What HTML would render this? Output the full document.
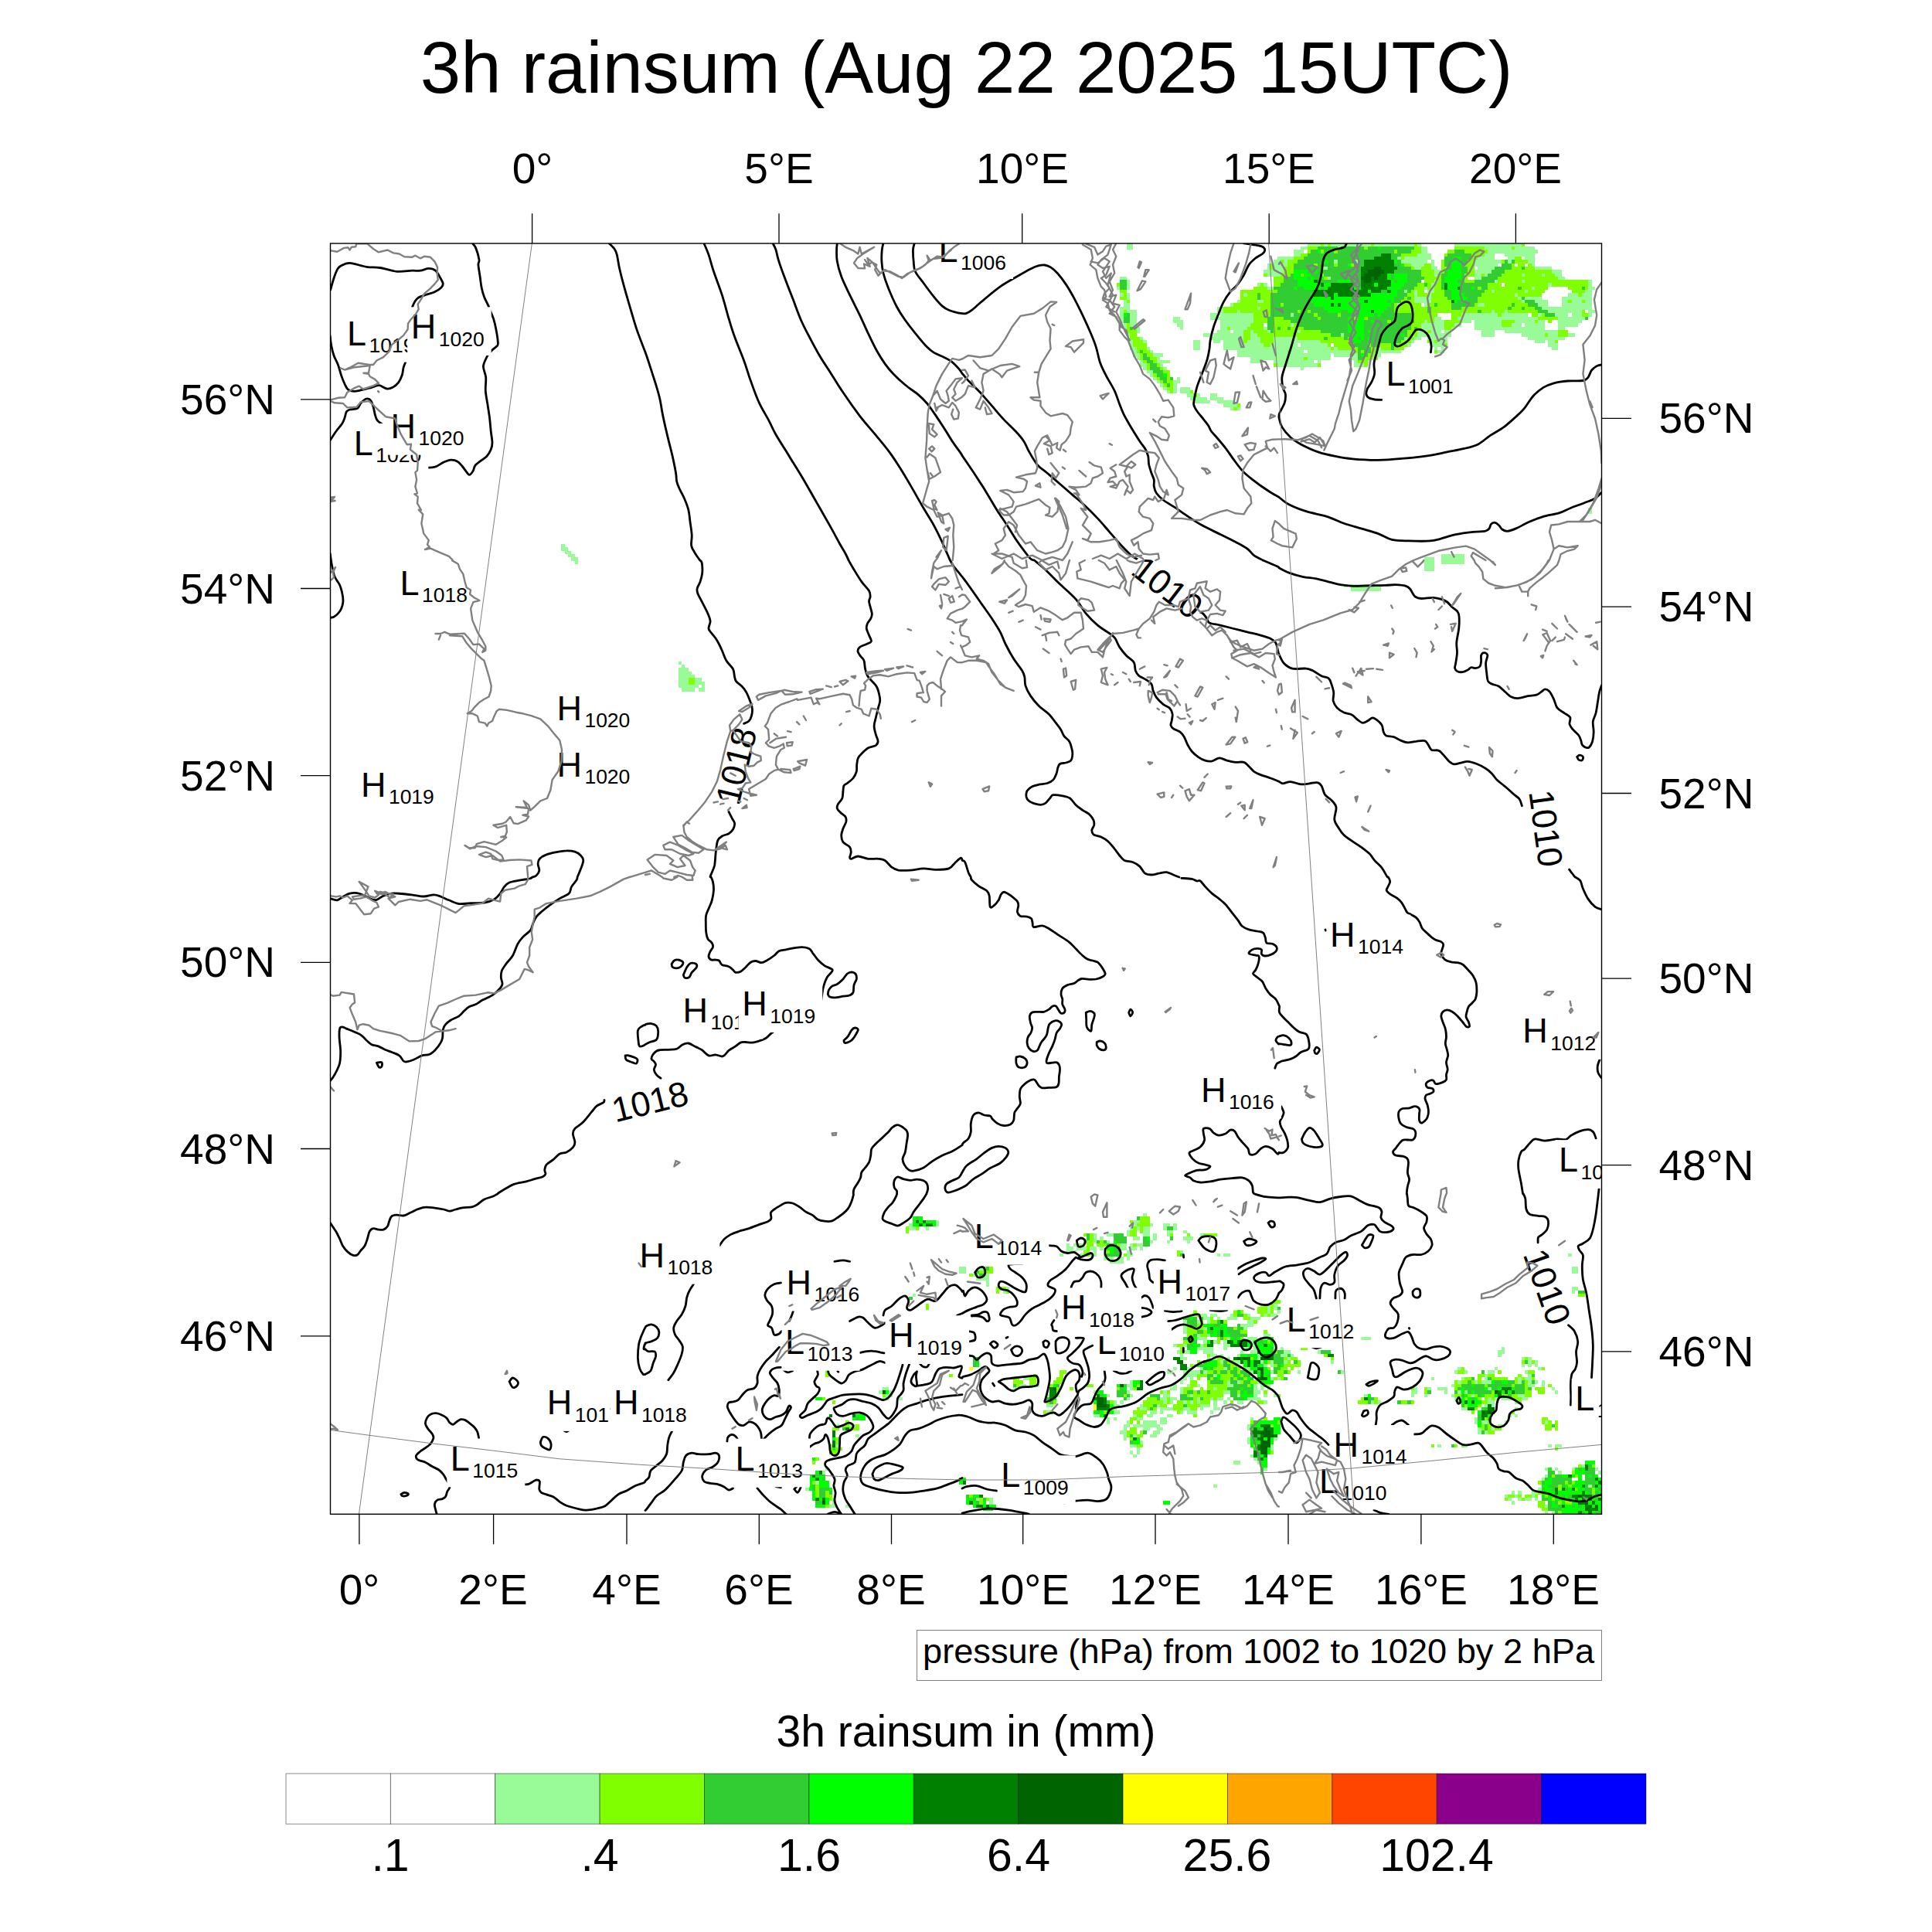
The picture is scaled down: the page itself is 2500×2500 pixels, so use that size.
<!DOCTYPE html>
<html><head><meta charset="utf-8"><title>3h rainsum</title>
<style>
html,body{margin:0;padding:0;background:#fff;width:2500px;height:2500px;overflow:hidden}
svg{display:block}
text{font-family:"Liberation Sans",sans-serif;fill:#000}
.ax{font-size:55px}
.tk{stroke:#000;stroke-width:1.3;fill:none}
.ct{stroke:#000;stroke-width:2.8;fill:none;stroke-linejoin:round;stroke-linecap:round}
.cs{stroke:#808080;stroke-width:2.4;fill:none;stroke-linejoin:round;stroke-linecap:round}
.gr{stroke:#808080;stroke-width:1;fill:none}
</style></head><body>
<svg width="2500" height="2500" viewBox="0 0 2500 2500">
<rect width="2500" height="2500" fill="#fff"/>
<!-- TITLE -->
<text x="1250.6" y="119.8" font-size="94.2" text-anchor="middle">3h rainsum (Aug 22 2025 15UTC)</text>
<!-- TOP AXIS -->
<g class="ax" text-anchor="middle">
<text x="689" y="236.6">0°</text><text x="1008" y="236.6">5°E</text><text x="1323" y="236.6">10°E</text><text x="1642" y="236.6">15°E</text><text x="1961" y="236.6">20°E</text>
</g>
<path class="tk" d="M688.6 276.3V315M1008 276.3V315M1322.7 276.3V315M1642.2 276.3V315M1961.4 276.3V315"/>
<!-- BOTTOM AXIS -->
<g class="ax" text-anchor="middle">
<text x="465" y="2075.7">0°</text><text x="638" y="2075.7">2°E</text><text x="811" y="2075.7">4°E</text><text x="982" y="2075.7">6°E</text><text x="1153" y="2075.7">8°E</text><text x="1324" y="2075.7">10°E</text><text x="1495" y="2075.7">12°E</text><text x="1667" y="2075.7">14°E</text><text x="1839" y="2075.7">16°E</text><text x="2010" y="2075.7">18°E</text>
</g>
<path class="tk" d="M464.9 1959V1998.3M638.6 1959V1998.3M811 1959V1998.3M982.3 1959V1998.3M1153.5 1959V1998.3M1323.7 1959V1998.3M1495 1959V1998.3M1667 1959V1998.3M1838.9 1959V1998.3M2010.3 1959V1998.3"/>
<!-- LEFT AXIS -->
<g class="ax" text-anchor="end">
<text x="356" y="535.8">56°N</text><text x="356" y="780.5">54°N</text><text x="356" y="1022.7">52°N</text><text x="356" y="1264.4">50°N</text><text x="356" y="1505.5">48°N</text><text x="356" y="1747.8">46°N</text>
</g>
<path class="tk" d="M389 516.8H428M389 761.5H428M389 1003.7H428M389 1245.4H428M389 1486.5H428M389 1728.8H428"/>
<!-- RIGHT AXIS -->
<g class="ax" text-anchor="start">
<text x="2146.5" y="560.4">56°N</text><text x="2146.5" y="804.1">54°N</text><text x="2146.5" y="1045.5">52°N</text><text x="2146.5" y="1285.2">50°N</text><text x="2146.5" y="1526.7">48°N</text><text x="2146.5" y="1767.8">46°N</text>
</g>
<path class="tk" d="M2072 541.4H2111M2072 785.1H2111M2072 1026.5H2111M2072 1266.2H2111M2072 1507.7H2111M2072 1748.8H2111"/>
<!-- MAP -->
<svg x="427.5" y="315" width="1645" height="1644.3" viewBox="427.5 315 1645 1644.3" overflow="hidden">
<g shape-rendering="crispEdges" stroke="none"><path fill="#98fb98" d="M1457.8 314.5H1466.4V318.8H1457.8zM1691.6 314.5H1708.9V318.8H1691.6zM1713.2 314.5H1717.5V318.8H1713.2zM1721.9 314.5H1773.8V318.8H1721.9zM1778.1 314.5H1830.1V318.8H1778.1zM1834.4 314.5H1838.7V318.8H1834.4zM1882.0 314.5H1968.6V318.8H1882.0zM1457.8 318.8H1466.4V323.2H1457.8zM1682.9 318.8H1691.6V323.2H1682.9zM1730.5 318.8H1734.8V323.2H1730.5zM1838.7 318.8H1847.4V323.2H1838.7zM1921.0 318.8H1955.6V323.2H1921.0zM1959.9 318.8H1985.9V323.2H1959.9zM1674.2 323.2H1687.2V327.5H1674.2zM1838.7 323.2H1847.4V327.5H1838.7zM1925.3 323.2H1990.2V327.5H1925.3zM1674.2 327.5H1682.9V331.8H1674.2zM1834.4 327.5H1851.7V331.8H1834.4zM1921.0 327.5H1934.0V331.8H1921.0zM1947.0 327.5H1985.9V331.8H1947.0zM1652.6 331.8H1674.2V336.1H1652.6zM1808.4 331.8H1812.8V336.1H1808.4zM1817.1 331.8H1851.7V336.1H1817.1zM1912.3 331.8H1934.0V336.1H1912.3zM1951.3 331.8H1959.9V336.1H1951.3zM1972.9 331.8H1985.9V336.1H1972.9zM1648.3 336.1H1656.9V340.5H1648.3zM1661.2 336.1H1665.6V340.5H1661.2zM1726.2 336.1H1730.5V340.5H1726.2zM1752.2 336.1H1756.5V340.5H1752.2zM1812.8 336.1H1847.4V340.5H1812.8zM1851.7 336.1H1856.1V340.5H1851.7zM1908.0 336.1H1942.6V340.5H1908.0zM1951.3 336.1H1955.6V340.5H1951.3zM1977.3 336.1H1985.9V340.5H1977.3zM1639.6 340.5H1643.9V344.8H1639.6zM1648.3 340.5H1665.6V344.8H1648.3zM1825.7 340.5H1843.1V344.8H1825.7zM1851.7 340.5H1856.1V344.8H1851.7zM1908.0 340.5H1938.3V344.8H1908.0zM1981.6 340.5H1985.9V344.8H1981.6zM1639.6 344.8H1643.9V349.1H1639.6zM1648.3 344.8H1661.2V349.1H1648.3zM1713.2 344.8H1717.5V349.1H1713.2zM1830.1 344.8H1838.7V349.1H1830.1zM1851.7 344.8H1860.4V349.1H1851.7zM1912.3 344.8H1934.0V349.1H1912.3zM1985.9 344.8H2007.6V349.1H1985.9zM1635.3 349.1H1661.2V353.5H1635.3zM1856.1 349.1H1864.7V353.5H1856.1zM1908.0 349.1H1929.6V353.5H1908.0zM2007.6 349.1H2020.6V353.5H2007.6zM1639.6 353.5H1656.9V357.8H1639.6zM1856.1 353.5H1860.4V357.8H1856.1zM1908.0 353.5H1916.7V357.8H1908.0zM1921.0 353.5H1925.3V357.8H1921.0zM1968.6 353.5H1972.9V357.8H1968.6zM1994.6 353.5H1998.9V357.8H1994.6zM2011.9 353.5H2020.6V357.8H2011.9zM1449.1 357.8H1457.8V362.1H1449.1zM1717.5 357.8H1721.9V362.1H1717.5zM1908.0 357.8H1916.7V362.1H1908.0zM2016.2 357.8H2024.9V362.1H2016.2zM1457.8 362.1H1462.1V366.4H1457.8zM1856.1 362.1H1860.4V366.4H1856.1zM1934.0 362.1H1938.3V366.4H1934.0zM1968.6 362.1H1972.9V366.4H1968.6zM2055.2 362.1H2059.5V366.4H2055.2zM1457.8 366.4H1462.1V370.8H1457.8zM1626.6 366.4H1630.9V370.8H1626.6zM1635.3 366.4H1639.6V370.8H1635.3zM1851.7 366.4H1856.1V370.8H1851.7zM2003.2 366.4H2007.6V370.8H2003.2zM2055.2 366.4H2059.5V370.8H2055.2zM1444.8 370.8H1449.1V375.1H1444.8zM1457.8 370.8H1462.1V375.1H1457.8zM1639.6 370.8H1648.3V375.1H1639.6zM1843.1 370.8H1847.4V375.1H1843.1zM1851.7 370.8H1856.1V375.1H1851.7zM1981.6 370.8H1985.9V375.1H1981.6zM2055.2 370.8H2063.8V375.1H2055.2zM1817.1 375.1H1821.4V379.4H1817.1zM1830.1 375.1H1834.4V379.4H1830.1zM1847.4 375.1H1856.1V379.4H1847.4zM1929.6 375.1H1934.0V379.4H1929.6zM1972.9 375.1H1977.3V379.4H1972.9zM2050.9 375.1H2059.5V379.4H2050.9zM1449.1 379.4H1453.5V383.8H1449.1zM1457.8 379.4H1462.1V383.8H1457.8zM1609.3 379.4H1613.6V383.8H1609.3zM1830.1 379.4H1834.4V383.8H1830.1zM1847.4 379.4H1851.7V383.8H1847.4zM1959.9 379.4H1964.3V383.8H1959.9zM2029.2 379.4H2042.2V383.8H2029.2zM2046.5 379.4H2059.5V383.8H2046.5zM1457.8 383.8H1462.1V388.1H1457.8zM1830.1 383.8H1851.7V388.1H1830.1zM1964.3 383.8H1968.6V388.1H1964.3zM1972.9 383.8H1994.6V388.1H1972.9zM2020.6 383.8H2059.5V388.1H2020.6zM1453.5 388.1H1457.8V392.4H1453.5zM1600.6 388.1H1605.0V392.4H1600.6zM1626.6 388.1H1635.3V392.4H1626.6zM1830.1 388.1H1851.7V392.4H1830.1zM1968.6 388.1H1972.9V392.4H1968.6zM1985.9 388.1H2003.2V392.4H1985.9zM2020.6 388.1H2029.2V392.4H2020.6zM2033.5 388.1H2046.5V392.4H2033.5zM2050.9 388.1H2059.5V392.4H2050.9zM1453.5 392.4H1462.1V396.8H1453.5zM1592.0 392.4H1596.3V396.8H1592.0zM1808.4 392.4H1812.8V396.8H1808.4zM1843.1 392.4H1847.4V396.8H1843.1zM1912.3 392.4H1921.0V396.8H1912.3zM1990.2 392.4H2003.2V396.8H1990.2zM2020.6 392.4H2059.5V396.8H2020.6zM1449.1 396.8H1462.1V401.1H1449.1zM1574.7 396.8H1583.3V401.1H1574.7zM1626.6 396.8H1630.9V401.1H1626.6zM1994.6 396.8H2059.5V401.1H1994.6zM1449.1 401.1H1453.5V405.4H1449.1zM1457.8 401.1H1470.8V405.4H1457.8zM1574.7 401.1H1583.3V405.4H1574.7zM1600.6 401.1H1605.0V405.4H1600.6zM1929.6 401.1H1934.0V405.4H1929.6zM1947.0 401.1H1951.3V405.4H1947.0zM2003.2 401.1H2046.5V405.4H2003.2zM2055.2 401.1H2063.8V405.4H2055.2zM1449.1 405.4H1453.5V409.7H1449.1zM1462.1 405.4H1470.8V409.7H1462.1zM1566.0 405.4H1574.7V409.7H1566.0zM1579.0 405.4H1622.3V409.7H1579.0zM1669.9 405.4H1674.2V409.7H1669.9zM1890.7 405.4H1938.3V409.7H1890.7zM1942.6 405.4H1977.3V409.7H1942.6zM1990.2 405.4H1994.6V409.7H1990.2zM2011.9 405.4H2029.2V409.7H2011.9zM2033.5 405.4H2046.5V409.7H2033.5zM2055.2 405.4H2059.5V409.7H2055.2zM1449.1 409.7H1453.5V414.1H1449.1zM1462.1 409.7H1470.8V414.1H1462.1zM1518.4 409.7H1527.1V414.1H1518.4zM1566.0 409.7H1622.3V414.1H1566.0zM1856.1 409.7H1864.7V414.1H1856.1zM1886.4 409.7H1990.2V414.1H1886.4zM2016.2 409.7H2050.9V414.1H2016.2zM1449.1 414.1H1453.5V418.4H1449.1zM1462.1 414.1H1470.8V418.4H1462.1zM1518.4 414.1H1531.4V418.4H1518.4zM1579.0 414.1H1622.3V418.4H1579.0zM1843.1 414.1H1847.4V418.4H1843.1zM1856.1 414.1H1869.0V418.4H1856.1zM1890.7 414.1H1903.7V418.4H1890.7zM1908.0 414.1H1942.6V418.4H1908.0zM1959.9 414.1H1985.9V418.4H1959.9zM1990.2 414.1H1998.9V418.4H1990.2zM2016.2 414.1H2046.5V418.4H2016.2zM1453.5 418.4H1457.8V422.7H1453.5zM1462.1 418.4H1470.8V422.7H1462.1zM1522.7 418.4H1531.4V422.7H1522.7zM1579.0 418.4H1618.0V422.7H1579.0zM1669.9 418.4H1674.2V422.7H1669.9zM1838.7 418.4H1869.0V422.7H1838.7zM1882.0 418.4H1890.7V422.7H1882.0zM1908.0 418.4H1942.6V422.7H1908.0zM1955.6 418.4H1968.6V422.7H1955.6zM1972.9 418.4H1998.9V422.7H1972.9zM2016.2 418.4H2042.2V422.7H2016.2zM1453.5 422.7H1457.8V427.1H1453.5zM1470.8 422.7H1475.1V427.1H1470.8zM1527.1 422.7H1531.4V427.1H1527.1zM1579.0 422.7H1587.7V427.1H1579.0zM1592.0 422.7H1613.6V427.1H1592.0zM1635.3 422.7H1639.6V427.1H1635.3zM1838.7 422.7H1869.0V427.1H1838.7zM1877.7 422.7H1882.0V427.1H1877.7zM1908.0 422.7H1998.9V427.1H1908.0zM2016.2 422.7H2024.9V427.1H2016.2zM1470.8 427.1H1475.1V431.4H1470.8zM1574.7 427.1H1592.0V431.4H1574.7zM1596.3 427.1H1609.3V431.4H1596.3zM1618.0 427.1H1622.3V431.4H1618.0zM1639.6 427.1H1643.9V431.4H1639.6zM1678.6 427.1H1682.9V431.4H1678.6zM1834.4 427.1H1847.4V431.4H1834.4zM1851.7 427.1H1864.7V431.4H1851.7zM1869.0 427.1H1877.7V431.4H1869.0zM1916.7 427.1H1934.0V431.4H1916.7zM1947.0 427.1H2016.2V431.4H1947.0zM1457.8 431.4H1462.1V435.7H1457.8zM1557.4 431.4H1566.0V435.7H1557.4zM1570.3 431.4H1609.3V435.7H1570.3zM1618.0 431.4H1626.6V435.7H1618.0zM1734.8 431.4H1739.2V435.7H1734.8zM1825.7 431.4H1830.1V435.7H1825.7zM1834.4 431.4H1877.7V435.7H1834.4zM1916.7 431.4H1934.0V435.7H1916.7zM1968.6 431.4H1998.9V435.7H1968.6zM2003.2 431.4H2016.2V435.7H2003.2zM2029.2 431.4H2037.9V435.7H2029.2zM1475.1 435.7H1479.4V440.0H1475.1zM1566.0 435.7H1609.3V440.0H1566.0zM1618.0 435.7H1630.9V440.0H1618.0zM1648.3 435.7H1678.6V440.0H1648.3zM1817.1 435.7H1821.4V440.0H1817.1zM1830.1 435.7H1838.7V440.0H1830.1zM1847.4 435.7H1873.4V440.0H1847.4zM1977.3 435.7H2024.9V440.0H1977.3zM1462.1 440.0H1466.4V444.4H1462.1zM1479.4 440.0H1483.8V444.4H1479.4zM1544.4 440.0H1553.0V444.4H1544.4zM1570.3 440.0H1579.0V444.4H1570.3zM1583.3 440.0H1609.3V444.4H1583.3zM1613.6 440.0H1630.9V444.4H1613.6zM1648.3 440.0H1708.9V444.4H1648.3zM1825.7 440.0H1830.1V444.4H1825.7zM1851.7 440.0H1856.1V444.4H1851.7zM1860.4 440.0H1873.4V444.4H1860.4zM1985.9 440.0H1998.9V444.4H1985.9zM2003.2 440.0H2011.9V444.4H2003.2zM1462.1 444.4H1466.4V448.7H1462.1zM1544.4 444.4H1553.0V448.7H1544.4zM1583.3 444.4H1635.3V448.7H1583.3zM1643.9 444.4H1678.6V448.7H1643.9zM1682.9 444.4H1717.5V448.7H1682.9zM1821.4 444.4H1825.7V448.7H1821.4zM1851.7 444.4H1869.0V448.7H1851.7zM2003.2 444.4H2016.2V448.7H2003.2zM1462.1 448.7H1470.8V453.0H1462.1zM1483.8 448.7H1488.1V453.0H1483.8zM1544.4 448.7H1553.0V453.0H1544.4zM1583.3 448.7H1721.9V453.0H1583.3zM1726.2 448.7H1730.5V453.0H1726.2zM1782.5 448.7H1786.8V453.0H1782.5zM1856.1 448.7H1860.4V453.0H1856.1zM1864.7 448.7H1869.0V453.0H1864.7zM2007.6 448.7H2016.2V453.0H2007.6zM1466.4 453.0H1470.8V457.4H1466.4zM1488.1 453.0H1492.4V457.4H1488.1zM1600.6 453.0H1665.6V457.4H1600.6zM1669.9 453.0H1687.2V457.4H1669.9zM1691.6 453.0H1752.2V457.4H1691.6zM1782.5 453.0H1812.8V457.4H1782.5zM1860.4 453.0H1869.0V457.4H1860.4zM1466.4 457.4H1475.1V461.7H1466.4zM1492.4 457.4H1505.4V461.7H1492.4zM1600.6 457.4H1721.9V461.7H1600.6zM1726.2 457.4H1756.5V461.7H1726.2zM1778.1 457.4H1786.8V461.7H1778.1zM1856.1 457.4H1860.4V461.7H1856.1zM1470.8 461.7H1475.1V466.0H1470.8zM1496.8 461.7H1501.1V466.0H1496.8zM1618.0 461.7H1687.2V466.0H1618.0zM1691.6 461.7H1721.9V466.0H1691.6zM1747.8 461.7H1756.5V466.0H1747.8zM1773.8 461.7H1778.1V466.0H1773.8zM1475.1 466.0H1479.4V470.3H1475.1zM1496.8 466.0H1514.1V470.3H1496.8zM1618.0 466.0H1630.9V470.3H1618.0zM1648.3 466.0H1700.2V470.3H1648.3zM1704.5 466.0H1708.9V470.3H1704.5zM1752.2 466.0H1756.5V470.3H1752.2zM1769.5 466.0H1773.8V470.3H1769.5zM1475.1 470.3H1483.8V474.7H1475.1zM1501.1 470.3H1505.4V474.7H1501.1zM1652.6 470.3H1704.5V474.7H1652.6zM1752.2 470.3H1765.1V474.7H1752.2zM1479.4 474.7H1483.8V479.0H1479.4zM1505.4 474.7H1509.7V479.0H1505.4zM1682.9 474.7H1687.2V479.0H1682.9zM1483.8 479.0H1492.4V483.3H1483.8zM1488.1 483.3H1492.4V487.7H1488.1zM1492.4 487.7H1496.8V492.0H1492.4zM1522.7 487.7H1527.1V492.0H1522.7zM1496.8 492.0H1501.1V496.3H1496.8zM1518.4 492.0H1527.1V496.3H1518.4zM1501.1 496.3H1505.4V500.6H1501.1zM1518.4 496.3H1522.7V500.6H1518.4zM1505.4 500.6H1509.7V505.0H1505.4zM1518.4 500.6H1522.7V505.0H1518.4zM1527.1 500.6H1540.0V505.0H1527.1zM1509.7 505.0H1514.1V509.3H1509.7zM1518.4 505.0H1522.7V509.3H1518.4zM1527.1 505.0H1540.0V509.3H1527.1zM1535.7 509.3H1544.4V513.6H1535.7zM1548.7 509.3H1553.0V513.6H1548.7zM1566.0 509.3H1574.7V513.6H1566.0zM1540.0 513.6H1561.7V518.0H1540.0zM1566.0 513.6H1583.3V518.0H1566.0zM1544.4 518.0H1566.0V522.3H1544.4zM1574.7 518.0H1596.3V522.3H1574.7zM1583.3 522.3H1600.6V526.6H1583.3zM1592.0 526.6H1596.3V530.9H1592.0zM1600.6 526.6H1605.0V530.9H1600.6zM2055.2 656.5H2059.5V660.8H2055.2zM2055.2 660.8H2059.5V665.1H2055.2zM726.2 704.1H730.5V708.4H726.2zM726.2 708.4H734.9V712.8H726.2zM730.5 712.8H739.2V717.1H730.5zM734.9 717.1H743.5V721.4H734.9zM1864.7 717.1H1895.0V721.4H1864.7zM739.2 721.4H747.8V725.8H739.2zM1843.1 721.4H1856.1V725.8H1843.1zM1864.7 721.4H1895.0V725.8H1864.7zM743.5 725.8H747.8V730.1H743.5zM1843.1 725.8H1856.1V730.1H1843.1zM1864.7 725.8H1895.0V730.1H1864.7zM1843.1 730.1H1856.1V734.4H1843.1zM1843.1 734.4H1856.1V738.7H1843.1zM1739.2 756.1H1743.5V760.4H1739.2zM1747.8 756.1H1765.1V760.4H1747.8zM1769.5 756.1H1786.8V760.4H1769.5zM1747.8 760.4H1786.8V764.7H1747.8zM877.7 855.6H882.0V859.9H877.7zM882.0 859.9H886.4V864.3H882.0zM877.7 864.3H890.7V868.6H877.7zM877.7 868.6H895.0V872.9H877.7zM877.7 872.9H899.4V877.3H877.7zM877.7 877.3H890.7V881.6H877.7zM899.4 877.3H908.0V881.6H899.4zM877.7 881.6H890.7V885.9H877.7zM899.4 881.6H912.3V885.9H899.4zM877.7 885.9H903.7V890.2H877.7zM908.0 885.9H912.3V890.2H908.0zM882.0 890.2H899.4V894.6H882.0zM903.7 890.2H912.3V894.6H903.7zM1479.4 1569.9H1483.8V1574.2H1479.4zM1211.0 1578.6H1215.4V1582.9H1211.0zM1466.4 1578.6H1475.1V1582.9H1466.4zM1176.4 1582.9H1180.7V1587.2H1176.4zM1211.0 1582.9H1215.4V1587.2H1211.0zM1466.4 1582.9H1470.8V1587.2H1466.4zM1488.1 1582.9H1492.4V1587.2H1488.1zM1505.4 1582.9H1514.1V1587.2H1505.4zM1518.4 1582.9H1522.7V1587.2H1518.4zM1176.4 1587.2H1185.1V1591.5H1176.4zM1198.1 1587.2H1202.4V1591.5H1198.1zM1462.1 1587.2H1466.4V1591.5H1462.1zM1470.8 1587.2H1475.1V1591.5H1470.8zM1479.4 1587.2H1488.1V1591.5H1479.4zM1505.4 1587.2H1509.7V1591.5H1505.4zM1518.4 1587.2H1522.7V1591.5H1518.4zM1457.8 1591.5H1462.1V1595.9H1457.8zM1479.4 1591.5H1488.1V1595.9H1479.4zM1509.7 1591.5H1518.4V1595.9H1509.7zM1531.4 1591.5H1535.7V1595.9H1531.4zM1414.5 1595.9H1418.8V1600.2H1414.5zM1431.8 1595.9H1440.5V1600.2H1431.8zM1457.8 1595.9H1462.1V1600.2H1457.8zM1479.4 1595.9H1488.1V1600.2H1479.4zM1492.4 1595.9H1496.8V1600.2H1492.4zM1509.7 1595.9H1514.1V1600.2H1509.7zM1553.0 1595.9H1557.4V1600.2H1553.0zM1414.5 1600.2H1418.8V1604.5H1414.5zM1423.2 1600.2H1427.5V1604.5H1423.2zM1466.4 1600.2H1475.1V1604.5H1466.4zM1492.4 1600.2H1496.8V1604.5H1492.4zM1531.4 1600.2H1544.4V1604.5H1531.4zM1414.5 1604.5H1418.8V1608.9H1414.5zM1431.8 1604.5H1436.1V1608.9H1431.8zM1488.1 1604.5H1492.4V1608.9H1488.1zM1509.7 1604.5H1514.1V1608.9H1509.7zM1535.7 1604.5H1540.0V1608.9H1535.7zM1379.9 1608.9H1384.2V1613.2H1379.9zM1388.5 1608.9H1392.9V1613.2H1388.5zM1397.2 1608.9H1401.5V1613.2H1397.2zM1449.1 1608.9H1457.8V1613.2H1449.1zM1462.1 1608.9H1466.4V1613.2H1462.1zM1470.8 1608.9H1479.4V1613.2H1470.8zM1379.9 1613.2H1388.5V1617.5H1379.9zM1392.9 1613.2H1405.8V1617.5H1392.9zM1410.2 1613.2H1418.8V1617.5H1410.2zM1423.2 1613.2H1427.5V1617.5H1423.2zM1449.1 1613.2H1457.8V1617.5H1449.1zM1462.1 1613.2H1470.8V1617.5H1462.1zM1475.1 1613.2H1479.4V1617.5H1475.1zM1379.9 1617.5H1392.9V1621.8H1379.9zM1414.5 1617.5H1418.8V1621.8H1414.5zM1457.8 1617.5H1462.1V1621.8H1457.8zM1527.1 1617.5H1531.4V1621.8H1527.1zM1371.2 1621.8H1375.5V1626.2H1371.2zM1397.2 1621.8H1401.5V1626.2H1397.2zM1410.2 1621.8H1418.8V1626.2H1410.2zM1427.5 1621.8H1431.8V1626.2H1427.5zM1457.8 1621.8H1466.4V1626.2H1457.8zM1574.7 1621.8H1579.0V1626.2H1574.7zM1583.3 1621.8H1592.0V1626.2H1583.3zM2029.2 1621.8H2033.5V1626.2H2029.2zM1427.5 1626.2H1440.5V1630.5H1427.5zM1444.8 1626.2H1453.5V1630.5H1444.8zM1457.8 1626.2H1462.1V1630.5H1457.8zM1436.1 1630.5H1453.5V1634.8H1436.1zM1241.3 1639.2H1250.0V1643.5H1241.3zM1267.3 1639.2H1271.6V1643.5H1267.3zM2033.5 1639.2H2042.2V1643.5H2033.5zM1241.3 1643.5H1250.0V1647.8H1241.3zM2033.5 1643.5H2042.2V1647.8H2033.5zM1258.7 1647.8H1267.3V1652.1H1258.7zM1271.6 1647.8H1280.3V1652.1H1271.6zM1263.0 1652.1H1280.3V1656.5H1263.0zM1276.0 1656.5H1280.3V1660.8H1276.0zM1276.0 1660.8H1280.3V1665.1H1276.0zM1301.9 1665.1H1306.3V1669.5H1301.9zM2033.5 1665.1H2042.2V1669.5H2033.5zM1297.6 1669.5H1301.9V1673.8H1297.6zM2033.5 1669.5H2037.9V1673.8H2033.5zM1180.7 1673.8H1185.1V1678.1H1180.7zM1630.9 1686.8H1635.3V1691.1H1630.9zM1639.6 1686.8H1643.9V1691.1H1639.6zM1648.3 1686.8H1652.6V1691.1H1648.3zM1639.6 1691.1H1643.9V1695.4H1639.6zM1648.3 1691.1H1652.6V1695.4H1648.3zM1639.6 1695.4H1643.9V1699.8H1639.6zM1652.6 1695.4H1656.9V1699.8H1652.6zM1544.4 1699.8H1548.7V1704.1H1544.4zM1553.0 1699.8H1561.7V1704.1H1553.0zM1566.0 1699.8H1574.7V1704.1H1566.0zM1592.0 1699.8H1596.3V1704.1H1592.0zM1613.6 1699.8H1618.0V1704.1H1613.6zM1635.3 1699.8H1639.6V1704.1H1635.3zM1643.9 1699.8H1652.6V1704.1H1643.9zM1557.4 1704.1H1566.0V1708.4H1557.4zM1574.7 1704.1H1579.0V1708.4H1574.7zM1587.7 1704.1H1600.6V1708.4H1587.7zM1618.0 1704.1H1630.9V1708.4H1618.0zM1531.4 1708.4H1535.7V1712.7H1531.4zM1548.7 1708.4H1553.0V1712.7H1548.7zM1561.7 1708.4H1566.0V1712.7H1561.7zM1613.6 1708.4H1622.3V1712.7H1613.6zM1531.4 1712.7H1535.7V1717.1H1531.4zM1605.0 1712.7H1622.3V1717.1H1605.0zM1531.4 1717.1H1535.7V1721.4H1531.4zM1557.4 1717.1H1561.7V1721.4H1557.4zM1609.3 1717.1H1613.6V1721.4H1609.3zM1531.4 1721.4H1535.7V1725.7H1531.4zM1548.7 1725.7H1553.0V1730.1H1548.7zM1561.7 1725.7H1566.0V1730.1H1561.7zM1635.3 1725.7H1643.9V1730.1H1635.3zM1548.7 1730.1H1561.7V1734.4H1548.7zM1587.7 1730.1H1592.0V1734.4H1587.7zM1613.6 1730.1H1626.6V1734.4H1613.6zM1630.9 1730.1H1639.6V1734.4H1630.9zM1760.8 1730.1H1773.8V1734.4H1760.8zM1557.4 1734.4H1561.7V1738.7H1557.4zM1570.3 1734.4H1574.7V1738.7H1570.3zM1583.3 1734.4H1587.7V1738.7H1583.3zM1618.0 1734.4H1622.3V1738.7H1618.0zM1518.4 1738.7H1522.7V1743.1H1518.4zM1531.4 1738.7H1535.7V1743.1H1531.4zM1553.0 1738.7H1557.4V1743.1H1553.0zM1583.3 1738.7H1592.0V1743.1H1583.3zM1618.0 1738.7H1626.6V1743.1H1618.0zM1648.3 1738.7H1652.6V1743.1H1648.3zM1548.7 1743.1H1570.3V1747.4H1548.7zM1583.3 1743.1H1587.7V1747.4H1583.3zM1609.3 1743.1H1618.0V1747.4H1609.3zM1622.3 1743.1H1626.6V1747.4H1622.3zM1648.3 1743.1H1652.6V1747.4H1648.3zM1656.9 1743.1H1661.2V1747.4H1656.9zM1942.6 1743.1H1947.0V1747.4H1942.6zM1522.7 1747.4H1527.1V1751.7H1522.7zM1531.4 1747.4H1540.0V1751.7H1531.4zM1557.4 1747.4H1570.3V1751.7H1557.4zM1605.0 1747.4H1609.3V1751.7H1605.0zM1618.0 1747.4H1626.6V1751.7H1618.0zM1661.2 1747.4H1669.9V1751.7H1661.2zM1704.5 1747.4H1708.9V1751.7H1704.5zM1938.3 1747.4H1947.0V1751.7H1938.3zM1527.1 1751.7H1531.4V1756.0H1527.1zM1566.0 1751.7H1574.7V1756.0H1566.0zM1579.0 1751.7H1583.3V1756.0H1579.0zM1600.6 1751.7H1605.0V1756.0H1600.6zM1626.6 1751.7H1630.9V1756.0H1626.6zM1656.9 1751.7H1665.6V1756.0H1656.9zM1669.9 1751.7H1674.2V1756.0H1669.9zM1938.3 1751.7H1942.6V1756.0H1938.3zM1527.1 1756.0H1535.7V1760.4H1527.1zM1561.7 1756.0H1566.0V1760.4H1561.7zM1570.3 1756.0H1574.7V1760.4H1570.3zM1587.7 1756.0H1592.0V1760.4H1587.7zM1626.6 1756.0H1630.9V1760.4H1626.6zM1665.6 1756.0H1669.9V1760.4H1665.6zM1968.6 1756.0H1972.9V1760.4H1968.6zM1977.3 1756.0H1981.6V1760.4H1977.3zM1579.0 1760.4H1583.3V1764.7H1579.0zM1596.3 1760.4H1605.0V1764.7H1596.3zM1630.9 1760.4H1635.3V1764.7H1630.9zM1643.9 1760.4H1648.3V1764.7H1643.9zM1661.2 1760.4H1665.6V1764.7H1661.2zM1721.9 1760.4H1726.2V1764.7H1721.9zM1977.3 1760.4H1981.6V1764.7H1977.3zM1985.9 1760.4H1990.2V1764.7H1985.9zM1544.4 1764.7H1548.7V1769.0H1544.4zM1635.3 1764.7H1639.6V1769.0H1635.3zM1643.9 1764.7H1648.3V1769.0H1643.9zM1968.6 1764.7H1972.9V1769.0H1968.6zM1977.3 1764.7H1981.6V1769.0H1977.3zM1985.9 1764.7H1990.2V1769.0H1985.9zM1518.4 1769.0H1522.7V1773.4H1518.4zM1535.7 1769.0H1540.0V1773.4H1535.7zM1553.0 1769.0H1557.4V1773.4H1553.0zM1583.3 1769.0H1587.7V1773.4H1583.3zM1609.3 1769.0H1618.0V1773.4H1609.3zM1886.4 1769.0H1890.7V1773.4H1886.4zM1934.0 1769.0H1938.3V1773.4H1934.0zM1990.2 1769.0H1994.6V1773.4H1990.2zM1509.7 1773.4H1518.4V1777.7H1509.7zM1531.4 1773.4H1553.0V1777.7H1531.4zM1557.4 1773.4H1561.7V1777.7H1557.4zM1618.0 1773.4H1622.3V1777.7H1618.0zM1643.9 1773.4H1648.3V1777.7H1643.9zM1678.6 1773.4H1682.9V1777.7H1678.6zM1734.8 1773.4H1739.2V1777.7H1734.8zM1882.0 1773.4H1886.4V1777.7H1882.0zM1895.0 1773.4H1899.3V1777.7H1895.0zM1925.3 1773.4H1934.0V1777.7H1925.3zM1972.9 1773.4H1977.3V1777.7H1972.9zM1531.4 1777.7H1548.7V1782.0H1531.4zM1570.3 1777.7H1574.7V1782.0H1570.3zM1921.0 1777.7H1925.3V1782.0H1921.0zM1977.3 1777.7H1981.6V1782.0H1977.3zM1323.6 1782.0H1332.2V1786.3H1323.6zM1531.4 1782.0H1535.7V1786.3H1531.4zM1540.0 1782.0H1544.4V1786.3H1540.0zM1643.9 1782.0H1648.3V1786.3H1643.9zM1652.6 1782.0H1656.9V1786.3H1652.6zM1851.7 1782.0H1856.1V1786.3H1851.7zM1890.7 1782.0H1895.0V1786.3H1890.7zM1921.0 1782.0H1925.3V1786.3H1921.0zM1964.3 1782.0H1968.6V1786.3H1964.3zM1972.9 1782.0H1981.6V1786.3H1972.9zM1462.1 1786.3H1466.4V1790.7H1462.1zM1527.1 1786.3H1531.4V1790.7H1527.1zM1587.7 1786.3H1592.0V1790.7H1587.7zM1600.6 1786.3H1605.0V1790.7H1600.6zM1626.6 1786.3H1630.9V1790.7H1626.6zM1886.4 1786.3H1890.7V1790.7H1886.4zM1908.0 1786.3H1912.3V1790.7H1908.0zM1916.7 1786.3H1929.6V1790.7H1916.7zM1964.3 1786.3H1968.6V1790.7H1964.3zM1977.3 1786.3H1981.6V1790.7H1977.3zM1985.9 1786.3H1990.2V1790.7H1985.9zM1994.6 1786.3H1998.9V1790.7H1994.6zM1319.3 1790.7H1327.9V1795.0H1319.3zM1336.6 1790.7H1345.2V1795.0H1336.6zM1457.8 1790.7H1466.4V1795.0H1457.8zM1518.4 1790.7H1522.7V1795.0H1518.4zM1535.7 1790.7H1540.0V1795.0H1535.7zM1548.7 1790.7H1553.0V1795.0H1548.7zM1587.7 1790.7H1596.3V1795.0H1587.7zM1622.3 1790.7H1626.6V1795.0H1622.3zM1630.9 1790.7H1635.3V1795.0H1630.9zM1639.6 1790.7H1643.9V1795.0H1639.6zM1877.7 1790.7H1882.0V1795.0H1877.7zM1977.3 1790.7H1985.9V1795.0H1977.3zM1994.6 1790.7H1998.9V1795.0H1994.6zM1141.8 1795.0H1150.4V1799.3H1141.8zM1310.6 1795.0H1314.9V1799.3H1310.6zM1462.1 1795.0H1466.4V1799.3H1462.1zM1514.1 1795.0H1522.7V1799.3H1514.1zM1527.1 1795.0H1531.4V1799.3H1527.1zM1570.3 1795.0H1574.7V1799.3H1570.3zM1622.3 1795.0H1626.6V1799.3H1622.3zM1630.9 1795.0H1635.3V1799.3H1630.9zM1639.6 1795.0H1643.9V1799.3H1639.6zM1830.1 1795.0H1834.4V1799.3H1830.1zM1847.4 1795.0H1851.7V1799.3H1847.4zM1860.4 1795.0H1873.4V1799.3H1860.4zM1925.3 1795.0H1929.6V1799.3H1925.3zM2007.6 1795.0H2011.9V1799.3H2007.6zM1137.4 1799.3H1141.8V1803.7H1137.4zM1150.4 1799.3H1154.8V1803.7H1150.4zM1414.5 1799.3H1418.8V1803.7H1414.5zM1457.8 1799.3H1462.1V1803.7H1457.8zM1505.4 1799.3H1509.7V1803.7H1505.4zM1527.1 1799.3H1531.4V1803.7H1527.1zM1583.3 1799.3H1592.0V1803.7H1583.3zM1622.3 1799.3H1630.9V1803.7H1622.3zM1825.7 1799.3H1834.4V1803.7H1825.7zM1869.0 1799.3H1873.4V1803.7H1869.0zM1886.4 1799.3H1890.7V1803.7H1886.4zM1895.0 1799.3H1899.3V1803.7H1895.0zM2011.9 1799.3H2016.2V1803.7H2011.9zM1146.1 1803.7H1154.8V1808.0H1146.1zM1353.9 1803.7H1358.2V1808.0H1353.9zM1366.9 1803.7H1371.2V1808.0H1366.9zM1431.8 1803.7H1436.1V1808.0H1431.8zM1462.1 1803.7H1466.4V1808.0H1462.1zM1505.4 1803.7H1514.1V1808.0H1505.4zM1540.0 1803.7H1544.4V1808.0H1540.0zM1600.6 1803.7H1605.0V1808.0H1600.6zM1622.3 1803.7H1626.6V1808.0H1622.3zM1635.3 1803.7H1639.6V1808.0H1635.3zM1648.3 1803.7H1652.6V1808.0H1648.3zM1765.1 1803.7H1769.5V1808.0H1765.1zM1825.7 1803.7H1830.1V1808.0H1825.7zM1843.1 1803.7H1847.4V1808.0H1843.1zM1877.7 1803.7H1882.0V1808.0H1877.7zM1903.7 1803.7H1908.0V1808.0H1903.7zM1964.3 1803.7H1972.9V1808.0H1964.3zM1141.8 1808.0H1150.4V1812.3H1141.8zM1163.4 1808.0H1167.8V1812.3H1163.4zM1457.8 1808.0H1462.1V1812.3H1457.8zM1501.1 1808.0H1509.7V1812.3H1501.1zM1514.1 1808.0H1522.7V1812.3H1514.1zM1548.7 1808.0H1553.0V1812.3H1548.7zM1566.0 1808.0H1570.3V1812.3H1566.0zM1574.7 1808.0H1583.3V1812.3H1574.7zM1587.7 1808.0H1592.0V1812.3H1587.7zM1613.6 1808.0H1630.9V1812.3H1613.6zM1882.0 1808.0H1886.4V1812.3H1882.0zM1925.3 1808.0H1929.6V1812.3H1925.3zM1934.0 1808.0H1938.3V1812.3H1934.0zM1942.6 1808.0H1955.6V1812.3H1942.6zM1968.6 1808.0H1977.3V1812.3H1968.6zM1440.5 1812.3H1444.8V1816.6H1440.5zM1449.1 1812.3H1453.5V1816.6H1449.1zM1505.4 1812.3H1509.7V1816.6H1505.4zM1514.1 1812.3H1518.4V1816.6H1514.1zM1531.4 1812.3H1535.7V1816.6H1531.4zM1540.0 1812.3H1544.4V1816.6H1540.0zM1548.7 1812.3H1553.0V1816.6H1548.7zM1570.3 1812.3H1574.7V1816.6H1570.3zM1583.3 1812.3H1587.7V1816.6H1583.3zM1600.6 1812.3H1609.3V1816.6H1600.6zM1635.3 1812.3H1639.6V1816.6H1635.3zM1773.8 1812.3H1778.1V1816.6H1773.8zM1782.5 1812.3H1786.8V1816.6H1782.5zM1925.3 1812.3H1934.0V1816.6H1925.3zM1959.9 1812.3H1964.3V1816.6H1959.9zM1353.9 1816.6H1362.6V1821.0H1353.9zM1440.5 1816.6H1449.1V1821.0H1440.5zM1475.1 1816.6H1479.4V1821.0H1475.1zM1496.8 1816.6H1501.1V1821.0H1496.8zM1553.0 1816.6H1566.0V1821.0H1553.0zM1570.3 1816.6H1574.7V1821.0H1570.3zM1921.0 1816.6H1925.3V1821.0H1921.0zM1929.6 1816.6H1934.0V1821.0H1929.6zM1440.5 1821.0H1444.8V1825.3H1440.5zM1475.1 1821.0H1483.8V1825.3H1475.1zM1501.1 1821.0H1518.4V1825.3H1501.1zM1531.4 1821.0H1540.0V1825.3H1531.4zM1553.0 1821.0H1557.4V1825.3H1553.0zM1570.3 1821.0H1579.0V1825.3H1570.3zM1890.7 1821.0H1899.3V1825.3H1890.7zM1959.9 1821.0H1964.3V1825.3H1959.9zM1353.9 1825.3H1358.2V1829.6H1353.9zM1440.5 1825.3H1449.1V1829.6H1440.5zM1488.1 1825.3H1496.8V1829.6H1488.1zM1501.1 1825.3H1505.4V1829.6H1501.1zM1527.1 1825.3H1531.4V1829.6H1527.1zM1535.7 1825.3H1548.7V1829.6H1535.7zM1566.0 1825.3H1570.3V1829.6H1566.0zM1414.5 1829.6H1423.2V1834.0H1414.5zM1466.4 1829.6H1470.8V1834.0H1466.4zM1483.8 1829.6H1492.4V1834.0H1483.8zM1509.7 1829.6H1518.4V1834.0H1509.7zM1951.3 1829.6H1955.6V1834.0H1951.3zM1959.9 1829.6H1964.3V1834.0H1959.9zM1431.8 1834.0H1436.1V1838.3H1431.8zM1440.5 1834.0H1444.8V1838.3H1440.5zM1470.8 1834.0H1479.4V1838.3H1470.8zM1501.1 1834.0H1509.7V1838.3H1501.1zM1618.0 1834.0H1622.3V1838.3H1618.0zM1630.9 1834.0H1635.3V1838.3H1630.9zM1908.0 1834.0H1912.3V1838.3H1908.0zM1431.8 1838.3H1436.1V1842.6H1431.8zM1457.8 1838.3H1462.1V1842.6H1457.8zM1479.4 1838.3H1496.8V1842.6H1479.4zM1501.1 1838.3H1509.7V1842.6H1501.1zM1908.0 1838.3H1912.3V1842.6H1908.0zM1916.7 1838.3H1925.3V1842.6H1916.7zM1947.0 1838.3H1951.3V1842.6H1947.0zM1998.9 1838.3H2003.2V1842.6H1998.9zM1081.2 1842.6H1085.5V1846.9H1081.2zM1098.5 1842.6H1107.1V1846.9H1098.5zM1453.5 1842.6H1462.1V1846.9H1453.5zM1466.4 1842.6H1501.1V1846.9H1466.4zM1613.6 1842.6H1618.0V1846.9H1613.6zM1938.3 1842.6H1947.0V1846.9H1938.3zM1453.5 1846.9H1457.8V1851.3H1453.5zM1479.4 1846.9H1488.1V1851.3H1479.4zM1496.8 1846.9H1505.4V1851.3H1496.8zM1613.6 1846.9H1618.0V1851.3H1613.6zM1912.3 1846.9H1916.7V1851.3H1912.3zM1929.6 1846.9H1934.0V1851.3H1929.6zM1449.1 1851.3H1457.8V1855.6H1449.1zM1492.4 1851.3H1501.1V1855.6H1492.4zM1912.3 1851.3H1916.7V1855.6H1912.3zM1921.0 1851.3H1925.3V1855.6H1921.0zM1107.1 1855.6H1111.5V1859.9H1107.1zM1453.5 1855.6H1457.8V1859.9H1453.5zM1466.4 1855.6H1470.8V1859.9H1466.4zM1488.1 1855.6H1496.8V1859.9H1488.1zM1453.5 1859.9H1457.8V1864.3H1453.5zM1613.6 1859.9H1618.0V1864.3H1613.6zM1648.3 1859.9H1652.6V1864.3H1648.3zM1475.1 1864.3H1479.4V1868.6H1475.1zM1613.6 1864.3H1618.0V1868.6H1613.6zM1081.2 1868.6H1085.5V1872.9H1081.2zM1462.1 1868.6H1470.8V1872.9H1462.1zM1643.9 1868.6H1648.3V1872.9H1643.9zM1860.4 1868.6H1864.7V1872.9H1860.4zM1895.0 1868.6H1899.3V1872.9H1895.0zM2003.2 1868.6H2007.6V1872.9H2003.2zM2011.9 1868.6H2020.6V1872.9H2011.9zM1470.8 1872.9H1475.1V1877.2H1470.8zM1643.9 1872.9H1648.3V1877.2H1643.9zM1462.1 1877.2H1466.4V1881.6H1462.1zM1470.8 1877.2H1475.1V1881.6H1470.8zM1466.4 1881.6H1470.8V1885.9H1466.4zM1618.0 1881.6H1622.3V1885.9H1618.0zM1622.3 1885.9H1626.6V1890.2H1622.3zM1596.3 1890.2H1605.0V1894.6H1596.3zM1626.6 1890.2H1630.9V1894.6H1626.6zM2046.5 1894.6H2050.9V1898.9H2046.5zM1068.2 1898.9H1072.5V1903.2H1068.2zM1635.3 1898.9H1639.6V1903.2H1635.3zM1998.9 1898.9H2003.2V1903.2H1998.9zM2011.9 1898.9H2016.2V1903.2H2011.9zM2033.5 1898.9H2037.9V1903.2H2033.5zM2063.8 1898.9H2068.2V1903.2H2063.8zM1063.9 1903.2H1068.2V1907.6H1063.9zM2016.2 1903.2H2020.6V1907.6H2016.2zM2068.2 1903.2H2072.5V1907.6H2068.2zM1042.2 1907.6H1046.5V1911.9H1042.2zM1998.9 1907.6H2003.2V1911.9H1998.9zM1994.6 1911.9H1998.9V1916.2H1994.6zM1055.2 1916.2H1059.5V1920.5H1055.2zM1570.3 1920.5H1574.7V1924.9H1570.3zM2055.2 1920.5H2059.5V1924.9H2055.2zM1042.2 1924.9H1046.5V1929.2H1042.2zM1990.2 1924.9H1994.6V1929.2H1990.2zM1955.6 1929.2H1959.9V1933.5H1955.6zM1964.3 1929.2H1968.6V1933.5H1964.3zM1981.6 1929.2H1990.2V1933.5H1981.6zM1947.0 1933.5H1951.3V1937.9H1947.0zM1959.9 1933.5H1964.3V1937.9H1959.9zM1981.6 1933.5H1985.9V1937.9H1981.6zM1076.8 1937.9H1081.2V1942.2H1076.8zM1263.0 1937.9H1267.3V1942.2H1263.0zM1280.3 1937.9H1284.6V1942.2H1280.3zM1951.3 1937.9H1955.6V1942.2H1951.3zM1964.3 1937.9H1968.6V1942.2H1964.3zM1972.9 1937.9H1981.6V1942.2H1972.9zM1985.9 1937.9H1990.2V1942.2H1985.9zM1076.8 1942.2H1081.2V1946.5H1076.8zM1280.3 1942.2H1284.6V1946.5H1280.3zM1955.6 1942.2H1959.9V1946.5H1955.6zM1072.5 1946.5H1081.2V1950.8H1072.5zM1094.2 1946.5H1098.5V1950.8H1094.2zM1998.9 1946.5H2003.2V1950.8H1998.9zM1998.9 1955.2H2003.2V1959.5H1998.9zM2007.6 1955.2H2011.9V1959.5H2007.6z"/>
<path fill="#7fff00" d="M1708.9 314.5H1713.2V318.8H1708.9zM1717.5 314.5H1721.9V318.8H1717.5zM1773.8 314.5H1778.1V318.8H1773.8zM1830.1 314.5H1834.4V318.8H1830.1zM1968.6 314.5H1972.9V318.8H1968.6zM1691.6 318.8H1704.5V323.2H1691.6zM1765.1 318.8H1769.5V323.2H1765.1zM1830.1 318.8H1838.7V323.2H1830.1zM1882.0 318.8H1921.0V323.2H1882.0zM1955.6 318.8H1959.9V323.2H1955.6zM1691.6 323.2H1695.9V327.5H1691.6zM1708.9 323.2H1713.2V327.5H1708.9zM1726.2 323.2H1730.5V327.5H1726.2zM1804.1 323.2H1808.4V327.5H1804.1zM1825.7 323.2H1838.7V327.5H1825.7zM1873.4 323.2H1882.0V327.5H1873.4zM1895.0 323.2H1925.3V327.5H1895.0zM1682.9 327.5H1691.6V331.8H1682.9zM1812.8 327.5H1834.4V331.8H1812.8zM1869.0 327.5H1873.4V331.8H1869.0zM1903.7 327.5H1921.0V331.8H1903.7zM1674.2 331.8H1687.2V336.1H1674.2zM1812.8 331.8H1817.1V336.1H1812.8zM1903.7 331.8H1912.3V336.1H1903.7zM1959.9 331.8H1968.6V336.1H1959.9zM1656.9 336.1H1661.2V340.5H1656.9zM1665.6 336.1H1678.6V340.5H1665.6zM1864.7 336.1H1869.0V340.5H1864.7zM1899.3 336.1H1908.0V340.5H1899.3zM1942.6 336.1H1947.0V340.5H1942.6zM1959.9 336.1H1977.3V340.5H1959.9zM1643.9 340.5H1648.3V344.8H1643.9zM1665.6 340.5H1674.2V344.8H1665.6zM1700.2 340.5H1704.5V344.8H1700.2zM1726.2 340.5H1730.5V344.8H1726.2zM1747.8 340.5H1752.2V344.8H1747.8zM1817.1 340.5H1825.7V344.8H1817.1zM1843.1 340.5H1851.7V344.8H1843.1zM1864.7 340.5H1869.0V344.8H1864.7zM1895.0 340.5H1908.0V344.8H1895.0zM1955.6 340.5H1959.9V344.8H1955.6zM1964.3 340.5H1972.9V344.8H1964.3zM1977.3 340.5H1981.6V344.8H1977.3zM1643.9 344.8H1648.3V349.1H1643.9zM1661.2 344.8H1674.2V349.1H1661.2zM1708.9 344.8H1713.2V349.1H1708.9zM1825.7 344.8H1830.1V349.1H1825.7zM1838.7 344.8H1851.7V349.1H1838.7zM1864.7 344.8H1873.4V349.1H1864.7zM1899.3 344.8H1908.0V349.1H1899.3zM1955.6 344.8H1968.6V349.1H1955.6zM1972.9 344.8H1985.9V349.1H1972.9zM1661.2 349.1H1674.2V353.5H1661.2zM1838.7 349.1H1856.1V353.5H1838.7zM1864.7 349.1H1869.0V353.5H1864.7zM1899.3 349.1H1908.0V353.5H1899.3zM1947.0 349.1H2007.6V353.5H1947.0zM1635.3 353.5H1639.6V357.8H1635.3zM1656.9 353.5H1669.9V357.8H1656.9zM1682.9 353.5H1687.2V357.8H1682.9zM1708.9 353.5H1713.2V357.8H1708.9zM1838.7 353.5H1856.1V357.8H1838.7zM1860.4 353.5H1864.7V357.8H1860.4zM1895.0 353.5H1908.0V357.8H1895.0zM1916.7 353.5H1921.0V357.8H1916.7zM1942.6 353.5H1968.6V357.8H1942.6zM1972.9 353.5H1994.6V357.8H1972.9zM1998.9 353.5H2011.9V357.8H1998.9zM1648.3 357.8H1661.2V362.1H1648.3zM1713.2 357.8H1717.5V362.1H1713.2zM1843.1 357.8H1864.7V362.1H1843.1zM1895.0 357.8H1899.3V362.1H1895.0zM1938.3 357.8H2016.2V362.1H1938.3zM1648.3 362.1H1661.2V366.4H1648.3zM1843.1 362.1H1856.1V366.4H1843.1zM1860.4 362.1H1864.7V366.4H1860.4zM1895.0 362.1H1908.0V366.4H1895.0zM1938.3 362.1H1968.6V366.4H1938.3zM1972.9 362.1H2055.2V366.4H1972.9zM1444.8 366.4H1449.1V370.8H1444.8zM1630.9 366.4H1635.3V370.8H1630.9zM1648.3 366.4H1656.9V370.8H1648.3zM1834.4 366.4H1843.1V370.8H1834.4zM1847.4 366.4H1851.7V370.8H1847.4zM1856.1 366.4H1864.7V370.8H1856.1zM1925.3 366.4H1942.6V370.8H1925.3zM1947.0 366.4H2003.2V370.8H1947.0zM2007.6 366.4H2055.2V370.8H2007.6zM1622.3 370.8H1639.6V375.1H1622.3zM1830.1 370.8H1843.1V375.1H1830.1zM1847.4 370.8H1851.7V375.1H1847.4zM1856.1 370.8H1864.7V375.1H1856.1zM1912.3 370.8H1916.7V375.1H1912.3zM1925.3 370.8H1964.3V375.1H1925.3zM1968.6 370.8H1981.6V375.1H1968.6zM1985.9 370.8H2003.2V375.1H1985.9zM2029.2 370.8H2046.5V375.1H2029.2zM2050.9 370.8H2055.2V375.1H2050.9zM1449.1 375.1H1457.8V379.4H1449.1zM1605.0 375.1H1652.6V379.4H1605.0zM1825.7 375.1H1830.1V379.4H1825.7zM1834.4 375.1H1843.1V379.4H1834.4zM1856.1 375.1H1869.0V379.4H1856.1zM1921.0 375.1H1929.6V379.4H1921.0zM1934.0 375.1H1972.9V379.4H1934.0zM1977.3 375.1H1998.9V379.4H1977.3zM2033.5 375.1H2050.9V379.4H2033.5zM1453.5 379.4H1457.8V383.8H1453.5zM1605.0 379.4H1609.3V383.8H1605.0zM1613.6 379.4H1626.6V383.8H1613.6zM1630.9 379.4H1643.9V383.8H1630.9zM1821.4 379.4H1830.1V383.8H1821.4zM1834.4 379.4H1847.4V383.8H1834.4zM1851.7 379.4H1869.0V383.8H1851.7zM1916.7 379.4H1959.9V383.8H1916.7zM1964.3 379.4H1994.6V383.8H1964.3zM2042.2 379.4H2046.5V383.8H2042.2zM1449.1 383.8H1457.8V388.1H1449.1zM1605.0 383.8H1626.6V388.1H1605.0zM1630.9 383.8H1643.9V388.1H1630.9zM1817.1 383.8H1821.4V388.1H1817.1zM1825.7 383.8H1830.1V388.1H1825.7zM1851.7 383.8H1873.4V388.1H1851.7zM1912.3 383.8H1964.3V388.1H1912.3zM1457.8 388.1H1462.1V392.4H1457.8zM1605.0 388.1H1626.6V392.4H1605.0zM1635.3 388.1H1643.9V392.4H1635.3zM1812.8 388.1H1830.1V392.4H1812.8zM1851.7 388.1H1877.7V392.4H1851.7zM1912.3 388.1H1968.6V392.4H1912.3zM2029.2 388.1H2033.5V392.4H2029.2zM2046.5 388.1H2050.9V392.4H2046.5zM1596.3 392.4H1643.9V396.8H1596.3zM1656.9 392.4H1661.2V396.8H1656.9zM1804.1 392.4H1808.4V396.8H1804.1zM1812.8 392.4H1838.7V396.8H1812.8zM1847.4 392.4H1856.1V396.8H1847.4zM1860.4 392.4H1877.7V396.8H1860.4zM1908.0 392.4H1912.3V396.8H1908.0zM1921.0 392.4H1955.6V396.8H1921.0zM1959.9 392.4H1977.3V396.8H1959.9zM1583.3 396.8H1626.6V401.1H1583.3zM1630.9 396.8H1643.9V401.1H1630.9zM1804.1 396.8H1847.4V401.1H1804.1zM1851.7 396.8H1877.7V401.1H1851.7zM1890.7 396.8H1951.3V401.1H1890.7zM1955.6 396.8H1968.6V401.1H1955.6zM1972.9 396.8H1985.9V401.1H1972.9zM1453.5 401.1H1457.8V405.4H1453.5zM1583.3 401.1H1600.6V405.4H1583.3zM1605.0 401.1H1643.9V405.4H1605.0zM1678.6 401.1H1682.9V405.4H1678.6zM1691.6 401.1H1695.9V405.4H1691.6zM1804.1 401.1H1847.4V405.4H1804.1zM1851.7 401.1H1912.3V405.4H1851.7zM1916.7 401.1H1929.6V405.4H1916.7zM1934.0 401.1H1947.0V405.4H1934.0zM1951.3 401.1H1990.2V405.4H1951.3zM2046.5 401.1H2050.9V405.4H2046.5zM1622.3 405.4H1643.9V409.7H1622.3zM1700.2 405.4H1704.5V409.7H1700.2zM1730.5 405.4H1734.8V409.7H1730.5zM1825.7 405.4H1860.4V409.7H1825.7zM1877.7 405.4H1890.7V409.7H1877.7zM1938.3 405.4H1942.6V409.7H1938.3zM1981.6 405.4H1990.2V409.7H1981.6zM1994.6 405.4H1998.9V409.7H1994.6zM2046.5 405.4H2055.2V409.7H2046.5zM1622.3 409.7H1639.6V414.1H1622.3zM1648.3 409.7H1661.2V414.1H1648.3zM1704.5 409.7H1708.9V414.1H1704.5zM1752.2 409.7H1756.5V414.1H1752.2zM1765.1 409.7H1769.5V414.1H1765.1zM1825.7 409.7H1856.1V414.1H1825.7zM1877.7 409.7H1886.4V414.1H1877.7zM1990.2 409.7H2016.2V414.1H1990.2zM1622.3 414.1H1639.6V418.4H1622.3zM1648.3 414.1H1669.9V418.4H1648.3zM1795.4 414.1H1799.8V418.4H1795.4zM1830.1 414.1H1843.1V418.4H1830.1zM1847.4 414.1H1856.1V418.4H1847.4zM1869.0 414.1H1890.7V418.4H1869.0zM1942.6 414.1H1959.9V418.4H1942.6zM1985.9 414.1H1990.2V418.4H1985.9zM2003.2 414.1H2007.6V418.4H2003.2zM1457.8 418.4H1462.1V422.7H1457.8zM1618.0 418.4H1635.3V422.7H1618.0zM1648.3 418.4H1669.9V422.7H1648.3zM1674.2 418.4H1678.6V422.7H1674.2zM1825.7 418.4H1838.7V422.7H1825.7zM1869.0 418.4H1882.0V422.7H1869.0zM1942.6 418.4H1955.6V422.7H1942.6zM1457.8 422.7H1462.1V427.1H1457.8zM1466.4 422.7H1470.8V427.1H1466.4zM1587.7 422.7H1592.0V427.1H1587.7zM1613.6 422.7H1635.3V427.1H1613.6zM1648.3 422.7H1652.6V427.1H1648.3zM1656.9 422.7H1665.6V427.1H1656.9zM1669.9 422.7H1687.2V427.1H1669.9zM1825.7 422.7H1830.1V427.1H1825.7zM1834.4 422.7H1838.7V427.1H1834.4zM1869.0 422.7H1877.7V427.1H1869.0zM1457.8 427.1H1470.8V431.4H1457.8zM1609.3 427.1H1618.0V431.4H1609.3zM1622.3 427.1H1639.6V431.4H1622.3zM1648.3 427.1H1678.6V431.4H1648.3zM1682.9 427.1H1708.9V431.4H1682.9zM1821.4 427.1H1834.4V431.4H1821.4zM1847.4 427.1H1851.7V431.4H1847.4zM2016.2 427.1H2029.2V431.4H2016.2zM1462.1 431.4H1470.8V435.7H1462.1zM1609.3 431.4H1618.0V435.7H1609.3zM1626.6 431.4H1721.9V435.7H1626.6zM1821.4 431.4H1825.7V435.7H1821.4zM1830.1 431.4H1834.4V435.7H1830.1zM1998.9 431.4H2003.2V435.7H1998.9zM2016.2 431.4H2029.2V435.7H2016.2zM1462.1 435.7H1475.1V440.0H1462.1zM1609.3 435.7H1618.0V440.0H1609.3zM1630.9 435.7H1648.3V440.0H1630.9zM1678.6 435.7H1713.2V440.0H1678.6zM1717.5 435.7H1739.2V440.0H1717.5zM1743.5 435.7H1747.8V440.0H1743.5zM1821.4 435.7H1830.1V440.0H1821.4zM1466.4 440.0H1479.4V444.4H1466.4zM1609.3 440.0H1613.6V444.4H1609.3zM1630.9 440.0H1648.3V444.4H1630.9zM1708.9 440.0H1747.8V444.4H1708.9zM1812.8 440.0H1825.7V444.4H1812.8zM1847.4 440.0H1851.7V444.4H1847.4zM1856.1 440.0H1860.4V444.4H1856.1zM2011.9 440.0H2016.2V444.4H2011.9zM1466.4 444.4H1483.8V448.7H1466.4zM1635.3 444.4H1643.9V448.7H1635.3zM1717.5 444.4H1721.9V448.7H1717.5zM1726.2 444.4H1752.2V448.7H1726.2zM1769.5 444.4H1773.8V448.7H1769.5zM1782.5 444.4H1799.8V448.7H1782.5zM1804.1 444.4H1821.4V448.7H1804.1zM1869.0 444.4H1873.4V448.7H1869.0zM1470.8 448.7H1483.8V453.0H1470.8zM1721.9 448.7H1726.2V453.0H1721.9zM1730.5 448.7H1756.5V453.0H1730.5zM1773.8 448.7H1782.5V453.0H1773.8zM1786.8 448.7H1799.8V453.0H1786.8zM1804.1 448.7H1817.1V453.0H1804.1zM1470.8 453.0H1475.1V457.4H1470.8zM1479.4 453.0H1488.1V457.4H1479.4zM1665.6 453.0H1669.9V457.4H1665.6zM1752.2 453.0H1756.5V457.4H1752.2zM1760.8 453.0H1765.1V457.4H1760.8zM1773.8 453.0H1782.5V457.4H1773.8zM1856.1 453.0H1860.4V457.4H1856.1zM1475.1 457.4H1479.4V461.7H1475.1zM1483.8 457.4H1492.4V461.7H1483.8zM1769.5 457.4H1778.1V461.7H1769.5zM1475.1 461.7H1479.4V466.0H1475.1zM1488.1 461.7H1496.8V466.0H1488.1zM1687.2 461.7H1691.6V466.0H1687.2zM1765.1 461.7H1773.8V466.0H1765.1zM1778.1 461.7H1782.5V466.0H1778.1zM1479.4 466.0H1483.8V470.3H1479.4zM1492.4 466.0H1496.8V470.3H1492.4zM1756.5 466.0H1769.5V470.3H1756.5zM1483.8 470.3H1488.1V474.7H1483.8zM1496.8 470.3H1501.1V474.7H1496.8zM1648.3 470.3H1652.6V474.7H1648.3zM1704.5 470.3H1708.9V474.7H1704.5zM1765.1 470.3H1769.5V474.7H1765.1zM1483.8 474.7H1488.1V479.0H1483.8zM1501.1 474.7H1505.4V479.0H1501.1zM1505.4 479.0H1514.1V483.3H1505.4zM1492.4 483.3H1496.8V487.7H1492.4zM1509.7 483.3H1514.1V487.7H1509.7zM1496.8 487.7H1501.1V492.0H1496.8zM1509.7 487.7H1514.1V492.0H1509.7zM1501.1 492.0H1505.4V496.3H1501.1zM1509.7 492.0H1518.4V496.3H1509.7zM1505.4 496.3H1509.7V500.6H1505.4zM1514.1 496.3H1518.4V500.6H1514.1zM1509.7 500.6H1518.4V505.0H1509.7zM1514.1 505.0H1518.4V509.3H1514.1zM1540.0 505.0H1544.4V509.3H1540.0zM1544.4 509.3H1548.7V513.6H1544.4zM1600.6 522.3H1605.0V526.6H1600.6zM1596.3 526.6H1600.6V530.9H1596.3zM1765.1 756.1H1769.5V760.4H1765.1zM890.7 877.3H899.4V881.6H890.7zM890.7 881.6H899.4V885.9H890.7zM1475.1 1574.2H1488.1V1578.6H1475.1zM1462.1 1578.6H1466.4V1582.9H1462.1zM1475.1 1578.6H1488.1V1582.9H1475.1zM1470.8 1582.9H1488.1V1587.2H1470.8zM1172.1 1587.2H1176.4V1591.5H1172.1zM1185.1 1587.2H1189.4V1591.5H1185.1zM1466.4 1587.2H1470.8V1591.5H1466.4zM1475.1 1587.2H1479.4V1591.5H1475.1zM1172.1 1591.5H1176.4V1595.9H1172.1zM1462.1 1591.5H1470.8V1595.9H1462.1zM1475.1 1591.5H1479.4V1595.9H1475.1zM1401.5 1595.9H1405.8V1600.2H1401.5zM1410.2 1595.9H1414.5V1600.2H1410.2zM1462.1 1595.9H1470.8V1600.2H1462.1zM1514.1 1595.9H1518.4V1600.2H1514.1zM1535.7 1595.9H1540.0V1600.2H1535.7zM1557.4 1595.9H1574.7V1600.2H1557.4zM1410.2 1600.2H1414.5V1604.5H1410.2zM1401.5 1604.5H1414.5V1608.9H1401.5zM1423.2 1604.5H1427.5V1608.9H1423.2zM1392.9 1608.9H1397.2V1613.2H1392.9zM1405.8 1608.9H1414.5V1613.2H1405.8zM1418.8 1608.9H1431.8V1613.2H1418.8zM1444.8 1608.9H1449.1V1613.2H1444.8zM1466.4 1608.9H1470.8V1613.2H1466.4zM1405.8 1613.2H1410.2V1617.5H1405.8zM1401.5 1617.5H1410.2V1621.8H1401.5zM1431.8 1617.5H1436.1V1621.8H1431.8zM1522.7 1617.5H1527.1V1621.8H1522.7zM1401.5 1621.8H1410.2V1626.2H1401.5zM1453.5 1621.8H1457.8V1626.2H1453.5zM1522.7 1621.8H1527.1V1626.2H1522.7zM1271.6 1639.2H1276.0V1643.5H1271.6zM1280.3 1639.2H1284.6V1643.5H1280.3zM1267.3 1643.5H1284.6V1647.8H1267.3zM1254.3 1647.8H1258.7V1652.1H1254.3zM1289.0 1665.1H1301.9V1669.5H1289.0zM1289.0 1669.5H1293.3V1673.8H1289.0zM1301.9 1669.5H1306.3V1673.8H1301.9zM2042.2 1673.8H2050.9V1678.1H2042.2zM1648.3 1682.4H1656.9V1686.8H1648.3zM1198.1 1686.8H1202.4V1691.1H1198.1zM1635.3 1686.8H1639.6V1691.1H1635.3zM1643.9 1686.8H1648.3V1691.1H1643.9zM1198.1 1691.1H1202.4V1695.4H1198.1zM1626.6 1691.1H1639.6V1695.4H1626.6zM1643.9 1691.1H1648.3V1695.4H1643.9zM1544.4 1695.4H1548.7V1699.8H1544.4zM1596.3 1695.4H1600.6V1699.8H1596.3zM1605.0 1695.4H1609.3V1699.8H1605.0zM1626.6 1695.4H1639.6V1699.8H1626.6zM1643.9 1695.4H1648.3V1699.8H1643.9zM1540.0 1699.8H1544.4V1704.1H1540.0zM1548.7 1699.8H1553.0V1704.1H1548.7zM1596.3 1699.8H1600.6V1704.1H1596.3zM1609.3 1699.8H1613.6V1704.1H1609.3zM1630.9 1699.8H1635.3V1704.1H1630.9zM1639.6 1699.8H1643.9V1704.1H1639.6zM1566.0 1704.1H1570.3V1708.4H1566.0zM1609.3 1704.1H1618.0V1708.4H1609.3zM1553.0 1708.4H1557.4V1712.7H1553.0zM1566.0 1708.4H1574.7V1712.7H1566.0zM1583.3 1708.4H1587.7V1712.7H1583.3zM1622.3 1708.4H1626.6V1712.7H1622.3zM1535.7 1712.7H1540.0V1717.1H1535.7zM1548.7 1712.7H1557.4V1717.1H1548.7zM1535.7 1717.1H1557.4V1721.4H1535.7zM1596.3 1717.1H1600.6V1721.4H1596.3zM1535.7 1721.4H1548.7V1725.7H1535.7zM1557.4 1721.4H1561.7V1725.7H1557.4zM1605.0 1721.4H1613.6V1725.7H1605.0zM1635.3 1721.4H1639.6V1725.7H1635.3zM1535.7 1725.7H1544.4V1730.1H1535.7zM1553.0 1725.7H1561.7V1730.1H1553.0zM1574.7 1730.1H1579.0V1734.4H1574.7zM1583.3 1730.1H1587.7V1734.4H1583.3zM1605.0 1730.1H1609.3V1734.4H1605.0zM1531.4 1734.4H1540.0V1738.7H1531.4zM1574.7 1734.4H1579.0V1738.7H1574.7zM1639.6 1734.4H1643.9V1738.7H1639.6zM1522.7 1738.7H1531.4V1743.1H1522.7zM1557.4 1738.7H1561.7V1743.1H1557.4zM1527.1 1743.1H1531.4V1747.4H1527.1zM1682.9 1743.1H1691.6V1747.4H1682.9zM1527.1 1747.4H1531.4V1751.7H1527.1zM1648.3 1747.4H1652.6V1751.7H1648.3zM1561.7 1751.7H1566.0V1756.0H1561.7zM1713.2 1751.7H1717.5V1756.0H1713.2zM1574.7 1756.0H1583.3V1760.4H1574.7zM1618.0 1756.0H1622.3V1760.4H1618.0zM1661.2 1756.0H1665.6V1760.4H1661.2zM1669.9 1756.0H1678.6V1760.4H1669.9zM1721.9 1756.0H1726.2V1760.4H1721.9zM1972.9 1756.0H1977.3V1760.4H1972.9zM1548.7 1760.4H1553.0V1764.7H1548.7zM1574.7 1760.4H1579.0V1764.7H1574.7zM1587.7 1760.4H1596.3V1764.7H1587.7zM1639.6 1760.4H1643.9V1764.7H1639.6zM1665.6 1760.4H1669.9V1764.7H1665.6zM1678.6 1760.4H1682.9V1764.7H1678.6zM1968.6 1760.4H1972.9V1764.7H1968.6zM1981.6 1760.4H1985.9V1764.7H1981.6zM1540.0 1764.7H1544.4V1769.0H1540.0zM1574.7 1764.7H1583.3V1769.0H1574.7zM1592.0 1764.7H1600.6V1769.0H1592.0zM1648.3 1764.7H1652.6V1769.0H1648.3zM1661.2 1764.7H1682.9V1769.0H1661.2zM1509.7 1769.0H1514.1V1773.4H1509.7zM1570.3 1769.0H1583.3V1773.4H1570.3zM1592.0 1769.0H1596.3V1773.4H1592.0zM1600.6 1769.0H1605.0V1773.4H1600.6zM1639.6 1769.0H1643.9V1773.4H1639.6zM1656.9 1769.0H1665.6V1773.4H1656.9zM1669.9 1769.0H1674.2V1773.4H1669.9zM1890.7 1769.0H1895.0V1773.4H1890.7zM1994.6 1769.0H1998.9V1773.4H1994.6zM1068.2 1773.4H1072.5V1777.7H1068.2zM1371.2 1773.4H1379.9V1777.7H1371.2zM1561.7 1773.4H1570.3V1777.7H1561.7zM1574.7 1773.4H1579.0V1777.7H1574.7zM1587.7 1773.4H1592.0V1777.7H1587.7zM1600.6 1773.4H1605.0V1777.7H1600.6zM1613.6 1773.4H1618.0V1777.7H1613.6zM1652.6 1773.4H1661.2V1777.7H1652.6zM1665.6 1773.4H1669.9V1777.7H1665.6zM1886.4 1773.4H1895.0V1777.7H1886.4zM1938.3 1773.4H1942.6V1777.7H1938.3zM1977.3 1773.4H1985.9V1777.7H1977.3zM1068.2 1777.7H1072.5V1782.0H1068.2zM1228.4 1777.7H1232.7V1782.0H1228.4zM1336.6 1777.7H1340.9V1782.0H1336.6zM1371.2 1777.7H1375.5V1782.0H1371.2zM1548.7 1777.7H1561.7V1782.0H1548.7zM1579.0 1777.7H1596.3V1782.0H1579.0zM1605.0 1777.7H1609.3V1782.0H1605.0zM1652.6 1777.7H1661.2V1782.0H1652.6zM1912.3 1777.7H1921.0V1782.0H1912.3zM1925.3 1777.7H1934.0V1782.0H1925.3zM1964.3 1777.7H1968.6V1782.0H1964.3zM1310.6 1782.0H1319.3V1786.3H1310.6zM1332.2 1782.0H1340.9V1786.3H1332.2zM1366.9 1782.0H1375.5V1786.3H1366.9zM1548.7 1782.0H1553.0V1786.3H1548.7zM1566.0 1782.0H1570.3V1786.3H1566.0zM1579.0 1782.0H1592.0V1786.3H1579.0zM1596.3 1782.0H1600.6V1786.3H1596.3zM1609.3 1782.0H1613.6V1786.3H1609.3zM1648.3 1782.0H1652.6V1786.3H1648.3zM1656.9 1782.0H1661.2V1786.3H1656.9zM1895.0 1782.0H1903.7V1786.3H1895.0zM1912.3 1782.0H1916.7V1786.3H1912.3zM1929.6 1782.0H1951.3V1786.3H1929.6zM1959.9 1782.0H1964.3V1786.3H1959.9zM1968.6 1782.0H1972.9V1786.3H1968.6zM1981.6 1782.0H1985.9V1786.3H1981.6zM1310.6 1786.3H1323.6V1790.7H1310.6zM1332.2 1786.3H1340.9V1790.7H1332.2zM1362.6 1786.3H1375.5V1790.7H1362.6zM1540.0 1786.3H1548.7V1790.7H1540.0zM1561.7 1786.3H1566.0V1790.7H1561.7zM1583.3 1786.3H1587.7V1790.7H1583.3zM1605.0 1786.3H1609.3V1790.7H1605.0zM1618.0 1786.3H1626.6V1790.7H1618.0zM1882.0 1786.3H1886.4V1790.7H1882.0zM1890.7 1786.3H1899.3V1790.7H1890.7zM1903.7 1786.3H1908.0V1790.7H1903.7zM1912.3 1786.3H1916.7V1790.7H1912.3zM1959.9 1786.3H1964.3V1790.7H1959.9zM1972.9 1786.3H1977.3V1790.7H1972.9zM1314.9 1790.7H1319.3V1795.0H1314.9zM1332.2 1790.7H1336.6V1795.0H1332.2zM1358.2 1790.7H1362.6V1795.0H1358.2zM1405.8 1790.7H1414.5V1795.0H1405.8zM1470.8 1790.7H1475.1V1795.0H1470.8zM1540.0 1790.7H1548.7V1795.0H1540.0zM1561.7 1790.7H1587.7V1795.0H1561.7zM1613.6 1790.7H1618.0V1795.0H1613.6zM1635.3 1790.7H1639.6V1795.0H1635.3zM1882.0 1790.7H1890.7V1795.0H1882.0zM1921.0 1790.7H1925.3V1795.0H1921.0zM1955.6 1790.7H1959.9V1795.0H1955.6zM1972.9 1790.7H1977.3V1795.0H1972.9zM2003.2 1790.7H2007.6V1795.0H2003.2zM1366.9 1795.0H1371.2V1799.3H1366.9zM1384.2 1795.0H1388.5V1799.3H1384.2zM1444.8 1795.0H1449.1V1799.3H1444.8zM1466.4 1795.0H1470.8V1799.3H1466.4zM1531.4 1795.0H1544.4V1799.3H1531.4zM1553.0 1795.0H1557.4V1799.3H1553.0zM1561.7 1795.0H1570.3V1799.3H1561.7zM1574.7 1795.0H1587.7V1799.3H1574.7zM1825.7 1795.0H1830.1V1799.3H1825.7zM1843.1 1795.0H1847.4V1799.3H1843.1zM1882.0 1795.0H1886.4V1799.3H1882.0zM1972.9 1795.0H1977.3V1799.3H1972.9zM1985.9 1795.0H1998.9V1799.3H1985.9zM1366.9 1799.3H1371.2V1803.7H1366.9zM1501.1 1799.3H1505.4V1803.7H1501.1zM1509.7 1799.3H1514.1V1803.7H1509.7zM1531.4 1799.3H1535.7V1803.7H1531.4zM1544.4 1799.3H1548.7V1803.7H1544.4zM1553.0 1799.3H1561.7V1803.7H1553.0zM1566.0 1799.3H1583.3V1803.7H1566.0zM1600.6 1799.3H1605.0V1803.7H1600.6zM1635.3 1799.3H1639.6V1803.7H1635.3zM1843.1 1799.3H1847.4V1803.7H1843.1zM1929.6 1799.3H1934.0V1803.7H1929.6zM1972.9 1799.3H1981.6V1803.7H1972.9zM1990.2 1799.3H1998.9V1803.7H1990.2zM1141.8 1803.7H1146.1V1808.0H1141.8zM1453.5 1803.7H1457.8V1808.0H1453.5zM1535.7 1803.7H1540.0V1808.0H1535.7zM1544.4 1803.7H1583.3V1808.0H1544.4zM1652.6 1803.7H1656.9V1808.0H1652.6zM1882.0 1803.7H1890.7V1808.0H1882.0zM1899.3 1803.7H1903.7V1808.0H1899.3zM1908.0 1803.7H1912.3V1808.0H1908.0zM1921.0 1803.7H1934.0V1808.0H1921.0zM1942.6 1803.7H1951.3V1808.0H1942.6zM1955.6 1803.7H1964.3V1808.0H1955.6zM1972.9 1803.7H1981.6V1808.0H1972.9zM1063.9 1808.0H1068.2V1812.3H1063.9zM1483.8 1808.0H1496.8V1812.3H1483.8zM1509.7 1808.0H1514.1V1812.3H1509.7zM1544.4 1808.0H1548.7V1812.3H1544.4zM1557.4 1808.0H1566.0V1812.3H1557.4zM1570.3 1808.0H1574.7V1812.3H1570.3zM1760.8 1808.0H1765.1V1812.3H1760.8zM1778.1 1808.0H1782.5V1812.3H1778.1zM1895.0 1808.0H1899.3V1812.3H1895.0zM1912.3 1808.0H1916.7V1812.3H1912.3zM1921.0 1808.0H1925.3V1812.3H1921.0zM1929.6 1808.0H1934.0V1812.3H1929.6zM1955.6 1808.0H1968.6V1812.3H1955.6zM1076.8 1812.3H1081.2V1816.6H1076.8zM1353.9 1812.3H1358.2V1816.6H1353.9zM1362.6 1812.3H1366.9V1816.6H1362.6zM1436.1 1812.3H1440.5V1816.6H1436.1zM1479.4 1812.3H1505.4V1816.6H1479.4zM1509.7 1812.3H1514.1V1816.6H1509.7zM1522.7 1812.3H1531.4V1816.6H1522.7zM1535.7 1812.3H1540.0V1816.6H1535.7zM1544.4 1812.3H1548.7V1816.6H1544.4zM1553.0 1812.3H1566.0V1816.6H1553.0zM1592.0 1812.3H1596.3V1816.6H1592.0zM1626.6 1812.3H1635.3V1816.6H1626.6zM1756.5 1812.3H1769.5V1816.6H1756.5zM1778.1 1812.3H1782.5V1816.6H1778.1zM1812.8 1812.3H1821.4V1816.6H1812.8zM1825.7 1812.3H1830.1V1816.6H1825.7zM1886.4 1812.3H1890.7V1816.6H1886.4zM1916.7 1812.3H1925.3V1816.6H1916.7zM1964.3 1812.3H1968.6V1816.6H1964.3zM1479.4 1816.6H1492.4V1821.0H1479.4zM1501.1 1816.6H1509.7V1821.0H1501.1zM1518.4 1816.6H1531.4V1821.0H1518.4zM1535.7 1816.6H1553.0V1821.0H1535.7zM1895.0 1816.6H1899.3V1821.0H1895.0zM1912.3 1816.6H1916.7V1821.0H1912.3zM1436.1 1821.0H1440.5V1825.3H1436.1zM1470.8 1821.0H1475.1V1825.3H1470.8zM1483.8 1821.0H1488.1V1825.3H1483.8zM1492.4 1821.0H1496.8V1825.3H1492.4zM1518.4 1821.0H1531.4V1825.3H1518.4zM1540.0 1821.0H1548.7V1825.3H1540.0zM1908.0 1821.0H1912.3V1825.3H1908.0zM1349.6 1825.3H1353.9V1829.6H1349.6zM1358.2 1825.3H1362.6V1829.6H1358.2zM1427.5 1825.3H1431.8V1829.6H1427.5zM1466.4 1825.3H1483.8V1829.6H1466.4zM1522.7 1825.3H1527.1V1829.6H1522.7zM1903.7 1825.3H1908.0V1829.6H1903.7zM1955.6 1825.3H1959.9V1829.6H1955.6zM1470.8 1829.6H1479.4V1834.0H1470.8zM1544.4 1829.6H1548.7V1834.0H1544.4zM1462.1 1834.0H1470.8V1838.3H1462.1zM1635.3 1834.0H1639.6V1838.3H1635.3zM1921.0 1834.0H1925.3V1838.3H1921.0zM1994.6 1834.0H2003.2V1838.3H1994.6zM1094.2 1838.3H1098.5V1842.6H1094.2zM1462.1 1838.3H1466.4V1842.6H1462.1zM1470.8 1838.3H1475.1V1842.6H1470.8zM1618.0 1838.3H1622.3V1842.6H1618.0zM1652.6 1838.3H1656.9V1842.6H1652.6zM1925.3 1838.3H1929.6V1842.6H1925.3zM1994.6 1838.3H1998.9V1842.6H1994.6zM2003.2 1838.3H2007.6V1842.6H2003.2zM2011.9 1838.3H2016.2V1842.6H2011.9zM1089.8 1842.6H1098.5V1846.9H1089.8zM1107.1 1842.6H1111.5V1846.9H1107.1zM1643.9 1842.6H1648.3V1846.9H1643.9zM1916.7 1842.6H1921.0V1846.9H1916.7zM1925.3 1842.6H1929.6V1846.9H1925.3zM1998.9 1842.6H2007.6V1846.9H1998.9zM2011.9 1842.6H2016.2V1846.9H2011.9zM1076.8 1846.9H1085.5V1851.3H1076.8zM1098.5 1846.9H1111.5V1851.3H1098.5zM1462.1 1846.9H1470.8V1851.3H1462.1zM1916.7 1846.9H1921.0V1851.3H1916.7zM1925.3 1846.9H1929.6V1851.3H1925.3zM1934.0 1846.9H1942.6V1851.3H1934.0zM1998.9 1846.9H2007.6V1851.3H1998.9zM2011.9 1846.9H2016.2V1851.3H2011.9zM1457.8 1851.3H1470.8V1855.6H1457.8zM1475.1 1851.3H1479.4V1855.6H1475.1zM1925.3 1851.3H1934.0V1855.6H1925.3zM1457.8 1855.6H1462.1V1859.9H1457.8zM1470.8 1855.6H1479.4V1859.9H1470.8zM1081.2 1859.9H1085.5V1864.3H1081.2zM1462.1 1859.9H1466.4V1864.3H1462.1zM1081.2 1864.3H1085.5V1868.6H1081.2zM1072.5 1868.6H1076.8V1872.9H1072.5zM1470.8 1868.6H1479.4V1872.9H1470.8zM1622.3 1868.6H1626.6V1872.9H1622.3zM1851.7 1868.6H1856.1V1872.9H1851.7zM1882.0 1868.6H1886.4V1872.9H1882.0zM1890.7 1868.6H1895.0V1872.9H1890.7zM1072.5 1872.9H1076.8V1877.2H1072.5zM1081.2 1872.9H1089.8V1877.2H1081.2zM2011.9 1872.9H2016.2V1877.2H2011.9zM1076.8 1877.2H1085.5V1881.6H1076.8zM1643.9 1877.2H1648.3V1881.6H1643.9zM1055.2 1885.9H1059.5V1890.2H1055.2zM1050.9 1890.2H1055.2V1894.6H1050.9zM2042.2 1894.6H2046.5V1898.9H2042.2zM2059.5 1894.6H2063.8V1898.9H2059.5zM2033.5 1903.2H2037.9V1907.6H2033.5zM2007.6 1907.6H2011.9V1911.9H2007.6zM2037.9 1907.6H2042.2V1911.9H2037.9zM1050.9 1916.2H1055.2V1920.5H1050.9zM1990.2 1916.2H1994.6V1920.5H1990.2zM2024.9 1916.2H2029.2V1920.5H2024.9zM2033.5 1916.2H2037.9V1920.5H2033.5zM1055.2 1920.5H1059.5V1924.9H1055.2zM2016.2 1920.5H2020.6V1924.9H2016.2zM2029.2 1920.5H2033.5V1924.9H2029.2zM1055.2 1924.9H1059.5V1929.2H1055.2zM2016.2 1924.9H2020.6V1929.2H2016.2zM2037.9 1924.9H2042.2V1929.2H2037.9zM2059.5 1924.9H2063.8V1929.2H2059.5zM1055.2 1929.2H1059.5V1933.5H1055.2zM1068.2 1929.2H1072.5V1933.5H1068.2zM1990.2 1929.2H1994.6V1933.5H1990.2zM2059.5 1929.2H2063.8V1933.5H2059.5zM1055.2 1933.5H1059.5V1937.9H1055.2zM1068.2 1933.5H1076.8V1937.9H1068.2zM1254.3 1933.5H1258.7V1937.9H1254.3zM1951.3 1933.5H1959.9V1937.9H1951.3zM1964.3 1933.5H1968.6V1937.9H1964.3zM1972.9 1933.5H1981.6V1937.9H1972.9zM1985.9 1933.5H1990.2V1937.9H1985.9zM1998.9 1933.5H2003.2V1937.9H1998.9zM2068.2 1933.5H2072.5V1937.9H2068.2zM1072.5 1937.9H1076.8V1942.2H1072.5zM1267.3 1937.9H1271.6V1942.2H1267.3zM1276.0 1937.9H1280.3V1942.2H1276.0zM1947.0 1937.9H1951.3V1942.2H1947.0zM1968.6 1937.9H1972.9V1942.2H1968.6zM2007.6 1937.9H2011.9V1942.2H2007.6zM1267.3 1942.2H1271.6V1946.5H1267.3zM1990.2 1942.2H1998.9V1946.5H1990.2zM2016.2 1942.2H2020.6V1946.5H2016.2zM2024.9 1942.2H2033.5V1946.5H2024.9zM1068.2 1946.5H1072.5V1950.8H1068.2zM1990.2 1946.5H1998.9V1950.8H1990.2zM1994.6 1950.8H2003.2V1955.2H1994.6zM2016.2 1955.2H2020.6V1959.5H2016.2z"/>
<path fill="#32cd32" d="M1704.5 318.8H1730.5V323.2H1704.5zM1734.8 318.8H1765.1V323.2H1734.8zM1769.5 318.8H1782.5V323.2H1769.5zM1786.8 318.8H1830.1V323.2H1786.8zM1695.9 323.2H1704.5V327.5H1695.9zM1713.2 323.2H1726.2V327.5H1713.2zM1730.5 323.2H1804.1V327.5H1730.5zM1808.4 323.2H1825.7V327.5H1808.4zM1882.0 323.2H1895.0V327.5H1882.0zM1691.6 327.5H1786.8V331.8H1691.6zM1799.8 327.5H1812.8V331.8H1799.8zM1873.4 327.5H1903.7V331.8H1873.4zM1687.2 331.8H1778.1V336.1H1687.2zM1799.8 331.8H1808.4V336.1H1799.8zM1869.0 331.8H1882.0V336.1H1869.0zM1890.7 331.8H1903.7V336.1H1890.7zM1678.6 336.1H1713.2V340.5H1678.6zM1717.5 336.1H1726.2V340.5H1717.5zM1730.5 336.1H1752.2V340.5H1730.5zM1756.5 336.1H1765.1V340.5H1756.5zM1808.4 336.1H1812.8V340.5H1808.4zM1869.0 336.1H1877.7V340.5H1869.0zM1890.7 336.1H1899.3V340.5H1890.7zM1947.0 336.1H1951.3V340.5H1947.0zM1955.6 336.1H1959.9V340.5H1955.6zM1674.2 340.5H1700.2V344.8H1674.2zM1704.5 340.5H1726.2V344.8H1704.5zM1730.5 340.5H1743.5V344.8H1730.5zM1752.2 340.5H1765.1V344.8H1752.2zM1804.1 340.5H1812.8V344.8H1804.1zM1869.0 340.5H1877.7V344.8H1869.0zM1890.7 340.5H1895.0V344.8H1890.7zM1942.6 340.5H1955.6V344.8H1942.6zM1674.2 344.8H1708.9V349.1H1674.2zM1717.5 344.8H1760.8V349.1H1717.5zM1808.4 344.8H1825.7V349.1H1808.4zM1873.4 344.8H1877.7V349.1H1873.4zM1890.7 344.8H1899.3V349.1H1890.7zM1934.0 344.8H1955.6V349.1H1934.0zM1968.6 344.8H1972.9V349.1H1968.6zM1691.6 349.1H1700.2V353.5H1691.6zM1704.5 349.1H1760.8V353.5H1704.5zM1804.1 349.1H1838.7V353.5H1804.1zM1869.0 349.1H1873.4V353.5H1869.0zM1890.7 349.1H1899.3V353.5H1890.7zM1929.6 349.1H1947.0V353.5H1929.6zM1669.9 353.5H1674.2V357.8H1669.9zM1695.9 353.5H1708.9V357.8H1695.9zM1713.2 353.5H1760.8V357.8H1713.2zM1799.8 353.5H1804.1V357.8H1799.8zM1821.4 353.5H1838.7V357.8H1821.4zM1864.7 353.5H1873.4V357.8H1864.7zM1890.7 353.5H1895.0V357.8H1890.7zM1925.3 353.5H1942.6V357.8H1925.3zM1661.2 357.8H1674.2V362.1H1661.2zM1691.6 357.8H1695.9V362.1H1691.6zM1700.2 357.8H1708.9V362.1H1700.2zM1721.9 357.8H1760.8V362.1H1721.9zM1799.8 357.8H1804.1V362.1H1799.8zM1821.4 357.8H1843.1V362.1H1821.4zM1864.7 357.8H1869.0V362.1H1864.7zM1890.7 357.8H1895.0V362.1H1890.7zM1916.7 357.8H1938.3V362.1H1916.7zM1449.1 362.1H1457.8V366.4H1449.1zM1661.2 362.1H1678.6V366.4H1661.2zM1704.5 362.1H1730.5V366.4H1704.5zM1747.8 362.1H1760.8V366.4H1747.8zM1804.1 362.1H1808.4V366.4H1804.1zM1821.4 362.1H1838.7V366.4H1821.4zM1864.7 362.1H1869.0V366.4H1864.7zM1886.4 362.1H1895.0V366.4H1886.4zM1908.0 362.1H1934.0V366.4H1908.0zM1449.1 366.4H1457.8V370.8H1449.1zM1656.9 366.4H1678.6V370.8H1656.9zM1752.2 366.4H1760.8V370.8H1752.2zM1817.1 366.4H1834.4V370.8H1817.1zM1843.1 366.4H1847.4V370.8H1843.1zM1864.7 366.4H1869.0V370.8H1864.7zM1890.7 366.4H1925.3V370.8H1890.7zM1449.1 370.8H1457.8V375.1H1449.1zM1648.3 370.8H1674.2V375.1H1648.3zM1678.6 370.8H1687.2V375.1H1678.6zM1708.9 370.8H1713.2V375.1H1708.9zM1812.8 370.8H1830.1V375.1H1812.8zM1864.7 370.8H1869.0V375.1H1864.7zM1890.7 370.8H1903.7V375.1H1890.7zM1908.0 370.8H1912.3V375.1H1908.0zM1916.7 370.8H1925.3V375.1H1916.7zM1964.3 370.8H1968.6V375.1H1964.3zM2046.5 370.8H2050.9V375.1H2046.5zM1652.6 375.1H1700.2V379.4H1652.6zM1786.8 375.1H1795.4V379.4H1786.8zM1808.4 375.1H1817.1V379.4H1808.4zM1821.4 375.1H1825.7V379.4H1821.4zM1869.0 375.1H1877.7V379.4H1869.0zM1890.7 375.1H1921.0V379.4H1890.7zM1626.6 379.4H1630.9V383.8H1626.6zM1643.9 379.4H1695.9V383.8H1643.9zM1808.4 379.4H1821.4V383.8H1808.4zM1869.0 379.4H1877.7V383.8H1869.0zM1895.0 379.4H1916.7V383.8H1895.0zM1626.6 383.8H1630.9V388.1H1626.6zM1643.9 383.8H1695.9V388.1H1643.9zM1804.1 383.8H1817.1V388.1H1804.1zM1821.4 383.8H1825.7V388.1H1821.4zM1873.4 383.8H1877.7V388.1H1873.4zM1899.3 383.8H1912.3V388.1H1899.3zM1968.6 383.8H1972.9V388.1H1968.6zM1643.9 388.1H1695.9V392.4H1643.9zM1795.4 388.1H1799.8V392.4H1795.4zM1804.1 388.1H1812.8V392.4H1804.1zM1886.4 388.1H1890.7V392.4H1886.4zM1895.0 388.1H1912.3V392.4H1895.0zM1972.9 388.1H1985.9V392.4H1972.9zM1643.9 392.4H1656.9V396.8H1643.9zM1661.2 392.4H1700.2V396.8H1661.2zM1756.5 392.4H1760.8V396.8H1756.5zM1799.8 392.4H1804.1V396.8H1799.8zM1856.1 392.4H1860.4V396.8H1856.1zM1877.7 392.4H1908.0V396.8H1877.7zM1955.6 392.4H1959.9V396.8H1955.6zM1977.3 392.4H1990.2V396.8H1977.3zM1643.9 396.8H1652.6V401.1H1643.9zM1656.9 396.8H1713.2V401.1H1656.9zM1795.4 396.8H1804.1V401.1H1795.4zM1847.4 396.8H1851.7V401.1H1847.4zM1877.7 396.8H1890.7V401.1H1877.7zM1951.3 396.8H1955.6V401.1H1951.3zM1968.6 396.8H1972.9V401.1H1968.6zM1985.9 396.8H1994.6V401.1H1985.9zM1643.9 401.1H1678.6V405.4H1643.9zM1682.9 401.1H1691.6V405.4H1682.9zM1695.9 401.1H1717.5V405.4H1695.9zM1734.8 401.1H1743.5V405.4H1734.8zM1791.1 401.1H1804.1V405.4H1791.1zM1847.4 401.1H1851.7V405.4H1847.4zM1912.3 401.1H1916.7V405.4H1912.3zM1990.2 401.1H2003.2V405.4H1990.2zM1457.8 405.4H1462.1V409.7H1457.8zM1643.9 405.4H1669.9V409.7H1643.9zM1674.2 405.4H1700.2V409.7H1674.2zM1704.5 405.4H1730.5V409.7H1704.5zM1734.8 405.4H1752.2V409.7H1734.8zM1778.1 405.4H1782.5V409.7H1778.1zM1786.8 405.4H1825.7V409.7H1786.8zM1998.9 405.4H2011.9V409.7H1998.9zM1453.5 409.7H1462.1V414.1H1453.5zM1639.6 409.7H1648.3V414.1H1639.6zM1661.2 409.7H1704.5V414.1H1661.2zM1708.9 409.7H1743.5V414.1H1708.9zM1769.5 409.7H1825.7V414.1H1769.5zM2050.9 409.7H2055.2V414.1H2050.9zM1453.5 414.1H1462.1V418.4H1453.5zM1639.6 414.1H1648.3V418.4H1639.6zM1669.9 414.1H1743.5V418.4H1669.9zM1765.1 414.1H1773.8V418.4H1765.1zM1778.1 414.1H1795.4V418.4H1778.1zM1799.8 414.1H1830.1V418.4H1799.8zM1639.6 418.4H1648.3V422.7H1639.6zM1678.6 418.4H1743.5V422.7H1678.6zM1765.1 418.4H1825.7V422.7H1765.1zM1462.1 422.7H1466.4V427.1H1462.1zM1639.6 422.7H1648.3V427.1H1639.6zM1652.6 422.7H1656.9V427.1H1652.6zM1665.6 422.7H1669.9V427.1H1665.6zM1687.2 422.7H1743.5V427.1H1687.2zM1765.1 422.7H1791.1V427.1H1765.1zM1795.4 422.7H1825.7V427.1H1795.4zM1830.1 422.7H1834.4V427.1H1830.1zM1643.9 427.1H1648.3V431.4H1643.9zM1708.9 427.1H1743.5V431.4H1708.9zM1765.1 427.1H1769.5V431.4H1765.1zM1773.8 427.1H1821.4V431.4H1773.8zM1721.9 431.4H1734.8V435.7H1721.9zM1739.2 431.4H1747.8V435.7H1739.2zM1765.1 431.4H1812.8V435.7H1765.1zM1817.1 431.4H1821.4V435.7H1817.1zM1713.2 435.7H1717.5V440.0H1713.2zM1739.2 435.7H1743.5V440.0H1739.2zM1756.5 435.7H1760.8V440.0H1756.5zM1765.1 435.7H1769.5V440.0H1765.1zM1773.8 435.7H1817.1V440.0H1773.8zM1747.8 440.0H1752.2V444.4H1747.8zM1760.8 440.0H1812.8V444.4H1760.8zM1752.2 444.4H1769.5V448.7H1752.2zM1773.8 444.4H1782.5V448.7H1773.8zM1799.8 444.4H1804.1V448.7H1799.8zM1756.5 448.7H1773.8V453.0H1756.5zM1799.8 448.7H1804.1V453.0H1799.8zM1475.1 453.0H1479.4V457.4H1475.1zM1756.5 453.0H1760.8V457.4H1756.5zM1765.1 453.0H1773.8V457.4H1765.1zM1479.4 457.4H1483.8V461.7H1479.4zM1756.5 457.4H1760.8V461.7H1756.5zM1765.1 457.4H1769.5V461.7H1765.1zM1479.4 461.7H1488.1V466.0H1479.4zM1756.5 461.7H1765.1V466.0H1756.5zM1483.8 466.0H1492.4V470.3H1483.8zM1488.1 470.3H1496.8V474.7H1488.1zM1488.1 474.7H1501.1V479.0H1488.1zM1492.4 479.0H1505.4V483.3H1492.4zM1496.8 483.3H1505.4V487.7H1496.8zM1501.1 487.7H1509.7V492.0H1501.1zM1514.1 487.7H1518.4V492.0H1514.1zM1505.4 492.0H1509.7V496.3H1505.4zM1509.7 496.3H1514.1V500.6H1509.7zM1185.1 1574.2H1189.4V1578.6H1185.1zM1470.8 1574.2H1475.1V1578.6H1470.8zM1509.7 1587.2H1518.4V1591.5H1509.7zM1405.8 1595.9H1410.2V1600.2H1405.8zM1440.5 1595.9H1453.5V1600.2H1440.5zM1405.8 1600.2H1410.2V1604.5H1405.8zM1440.5 1600.2H1457.8V1604.5H1440.5zM1479.4 1600.2H1483.8V1604.5H1479.4zM1514.1 1600.2H1518.4V1604.5H1514.1zM1418.8 1604.5H1423.2V1608.9H1418.8zM1427.5 1604.5H1431.8V1608.9H1427.5zM1444.8 1604.5H1457.8V1608.9H1444.8zM1479.4 1604.5H1488.1V1608.9H1479.4zM1431.8 1608.9H1444.8V1613.2H1431.8zM1479.4 1608.9H1488.1V1613.2H1479.4zM1440.5 1613.2H1449.1V1617.5H1440.5zM1440.5 1617.5H1449.1V1621.8H1440.5zM1431.8 1621.8H1449.1V1626.2H1431.8zM1527.1 1621.8H1531.4V1626.2H1527.1zM1276.0 1639.2H1280.3V1643.5H1276.0zM1263.0 1643.5H1267.3V1647.8H1263.0zM1267.3 1647.8H1271.6V1652.1H1267.3zM2042.2 1669.5H2050.9V1673.8H2042.2zM1176.4 1678.1H1180.7V1682.4H1176.4zM1652.6 1691.1H1656.9V1695.4H1652.6zM1600.6 1699.8H1609.3V1704.1H1600.6zM1531.4 1704.1H1540.0V1708.4H1531.4zM1544.4 1704.1H1548.7V1708.4H1544.4zM1553.0 1704.1H1557.4V1708.4H1553.0zM1535.7 1708.4H1548.7V1712.7H1535.7zM1574.7 1708.4H1579.0V1712.7H1574.7zM1540.0 1712.7H1548.7V1717.1H1540.0zM1570.3 1712.7H1579.0V1717.1H1570.3zM1600.6 1712.7H1605.0V1717.1H1600.6zM1561.7 1717.1H1566.0V1721.4H1561.7zM1579.0 1717.1H1583.3V1721.4H1579.0zM1587.7 1717.1H1596.3V1721.4H1587.7zM1600.6 1717.1H1609.3V1721.4H1600.6zM1548.7 1721.4H1557.4V1725.7H1548.7zM1566.0 1721.4H1570.3V1725.7H1566.0zM1574.7 1721.4H1579.0V1725.7H1574.7zM1587.7 1721.4H1605.0V1725.7H1587.7zM1544.4 1725.7H1548.7V1730.1H1544.4zM1574.7 1725.7H1579.0V1730.1H1574.7zM1592.0 1725.7H1613.6V1730.1H1592.0zM1531.4 1730.1H1535.7V1734.4H1531.4zM1579.0 1730.1H1583.3V1734.4H1579.0zM1596.3 1730.1H1600.6V1734.4H1596.3zM1544.4 1734.4H1548.7V1738.7H1544.4zM1630.9 1734.4H1635.3V1738.7H1630.9zM1535.7 1738.7H1544.4V1743.1H1535.7zM1535.7 1743.1H1540.0V1747.4H1535.7zM1643.9 1743.1H1648.3V1747.4H1643.9zM1643.9 1747.4H1648.3V1751.7H1643.9zM1652.6 1747.4H1661.2V1751.7H1652.6zM1708.9 1747.4H1721.9V1751.7H1708.9zM1613.6 1751.7H1618.0V1756.0H1613.6zM1648.3 1751.7H1656.9V1756.0H1648.3zM1665.6 1751.7H1669.9V1756.0H1665.6zM1258.7 1756.0H1267.3V1760.4H1258.7zM1648.3 1756.0H1661.2V1760.4H1648.3zM1258.7 1760.4H1267.3V1764.7H1258.7zM1557.4 1760.4H1561.7V1764.7H1557.4zM1583.3 1760.4H1587.7V1764.7H1583.3zM1648.3 1760.4H1661.2V1764.7H1648.3zM1674.2 1760.4H1678.6V1764.7H1674.2zM1972.9 1760.4H1977.3V1764.7H1972.9zM1258.7 1764.7H1263.0V1769.0H1258.7zM1553.0 1764.7H1557.4V1769.0H1553.0zM1583.3 1764.7H1592.0V1769.0H1583.3zM1652.6 1764.7H1656.9V1769.0H1652.6zM1557.4 1769.0H1561.7V1773.4H1557.4zM1566.0 1769.0H1570.3V1773.4H1566.0zM1587.7 1769.0H1592.0V1773.4H1587.7zM1596.3 1769.0H1600.6V1773.4H1596.3zM1648.3 1769.0H1656.9V1773.4H1648.3zM1553.0 1773.4H1557.4V1777.7H1553.0zM1570.3 1773.4H1574.7V1777.7H1570.3zM1579.0 1773.4H1587.7V1777.7H1579.0zM1592.0 1773.4H1600.6V1777.7H1592.0zM1605.0 1773.4H1613.6V1777.7H1605.0zM1648.3 1773.4H1652.6V1777.7H1648.3zM1661.2 1773.4H1665.6V1777.7H1661.2zM1730.5 1773.4H1734.8V1777.7H1730.5zM1916.7 1773.4H1921.0V1777.7H1916.7zM1561.7 1777.7H1570.3V1782.0H1561.7zM1596.3 1777.7H1600.6V1782.0H1596.3zM1609.3 1777.7H1618.0V1782.0H1609.3zM1639.6 1777.7H1643.9V1782.0H1639.6zM1981.6 1777.7H1985.9V1782.0H1981.6zM1561.7 1782.0H1566.0V1786.3H1561.7zM1570.3 1782.0H1574.7V1786.3H1570.3zM1592.0 1782.0H1596.3V1786.3H1592.0zM1600.6 1782.0H1609.3V1786.3H1600.6zM1618.0 1782.0H1622.3V1786.3H1618.0zM1661.2 1782.0H1665.6V1786.3H1661.2zM1903.7 1782.0H1908.0V1786.3H1903.7zM1925.3 1782.0H1929.6V1786.3H1925.3zM1566.0 1786.3H1583.3V1790.7H1566.0zM1592.0 1786.3H1600.6V1790.7H1592.0zM1609.3 1786.3H1618.0V1790.7H1609.3zM1630.9 1786.3H1635.3V1790.7H1630.9zM1899.3 1786.3H1903.7V1790.7H1899.3zM1934.0 1786.3H1942.6V1790.7H1934.0zM1951.3 1786.3H1959.9V1790.7H1951.3zM1968.6 1786.3H1972.9V1790.7H1968.6zM1981.6 1786.3H1985.9V1790.7H1981.6zM1310.6 1790.7H1314.9V1795.0H1310.6zM1366.9 1790.7H1371.2V1795.0H1366.9zM1453.5 1790.7H1457.8V1795.0H1453.5zM1596.3 1790.7H1613.6V1795.0H1596.3zM1890.7 1790.7H1903.7V1795.0H1890.7zM1908.0 1790.7H1921.0V1795.0H1908.0zM1925.3 1790.7H1955.6V1795.0H1925.3zM1959.9 1790.7H1972.9V1795.0H1959.9zM1449.1 1795.0H1453.5V1799.3H1449.1zM1587.7 1795.0H1605.0V1799.3H1587.7zM1609.3 1795.0H1622.3V1799.3H1609.3zM1886.4 1795.0H1890.7V1799.3H1886.4zM1895.0 1795.0H1921.0V1799.3H1895.0zM1929.6 1795.0H1938.3V1799.3H1929.6zM1959.9 1795.0H1972.9V1799.3H1959.9zM1977.3 1795.0H1981.6V1799.3H1977.3zM1444.8 1799.3H1457.8V1803.7H1444.8zM1535.7 1799.3H1544.4V1803.7H1535.7zM1548.7 1799.3H1553.0V1803.7H1548.7zM1561.7 1799.3H1566.0V1803.7H1561.7zM1592.0 1799.3H1600.6V1803.7H1592.0zM1605.0 1799.3H1609.3V1803.7H1605.0zM1613.6 1799.3H1622.3V1803.7H1613.6zM1847.4 1799.3H1851.7V1803.7H1847.4zM1882.0 1799.3H1886.4V1803.7H1882.0zM1899.3 1799.3H1903.7V1803.7H1899.3zM1908.0 1799.3H1929.6V1803.7H1908.0zM1959.9 1799.3H1972.9V1803.7H1959.9zM1423.2 1803.7H1427.5V1808.0H1423.2zM1444.8 1803.7H1453.5V1808.0H1444.8zM1457.8 1803.7H1462.1V1808.0H1457.8zM1488.1 1803.7H1501.1V1808.0H1488.1zM1527.1 1803.7H1535.7V1808.0H1527.1zM1592.0 1803.7H1600.6V1808.0H1592.0zM1890.7 1803.7H1895.0V1808.0H1890.7zM1912.3 1803.7H1916.7V1808.0H1912.3zM1951.3 1803.7H1955.6V1808.0H1951.3zM1353.9 1808.0H1358.2V1812.3H1353.9zM1453.5 1808.0H1457.8V1812.3H1453.5zM1496.8 1808.0H1501.1V1812.3H1496.8zM1527.1 1808.0H1544.4V1812.3H1527.1zM1553.0 1808.0H1557.4V1812.3H1553.0zM1596.3 1808.0H1609.3V1812.3H1596.3zM1769.5 1808.0H1778.1V1812.3H1769.5zM1903.7 1808.0H1908.0V1812.3H1903.7zM1358.2 1812.3H1362.6V1816.6H1358.2zM1431.8 1812.3H1436.1V1816.6H1431.8zM1769.5 1812.3H1773.8V1816.6H1769.5zM1808.4 1812.3H1812.8V1816.6H1808.4zM1821.4 1812.3H1825.7V1816.6H1821.4zM1492.4 1816.6H1496.8V1821.0H1492.4zM1531.4 1816.6H1535.7V1821.0H1531.4zM1890.7 1816.6H1895.0V1821.0H1890.7zM1488.1 1821.0H1492.4V1825.3H1488.1zM1921.0 1821.0H1925.3V1825.3H1921.0zM1418.8 1825.3H1423.2V1829.6H1418.8zM1431.8 1825.3H1436.1V1829.6H1431.8zM1912.3 1829.6H1916.7V1834.0H1912.3zM1107.1 1834.0H1111.5V1838.3H1107.1zM1912.3 1834.0H1916.7V1838.3H1912.3zM1925.3 1834.0H1929.6V1838.3H1925.3zM1622.3 1838.3H1626.6V1842.6H1622.3zM1921.0 1842.6H1925.3V1846.9H1921.0zM2007.6 1842.6H2011.9V1846.9H2007.6zM1089.8 1846.9H1094.2V1851.3H1089.8zM1626.6 1846.9H1630.9V1851.3H1626.6zM1921.0 1846.9H1925.3V1851.3H1921.0zM1479.4 1851.3H1483.8V1855.6H1479.4zM1916.7 1851.3H1921.0V1855.6H1916.7zM1462.1 1855.6H1466.4V1859.9H1462.1zM1626.6 1855.6H1630.9V1859.9H1626.6zM1622.3 1859.9H1626.6V1864.3H1622.3zM1462.1 1864.3H1466.4V1868.6H1462.1zM1877.7 1868.6H1882.0V1872.9H1877.7zM1072.5 1877.2H1076.8V1881.6H1072.5zM1626.6 1885.9H1630.9V1890.2H1626.6zM2055.2 1894.6H2059.5V1898.9H2055.2zM1630.9 1898.9H1635.3V1903.2H1630.9zM2042.2 1898.9H2046.5V1903.2H2042.2zM2055.2 1898.9H2063.8V1903.2H2055.2zM2003.2 1903.2H2011.9V1907.6H2003.2zM2050.9 1903.2H2063.8V1907.6H2050.9zM2003.2 1907.6H2007.6V1911.9H2003.2zM2011.9 1907.6H2020.6V1911.9H2011.9zM2050.9 1907.6H2055.2V1911.9H2050.9zM2059.5 1907.6H2063.8V1911.9H2059.5zM1063.9 1911.9H1068.2V1916.2H1063.9zM1998.9 1911.9H2003.2V1916.2H1998.9zM2007.6 1911.9H2033.5V1916.2H2007.6zM2050.9 1911.9H2063.8V1916.2H2050.9zM1994.6 1916.2H1998.9V1920.5H1994.6zM2007.6 1916.2H2024.9V1920.5H2007.6zM2029.2 1916.2H2033.5V1920.5H2029.2zM2050.9 1916.2H2063.8V1920.5H2050.9zM1050.9 1920.5H1055.2V1924.9H1050.9zM2003.2 1920.5H2016.2V1924.9H2003.2zM2020.6 1920.5H2024.9V1924.9H2020.6zM2050.9 1920.5H2055.2V1924.9H2050.9zM2059.5 1920.5H2063.8V1924.9H2059.5zM1050.9 1924.9H1055.2V1929.2H1050.9zM1059.5 1924.9H1072.5V1929.2H1059.5zM1994.6 1924.9H1998.9V1929.2H1994.6zM2007.6 1924.9H2011.9V1929.2H2007.6zM2024.9 1924.9H2029.2V1929.2H2024.9zM2050.9 1924.9H2059.5V1929.2H2050.9zM2068.2 1924.9H2072.5V1929.2H2068.2zM1059.5 1929.2H1068.2V1933.5H1059.5zM1072.5 1929.2H1076.8V1933.5H1072.5zM2055.2 1929.2H2059.5V1933.5H2055.2zM2063.8 1929.2H2068.2V1933.5H2063.8zM1059.5 1933.5H1068.2V1937.9H1059.5zM1250.0 1933.5H1254.3V1937.9H1250.0zM2011.9 1933.5H2016.2V1937.9H2011.9zM2020.6 1933.5H2024.9V1937.9H2020.6zM2029.2 1933.5H2033.5V1937.9H2029.2zM2059.5 1933.5H2063.8V1937.9H2059.5zM1258.7 1937.9H1263.0V1942.2H1258.7zM1271.6 1937.9H1276.0V1942.2H1271.6zM1994.6 1937.9H2003.2V1942.2H1994.6zM2020.6 1937.9H2024.9V1942.2H2020.6zM2029.2 1937.9H2037.9V1942.2H2029.2zM2063.8 1937.9H2068.2V1942.2H2063.8zM1055.2 1942.2H1063.9V1946.5H1055.2zM1263.0 1942.2H1267.3V1946.5H1263.0zM2003.2 1942.2H2007.6V1946.5H2003.2zM2011.9 1942.2H2016.2V1946.5H2011.9zM2003.2 1946.5H2007.6V1950.8H2003.2zM2016.2 1946.5H2020.6V1950.8H2016.2zM2033.5 1946.5H2037.9V1950.8H2033.5zM2042.2 1946.5H2046.5V1950.8H2042.2zM2003.2 1950.8H2020.6V1955.2H2003.2zM2011.9 1955.2H2016.2V1959.5H2011.9zM2046.5 1955.2H2050.9V1959.5H2046.5zM2063.8 1955.2H2072.5V1959.5H2063.8z"/>
<path fill="#00ff00" d="M1782.5 318.8H1786.8V323.2H1782.5zM1704.5 323.2H1708.9V327.5H1704.5zM1882.0 331.8H1890.7V336.1H1882.0zM1713.2 336.1H1717.5V340.5H1713.2zM1804.1 336.1H1808.4V340.5H1804.1zM1877.7 336.1H1890.7V340.5H1877.7zM1743.5 340.5H1747.8V344.8H1743.5zM1812.8 340.5H1817.1V344.8H1812.8zM1877.7 340.5H1890.7V344.8H1877.7zM1877.7 344.8H1890.7V349.1H1877.7zM1674.2 349.1H1691.6V353.5H1674.2zM1700.2 349.1H1704.5V353.5H1700.2zM1873.4 349.1H1890.7V353.5H1873.4zM1674.2 353.5H1682.9V357.8H1674.2zM1687.2 353.5H1695.9V357.8H1687.2zM1795.4 353.5H1799.8V357.8H1795.4zM1804.1 353.5H1821.4V357.8H1804.1zM1873.4 353.5H1890.7V357.8H1873.4zM1674.2 357.8H1691.6V362.1H1674.2zM1695.9 357.8H1700.2V362.1H1695.9zM1708.9 357.8H1713.2V362.1H1708.9zM1795.4 357.8H1799.8V362.1H1795.4zM1804.1 357.8H1821.4V362.1H1804.1zM1869.0 357.8H1890.7V362.1H1869.0zM1678.6 362.1H1700.2V366.4H1678.6zM1730.5 362.1H1747.8V366.4H1730.5zM1799.8 362.1H1804.1V366.4H1799.8zM1808.4 362.1H1821.4V366.4H1808.4zM1869.0 362.1H1886.4V366.4H1869.0zM1678.6 366.4H1708.9V370.8H1678.6zM1713.2 366.4H1721.9V370.8H1713.2zM1778.1 366.4H1782.5V370.8H1778.1zM1799.8 366.4H1817.1V370.8H1799.8zM1873.4 366.4H1890.7V370.8H1873.4zM1674.2 370.8H1678.6V375.1H1674.2zM1687.2 370.8H1708.9V375.1H1687.2zM1713.2 370.8H1717.5V375.1H1713.2zM1752.2 370.8H1760.8V375.1H1752.2zM1795.4 370.8H1812.8V375.1H1795.4zM1873.4 370.8H1886.4V375.1H1873.4zM1903.7 370.8H1908.0V375.1H1903.7zM1769.5 375.1H1773.8V379.4H1769.5zM1799.8 375.1H1808.4V379.4H1799.8zM1877.7 375.1H1890.7V379.4H1877.7zM1695.9 379.4H1700.2V383.8H1695.9zM1726.2 379.4H1730.5V383.8H1726.2zM1773.8 379.4H1808.4V383.8H1773.8zM1877.7 379.4H1895.0V383.8H1877.7zM1695.9 383.8H1721.9V388.1H1695.9zM1726.2 383.8H1804.1V388.1H1726.2zM1877.7 383.8H1899.3V388.1H1877.7zM1695.9 388.1H1765.1V392.4H1695.9zM1769.5 388.1H1795.4V392.4H1769.5zM1799.8 388.1H1804.1V392.4H1799.8zM1882.0 388.1H1886.4V392.4H1882.0zM1890.7 388.1H1895.0V392.4H1890.7zM1700.2 392.4H1721.9V396.8H1700.2zM1726.2 392.4H1730.5V396.8H1726.2zM1734.8 392.4H1756.5V396.8H1734.8zM1760.8 392.4H1799.8V396.8H1760.8zM1652.6 396.8H1656.9V401.1H1652.6zM1713.2 396.8H1795.4V401.1H1713.2zM1717.5 401.1H1734.8V405.4H1717.5zM1743.5 401.1H1773.8V405.4H1743.5zM1778.1 401.1H1791.1V405.4H1778.1zM1453.5 405.4H1457.8V409.7H1453.5zM1752.2 405.4H1778.1V409.7H1752.2zM1782.5 405.4H1786.8V409.7H1782.5zM1743.5 409.7H1752.2V414.1H1743.5zM1756.5 409.7H1765.1V414.1H1756.5zM1743.5 414.1H1765.1V418.4H1743.5zM1773.8 414.1H1778.1V418.4H1773.8zM1743.5 418.4H1765.1V422.7H1743.5zM1743.5 422.7H1765.1V427.1H1743.5zM1791.1 422.7H1795.4V427.1H1791.1zM1743.5 427.1H1765.1V431.4H1743.5zM1769.5 427.1H1773.8V431.4H1769.5zM1747.8 431.4H1765.1V435.7H1747.8zM1812.8 431.4H1817.1V435.7H1812.8zM1747.8 435.7H1756.5V440.0H1747.8zM1760.8 435.7H1765.1V440.0H1760.8zM1769.5 435.7H1773.8V440.0H1769.5zM1752.2 440.0H1760.8V444.4H1752.2zM1760.8 457.4H1765.1V461.7H1760.8zM1505.4 483.3H1509.7V487.7H1505.4zM1180.7 1574.2H1185.1V1578.6H1180.7zM1189.4 1574.2H1193.7V1578.6H1189.4zM1180.7 1578.6H1185.1V1582.9H1180.7zM1189.4 1578.6H1193.7V1582.9H1189.4zM1198.1 1578.6H1211.0V1582.9H1198.1zM1180.7 1582.9H1189.4V1587.2H1180.7zM1193.7 1582.9H1198.1V1587.2H1193.7zM1206.7 1582.9H1211.0V1587.2H1206.7zM1483.8 1600.2H1488.1V1604.5H1483.8zM1440.5 1604.5H1444.8V1608.9H1440.5zM1431.8 1613.2H1440.5V1617.5H1431.8zM1436.1 1617.5H1440.5V1621.8H1436.1zM1600.6 1695.4H1605.0V1699.8H1600.6zM1540.0 1704.1H1544.4V1708.4H1540.0zM1557.4 1712.7H1570.3V1717.1H1557.4zM1579.0 1712.7H1587.7V1717.1H1579.0zM1570.3 1717.1H1579.0V1721.4H1570.3zM1583.3 1717.1H1587.7V1721.4H1583.3zM1561.7 1721.4H1566.0V1725.7H1561.7zM1570.3 1721.4H1574.7V1725.7H1570.3zM1583.3 1721.4H1587.7V1725.7H1583.3zM1566.0 1725.7H1574.7V1730.1H1566.0zM1583.3 1725.7H1592.0V1730.1H1583.3zM1535.7 1730.1H1540.0V1734.4H1535.7zM1544.4 1730.1H1548.7V1734.4H1544.4zM1592.0 1730.1H1596.3V1734.4H1592.0zM1600.6 1730.1H1605.0V1734.4H1600.6zM1639.6 1730.1H1648.3V1734.4H1639.6zM1540.0 1734.4H1544.4V1738.7H1540.0zM1561.7 1734.4H1566.0V1738.7H1561.7zM1596.3 1734.4H1600.6V1738.7H1596.3zM1613.6 1734.4H1618.0V1738.7H1613.6zM1622.3 1734.4H1630.9V1738.7H1622.3zM1635.3 1734.4H1639.6V1738.7H1635.3zM1643.9 1734.4H1648.3V1738.7H1643.9zM1544.4 1738.7H1553.0V1743.1H1544.4zM1613.6 1738.7H1618.0V1743.1H1613.6zM1626.6 1738.7H1635.3V1743.1H1626.6zM1639.6 1738.7H1648.3V1743.1H1639.6zM1540.0 1743.1H1548.7V1747.4H1540.0zM1626.6 1743.1H1643.9V1747.4H1626.6zM1540.0 1747.4H1548.7V1751.7H1540.0zM1630.9 1747.4H1643.9V1751.7H1630.9zM1605.0 1751.7H1613.6V1756.0H1605.0zM1618.0 1751.7H1626.6V1756.0H1618.0zM1630.9 1751.7H1635.3V1756.0H1630.9zM1622.3 1756.0H1626.6V1760.4H1622.3zM1561.7 1760.4H1574.7V1764.7H1561.7zM1609.3 1760.4H1613.6V1764.7H1609.3zM1618.0 1760.4H1622.3V1764.7H1618.0zM1635.3 1760.4H1639.6V1764.7H1635.3zM1263.0 1764.7H1267.3V1769.0H1263.0zM1548.7 1764.7H1553.0V1769.0H1548.7zM1557.4 1764.7H1574.7V1769.0H1557.4zM1609.3 1764.7H1613.6V1769.0H1609.3zM1618.0 1764.7H1622.3V1769.0H1618.0zM1626.6 1764.7H1635.3V1769.0H1626.6zM1656.9 1764.7H1661.2V1769.0H1656.9zM1561.7 1769.0H1566.0V1773.4H1561.7zM1618.0 1769.0H1626.6V1773.4H1618.0zM1635.3 1769.0H1639.6V1773.4H1635.3zM1626.6 1773.4H1630.9V1777.7H1626.6zM1635.3 1773.4H1643.9V1777.7H1635.3zM1574.7 1777.7H1579.0V1782.0H1574.7zM1600.6 1777.7H1605.0V1782.0H1600.6zM1626.6 1777.7H1630.9V1782.0H1626.6zM1635.3 1777.7H1639.6V1782.0H1635.3zM1574.7 1782.0H1579.0V1786.3H1574.7zM1613.6 1782.0H1618.0V1786.3H1613.6zM1639.6 1782.0H1643.9V1786.3H1639.6zM1466.4 1786.3H1475.1V1790.7H1466.4zM1635.3 1786.3H1648.3V1790.7H1635.3zM1929.6 1786.3H1934.0V1790.7H1929.6zM1942.6 1786.3H1951.3V1790.7H1942.6zM1362.6 1790.7H1366.9V1795.0H1362.6zM1444.8 1790.7H1449.1V1795.0H1444.8zM1466.4 1790.7H1470.8V1795.0H1466.4zM1618.0 1790.7H1622.3V1795.0H1618.0zM1903.7 1790.7H1908.0V1795.0H1903.7zM1453.5 1795.0H1457.8V1799.3H1453.5zM1605.0 1795.0H1609.3V1799.3H1605.0zM1890.7 1795.0H1895.0V1799.3H1890.7zM1921.0 1795.0H1925.3V1799.3H1921.0zM1938.3 1795.0H1942.6V1799.3H1938.3zM1955.6 1795.0H1959.9V1799.3H1955.6zM1146.1 1799.3H1150.4V1803.7H1146.1zM1418.8 1799.3H1427.5V1803.7H1418.8zM1609.3 1799.3H1613.6V1803.7H1609.3zM1890.7 1799.3H1895.0V1803.7H1890.7zM1903.7 1799.3H1908.0V1803.7H1903.7zM1942.6 1799.3H1947.0V1803.7H1942.6zM1951.3 1799.3H1955.6V1803.7H1951.3zM1427.5 1803.7H1431.8V1808.0H1427.5zM1605.0 1803.7H1622.3V1808.0H1605.0zM1769.5 1803.7H1773.8V1808.0H1769.5zM1895.0 1803.7H1899.3V1808.0H1895.0zM1916.7 1803.7H1921.0V1808.0H1916.7zM1934.0 1803.7H1938.3V1808.0H1934.0zM1055.2 1808.0H1063.9V1812.3H1055.2zM1362.6 1808.0H1366.9V1812.3H1362.6zM1609.3 1808.0H1613.6V1812.3H1609.3zM1890.7 1808.0H1895.0V1812.3H1890.7zM1899.3 1808.0H1903.7V1812.3H1899.3zM1908.0 1808.0H1912.3V1812.3H1908.0zM1414.5 1812.3H1418.8V1816.6H1414.5zM1890.7 1812.3H1895.0V1816.6H1890.7zM1899.3 1812.3H1903.7V1816.6H1899.3zM1908.0 1812.3H1916.7V1816.6H1908.0zM1436.1 1816.6H1440.5V1821.0H1436.1zM1899.3 1816.6H1912.3V1821.0H1899.3zM1916.7 1821.0H1921.0V1825.3H1916.7zM1414.5 1825.3H1418.8V1829.6H1414.5zM1423.2 1825.3H1427.5V1829.6H1423.2zM1436.1 1825.3H1440.5V1829.6H1436.1zM1912.3 1825.3H1916.7V1829.6H1912.3zM1107.1 1829.6H1120.1V1834.0H1107.1zM1423.2 1829.6H1427.5V1834.0H1423.2zM1925.3 1829.6H1929.6V1834.0H1925.3zM1102.8 1834.0H1107.1V1838.3H1102.8zM1111.5 1834.0H1120.1V1838.3H1111.5zM1648.3 1834.0H1656.9V1838.3H1648.3zM1626.6 1838.3H1652.6V1842.6H1626.6zM1912.3 1838.3H1916.7V1842.6H1912.3zM1618.0 1842.6H1630.9V1846.9H1618.0zM1648.3 1842.6H1656.9V1846.9H1648.3zM1912.3 1842.6H1916.7V1846.9H1912.3zM1618.0 1846.9H1622.3V1851.3H1618.0zM1630.9 1846.9H1635.3V1851.3H1630.9zM1648.3 1846.9H1656.9V1851.3H1648.3zM1648.3 1851.3H1656.9V1855.6H1648.3zM1618.0 1855.6H1622.3V1859.9H1618.0zM1076.8 1859.9H1081.2V1864.3H1076.8zM1470.8 1859.9H1475.1V1864.3H1470.8zM1618.0 1859.9H1622.3V1864.3H1618.0zM1635.3 1859.9H1639.6V1864.3H1635.3zM1643.9 1859.9H1648.3V1864.3H1643.9zM1466.4 1864.3H1475.1V1868.6H1466.4zM1618.0 1864.3H1630.9V1868.6H1618.0zM1643.9 1864.3H1648.3V1868.6H1643.9zM1618.0 1868.6H1622.3V1872.9H1618.0zM1076.8 1872.9H1081.2V1877.2H1076.8zM1622.3 1872.9H1626.6V1877.2H1622.3zM1639.6 1872.9H1643.9V1877.2H1639.6zM1626.6 1877.2H1630.9V1881.6H1626.6zM1639.6 1877.2H1643.9V1881.6H1639.6zM1626.6 1881.6H1635.3V1885.9H1626.6zM1050.9 1885.9H1055.2V1890.2H1050.9zM1635.3 1885.9H1639.6V1890.2H1635.3zM1630.9 1890.2H1639.6V1894.6H1630.9zM2050.9 1890.2H2063.8V1894.6H2050.9zM1630.9 1894.6H1639.6V1898.9H1630.9zM2003.2 1898.9H2007.6V1903.2H2003.2zM2037.9 1898.9H2042.2V1903.2H2037.9zM2046.5 1898.9H2050.9V1903.2H2046.5zM1055.2 1903.2H1059.5V1907.6H1055.2zM1630.9 1903.2H1635.3V1907.6H1630.9zM2037.9 1903.2H2050.9V1907.6H2037.9zM1046.5 1907.6H1050.9V1911.9H1046.5zM1055.2 1907.6H1068.2V1911.9H1055.2zM2020.6 1907.6H2029.2V1911.9H2020.6zM2033.5 1907.6H2037.9V1911.9H2033.5zM2042.2 1907.6H2046.5V1911.9H2042.2zM2055.2 1907.6H2059.5V1911.9H2055.2zM2063.8 1907.6H2068.2V1911.9H2063.8zM1046.5 1911.9H1055.2V1916.2H1046.5zM1059.5 1911.9H1063.9V1916.2H1059.5zM1241.3 1911.9H1250.0V1916.2H1241.3zM2003.2 1911.9H2007.6V1916.2H2003.2zM2042.2 1911.9H2046.5V1916.2H2042.2zM2068.2 1911.9H2072.5V1916.2H2068.2zM1046.5 1916.2H1050.9V1920.5H1046.5zM1059.5 1916.2H1072.5V1920.5H1059.5zM1241.3 1916.2H1245.7V1920.5H1241.3zM1998.9 1916.2H2007.6V1920.5H1998.9zM2037.9 1916.2H2050.9V1920.5H2037.9zM2063.8 1916.2H2068.2V1920.5H2063.8zM1046.5 1920.5H1050.9V1924.9H1046.5zM1059.5 1920.5H1072.5V1924.9H1059.5zM1994.6 1920.5H2003.2V1924.9H1994.6zM2024.9 1920.5H2029.2V1924.9H2024.9zM2033.5 1920.5H2046.5V1924.9H2033.5zM2068.2 1920.5H2072.5V1924.9H2068.2zM1046.5 1924.9H1050.9V1929.2H1046.5zM1072.5 1924.9H1076.8V1929.2H1072.5zM1998.9 1924.9H2007.6V1929.2H1998.9zM2029.2 1924.9H2033.5V1929.2H2029.2zM2042.2 1924.9H2050.9V1929.2H2042.2zM2063.8 1924.9H2068.2V1929.2H2063.8zM1050.9 1929.2H1055.2V1933.5H1050.9zM1994.6 1929.2H2011.9V1933.5H1994.6zM2016.2 1929.2H2046.5V1933.5H2016.2zM2050.9 1929.2H2055.2V1933.5H2050.9zM2068.2 1929.2H2072.5V1933.5H2068.2zM1050.9 1933.5H1055.2V1937.9H1050.9zM1258.7 1933.5H1267.3V1937.9H1258.7zM1994.6 1933.5H1998.9V1937.9H1994.6zM2003.2 1933.5H2011.9V1937.9H2003.2zM2016.2 1933.5H2020.6V1937.9H2016.2zM2024.9 1933.5H2029.2V1937.9H2024.9zM2063.8 1933.5H2068.2V1937.9H2063.8zM1050.9 1937.9H1055.2V1942.2H1050.9zM1059.5 1937.9H1063.9V1942.2H1059.5zM1068.2 1937.9H1072.5V1942.2H1068.2zM1250.0 1937.9H1258.7V1942.2H1250.0zM2003.2 1937.9H2007.6V1942.2H2003.2zM2011.9 1937.9H2020.6V1942.2H2011.9zM2024.9 1937.9H2029.2V1942.2H2024.9zM2042.2 1937.9H2046.5V1942.2H2042.2zM2050.9 1937.9H2055.2V1942.2H2050.9zM2059.5 1937.9H2063.8V1942.2H2059.5zM1068.2 1942.2H1072.5V1946.5H1068.2zM1250.0 1942.2H1254.3V1946.5H1250.0zM1258.7 1942.2H1263.0V1946.5H1258.7zM1271.6 1942.2H1276.0V1946.5H1271.6zM1505.4 1942.2H1514.1V1946.5H1505.4zM2007.6 1942.2H2011.9V1946.5H2007.6zM2020.6 1942.2H2024.9V1946.5H2020.6zM2033.5 1942.2H2042.2V1946.5H2033.5zM2055.2 1942.2H2059.5V1946.5H2055.2zM2063.8 1942.2H2072.5V1946.5H2063.8zM1055.2 1946.5H1068.2V1950.8H1055.2zM1258.7 1946.5H1263.0V1950.8H1258.7zM1271.6 1946.5H1276.0V1950.8H1271.6zM1280.3 1946.5H1289.0V1950.8H1280.3zM2007.6 1946.5H2016.2V1950.8H2007.6zM2024.9 1946.5H2033.5V1950.8H2024.9zM2037.9 1946.5H2042.2V1950.8H2037.9zM2046.5 1946.5H2050.9V1950.8H2046.5zM2059.5 1946.5H2063.8V1950.8H2059.5zM2068.2 1946.5H2072.5V1950.8H2068.2zM1271.6 1950.8H1284.6V1955.2H1271.6zM2020.6 1950.8H2050.9V1955.2H2020.6zM2068.2 1950.8H2072.5V1955.2H2068.2zM2020.6 1955.2H2042.2V1959.5H2020.6zM2050.9 1955.2H2055.2V1959.5H2050.9zM2059.5 1955.2H2063.8V1959.5H2059.5z"/>
<path fill="#008000" d="M1786.8 327.5H1799.8V331.8H1786.8zM1778.1 331.8H1799.8V336.1H1778.1zM1765.1 336.1H1804.1V340.5H1765.1zM1765.1 340.5H1804.1V344.8H1765.1zM1760.8 344.8H1778.1V349.1H1760.8zM1786.8 344.8H1808.4V349.1H1786.8zM1760.8 349.1H1769.5V353.5H1760.8zM1791.1 349.1H1804.1V353.5H1791.1zM1760.8 353.5H1765.1V357.8H1760.8zM1786.8 353.5H1795.4V357.8H1786.8zM1773.8 357.8H1778.1V362.1H1773.8zM1782.5 357.8H1795.4V362.1H1782.5zM1700.2 362.1H1704.5V366.4H1700.2zM1760.8 362.1H1765.1V366.4H1760.8zM1773.8 362.1H1799.8V366.4H1773.8zM1708.9 366.4H1713.2V370.8H1708.9zM1721.9 366.4H1752.2V370.8H1721.9zM1760.8 366.4H1778.1V370.8H1760.8zM1782.5 366.4H1799.8V370.8H1782.5zM1869.0 366.4H1873.4V370.8H1869.0zM1717.5 370.8H1752.2V375.1H1717.5zM1760.8 370.8H1795.4V375.1H1760.8zM1869.0 370.8H1873.4V375.1H1869.0zM1886.4 370.8H1890.7V375.1H1886.4zM1700.2 375.1H1769.5V379.4H1700.2zM1773.8 375.1H1786.8V379.4H1773.8zM1795.4 375.1H1799.8V379.4H1795.4zM1700.2 379.4H1726.2V383.8H1700.2zM1730.5 379.4H1773.8V383.8H1730.5zM1721.9 383.8H1726.2V388.1H1721.9zM1765.1 388.1H1769.5V392.4H1765.1zM1877.7 388.1H1882.0V392.4H1877.7zM1721.9 392.4H1726.2V396.8H1721.9zM1730.5 392.4H1734.8V396.8H1730.5zM1773.8 401.1H1778.1V405.4H1773.8zM1185.1 1578.6H1189.4V1582.9H1185.1zM1193.7 1578.6H1198.1V1582.9H1193.7zM1189.4 1582.9H1193.7V1587.2H1189.4zM1198.1 1582.9H1206.7V1587.2H1198.1zM1579.0 1708.4H1583.3V1712.7H1579.0zM1566.0 1717.1H1570.3V1721.4H1566.0zM1579.0 1721.4H1583.3V1725.7H1579.0zM1579.0 1725.7H1583.3V1730.1H1579.0zM1540.0 1730.1H1544.4V1734.4H1540.0zM1566.0 1734.4H1570.3V1738.7H1566.0zM1592.0 1734.4H1596.3V1738.7H1592.0zM1600.6 1734.4H1613.6V1738.7H1600.6zM1561.7 1738.7H1570.3V1743.1H1561.7zM1592.0 1738.7H1613.6V1743.1H1592.0zM1635.3 1738.7H1639.6V1743.1H1635.3zM1626.6 1747.4H1630.9V1751.7H1626.6zM1635.3 1751.7H1639.6V1756.0H1635.3zM1643.9 1751.7H1648.3V1756.0H1643.9zM1717.5 1751.7H1726.2V1756.0H1717.5zM1518.4 1756.0H1527.1V1760.4H1518.4zM1596.3 1756.0H1600.6V1760.4H1596.3zM1605.0 1756.0H1609.3V1760.4H1605.0zM1613.6 1756.0H1618.0V1760.4H1613.6zM1643.9 1756.0H1648.3V1760.4H1643.9zM1522.7 1760.4H1527.1V1764.7H1522.7zM1605.0 1760.4H1609.3V1764.7H1605.0zM1613.6 1760.4H1618.0V1764.7H1613.6zM1622.3 1760.4H1630.9V1764.7H1622.3zM1527.1 1764.7H1535.7V1769.0H1527.1zM1613.6 1764.7H1618.0V1769.0H1613.6zM1622.3 1764.7H1626.6V1769.0H1622.3zM1527.1 1769.0H1535.7V1773.4H1527.1zM1622.3 1773.4H1626.6V1777.7H1622.3zM1626.6 1782.0H1630.9V1786.3H1626.6zM1475.1 1786.3H1479.4V1790.7H1475.1zM1475.1 1790.7H1479.4V1795.0H1475.1zM1358.2 1795.0H1362.6V1799.3H1358.2zM1475.1 1795.0H1479.4V1799.3H1475.1zM1942.6 1795.0H1955.6V1799.3H1942.6zM1358.2 1799.3H1366.9V1803.7H1358.2zM1938.3 1799.3H1942.6V1803.7H1938.3zM1955.6 1799.3H1959.9V1803.7H1955.6zM1358.2 1803.7H1366.9V1808.0H1358.2zM1418.8 1803.7H1423.2V1808.0H1418.8zM1938.3 1803.7H1942.6V1808.0H1938.3zM1358.2 1808.0H1362.6V1812.3H1358.2zM1414.5 1808.0H1418.8V1812.3H1414.5zM1427.5 1808.0H1431.8V1812.3H1427.5zM1765.1 1808.0H1769.5V1812.3H1765.1zM1427.5 1812.3H1431.8V1816.6H1427.5zM1895.0 1812.3H1899.3V1816.6H1895.0zM1903.7 1812.3H1908.0V1816.6H1903.7zM1431.8 1816.6H1436.1V1821.0H1431.8zM1925.3 1816.6H1929.6V1821.0H1925.3zM1418.8 1821.0H1436.1V1825.3H1418.8zM1899.3 1821.0H1908.0V1825.3H1899.3zM1925.3 1821.0H1929.6V1825.3H1925.3zM1921.0 1825.3H1925.3V1829.6H1921.0zM1929.6 1825.3H1934.0V1829.6H1929.6zM1072.5 1829.6H1076.8V1834.0H1072.5zM1102.8 1829.6H1107.1V1834.0H1102.8zM1427.5 1829.6H1431.8V1834.0H1427.5zM1916.7 1829.6H1925.3V1834.0H1916.7zM1916.7 1834.0H1921.0V1838.3H1916.7zM1630.9 1842.6H1639.6V1846.9H1630.9zM1094.2 1846.9H1098.5V1851.3H1094.2zM1622.3 1846.9H1626.6V1851.3H1622.3zM1639.6 1846.9H1648.3V1851.3H1639.6zM1076.8 1851.3H1081.2V1855.6H1076.8zM1618.0 1851.3H1630.9V1855.6H1618.0zM1643.9 1851.3H1648.3V1855.6H1643.9zM1076.8 1855.6H1081.2V1859.9H1076.8zM1622.3 1855.6H1626.6V1859.9H1622.3zM1630.9 1855.6H1635.3V1859.9H1630.9zM1648.3 1855.6H1652.6V1859.9H1648.3zM1466.4 1859.9H1470.8V1864.3H1466.4zM1626.6 1859.9H1630.9V1864.3H1626.6zM1076.8 1864.3H1081.2V1868.6H1076.8zM1626.6 1868.6H1630.9V1872.9H1626.6zM1626.6 1872.9H1630.9V1877.2H1626.6zM1622.3 1877.2H1626.6V1881.6H1622.3zM1622.3 1881.6H1626.6V1885.9H1622.3zM1635.3 1881.6H1639.6V1885.9H1635.3zM1630.9 1885.9H1635.3V1890.2H1630.9zM2050.9 1894.6H2055.2V1898.9H2050.9zM2050.9 1898.9H2055.2V1903.2H2050.9zM1059.5 1903.2H1063.9V1907.6H1059.5zM1050.9 1907.6H1055.2V1911.9H1050.9zM2029.2 1907.6H2033.5V1911.9H2029.2zM1055.2 1911.9H1059.5V1916.2H1055.2zM2063.8 1911.9H2068.2V1916.2H2063.8zM1245.7 1916.2H1250.0V1920.5H1245.7zM2068.2 1916.2H2072.5V1920.5H2068.2zM2046.5 1920.5H2050.9V1924.9H2046.5zM2063.8 1920.5H2068.2V1924.9H2063.8zM2011.9 1924.9H2016.2V1929.2H2011.9zM2020.6 1924.9H2024.9V1929.2H2020.6zM2033.5 1924.9H2037.9V1929.2H2033.5zM2011.9 1929.2H2016.2V1933.5H2011.9zM2046.5 1929.2H2050.9V1933.5H2046.5zM1267.3 1933.5H1271.6V1937.9H1267.3zM2033.5 1933.5H2042.2V1937.9H2033.5zM2046.5 1933.5H2059.5V1937.9H2046.5zM1055.2 1937.9H1059.5V1942.2H1055.2zM1063.9 1937.9H1068.2V1942.2H1063.9zM2037.9 1937.9H2042.2V1942.2H2037.9zM2046.5 1937.9H2050.9V1942.2H2046.5zM2055.2 1937.9H2059.5V1942.2H2055.2zM2068.2 1937.9H2072.5V1942.2H2068.2zM1254.3 1942.2H1258.7V1946.5H1254.3zM2042.2 1942.2H2050.9V1946.5H2042.2zM2059.5 1942.2H2063.8V1946.5H2059.5zM1263.0 1946.5H1271.6V1950.8H1263.0zM1276.0 1946.5H1280.3V1950.8H1276.0zM2020.6 1946.5H2024.9V1950.8H2020.6zM2050.9 1946.5H2059.5V1950.8H2050.9zM2055.2 1950.8H2068.2V1955.2H2055.2zM2042.2 1955.2H2046.5V1959.5H2042.2zM2055.2 1955.2H2059.5V1959.5H2055.2z"/>
<path fill="#006400" d="M1778.1 344.8H1786.8V349.1H1778.1zM1769.5 349.1H1791.1V353.5H1769.5zM1765.1 353.5H1786.8V357.8H1765.1zM1760.8 357.8H1773.8V362.1H1760.8zM1778.1 357.8H1782.5V362.1H1778.1zM1765.1 362.1H1773.8V366.4H1765.1zM1587.7 1734.4H1592.0V1738.7H1587.7zM1639.6 1751.7H1643.9V1756.0H1639.6zM1600.6 1756.0H1605.0V1760.4H1600.6zM1609.3 1756.0H1613.6V1760.4H1609.3zM1630.9 1756.0H1643.9V1760.4H1630.9zM1527.1 1760.4H1531.4V1764.7H1527.1zM1626.6 1769.0H1635.3V1773.4H1626.6zM1630.9 1773.4H1635.3V1777.7H1630.9zM1630.9 1777.7H1635.3V1782.0H1630.9zM1630.9 1782.0H1639.6V1786.3H1630.9zM1449.1 1790.7H1453.5V1795.0H1449.1zM1362.6 1795.0H1366.9V1799.3H1362.6zM1470.8 1795.0H1475.1V1799.3H1470.8zM1141.8 1799.3H1146.1V1803.7H1141.8zM1934.0 1799.3H1938.3V1803.7H1934.0zM1947.0 1799.3H1951.3V1803.7H1947.0zM1418.8 1808.0H1427.5V1812.3H1418.8zM1418.8 1812.3H1427.5V1816.6H1418.8zM1418.8 1816.6H1431.8V1821.0H1418.8zM1929.6 1821.0H1934.0V1825.3H1929.6zM1916.7 1825.3H1921.0V1829.6H1916.7zM1925.3 1825.3H1929.6V1829.6H1925.3zM1639.6 1842.6H1643.9V1846.9H1639.6zM1635.3 1846.9H1639.6V1851.3H1635.3zM1630.9 1851.3H1643.9V1855.6H1630.9zM1635.3 1855.6H1648.3V1859.9H1635.3zM1630.9 1859.9H1635.3V1864.3H1630.9zM1639.6 1859.9H1643.9V1864.3H1639.6zM1630.9 1864.3H1643.9V1868.6H1630.9zM1076.8 1868.6H1081.2V1872.9H1076.8zM1630.9 1868.6H1643.9V1872.9H1630.9zM1630.9 1872.9H1639.6V1877.2H1630.9zM1630.9 1877.2H1639.6V1881.6H1630.9zM2042.2 1933.5H2046.5V1937.9H2042.2zM1063.9 1942.2H1068.2V1946.5H1063.9zM2050.9 1942.2H2055.2V1946.5H2050.9zM2063.8 1946.5H2068.2V1950.8H2063.8zM2050.9 1950.8H2055.2V1955.2H2050.9z"/>
<path fill="#ffff00" d="M1254.3 1769.0H1258.7V1773.4H1254.3zM1414.5 1816.6H1418.8V1821.0H1414.5zM1414.5 1821.0H1418.8V1825.3H1414.5z"/></g>
<path class="ct" d="M427.6 375.2C428.3 372.7 430.5 364.3 432.0 360.0C433.4 355.7 434.9 351.7 436.3 349.1C437.8 346.5 437.9 345.8 440.7 344.3C443.4 342.9 447.0 340.3 452.6 340.4C458.2 340.6 467.8 344.4 474.3 345.4C480.9 346.4 485.2 345.5 491.7 346.5C498.3 347.5 506.6 350.7 513.5 351.3C520.4 351.9 528.0 350.4 533.0 350.2C538.1 350.0 540.3 350.7 543.9 350.2C547.5 349.7 551.5 347.4 554.8 347.4C558.0 347.4 560.9 348.1 563.5 350.2C566.0 352.3 568.4 357.2 570.0 360.0C571.6 362.8 573.1 365.0 573.3 367.0C573.4 368.9 572.9 370.1 571.1 372.0C569.3 373.8 565.8 376.2 562.4 377.8C558.9 379.5 553.9 380.5 550.4 381.7C547.0 382.9 543.9 383.7 541.7 385.0C539.6 386.3 538.7 387.5 537.4 389.3C536.1 391.2 535.2 393.2 534.1 395.9C533.0 398.6 531.4 404.0 530.9 405.7 M527.6 460.0C527.2 461.2 526.3 464.4 525.4 467.0C524.5 469.5 523.0 472.2 522.2 475.2C521.3 478.2 521.5 481.7 520.4 485.0C519.3 488.3 517.7 492.1 515.7 494.8C513.6 497.5 510.6 499.9 508.0 501.3C505.5 502.7 503.3 503.5 500.4 503.0C497.5 502.6 493.9 499.0 490.7 498.7C487.4 498.4 484.3 500.4 480.9 501.3C477.4 502.2 473.6 503.3 470.0 504.1C466.4 505.0 462.4 506.3 459.1 506.3C455.9 506.3 452.6 505.7 450.4 504.1C448.3 502.6 447.5 500.0 446.1 497.0C444.6 493.9 443.2 490.3 441.7 486.1C440.3 481.9 439.0 476.3 437.4 472.0C435.8 467.6 433.4 464.2 432.0 460.0C430.5 455.8 429.5 451.1 428.7 447.0C427.9 442.8 427.4 437.0 427.2 435.0 M611.3 314.8C612.0 315.8 614.2 317.3 615.7 320.9C617.1 324.4 619.5 332.5 620.0 336.1C620.5 339.7 618.7 339.0 618.9 342.6C619.1 346.2 620.4 352.8 621.1 357.8C621.8 362.9 622.4 368.7 623.3 373.0C624.2 377.4 625.1 380.1 626.5 383.9C628.0 387.7 630.7 393.0 632.0 395.9C633.2 398.8 633.0 398.6 634.1 401.3C635.2 404.0 637.2 408.2 638.5 412.2C639.7 416.2 640.8 420.1 641.7 425.2C642.7 430.3 644.1 438.9 644.3 442.6C644.6 446.3 644.6 445.8 643.5 447.4C642.3 449.0 638.9 450.9 637.4 452.4C635.8 453.8 635.4 454.5 634.1 456.1C632.9 457.7 631.2 459.2 629.8 462.2C628.3 465.2 625.6 469.8 625.4 474.1C625.3 478.5 628.2 483.0 628.7 488.3C629.2 493.5 627.9 499.9 628.3 505.7C628.6 511.4 630.0 517.2 630.9 523.0C631.7 528.8 632.8 534.6 633.5 540.4C634.2 546.2 634.6 552.4 635.2 557.8C635.8 563.3 637.0 569.1 637.0 573.0C637.0 577.0 636.4 578.8 635.2 581.7C634.0 584.6 633.0 587.2 629.8 590.4C626.5 593.7 618.6 598.2 615.7 601.3C612.8 604.4 613.7 606.7 612.4 608.9C611.1 611.1 609.3 613.8 608.0 614.3C606.8 614.9 606.4 614.0 604.8 612.2C603.2 610.4 600.4 606.0 598.3 603.5C596.1 600.9 594.3 598.3 591.7 597.0C589.2 595.6 585.9 595.0 583.0 595.2C580.1 595.4 577.4 596.7 574.3 598.0C571.3 599.4 567.1 602.4 564.6 603.5C562.0 604.6 563.1 604.5 559.1 604.8C555.1 605.1 543.7 605.1 540.7 605.2 M427.2 569.8C428.5 567.8 432.6 561.4 435.2 557.8C437.8 554.2 441.0 550.9 442.8 548.0C444.6 545.1 445.2 543.0 446.1 540.4C447.0 537.9 447.2 534.6 448.3 532.8C449.3 531.1 450.3 530.7 452.6 530.0C455.0 529.3 460.0 529.8 462.4 528.5C464.7 527.1 465.3 523.8 466.7 522.0C468.2 520.1 469.6 518.6 471.1 517.6C472.5 516.6 474.0 515.8 475.4 515.9C476.9 516.0 478.5 516.5 479.8 518.3C481.1 520.0 482.1 523.3 483.0 526.3C483.9 529.3 484.5 533.4 485.2 536.1C485.9 538.8 486.5 540.9 487.4 542.6C488.3 544.3 489.4 545.2 490.7 546.3C491.9 547.4 494.3 548.7 495.0 549.1 M788.0 314.8C789.2 316.0 793.3 319.5 795.0 322.0C796.7 324.4 797.2 325.4 798.3 329.6C799.3 333.7 800.1 340.4 801.5 347.0C803.0 353.5 804.6 360.0 807.0 368.7C809.3 377.4 812.8 389.3 815.7 399.1C818.6 408.9 821.1 418.0 824.3 427.4C827.6 436.8 833.2 451.0 835.0 455.7 M427.2 716.5L428.4 725.0 M835.0 455.7C835.6 457.5 836.4 459.6 838.7 466.5C840.9 473.4 845.9 488.6 848.5 497.0C851.0 505.3 852.3 509.3 853.9 516.5C855.5 523.8 856.4 531.7 858.3 540.4C860.1 549.1 862.8 560.4 864.8 568.7C866.8 577.0 868.6 583.2 870.2 590.4C871.8 597.7 873.7 606.7 874.6 612.2C875.5 617.6 874.9 619.8 875.7 623.0C876.4 626.3 877.3 628.1 878.9 631.7C880.5 635.4 883.4 640.1 885.4 644.8C887.4 649.5 889.6 654.9 890.9 660.0C892.1 665.1 892.3 669.8 893.0 675.2C893.8 680.7 895.0 687.5 895.2 692.6C895.5 697.7 894.0 702.0 894.6 705.7C895.1 709.3 896.7 711.3 898.5 714.3C900.2 717.4 903.8 722.4 905.0 724.1C906.2 725.9 905.7 724.9 905.9 725.0 M910.9 314.8C911.9 317.2 914.9 323.5 917.0 329.6C919.1 335.7 920.6 342.6 923.5 351.3C926.4 360.0 931.1 371.6 934.3 381.7C937.6 391.9 940.3 403.1 943.0 412.2C945.8 421.2 947.4 427.0 950.7 436.1C953.9 445.1 959.2 457.1 962.6 466.5C966.1 475.9 968.0 483.6 971.3 492.6C974.6 501.7 978.2 512.2 982.2 520.9C986.2 529.6 991.6 537.9 995.2 544.8C998.8 551.7 999.6 554.6 1003.9 562.2C1008.3 569.8 1015.5 581.0 1021.3 590.4C1027.1 599.9 1032.9 608.9 1038.7 618.7C1044.5 628.5 1050.3 639.0 1056.1 649.1C1061.9 659.3 1068.4 670.5 1073.5 679.6C1078.6 688.6 1083.1 697.3 1086.5 703.5C1090.0 709.6 1092.2 712.9 1094.1 716.5C1096.1 720.1 1097.5 723.6 1098.1 725.0 M1000.0 314.8C1000.7 316.2 1002.7 319.5 1003.9 323.0C1005.1 326.6 1005.4 330.3 1007.2 336.1C1009.0 341.9 1011.7 349.5 1014.8 357.8C1017.9 366.2 1022.0 376.7 1025.7 386.1C1029.3 395.5 1032.9 406.0 1036.5 414.3C1040.1 422.7 1043.4 428.5 1047.4 436.1C1051.4 443.7 1055.7 452.0 1060.4 460.0C1065.1 468.0 1070.6 475.9 1075.7 483.9C1080.7 491.9 1084.7 498.8 1090.9 507.8C1097.0 516.9 1105.4 528.8 1112.6 538.3C1119.9 547.7 1127.8 556.4 1134.3 564.3C1140.9 572.3 1146.7 579.2 1151.7 586.1C1156.8 593.0 1160.4 598.8 1164.8 605.7C1169.1 612.5 1172.8 618.7 1177.8 627.4C1182.9 636.1 1190.1 649.1 1195.2 657.8C1200.3 666.5 1204.3 672.3 1208.3 679.6C1212.2 686.8 1216.2 695.1 1219.1 701.3C1222.0 707.5 1223.9 712.6 1225.7 716.5C1227.4 720.5 1228.7 723.6 1229.4 725.0 M1083.3 314.8C1083.2 316.2 1082.6 319.1 1082.6 323.0C1082.6 327.0 1082.2 332.5 1083.3 338.3C1084.3 344.1 1086.0 350.6 1088.7 357.8C1091.4 365.1 1095.6 373.4 1099.6 381.7C1103.6 390.1 1108.6 399.5 1112.6 407.8C1116.6 416.2 1119.9 424.1 1123.5 431.7C1127.1 439.3 1130.7 447.0 1134.3 453.5C1138.0 460.0 1141.6 465.8 1145.2 470.9C1148.8 475.9 1151.7 479.4 1156.1 483.9C1160.4 488.4 1165.9 493.5 1171.3 498.0C1176.7 502.6 1184.0 507.1 1188.7 511.1C1193.4 515.1 1196.3 518.2 1199.6 522.0C1202.8 525.8 1204.6 528.7 1208.3 533.9C1211.9 539.2 1217.3 547.3 1221.3 553.5C1225.3 559.6 1228.6 565.4 1232.2 570.9C1235.8 576.3 1240.9 583.0 1243.0 586.1C1245.2 589.2 1244.7 588.9 1245.0 589.5 M1143.0 314.8C1142.8 316.2 1141.7 319.1 1141.3 323.0C1140.9 327.0 1140.6 333.2 1140.9 338.3C1141.2 343.3 1141.6 347.7 1143.0 353.5C1144.5 359.3 1146.7 365.8 1149.6 373.0C1152.5 380.3 1156.8 390.1 1160.4 397.0C1164.1 403.8 1167.0 408.2 1171.3 414.3C1175.7 420.5 1181.8 428.1 1186.5 433.9C1191.2 439.7 1195.9 445.4 1199.6 449.1C1203.2 452.8 1204.6 453.9 1208.3 456.1C1211.9 458.3 1217.5 460.3 1221.3 462.2C1225.1 464.1 1227.8 465.1 1231.1 467.6C1234.3 470.1 1238.6 474.8 1240.9 477.4C1243.2 480.0 1244.3 482.2 1245.0 483.1 M1183.3 314.8C1183.0 316.2 1181.7 319.1 1181.5 323.0C1181.3 327.0 1181.7 333.6 1182.2 338.3C1182.6 343.0 1182.2 346.6 1184.3 351.3C1186.5 356.0 1191.2 361.1 1195.2 366.5C1199.2 372.0 1204.3 379.0 1208.3 383.9C1212.2 388.8 1215.9 393.0 1219.1 395.9C1222.4 398.8 1224.6 399.9 1227.8 401.3C1231.1 402.8 1235.8 403.9 1238.7 404.6C1241.6 405.3 1243.9 405.4 1245.0 405.6 M1245.0 405.6C1245.8 405.6 1247.7 406.4 1249.8 405.7C1251.8 404.9 1253.6 404.2 1257.4 401.3C1261.2 398.4 1266.4 393.3 1272.6 388.3C1278.8 383.2 1287.1 375.9 1294.3 370.9C1301.6 365.8 1309.6 361.6 1316.1 357.8C1322.6 354.0 1328.8 350.4 1333.5 348.0C1338.2 345.7 1341.3 344.5 1344.3 343.7C1347.4 342.9 1349.4 342.7 1352.0 343.0C1354.5 343.4 1356.8 344.1 1359.6 345.9C1362.3 347.6 1365.0 349.9 1368.3 353.5C1371.5 357.1 1375.5 362.2 1379.1 367.6C1382.8 373.0 1386.4 379.4 1390.0 386.1C1393.6 392.8 1397.2 400.2 1400.9 407.8C1404.5 415.4 1408.8 424.9 1411.7 431.7C1414.6 438.6 1416.3 442.8 1418.3 449.1C1420.3 455.5 1421.5 463.6 1423.7 469.8C1425.9 475.9 1428.2 480.1 1431.3 486.1C1434.4 492.1 1439.3 499.5 1442.2 505.7C1445.1 511.8 1446.7 518.0 1448.7 523.0C1450.7 528.1 1451.6 531.0 1454.1 536.1C1456.7 541.2 1460.5 547.7 1463.9 553.5C1467.4 559.3 1471.7 566.2 1474.8 570.9C1477.9 575.6 1480.6 578.5 1482.4 581.7C1484.2 585.0 1484.9 587.2 1485.7 590.4C1486.4 593.7 1486.0 597.7 1486.7 601.3C1487.5 604.9 1488.9 608.9 1490.0 612.2C1491.1 615.4 1492.7 618.0 1493.3 620.9C1493.8 623.8 1492.7 626.7 1493.3 629.6C1493.8 632.5 1494.5 635.4 1496.5 638.3C1498.5 641.2 1501.2 643.9 1505.2 647.0C1509.2 650.0 1515.0 653.1 1520.4 656.7C1525.9 660.4 1532.0 664.9 1537.8 668.7C1543.6 672.5 1548.3 675.8 1555.2 679.6C1562.1 683.4 1571.9 687.9 1579.1 691.5C1586.4 695.1 1592.9 698.2 1598.7 701.3C1604.5 704.4 1609.9 707.1 1613.9 710.0C1617.9 712.9 1619.2 716.2 1622.6 718.7C1626.0 721.2 1632.2 723.9 1634.1 725.0 M1245.0 483.1C1246.3 484.7 1249.2 488.5 1253.0 492.6C1256.9 496.7 1263.2 502.4 1268.3 507.8C1273.3 513.3 1278.4 519.4 1283.5 525.2C1288.6 531.0 1293.6 537.2 1298.7 542.6C1303.8 548.0 1309.6 553.1 1313.9 557.8C1318.3 562.5 1321.9 566.5 1324.8 570.9C1327.7 575.2 1328.4 578.8 1331.3 583.9C1334.2 589.0 1338.2 596.6 1342.2 601.3C1346.2 606.0 1350.5 608.2 1355.2 612.2C1359.9 616.2 1365.0 620.5 1370.4 625.2C1375.9 629.9 1382.4 635.7 1387.8 640.4C1393.3 645.1 1397.6 648.4 1403.0 653.5C1408.5 658.6 1415.0 665.1 1420.4 670.9C1425.9 676.7 1430.6 682.5 1435.7 688.3C1440.7 694.1 1446.2 700.6 1450.9 705.7C1455.6 710.7 1460.7 715.8 1463.9 718.7C1467.2 721.6 1468.2 722.0 1470.4 723.0C1472.6 724.1 1476.0 724.7 1477.1 725.0 M1245.0 589.5C1246.3 591.4 1249.5 596.1 1253.0 601.3C1256.6 606.5 1262.1 614.7 1266.1 620.9C1270.1 627.0 1273.0 631.7 1277.0 638.3C1280.9 644.8 1285.7 653.1 1290.0 660.0C1294.3 666.9 1299.1 673.4 1303.0 679.6C1307.0 685.7 1310.3 691.5 1313.9 697.0C1317.5 702.4 1321.5 707.8 1324.8 712.2C1328.0 716.5 1331.2 720.9 1333.5 723.0C1335.7 725.2 1337.6 724.7 1338.4 725.0 M1609.6 314.8C1612.5 315.3 1622.8 316.8 1627.0 317.6C1631.1 318.4 1632.9 318.7 1634.6 319.8C1636.2 320.9 1636.9 322.7 1636.7 324.1C1636.6 325.6 1635.5 326.8 1633.5 328.5C1631.5 330.1 1627.7 331.6 1624.8 333.9C1621.9 336.3 1618.6 339.0 1616.1 342.6C1613.6 346.2 1612.1 351.3 1609.6 355.7C1607.0 360.0 1603.8 365.1 1600.9 368.7C1598.0 372.3 1595.1 373.8 1592.2 377.4C1589.3 381.0 1586.0 385.7 1583.5 390.4C1580.9 395.1 1579.1 400.2 1577.0 405.7C1574.8 411.1 1572.2 417.2 1570.4 423.0C1568.6 428.8 1567.0 435.7 1566.1 440.4C1565.2 445.1 1565.7 447.0 1565.0 451.3C1564.3 455.7 1563.4 461.1 1561.7 466.5C1560.1 472.0 1557.4 478.1 1555.2 483.9C1553.0 489.7 1550.3 495.9 1548.7 501.3C1547.1 506.7 1546.1 512.7 1545.4 516.5C1544.8 520.3 1544.2 521.6 1544.8 524.1C1545.3 526.7 1546.6 528.7 1548.7 531.7C1550.8 534.8 1554.9 539.3 1557.4 542.6C1559.9 545.9 1562.3 548.8 1563.9 551.3C1565.5 553.8 1565.4 555.3 1567.2 557.8C1569.0 560.4 1571.7 562.9 1574.8 566.5C1577.9 570.1 1582.0 574.9 1585.7 579.6C1589.3 584.3 1592.9 589.9 1596.5 594.8C1600.1 599.7 1603.8 604.9 1607.4 608.9C1611.0 612.9 1614.3 615.4 1618.3 618.7C1622.2 622.0 1627.0 625.4 1631.3 628.5C1635.7 631.6 1640.4 634.7 1644.3 637.2C1648.3 639.6 1653.2 642.3 1655.0 643.3 M1742.4 314.9C1741.8 315.7 1741.8 318.6 1739.0 320.0C1736.2 321.4 1729.4 322.1 1725.7 323.4C1722.0 324.7 1719.0 325.6 1716.8 327.8C1714.5 330.0 1713.6 331.5 1712.3 336.7C1711.0 341.9 1710.5 352.7 1709.0 359.0C1707.5 365.3 1706.2 369.0 1703.4 374.5C1700.6 380.1 1695.6 386.4 1692.3 392.4C1688.9 398.3 1686.0 404.2 1683.4 410.2C1680.8 416.1 1678.7 421.7 1676.7 428.0C1674.7 434.3 1673.4 440.6 1671.1 448.0C1668.9 455.4 1665.4 465.8 1663.4 472.5C1661.3 479.2 1659.5 483.2 1658.9 488.1C1658.3 492.9 1659.3 497.7 1660.0 501.4C1660.8 505.1 1663.0 507.0 1663.4 510.3C1663.7 513.7 1663.5 517.4 1662.2 521.4C1660.9 525.5 1656.8 531.6 1655.6 534.8C1654.4 538.0 1655.1 539.6 1655.0 540.5 M1655.0 540.5C1655.7 542.5 1656.4 548.4 1658.9 552.6C1661.4 556.8 1666.0 562.2 1670.0 566.0C1674.1 569.7 1677.5 571.7 1683.4 574.9C1689.3 578.0 1698.2 582.3 1705.6 584.9C1713.1 587.5 1720.5 589.0 1727.9 590.4C1735.3 591.9 1740.9 593.0 1750.2 593.8C1759.4 594.6 1772.4 595.4 1783.5 595.3C1794.7 595.2 1805.8 594.1 1816.9 593.1C1828.1 592.1 1841.0 590.7 1850.3 589.3C1859.6 588.0 1865.1 586.4 1872.6 584.9C1880.0 583.4 1888.1 582.1 1894.8 580.4C1901.5 578.8 1907.1 577.6 1912.6 574.9C1918.2 572.1 1922.6 567.4 1928.2 563.7C1933.8 560.0 1940.5 556.7 1946.0 552.6C1951.6 548.5 1957.1 543.3 1961.6 539.2C1966.0 535.2 1969.0 532.6 1972.7 528.1C1976.4 523.7 1979.8 517.0 1983.9 512.5C1987.9 508.1 1992.8 504.2 1997.2 501.4C2001.7 498.6 2005.4 497.3 2010.6 495.8C2015.8 494.4 2022.1 493.5 2028.4 493.0C2034.7 492.4 2043.9 493.3 2048.4 492.5C2052.8 491.7 2053.2 490.3 2055.1 488.1C2056.9 485.8 2057.7 481.6 2059.5 479.2C2061.4 476.7 2064.1 474.8 2066.2 473.6C2068.4 472.4 2071.4 472.3 2072.4 472.0 M1788.0 517.4C1786.5 517.4 1781.9 517.4 1779.1 517.0C1776.3 516.5 1773.2 515.9 1771.3 514.8C1769.4 513.7 1768.3 512.2 1768.0 510.3C1767.6 508.5 1768.0 506.2 1769.1 503.6C1770.2 501.0 1773.0 498.1 1774.6 494.7C1776.2 491.4 1778.1 487.7 1778.6 483.6C1779.2 479.5 1777.5 474.7 1778.0 470.2C1778.4 465.8 1780.2 461.3 1781.3 456.9C1782.4 452.4 1783.5 447.6 1784.7 443.5C1785.8 439.5 1786.3 435.8 1788.0 432.4C1789.7 429.1 1792.1 426.1 1794.7 423.5C1797.3 420.9 1801.7 418.7 1803.6 416.8C1805.4 415.0 1805.1 415.3 1805.8 412.4C1806.5 409.4 1806.5 402.4 1808.0 399.0C1809.5 395.7 1812.5 393.8 1814.7 392.4C1816.9 390.9 1819.5 390.2 1821.4 390.6C1823.2 390.9 1824.7 392.1 1825.8 394.6C1826.9 397.1 1827.9 402.0 1828.1 405.7C1828.2 409.4 1828.1 414.2 1826.9 416.8C1825.8 419.4 1823.4 420.0 1821.4 421.3C1819.3 422.6 1816.9 422.6 1814.7 424.6C1812.5 426.7 1809.7 430.4 1808.0 433.5C1806.4 436.7 1804.9 441.1 1804.7 443.5C1804.5 446.0 1805.6 447.4 1806.9 448.0C1808.2 448.5 1810.1 448.0 1812.5 446.9C1814.9 445.8 1818.8 443.7 1821.4 441.3C1824.0 438.9 1826.2 434.8 1828.1 432.4C1829.9 430.0 1830.7 427.8 1832.5 426.8C1834.4 425.9 1837.0 426.1 1839.2 426.8C1841.4 427.6 1844.0 429.3 1845.9 431.3C1847.7 433.3 1849.3 436.3 1850.3 439.1C1851.4 441.9 1851.9 445.2 1852.1 448.0C1852.3 450.8 1851.5 454.5 1851.4 455.8 M1655.0 643.3C1657.1 644.9 1662.0 649.7 1667.8 652.8C1673.6 655.8 1681.9 659.1 1690.1 661.7C1698.2 664.3 1708.6 665.7 1716.8 668.3C1724.9 670.9 1731.6 674.6 1739.0 677.2C1746.4 679.8 1753.9 681.7 1761.3 683.9C1768.7 686.1 1776.9 688.2 1783.5 690.6C1790.2 693.0 1794.7 696.8 1801.3 698.4C1808.0 699.9 1815.4 699.7 1823.6 699.9C1831.8 700.2 1843.6 700.4 1850.3 699.9C1857.0 699.5 1858.1 698.6 1863.7 697.3C1869.2 695.9 1876.6 693.2 1883.7 691.7C1890.7 690.2 1899.6 689.1 1906.0 688.4C1912.3 687.6 1918.0 688.0 1921.5 687.3C1925.1 686.5 1925.8 685.4 1927.1 683.9C1928.4 682.4 1928.2 679.6 1929.3 678.4C1930.4 677.1 1932.1 675.9 1933.8 676.1C1935.4 676.3 1937.7 678.0 1939.3 679.5C1941.0 680.9 1941.9 683.7 1943.8 685.0C1945.6 686.3 1947.5 687.4 1950.5 687.3C1953.4 687.1 1956.8 686.0 1961.6 683.9C1966.4 681.9 1973.5 677.6 1979.4 675.0C1985.3 672.4 1990.9 670.2 1997.2 668.3C2003.5 666.5 2011.3 665.7 2017.2 663.9C2023.2 662.0 2027.3 659.4 2032.8 657.2C2038.4 655.0 2045.4 652.6 2050.6 650.5C2055.8 648.5 2060.3 647.2 2064.0 645.0C2067.6 642.7 2071.0 638.5 2072.4 637.2 M428.4 725.0C428.6 726.3 429.0 729.5 429.8 733.0C430.6 736.6 431.4 742.1 433.0 746.1C434.7 750.1 437.9 753.3 439.6 757.0C441.2 760.6 442.1 764.2 442.8 767.8C443.6 771.4 444.1 775.4 443.9 778.7C443.7 782.0 442.8 784.9 441.7 787.4C440.7 789.9 439.0 792.1 437.4 793.9C435.8 795.7 433.7 797.4 432.0 798.3C430.3 799.2 428.0 799.2 427.2 799.3 M688.9 1135.0C689.7 1134.7 692.4 1134.5 693.9 1133.0C695.4 1131.6 697.5 1129.1 697.8 1126.5C698.2 1124.0 696.0 1120.4 696.1 1117.8C696.2 1115.3 696.4 1113.3 698.3 1111.3C700.1 1109.3 703.3 1107.3 707.0 1105.9C710.6 1104.4 715.7 1103.4 720.0 1102.6C724.3 1101.8 729.1 1100.9 733.0 1100.9C737.0 1100.8 740.8 1101.2 743.9 1102.2C747.0 1103.2 749.7 1105.1 751.5 1107.0C753.3 1108.8 754.8 1110.6 754.8 1113.5C754.8 1116.4 752.8 1120.8 751.5 1124.3C750.2 1127.9 747.9 1133.2 747.1 1135.0 M905.9 725.0C906.3 725.6 907.8 725.9 908.3 728.7C908.7 731.5 909.1 737.8 908.7 741.7C908.3 745.7 907.2 749.3 906.1 752.6C905.0 755.9 902.7 758.8 902.2 761.3C901.6 763.8 901.8 764.9 902.8 767.8C903.8 770.7 906.1 774.3 908.3 778.7C910.4 783.0 914.1 789.7 915.9 793.9C917.7 798.1 918.9 800.4 919.1 803.7C919.3 807.0 916.6 810.8 917.0 813.5C917.3 816.2 919.5 817.5 921.3 820.0C923.1 822.5 925.7 825.1 927.8 828.7C930.0 832.3 932.4 837.4 934.3 841.7C936.3 846.1 937.4 850.8 939.8 854.8C942.1 858.8 946.7 862.0 948.5 865.7C950.3 869.3 949.9 873.8 950.7 876.5C951.4 879.2 951.2 880.0 952.8 882.0C954.5 883.9 958.3 886.1 960.4 888.5C962.6 890.8 964.1 892.6 965.9 896.1C967.7 899.5 970.0 905.5 971.3 909.1C972.6 912.8 973.3 914.9 973.5 917.8C973.7 920.7 973.1 924.0 972.4 926.5C971.7 929.1 970.8 931.4 969.1 933.0C967.5 934.7 963.7 935.8 962.6 936.3 M943.0 1050.4C943.8 1051.9 946.1 1056.6 947.4 1059.1C948.7 1061.7 950.5 1063.3 950.7 1065.7C950.8 1068.0 949.7 1071.1 948.5 1073.3C947.2 1075.4 945.4 1077.2 943.0 1078.7C940.7 1080.1 936.7 1080.5 934.3 1082.0C932.0 1083.4 930.2 1084.7 928.9 1087.4C927.6 1090.1 927.3 1094.6 926.7 1098.3C926.2 1101.9 926.0 1105.5 925.7 1109.1C925.3 1112.8 925.3 1116.7 924.6 1120.0C923.8 1123.3 922.2 1126.3 921.3 1128.7C920.4 1131.1 919.3 1133.1 919.1 1134.1C918.9 1135.2 920.0 1134.9 920.1 1135.0 M1098.1 725.0C1099.1 726.7 1101.1 730.6 1103.9 735.2C1106.7 739.8 1111.3 747.7 1114.8 752.6C1118.2 757.5 1122.7 761.3 1124.6 764.6C1126.4 767.8 1126.1 769.8 1126.1 772.2C1126.1 774.5 1124.2 775.1 1124.6 778.7C1124.9 782.3 1127.9 790.3 1128.3 793.9C1128.6 797.5 1127.7 798.3 1126.7 800.4C1125.8 802.6 1123.3 804.8 1122.4 807.0C1121.5 809.1 1120.9 810.9 1121.3 813.5C1121.7 816.0 1123.6 819.5 1124.6 822.2C1125.6 824.9 1127.9 827.9 1127.4 829.8C1126.8 831.7 1123.8 832.2 1121.3 833.5C1118.8 834.7 1114.5 835.8 1112.6 837.4C1110.7 838.9 1109.8 840.8 1110.0 842.8C1110.2 844.8 1112.4 847.4 1113.7 849.3C1115.0 851.3 1117.1 852.1 1118.0 854.8C1119.0 857.5 1118.8 862.4 1119.6 865.7C1120.3 868.9 1121.0 871.8 1122.4 874.3C1123.8 876.9 1125.8 878.5 1127.8 880.9C1129.8 883.2 1132.7 885.6 1134.3 888.5C1136.0 891.4 1136.9 895.2 1137.6 898.3C1138.3 901.3 1138.9 904.1 1138.7 907.0C1138.5 909.9 1137.4 912.0 1136.5 915.7C1135.6 919.3 1134.2 924.7 1133.3 928.7C1132.4 932.7 1131.1 935.9 1131.1 939.6C1131.1 943.2 1132.4 947.2 1133.3 950.4C1134.1 953.7 1136.1 956.8 1136.1 959.1C1136.1 961.5 1135.4 963.1 1133.3 964.6C1131.2 966.0 1126.4 966.2 1123.5 967.8C1120.6 969.5 1118.0 972.2 1115.9 974.3C1113.7 976.5 1111.6 978.3 1110.4 980.9C1109.2 983.4 1109.1 986.7 1108.7 989.6C1108.3 992.5 1109.1 995.4 1108.3 998.3C1107.5 1001.2 1105.9 1004.4 1103.9 1007.0C1101.9 1009.5 1098.3 1011.8 1096.3 1013.5C1094.3 1015.1 1092.9 1014.9 1092.0 1016.7C1091.1 1018.6 1091.2 1021.6 1090.9 1024.3C1090.5 1027.1 1090.9 1030.3 1089.8 1033.0C1088.7 1035.8 1085.4 1038.5 1084.3 1040.7C1083.3 1042.8 1082.7 1044.3 1083.3 1046.1C1083.8 1047.9 1085.8 1049.7 1087.6 1051.5C1089.4 1053.3 1092.9 1055.0 1094.1 1057.0C1095.3 1058.9 1095.3 1060.9 1094.8 1063.5C1094.2 1066.0 1091.9 1069.3 1090.9 1072.2C1089.9 1075.1 1088.7 1078.0 1088.7 1080.9C1088.7 1083.8 1089.1 1087.0 1090.9 1089.6C1092.7 1092.1 1097.8 1093.9 1099.6 1096.1C1101.3 1098.3 1101.3 1100.4 1101.3 1102.6C1101.3 1104.8 1099.5 1107.7 1099.6 1109.1C1099.6 1110.6 1099.9 1111.5 1101.7 1111.3C1103.6 1111.1 1106.8 1108.0 1110.4 1108.0C1114.1 1108.0 1119.1 1110.8 1123.5 1111.3C1127.8 1111.8 1132.9 1110.9 1136.5 1111.3C1140.1 1111.7 1142.3 1111.7 1145.2 1113.5C1148.1 1115.3 1151.0 1120.1 1153.9 1122.2C1156.8 1124.3 1158.6 1125.4 1162.6 1126.1C1166.6 1126.7 1172.4 1126.4 1177.8 1126.1C1183.3 1125.7 1189.8 1124.0 1195.2 1123.9C1200.7 1123.8 1205.0 1125.4 1210.4 1125.4C1215.9 1125.4 1223.5 1125.5 1227.8 1123.9C1232.2 1122.3 1234.0 1117.9 1236.5 1115.7C1239.1 1113.4 1241.6 1110.8 1243.0 1110.2C1244.5 1109.7 1244.7 1112.0 1245.0 1112.4 M1229.4 725.0C1230.2 726.3 1232.1 729.9 1234.3 733.0C1236.6 736.2 1241.3 741.7 1243.0 743.9C1244.8 746.1 1244.7 745.8 1245.0 746.2 M1245.0 746.2C1246.3 748.0 1249.2 751.5 1253.0 757.0C1256.9 762.4 1263.2 771.4 1268.3 778.7C1273.3 785.9 1279.1 793.9 1283.5 800.4C1287.8 807.0 1291.4 812.4 1294.3 817.8C1297.2 823.3 1298.0 827.2 1300.9 833.0C1303.8 838.8 1308.1 846.8 1311.7 852.6C1315.4 858.4 1320.3 863.8 1322.6 867.8C1325.0 871.8 1325.1 873.3 1325.9 876.5C1326.6 879.8 1325.7 883.4 1327.0 887.4C1328.2 891.4 1330.6 896.1 1333.5 900.4C1336.4 904.8 1340.4 909.5 1344.3 913.5C1348.3 917.5 1353.8 920.7 1357.4 924.3C1361.0 928.0 1363.6 932.0 1366.1 935.2C1368.6 938.5 1370.8 941.0 1372.6 943.9C1374.4 946.8 1375.1 950.1 1377.0 952.6C1378.8 955.1 1381.8 956.6 1383.5 959.1C1385.1 961.7 1386.0 964.9 1386.7 967.8C1387.5 970.7 1388.0 973.8 1387.8 976.5C1387.6 979.2 1387.1 982.4 1385.7 984.1C1384.2 985.9 1381.5 986.2 1379.1 987.0C1376.8 987.7 1373.3 987.3 1371.5 988.5C1369.8 989.6 1369.4 991.9 1368.7 993.9C1368.0 995.9 1368.2 997.9 1367.2 1000.4C1366.2 1003.0 1364.8 1007.0 1362.8 1009.1C1360.8 1011.3 1358.3 1012.5 1355.2 1013.5C1352.1 1014.5 1347.6 1014.5 1344.3 1015.2C1341.1 1015.9 1338.2 1016.5 1335.7 1017.8C1333.1 1019.2 1330.4 1021.1 1329.1 1023.3C1327.9 1025.4 1327.7 1028.7 1328.0 1030.9C1328.4 1033.0 1329.7 1034.9 1331.3 1036.3C1332.9 1037.8 1335.3 1038.7 1337.8 1039.6C1340.4 1040.4 1344.0 1041.4 1346.5 1041.3C1349.1 1041.2 1351.1 1040.5 1353.0 1039.1C1355.0 1037.8 1356.8 1034.8 1358.5 1033.0C1360.1 1031.3 1360.1 1029.2 1362.8 1028.7C1365.5 1028.2 1371.2 1029.1 1374.8 1029.8C1378.4 1030.5 1381.7 1031.1 1384.6 1033.0C1387.5 1035.0 1389.5 1039.2 1392.2 1041.7C1394.9 1044.3 1398.0 1046.3 1400.9 1048.3C1403.8 1050.3 1407.2 1051.5 1409.6 1053.7C1411.9 1055.9 1414.0 1058.9 1415.0 1061.3C1416.0 1063.7 1416.0 1065.7 1415.7 1067.8C1415.3 1070.0 1412.9 1072.4 1412.8 1074.3C1412.7 1076.3 1413.0 1078.3 1415.0 1079.8C1417.0 1081.2 1421.7 1081.6 1424.8 1083.0C1427.9 1084.5 1430.6 1085.9 1433.5 1088.5C1436.4 1091.0 1439.6 1095.2 1442.2 1098.3C1444.7 1101.3 1446.5 1104.4 1448.7 1107.0C1450.9 1109.5 1452.3 1112.0 1455.2 1113.5C1458.1 1114.9 1462.8 1114.4 1466.1 1115.7C1469.3 1116.9 1472.2 1118.7 1474.8 1121.1C1477.3 1123.4 1478.8 1128.0 1481.3 1129.8C1483.8 1131.6 1486.7 1132.0 1490.0 1132.0C1493.3 1132.0 1497.6 1130.3 1500.9 1129.8C1504.1 1129.2 1506.7 1128.3 1509.6 1128.7C1512.5 1129.1 1515.5 1130.9 1518.3 1132.0C1521.0 1133.0 1524.6 1134.5 1525.9 1135.0 M1338.4 725.0C1340.8 727.1 1347.7 732.4 1353.0 737.4C1358.4 742.4 1363.9 748.4 1370.4 754.8C1377.0 761.1 1386.4 768.9 1392.2 775.4C1398.0 782.0 1400.5 788.3 1405.2 793.9C1409.9 799.5 1415.0 804.6 1420.4 809.1C1425.9 813.7 1434.0 818.2 1437.8 821.1C1441.6 824.0 1441.4 823.8 1443.3 826.5C1445.1 829.2 1446.3 833.8 1448.7 837.4C1451.1 841.0 1454.3 845.0 1457.4 848.3C1460.5 851.5 1465.2 853.7 1467.2 857.0C1469.2 860.2 1468.3 864.9 1469.3 867.8C1470.4 870.7 1471.3 872.4 1473.7 874.3C1476.1 876.3 1480.8 878.0 1483.5 879.8C1486.2 881.6 1488.6 882.9 1490.0 885.2C1491.4 887.6 1491.1 891.0 1492.2 893.9C1493.3 896.8 1494.3 899.7 1496.5 902.6C1498.7 905.5 1502.3 908.9 1505.2 911.3C1508.1 913.7 1511.9 914.6 1513.9 916.7C1515.9 918.9 1516.8 921.6 1517.2 924.3C1517.5 927.1 1516.4 930.7 1516.1 933.0C1515.7 935.4 1514.6 936.8 1515.0 938.5C1515.4 940.1 1516.3 941.4 1518.3 942.8C1520.3 944.3 1524.6 945.4 1527.0 947.2C1529.3 949.0 1530.8 951.0 1532.4 953.7C1534.0 956.4 1535.1 960.4 1536.7 963.5C1538.4 966.6 1539.8 969.5 1542.2 972.2C1544.5 974.9 1548.0 977.8 1550.9 979.8C1553.8 981.8 1556.7 983.3 1559.6 984.1C1562.5 985.0 1565.2 985.3 1568.3 984.8C1571.3 984.2 1574.8 981.0 1578.0 980.9C1581.3 980.8 1584.4 983.2 1587.8 984.1C1591.3 985.0 1595.1 985.9 1598.7 986.3C1602.3 986.7 1606.7 985.4 1609.6 986.3C1612.5 987.2 1613.9 989.7 1616.1 991.7C1618.3 993.7 1620.1 996.4 1622.6 998.3C1625.1 1000.1 1627.7 1001.2 1631.3 1002.6C1634.9 1004.1 1640.4 1005.5 1644.3 1007.0C1648.3 1008.4 1653.2 1010.6 1655.0 1011.3 M1477.1 725.0C1479.6 727.1 1486.4 731.3 1492.2 737.4C1498.0 743.4 1505.6 754.1 1511.7 761.3C1517.9 768.6 1523.7 776.2 1529.1 780.9C1534.6 785.6 1540.0 787.6 1544.3 789.6C1548.7 791.6 1552.3 791.0 1555.2 792.8C1558.1 794.6 1560.1 798.3 1561.7 800.4C1563.4 802.6 1562.1 804.4 1565.0 805.9C1567.9 807.3 1573.9 807.9 1579.1 809.1C1584.4 810.4 1590.7 812.0 1596.5 813.5C1602.3 814.9 1608.1 816.4 1613.9 817.8C1619.7 819.3 1626.2 820.7 1631.3 822.2C1636.4 823.6 1641.1 824.9 1644.3 826.5C1647.6 828.2 1649.2 829.1 1650.9 832.0C1652.5 834.9 1653.4 841.5 1654.1 843.9C1654.8 846.4 1654.9 846.2 1655.0 846.7 M1634.1 725.0C1634.7 725.3 1634.7 725.2 1637.8 726.5C1641.0 727.9 1650.2 731.7 1653.0 733.0C1655.9 734.4 1654.7 734.5 1655.0 734.8 M1245.0 1112.4C1245.1 1112.6 1244.8 1112.9 1245.4 1113.5C1246.1 1114.0 1247.4 1113.1 1248.7 1115.7C1250.0 1118.2 1251.8 1125.5 1253.0 1128.7C1254.3 1131.9 1255.8 1133.9 1256.3 1135.0 M1655.0 734.8C1657.1 735.9 1662.7 739.2 1667.8 741.1C1672.9 743.0 1679.7 745.0 1685.6 746.3C1691.5 747.6 1697.5 747.7 1703.4 748.9C1709.4 750.1 1716.0 752.1 1721.2 753.4C1726.4 754.7 1729.8 755.9 1734.6 756.7C1739.4 757.5 1744.2 758.1 1750.2 758.3C1756.1 758.5 1763.1 758.0 1770.2 757.8C1777.2 757.7 1786.5 757.6 1792.4 757.4C1798.4 757.2 1801.3 756.6 1805.8 756.7C1810.2 756.9 1816.0 757.4 1819.2 758.3C1822.3 759.2 1823.2 760.7 1824.7 762.3C1826.2 763.9 1826.9 766.2 1828.1 767.9C1829.2 769.5 1829.5 771.2 1831.4 772.3C1833.2 773.4 1835.3 774.3 1839.2 774.5C1843.1 774.7 1850.3 773.2 1854.8 773.4C1859.2 773.6 1862.9 774.7 1865.9 775.6C1868.9 776.6 1870.3 777.3 1872.6 779.0C1874.8 780.6 1877.0 783.6 1879.2 785.7C1881.5 787.7 1884.4 789.2 1885.9 791.2C1887.4 793.3 1887.9 794.2 1888.1 797.9C1888.4 801.6 1888.3 807.9 1887.7 813.5C1887.1 819.0 1885.2 826.1 1884.8 831.3C1884.4 836.5 1885.7 840.2 1885.5 844.6C1885.3 849.1 1884.2 854.7 1883.7 858.0C1883.2 861.3 1882.2 862.9 1882.6 864.7C1883.0 866.5 1884.3 867.9 1885.9 868.7C1887.6 869.5 1890.4 869.9 1892.6 869.6C1894.8 869.3 1897.4 867.9 1899.3 866.9C1901.1 865.9 1902.1 863.9 1903.7 863.6C1905.4 863.2 1907.4 864.9 1909.3 864.7C1911.1 864.5 1913.6 863.9 1914.9 862.4C1916.1 861.0 1916.3 858.2 1916.6 855.8C1916.9 853.4 1916.0 849.8 1916.6 848.0C1917.3 846.1 1919.0 844.6 1920.4 844.6C1921.8 844.6 1924.5 845.8 1924.9 848.0C1925.2 850.2 1922.8 854.1 1922.6 858.0C1922.5 861.9 1923.3 867.5 1923.8 871.3C1924.2 875.2 1924.4 879.1 1925.5 881.4C1926.7 883.7 1928.1 884.0 1930.4 885.1C1932.7 886.3 1936.4 886.3 1939.3 888.0C1942.3 889.8 1945.6 893.6 1948.2 895.8C1950.8 898.1 1952.3 900.1 1954.9 901.4C1957.5 902.7 1960.1 903.7 1963.8 903.6C1967.5 903.5 1973.1 901.5 1977.2 900.7C1981.3 900.0 1985.3 900.2 1988.3 899.2C1991.3 898.2 1993.1 895.9 1995.0 894.7C1996.8 893.5 1997.8 891.8 1999.4 891.8C2001.1 891.8 2003.1 892.6 2005.0 894.7C2006.9 896.9 2008.9 901.2 2010.6 904.7C2012.2 908.3 2012.8 912.9 2015.0 915.9C2017.2 918.8 2021.1 920.5 2023.9 922.5C2026.7 924.6 2030.5 925.7 2031.7 928.1C2032.9 930.5 2030.5 934.4 2031.0 937.0C2031.6 939.6 2033.1 941.3 2035.0 943.7C2037.0 946.1 2041.1 949.1 2042.8 951.5C2044.6 953.9 2045.0 956.1 2045.7 958.1C2046.5 960.2 2046.3 962.2 2047.3 963.7C2048.3 965.2 2050.3 966.5 2051.7 967.1C2053.2 967.6 2054.7 968.3 2056.2 967.1C2057.7 965.8 2059.6 962.6 2060.6 959.3C2061.6 955.9 2062.1 951.3 2062.2 947.0C2062.3 942.8 2060.8 937.7 2061.3 933.7C2061.8 929.6 2064.1 926.6 2065.1 922.5C2066.1 918.5 2066.6 913.6 2067.3 909.2C2068.1 904.7 2068.7 899.5 2069.5 895.8C2070.4 892.1 2072.0 888.4 2072.4 886.9 M2040.6 979.3C2041.2 978.9 2042.6 977.1 2043.9 977.1C2045.2 977.1 2047.8 978.2 2048.4 979.3C2049.0 980.4 2048.2 983.1 2047.3 983.7C2046.4 984.4 2043.9 983.8 2042.8 983.1C2041.7 982.3 2041.0 979.9 2040.6 979.3 M1655.0 846.7C1656.0 848.5 1658.3 854.9 1661.1 858.0C1664.0 861.1 1667.4 863.9 1672.3 865.1C1677.1 866.3 1685.6 864.6 1690.1 865.1C1694.5 865.6 1695.6 866.4 1699.0 868.0C1702.3 869.6 1706.8 873.1 1710.1 874.7C1713.4 876.3 1717.0 876.1 1719.0 877.6C1721.0 879.1 1721.2 880.5 1722.3 883.6C1723.4 886.6 1725.2 891.9 1725.7 895.8C1726.2 899.7 1724.5 903.6 1725.2 907.0C1726.0 910.3 1727.8 913.3 1730.1 915.9C1732.4 918.4 1735.9 920.6 1739.0 922.1C1742.2 923.6 1746.1 923.2 1749.0 924.8C1752.0 926.3 1754.4 929.7 1756.8 931.4C1759.2 933.2 1761.3 935.3 1763.5 935.4C1765.7 935.6 1768.1 933.7 1770.2 932.6C1772.2 931.4 1773.9 929.0 1775.8 928.8C1777.6 928.6 1779.3 929.9 1781.3 931.4C1783.4 933.0 1786.5 935.5 1788.0 938.1C1789.5 940.7 1789.3 944.7 1790.2 947.0C1791.1 949.3 1791.3 950.8 1793.6 951.9C1795.8 953.0 1800.4 952.7 1803.6 953.7C1806.7 954.7 1809.5 957.0 1812.5 958.1C1815.4 959.3 1818.0 960.6 1821.4 960.8C1824.7 961.0 1828.8 959.6 1832.5 959.3C1836.2 958.9 1841.0 957.9 1843.6 958.6C1846.2 959.3 1846.6 961.7 1848.1 963.7C1849.6 965.7 1850.3 969.2 1852.5 970.4C1854.8 971.6 1859.0 970.1 1861.4 971.1C1863.9 972.0 1864.8 973.7 1867.0 976.0C1869.2 978.3 1872.4 982.7 1874.8 984.9C1877.2 987.0 1878.9 988.5 1881.5 988.9C1884.1 989.2 1887.4 987.7 1890.4 987.1C1893.3 986.5 1895.9 985.1 1899.3 985.3C1902.6 985.5 1906.7 986.8 1910.4 988.2C1914.1 989.6 1918.2 991.6 1921.5 993.8C1924.9 995.9 1927.8 998.3 1930.4 1000.9C1933.0 1003.5 1934.1 1006.4 1937.1 1009.3C1940.1 1012.2 1944.5 1015.1 1948.2 1018.2C1952.0 1021.4 1956.4 1025.7 1959.4 1028.3C1962.3 1030.9 1964.4 1031.4 1966.0 1033.8C1967.7 1036.2 1968.8 1041.2 1969.4 1042.7 M2030.6 1125.1C2031.7 1126.6 2035.9 1132.3 2037.3 1134.0C2038.6 1135.6 2038.5 1134.8 2038.7 1135.0 M1655.0 1011.3C1655.8 1011.7 1657.5 1013.7 1660.0 1013.8C1662.5 1013.8 1666.1 1011.4 1670.0 1011.6C1673.9 1011.8 1679.3 1014.5 1683.4 1014.9C1687.5 1015.3 1691.0 1014.2 1694.5 1013.8C1698.0 1013.4 1701.9 1012.1 1704.5 1012.7C1707.1 1013.2 1708.4 1014.5 1710.1 1017.1C1711.8 1019.7 1712.3 1025.1 1714.5 1028.3C1716.8 1031.4 1721.0 1033.3 1723.4 1036.0C1725.9 1038.8 1728.5 1040.9 1729.0 1044.9C1729.6 1049.0 1726.2 1056.1 1726.8 1060.5C1727.3 1065.0 1730.3 1068.3 1732.4 1071.7C1734.4 1075.0 1736.4 1078.0 1739.0 1080.6C1741.6 1083.2 1744.2 1084.6 1747.9 1087.2C1751.6 1089.8 1757.2 1093.2 1761.3 1096.1C1765.4 1099.1 1769.4 1102.1 1772.4 1105.0C1775.4 1108.0 1776.5 1111.0 1779.1 1113.9C1781.7 1116.9 1785.4 1119.5 1788.0 1122.8C1790.6 1126.2 1793.4 1132.0 1794.7 1134.0C1796.0 1136.0 1795.7 1134.8 1795.9 1135.0 M427.2 1162.6C428.7 1163.0 433.5 1165.1 436.3 1164.8C439.1 1164.4 441.2 1161.9 443.9 1160.4C446.6 1159.0 449.5 1156.9 452.6 1156.1C455.7 1155.3 459.1 1155.1 462.4 1155.7C465.7 1156.2 469.1 1158.0 472.2 1159.3C475.3 1160.7 478.3 1162.9 480.9 1163.7C483.4 1164.5 484.9 1165.1 487.4 1164.3C489.9 1163.6 492.8 1160.7 496.1 1159.3C499.3 1158.0 503.0 1156.6 507.0 1156.1C510.9 1155.6 515.3 1156.2 520.0 1156.5C524.7 1156.9 530.5 1157.7 535.2 1158.3C539.9 1158.8 543.9 1160.1 548.3 1160.0C552.6 1159.9 557.7 1157.8 561.3 1157.8C564.9 1157.8 566.7 1158.8 570.0 1160.0C573.3 1161.2 576.9 1163.2 580.9 1164.8C584.9 1166.4 589.2 1168.9 593.9 1169.6C598.6 1170.2 603.7 1168.9 609.1 1168.7C614.6 1168.4 621.4 1168.9 626.5 1168.0C631.6 1167.2 636.1 1165.7 639.6 1163.7C643.0 1161.7 645.0 1158.8 647.2 1156.1C649.3 1153.4 650.6 1149.7 652.6 1147.4C654.6 1145.0 655.9 1143.3 659.1 1142.0C662.4 1140.6 667.8 1140.0 672.2 1139.1C676.5 1138.3 682.4 1137.6 685.2 1137.0C688.0 1136.3 688.3 1135.3 688.9 1135.0 M747.1 1135.0C747.0 1135.6 747.3 1136.6 746.1 1138.7C744.8 1140.8 741.2 1144.5 739.6 1147.4C737.9 1150.3 738.8 1153.6 736.3 1156.1C733.8 1158.6 728.5 1160.1 724.3 1162.6C720.2 1165.1 715.3 1168.4 711.3 1171.3C707.3 1174.2 703.3 1177.5 700.4 1180.0C697.5 1182.5 695.7 1184.0 693.9 1186.5C692.1 1189.1 690.8 1192.3 689.6 1195.2C688.3 1198.1 688.5 1201.0 686.3 1203.9C684.1 1206.8 679.2 1209.7 676.5 1212.6C673.8 1215.5 672.2 1217.3 670.0 1221.3C667.8 1225.3 666.0 1232.2 663.5 1236.5C660.9 1240.9 657.1 1244.1 654.8 1247.4C652.4 1250.7 650.4 1253.2 649.3 1256.1C648.3 1259.0 648.2 1261.9 648.3 1264.8C648.4 1267.7 650.4 1270.9 650.0 1273.5C649.6 1276.0 648.2 1277.6 646.1 1280.0C644.0 1282.4 641.0 1285.3 637.4 1287.6C633.8 1290.0 628.0 1292.1 624.3 1294.1C620.7 1296.1 618.6 1298.1 615.7 1299.6C612.8 1301.0 609.5 1301.4 607.0 1302.8C604.4 1304.3 602.6 1306.3 600.4 1308.3C598.3 1310.3 596.8 1312.8 593.9 1314.8C591.0 1316.8 585.9 1318.4 583.0 1320.2C580.1 1322.0 578.2 1323.7 576.5 1325.7C574.9 1327.6 573.9 1329.3 573.3 1332.2C572.6 1335.1 573.2 1340.1 572.6 1343.0C572.1 1345.9 571.5 1347.0 570.0 1349.6C568.5 1352.1 565.8 1355.8 563.5 1358.3C561.1 1360.7 558.8 1363.1 555.9 1364.3C553.0 1365.6 549.5 1364.7 546.1 1365.9C542.6 1367.0 538.5 1370.0 535.2 1371.3C532.0 1372.6 528.7 1373.6 526.5 1373.9C524.3 1374.2 523.8 1374.4 522.2 1373.0C520.5 1371.7 519.3 1367.8 516.7 1365.9C514.2 1363.9 510.0 1362.8 507.0 1361.5C503.9 1360.3 501.2 1359.5 498.3 1358.3C495.4 1357.0 492.5 1355.0 489.6 1353.9C486.7 1352.8 483.4 1353.0 480.9 1351.7C478.3 1350.5 476.5 1348.3 474.3 1346.3C472.2 1344.3 470.4 1341.6 467.8 1339.8C465.3 1338.0 462.4 1336.9 459.1 1335.4C455.9 1334.0 451.0 1332.2 448.3 1331.1C445.5 1330.0 444.3 1328.9 442.8 1328.9C441.4 1328.9 440.2 1328.7 439.6 1331.1C438.9 1333.4 438.9 1338.2 439.1 1343.0C439.3 1347.9 440.6 1355.0 440.7 1360.4C440.7 1365.9 440.5 1371.3 439.6 1375.7C438.7 1380.0 436.7 1383.4 435.2 1386.5C433.8 1389.6 432.2 1392.1 430.9 1394.1C429.5 1396.1 427.8 1397.8 427.2 1398.5 M487.4 1375.2C488.5 1375.1 492.8 1373.8 493.9 1374.6C495.0 1375.4 494.5 1378.9 493.9 1380.0C493.4 1381.1 491.7 1381.9 490.7 1381.1C489.6 1380.3 487.9 1376.2 487.4 1375.2 M835.0 1326.1C834.3 1326.4 832.5 1326.6 830.9 1327.8C829.3 1329.0 826.2 1330.0 825.4 1333.3C824.6 1336.5 825.7 1343.9 826.1 1347.4C826.4 1350.8 826.4 1353.0 827.6 1353.9C828.8 1354.8 831.8 1353.2 833.0 1352.8C834.3 1352.4 834.7 1351.7 835.0 1351.5 M809.1 1365.9C809.9 1365.9 810.9 1365.1 813.5 1365.9C816.0 1366.6 822.7 1368.5 824.3 1370.2C826.0 1371.9 824.3 1375.4 823.3 1376.1C822.2 1376.8 820.0 1375.4 817.8 1374.6C815.7 1373.8 811.7 1372.8 810.2 1371.3C808.8 1369.9 809.3 1366.8 809.1 1365.9 M782.0 1423.5C781.8 1424.0 782.5 1425.5 780.9 1426.7C779.2 1428.0 774.7 1429.1 772.2 1431.1C769.6 1433.1 768.6 1435.3 765.7 1438.7C762.8 1442.1 758.4 1448.1 754.8 1451.7C751.2 1455.4 746.2 1457.9 743.9 1460.4C741.7 1463.0 741.3 1464.1 741.3 1467.0C741.3 1469.9 743.8 1474.9 743.9 1477.8C744.0 1480.7 743.6 1482.2 741.7 1484.3C739.9 1486.5 735.9 1489.4 733.0 1490.9C730.1 1492.3 727.2 1491.4 724.3 1493.0C721.4 1494.7 718.6 1498.3 715.7 1500.7C712.8 1503.0 708.8 1505.0 707.0 1507.2C705.1 1509.3 705.0 1511.7 704.8 1513.7C704.6 1515.7 706.2 1517.7 705.9 1519.1C705.5 1520.6 705.0 1521.3 702.6 1522.4C700.3 1523.5 695.4 1524.6 691.7 1525.7C688.1 1526.7 685.2 1527.8 680.9 1528.9C676.5 1530.0 669.6 1530.9 665.7 1532.2C661.7 1533.4 660.2 1534.7 657.0 1536.5C653.7 1538.3 648.3 1541.6 646.1 1543.0C643.9 1544.5 644.1 1544.7 643.7 1545.0 M920.1 1135.0C920.5 1136.0 921.8 1138.1 922.4 1140.9C923.0 1143.7 923.7 1147.8 923.5 1151.7C923.3 1155.7 922.2 1161.2 921.3 1164.8C920.4 1168.4 919.3 1170.2 918.0 1173.5C916.8 1176.7 914.5 1180.7 913.7 1184.3C912.9 1188.0 913.3 1191.6 913.3 1195.2C913.3 1198.8 913.3 1202.8 913.7 1206.1C914.1 1209.3 914.6 1212.4 915.9 1214.8C917.1 1217.1 920.2 1218.4 921.3 1220.2C922.4 1222.0 922.8 1223.8 922.4 1225.7C922.0 1227.5 920.0 1229.1 919.1 1231.1C918.2 1233.1 916.8 1235.8 917.0 1237.6C917.1 1239.4 918.8 1241.2 920.2 1242.0C921.7 1242.7 923.9 1241.8 925.7 1242.0C927.4 1242.1 929.0 1242.0 930.4 1243.0C931.9 1244.1 932.2 1247.2 934.3 1248.5C936.4 1249.7 940.7 1249.6 943.0 1250.7C945.4 1251.7 947.0 1253.7 948.5 1255.0C949.9 1256.3 950.1 1257.9 951.7 1258.3C953.4 1258.6 956.1 1258.3 958.3 1257.2C960.4 1256.1 962.6 1253.7 964.8 1251.7C967.0 1249.7 969.1 1246.6 971.3 1245.2C973.5 1243.8 975.5 1243.4 977.8 1243.5C980.2 1243.6 983.1 1245.7 985.4 1245.7C987.8 1245.6 989.2 1244.6 992.0 1243.0C994.7 1241.5 999.0 1238.6 1001.7 1236.5C1004.5 1234.4 1005.7 1231.7 1008.3 1230.4C1010.8 1229.2 1013.7 1229.5 1017.0 1228.9C1020.2 1228.3 1024.2 1227.3 1027.8 1226.7C1031.4 1226.2 1035.4 1225.5 1038.7 1225.7C1042.0 1225.8 1045.2 1226.6 1047.4 1227.8C1049.6 1229.1 1049.9 1230.9 1051.7 1233.3C1053.6 1235.6 1055.7 1239.2 1058.3 1242.0C1060.8 1244.7 1063.9 1247.5 1067.0 1249.6C1070.0 1251.6 1075.3 1252.9 1076.7 1254.3C1078.2 1255.8 1076.7 1256.5 1075.7 1258.3C1074.6 1260.0 1071.8 1261.9 1070.2 1264.8C1068.6 1267.7 1066.8 1272.6 1065.9 1275.7C1064.9 1278.7 1064.9 1280.0 1064.3 1283.3C1063.8 1286.5 1062.9 1293.2 1062.6 1295.2 M869.1 1247.4C869.7 1246.7 870.9 1243.9 872.4 1243.0C873.8 1242.1 875.9 1241.6 877.8 1242.0C879.7 1242.3 883.4 1243.8 883.9 1245.2C884.5 1246.7 882.5 1249.4 881.1 1250.7C879.7 1251.9 877.5 1252.7 875.7 1252.8C873.8 1252.9 871.3 1252.2 870.2 1251.3C869.1 1250.4 869.3 1248.0 869.1 1247.4 M884.3 1261.5C885.1 1259.9 887.1 1254.3 888.7 1251.7C890.3 1249.2 892.1 1247.0 894.1 1246.3C896.1 1245.6 899.5 1246.5 900.7 1247.4C901.8 1248.3 902.2 1249.9 901.3 1251.7C900.4 1253.6 896.8 1256.2 895.2 1258.3C893.7 1260.4 893.5 1263.2 892.0 1264.3C890.4 1265.5 887.4 1265.7 886.1 1265.2C884.8 1264.7 884.6 1262.1 884.3 1261.5 M1071.3 1286.5C1071.5 1285.6 1071.5 1282.8 1072.4 1281.1C1073.3 1279.3 1074.9 1277.4 1076.7 1276.1C1078.6 1274.8 1080.9 1275.0 1083.3 1273.5C1085.6 1272.0 1088.7 1269.2 1090.9 1267.0C1093.0 1264.7 1094.5 1261.5 1096.3 1260.0C1098.1 1258.5 1099.9 1257.8 1101.7 1257.8C1103.6 1257.9 1106.1 1258.9 1107.2 1260.4C1108.3 1262.0 1108.6 1264.6 1108.3 1267.0C1107.9 1269.3 1105.7 1271.7 1105.0 1274.6C1104.3 1277.5 1105.0 1282.1 1103.9 1284.3C1102.8 1286.6 1100.7 1287.5 1098.5 1288.3C1096.3 1289.1 1093.9 1288.7 1090.9 1289.1C1087.8 1289.6 1082.9 1290.8 1080.0 1290.9C1077.1 1291.0 1074.9 1290.5 1073.5 1289.8C1072.0 1289.1 1071.7 1287.1 1071.3 1286.5 M1092.0 1346.3C1092.9 1345.4 1095.8 1343.0 1097.4 1340.9C1099.0 1338.7 1100.3 1335.1 1101.7 1333.3C1103.2 1331.4 1104.6 1330.1 1106.1 1330.0C1107.5 1329.9 1110.4 1330.8 1110.4 1332.6C1110.4 1334.4 1107.5 1338.6 1106.1 1340.9C1104.6 1343.2 1103.4 1344.9 1101.7 1346.3C1100.1 1347.7 1097.8 1348.7 1096.3 1349.1C1094.8 1349.6 1093.3 1349.6 1092.6 1349.1C1091.9 1348.7 1092.1 1346.8 1092.0 1346.3 M835.0 1326.1C835.3 1326.0 835.2 1325.5 836.5 1325.2C837.9 1325.0 840.9 1324.1 843.0 1324.6C845.2 1325.0 848.1 1326.2 849.6 1327.8C851.0 1329.5 851.7 1331.4 851.7 1334.3C851.7 1337.2 851.4 1342.9 849.6 1345.2C847.8 1347.6 843.3 1347.4 840.9 1348.5C838.4 1349.5 836.0 1351.0 835.0 1351.5 M855.0 1395.2C854.1 1394.5 851.0 1392.7 849.6 1390.9C848.1 1389.1 846.5 1386.5 846.3 1384.3C846.1 1382.2 848.5 1379.6 848.5 1377.8C848.5 1376.0 847.2 1374.7 846.3 1373.5C845.4 1372.2 843.3 1371.7 843.0 1370.2C842.8 1368.8 843.7 1366.5 844.8 1364.8C845.9 1363.1 848.0 1361.0 849.6 1360.0C851.1 1359.0 851.4 1359.0 853.9 1358.7C856.4 1358.4 861.2 1358.5 864.8 1358.3C868.4 1358.0 872.6 1358.3 875.7 1357.2C878.7 1356.1 880.7 1352.9 883.3 1351.7C885.8 1350.5 888.2 1349.6 890.9 1350.0C893.6 1350.4 896.7 1352.9 899.6 1354.3C902.5 1355.8 905.4 1356.8 908.3 1358.7C911.2 1360.6 914.1 1364.9 917.0 1365.9C919.9 1366.9 922.8 1364.6 925.7 1364.8C928.6 1365.0 932.2 1367.0 934.3 1367.0C936.5 1366.9 937.2 1365.6 938.7 1364.3C940.1 1363.1 940.9 1361.1 943.0 1359.3C945.2 1357.6 949.2 1355.6 951.7 1353.9C954.3 1352.2 956.1 1350.0 958.3 1349.1C960.4 1348.2 962.2 1348.5 964.8 1348.5C967.3 1348.5 970.6 1349.4 973.5 1349.1C976.4 1348.9 979.3 1347.9 982.2 1347.0C985.1 1346.0 988.3 1345.0 990.9 1343.5C993.4 1341.9 995.6 1339.1 997.4 1337.6C999.2 1336.1 999.6 1336.3 1001.7 1334.3C1003.9 1332.4 1009.0 1327.1 1010.4 1325.7 M1104.2 1545.0C1104.3 1543.9 1104.0 1541.2 1105.0 1538.7C1106.0 1536.2 1109.0 1532.5 1110.4 1530.0C1111.9 1527.5 1113.0 1525.7 1113.7 1523.5C1114.4 1521.3 1113.9 1518.9 1114.8 1517.0C1115.7 1515.0 1117.5 1513.7 1119.1 1511.5C1120.8 1509.3 1123.3 1506.6 1124.6 1503.9C1125.8 1501.2 1126.2 1498.1 1126.7 1495.2C1127.3 1492.3 1126.7 1489.1 1127.8 1486.5C1128.9 1484.0 1131.1 1482.2 1133.3 1480.0C1135.4 1477.8 1138.2 1475.6 1140.9 1473.0C1143.6 1470.5 1147.2 1467.2 1149.6 1464.8C1151.9 1462.4 1153.0 1460.2 1155.0 1458.7C1157.0 1457.2 1159.2 1455.5 1161.5 1455.7C1163.9 1455.8 1167.1 1458.0 1169.1 1459.3C1171.1 1460.7 1172.6 1462.1 1173.5 1463.7C1174.4 1465.3 1174.6 1466.4 1174.6 1469.1C1174.5 1471.8 1173.6 1476.4 1173.0 1480.0C1172.5 1483.6 1172.1 1487.6 1171.3 1490.9C1170.5 1494.1 1168.2 1496.8 1168.0 1499.6C1167.9 1502.3 1168.9 1504.8 1170.2 1507.2C1171.5 1509.5 1173.7 1512.4 1175.7 1513.7C1177.6 1515.0 1178.9 1515.7 1182.2 1515.2C1185.4 1514.7 1191.2 1512.9 1195.2 1510.9C1199.2 1508.8 1202.1 1505.4 1206.1 1502.8C1210.1 1500.2 1214.8 1497.4 1219.1 1495.2C1223.5 1493.0 1227.9 1492.0 1232.2 1489.8C1236.5 1487.6 1242.9 1483.2 1245.0 1481.9 M1198.8 1545.0C1199.1 1543.9 1200.5 1540.8 1200.7 1538.7C1200.8 1536.6 1200.5 1534.0 1199.6 1532.2C1198.7 1530.4 1197.4 1528.8 1195.2 1527.8C1193.0 1526.8 1189.4 1526.2 1186.5 1526.1C1183.6 1526.0 1180.7 1527.5 1177.8 1527.4C1174.9 1527.3 1171.8 1526.4 1169.1 1525.7C1166.4 1524.9 1163.5 1522.7 1161.5 1523.0C1159.5 1523.4 1157.9 1525.6 1157.2 1527.8C1156.4 1530.1 1156.6 1534.3 1157.2 1536.5C1157.7 1538.7 1159.9 1539.5 1160.4 1540.9C1161.0 1542.3 1160.6 1544.3 1160.6 1545.0 M1245.0 1517.1C1244.3 1518.2 1243.0 1521.7 1240.9 1523.5C1238.7 1525.3 1234.9 1526.4 1232.2 1527.8C1229.5 1529.3 1226.1 1530.4 1224.6 1532.2C1223.0 1534.0 1222.7 1536.9 1223.0 1538.7C1223.4 1540.5 1224.5 1542.8 1226.7 1543.0C1229.0 1543.3 1233.5 1541.5 1236.5 1540.4C1239.6 1539.4 1243.6 1537.4 1245.0 1536.7 M1256.3 1135.0C1256.5 1135.6 1255.8 1136.8 1257.4 1138.7C1259.0 1140.6 1262.8 1143.9 1266.1 1146.3C1269.3 1148.7 1274.6 1150.7 1277.0 1152.8C1279.3 1155.0 1279.5 1155.9 1280.2 1159.3C1280.9 1162.8 1280.2 1171.5 1281.3 1173.5C1282.4 1175.5 1284.9 1172.8 1286.7 1171.3C1288.6 1169.9 1290.7 1167.1 1292.2 1164.8C1293.6 1162.4 1294.2 1158.9 1295.4 1157.2C1296.7 1155.4 1297.6 1154.0 1299.8 1154.3C1302.0 1154.7 1305.8 1157.4 1308.5 1159.3C1311.2 1161.3 1314.5 1163.9 1316.1 1165.9C1317.6 1167.9 1317.8 1168.9 1317.8 1171.3C1317.9 1173.7 1316.1 1177.6 1316.5 1180.0C1317.0 1182.4 1318.3 1184.4 1320.4 1185.4C1322.5 1186.4 1326.8 1185.5 1329.1 1186.1C1331.5 1186.6 1333.4 1187.4 1334.6 1188.7C1335.7 1190.0 1335.6 1192.3 1336.1 1194.1C1336.6 1195.9 1335.3 1198.9 1337.4 1199.6C1339.5 1200.2 1345.4 1197.5 1348.7 1197.8C1352.0 1198.2 1353.8 1199.6 1357.4 1201.7C1361.0 1203.8 1366.1 1207.5 1370.4 1210.4C1374.8 1213.3 1379.9 1216.2 1383.5 1219.1C1387.1 1222.0 1389.3 1224.9 1392.2 1227.8C1395.1 1230.7 1398.3 1234.3 1400.9 1236.5C1403.4 1238.8 1405.2 1240.2 1407.4 1241.3C1409.6 1242.4 1411.7 1242.4 1413.9 1243.0C1416.1 1243.7 1418.4 1243.8 1420.4 1245.2C1422.4 1246.7 1424.2 1249.3 1425.9 1251.7C1427.5 1254.2 1430.0 1258.0 1430.2 1260.0C1430.4 1262.0 1428.9 1262.5 1427.0 1263.7C1425.0 1264.9 1421.2 1266.3 1418.3 1267.0C1415.4 1267.6 1412.6 1267.5 1409.6 1267.4C1406.5 1267.3 1402.3 1266.2 1399.8 1266.5C1397.2 1266.8 1396.0 1268.2 1394.3 1269.1C1392.7 1270.1 1392.2 1271.5 1390.0 1272.4C1387.8 1273.3 1383.8 1273.5 1381.3 1274.6C1378.8 1275.7 1376.2 1276.9 1374.8 1278.9C1373.4 1280.9 1373.0 1284.2 1373.0 1286.5C1373.0 1288.9 1374.5 1290.9 1374.8 1293.0C1375.1 1295.2 1374.2 1297.4 1374.8 1299.6C1375.3 1301.7 1377.7 1304.3 1378.0 1306.1C1378.4 1307.9 1377.9 1309.6 1377.0 1310.4C1376.1 1311.2 1373.9 1311.6 1372.6 1310.9C1371.3 1310.1 1370.4 1307.6 1369.3 1306.1C1368.3 1304.6 1367.4 1302.4 1366.1 1301.7C1364.8 1301.1 1363.2 1301.4 1361.7 1302.2C1360.3 1302.9 1359.2 1304.9 1357.4 1306.1C1355.6 1307.3 1353.4 1308.8 1350.9 1309.3C1348.3 1309.9 1344.7 1309.2 1342.2 1309.3C1339.6 1309.5 1337.3 1309.1 1335.7 1310.0C1334.0 1310.9 1332.8 1312.5 1332.4 1314.8C1332.0 1317.0 1332.9 1320.9 1333.5 1323.5C1334.0 1326.0 1335.6 1327.8 1335.7 1330.0C1335.7 1332.2 1334.8 1334.5 1333.9 1336.5C1333.0 1338.5 1331.0 1339.8 1330.2 1342.0C1329.4 1344.1 1328.9 1347.2 1329.1 1349.6C1329.3 1351.9 1330.0 1354.3 1331.3 1356.1C1332.6 1357.9 1334.9 1359.9 1336.7 1360.4C1338.6 1361.0 1340.7 1360.6 1342.2 1359.3C1343.6 1358.1 1344.5 1354.6 1345.4 1352.8C1346.3 1351.0 1346.2 1350.7 1347.6 1348.5C1349.1 1346.3 1352.7 1342.9 1354.1 1339.8C1355.6 1336.7 1355.6 1332.5 1356.3 1330.0C1357.0 1327.5 1357.0 1326.1 1358.5 1324.6C1359.9 1323.0 1363.0 1321.3 1365.0 1320.9C1367.0 1320.4 1369.0 1320.9 1370.4 1321.7C1371.9 1322.5 1373.5 1324.1 1373.7 1325.7C1373.9 1327.2 1372.6 1329.3 1371.5 1331.1C1370.4 1332.9 1368.3 1334.2 1367.2 1336.5C1366.1 1338.9 1365.9 1342.3 1365.0 1345.2C1364.1 1348.1 1363.0 1351.0 1361.7 1353.9C1360.5 1356.8 1358.7 1359.5 1357.4 1362.6C1356.1 1365.7 1354.5 1370.2 1354.1 1372.4C1353.8 1374.6 1353.9 1375.2 1355.2 1375.7C1356.5 1376.1 1359.6 1375.3 1361.7 1375.2C1363.9 1375.1 1366.6 1374.1 1368.3 1375.2C1369.9 1376.4 1371.2 1379.2 1371.5 1382.2C1371.9 1385.1 1370.7 1389.8 1370.4 1393.0C1370.2 1396.3 1370.5 1399.5 1370.0 1401.7C1369.5 1404.0 1369.3 1405.6 1367.2 1406.5C1365.1 1407.5 1360.5 1407.2 1357.4 1407.4C1354.3 1407.6 1350.9 1408.2 1348.7 1407.8C1346.5 1407.4 1346.0 1406.7 1344.3 1405.0C1342.7 1403.3 1340.7 1398.6 1338.9 1397.4C1337.1 1396.2 1335.7 1396.9 1333.5 1397.8C1331.3 1398.7 1328.0 1400.9 1325.9 1402.8C1323.7 1404.7 1321.5 1406.6 1320.4 1409.3C1319.3 1412.1 1319.3 1416.1 1319.3 1419.1C1319.3 1422.2 1320.8 1425.5 1320.4 1427.8C1320.1 1430.2 1318.4 1431.3 1317.2 1433.3C1315.9 1435.3 1313.7 1437.1 1312.8 1439.8C1311.9 1442.5 1312.6 1447.0 1311.7 1449.6C1310.8 1452.1 1309.6 1453.8 1307.4 1455.0C1305.2 1456.2 1301.4 1456.7 1298.7 1456.5C1296.0 1456.3 1293.4 1455.3 1291.1 1453.9C1288.7 1452.6 1286.2 1450.1 1284.6 1448.5C1282.9 1446.8 1283.1 1445.0 1281.3 1444.1C1279.5 1443.2 1276.2 1443.8 1273.7 1443.0C1271.2 1442.3 1268.4 1439.8 1266.1 1439.8C1263.7 1439.8 1261.2 1440.7 1259.6 1443.0C1257.9 1445.4 1256.8 1450.3 1256.3 1453.9C1255.8 1457.5 1256.8 1461.5 1256.3 1464.8C1255.8 1468.0 1254.7 1471.1 1253.0 1473.5C1251.4 1475.8 1247.9 1477.5 1246.5 1478.9C1245.2 1480.3 1245.3 1481.4 1245.0 1481.9 M1405.2 1310.4C1406.1 1310.1 1408.8 1308.1 1410.7 1308.3C1412.5 1308.4 1415.3 1310.1 1416.1 1311.5C1416.9 1313.0 1416.2 1314.6 1415.7 1317.0C1415.1 1319.3 1413.5 1322.8 1412.8 1325.7C1412.2 1328.6 1412.8 1333.8 1411.7 1334.3C1410.7 1334.9 1407.3 1331.4 1406.3 1328.9C1405.3 1326.4 1405.8 1322.2 1405.7 1319.1C1405.5 1316.1 1405.3 1311.9 1405.2 1310.4 M1419.3 1348.5C1420.1 1348.2 1422.1 1346.8 1423.7 1347.0C1425.3 1347.1 1427.9 1348.2 1429.1 1349.6C1430.4 1350.9 1431.3 1353.5 1431.3 1355.0C1431.3 1356.5 1430.6 1358.3 1429.1 1358.7C1427.7 1359.1 1424.2 1358.2 1422.6 1357.2C1421.0 1356.2 1419.9 1354.3 1419.3 1352.8C1418.8 1351.4 1419.3 1349.2 1419.3 1348.5 M1315.0 1368.0C1315.9 1367.9 1318.4 1366.6 1320.4 1367.0C1322.4 1367.3 1325.5 1368.8 1327.0 1370.2C1328.4 1371.7 1329.3 1373.8 1329.1 1375.7C1328.9 1377.5 1327.7 1380.2 1325.9 1381.1C1324.1 1382.0 1320.1 1382.0 1318.3 1381.1C1316.4 1380.2 1315.5 1377.8 1315.0 1375.7C1314.5 1373.5 1315.0 1369.3 1315.0 1368.0 M1460.7 1310.4C1461.0 1309.7 1462.0 1306.2 1462.8 1306.1C1463.7 1306.0 1465.7 1308.6 1465.7 1310.0C1465.7 1311.4 1463.7 1314.7 1462.8 1314.8C1462.0 1314.9 1461.0 1311.2 1460.7 1310.4 M1245.0 1517.1C1246.0 1515.6 1247.7 1511.2 1250.9 1508.3C1254.0 1505.3 1259.9 1502.5 1263.9 1499.6C1267.9 1496.7 1271.5 1493.2 1274.8 1490.9C1278.0 1488.5 1280.6 1486.7 1283.5 1485.4C1286.4 1484.2 1289.3 1483.3 1292.2 1483.3C1295.1 1483.3 1298.8 1484.2 1300.9 1485.4C1303.0 1486.7 1304.6 1488.9 1304.8 1490.9C1305.0 1492.9 1303.7 1495.0 1302.0 1497.4C1300.2 1499.7 1297.8 1502.6 1294.3 1505.0C1290.9 1507.4 1285.3 1509.2 1281.3 1511.5C1277.3 1513.9 1274.1 1516.8 1270.4 1519.1C1266.8 1521.5 1262.8 1523.3 1259.6 1525.7C1256.3 1528.0 1253.3 1531.4 1250.9 1533.3C1248.4 1535.1 1246.0 1536.2 1245.0 1536.7 M1528.9 1136.3C1531.1 1136.5 1538.9 1136.8 1542.2 1137.4C1545.5 1138.0 1546.9 1139.6 1548.7 1140.0C1550.5 1140.4 1551.2 1138.6 1553.0 1139.8C1554.9 1141.0 1557.0 1144.7 1559.6 1147.4C1562.1 1150.1 1565.4 1153.6 1568.3 1156.1C1571.2 1158.6 1574.1 1160.3 1577.0 1162.6C1579.9 1165.0 1582.8 1167.1 1585.7 1170.2C1588.6 1173.3 1591.6 1177.6 1594.3 1181.1C1597.1 1184.5 1599.8 1188.0 1602.0 1190.9C1604.1 1193.8 1605.0 1196.5 1607.4 1198.5C1609.7 1200.5 1612.8 1201.7 1616.1 1202.8C1619.3 1203.9 1623.9 1204.3 1627.0 1205.0C1630.0 1205.7 1632.8 1205.7 1634.6 1207.2C1636.3 1208.6 1636.7 1211.5 1637.4 1213.7C1638.1 1215.9 1637.4 1218.9 1638.9 1220.2C1640.4 1221.5 1644.3 1220.4 1646.5 1221.3C1648.7 1222.2 1651.2 1224.0 1652.0 1225.7C1652.7 1227.3 1652.1 1229.5 1650.9 1231.1C1649.6 1232.7 1646.7 1234.5 1644.3 1235.4C1642.0 1236.4 1638.7 1237.1 1636.7 1237.0C1634.7 1236.8 1633.1 1235.7 1632.4 1234.3C1631.7 1233.0 1633.3 1230.1 1632.4 1228.9C1631.5 1227.8 1628.9 1227.4 1627.0 1227.4C1625.0 1227.4 1622.2 1227.8 1620.4 1228.9C1618.6 1230.0 1615.4 1232.7 1616.1 1233.9C1616.8 1235.1 1622.6 1235.5 1624.8 1236.1C1627.0 1236.7 1628.6 1235.7 1629.1 1237.6C1629.7 1239.5 1628.8 1244.5 1628.0 1247.4C1627.3 1250.3 1625.9 1252.9 1624.8 1255.0C1623.7 1257.1 1621.2 1258.4 1621.5 1260.0C1621.9 1261.6 1625.0 1263.1 1627.0 1264.8C1628.9 1266.5 1631.7 1267.9 1633.5 1270.2C1635.3 1272.6 1636.2 1276.2 1637.8 1278.9C1639.5 1281.6 1641.1 1284.2 1643.3 1286.5C1645.4 1288.9 1648.9 1290.6 1650.9 1293.0C1652.8 1295.4 1654.3 1299.6 1655.0 1300.9 M1655.0 1341.1C1654.7 1341.3 1653.7 1341.1 1653.0 1342.0C1652.4 1342.8 1650.7 1344.9 1650.9 1346.3C1651.1 1347.8 1653.4 1349.9 1654.1 1350.7C1654.8 1351.4 1654.9 1350.7 1655.0 1350.7 M1655.0 1374.9C1654.5 1375.2 1652.8 1375.5 1652.0 1376.7C1651.1 1378.0 1650.1 1381.3 1649.8 1382.2 M1655.0 1491.5C1654.7 1491.7 1654.5 1493.9 1653.0 1493.0C1651.6 1492.2 1649.1 1488.2 1646.5 1486.5C1644.0 1484.9 1640.4 1483.3 1637.8 1483.3C1635.3 1483.3 1633.5 1484.9 1631.3 1486.5C1629.1 1488.2 1627.1 1491.9 1624.8 1493.0C1622.4 1494.2 1618.8 1494.6 1617.2 1493.5C1615.5 1492.4 1616.6 1489.1 1615.0 1486.5C1613.4 1483.9 1609.6 1480.4 1607.4 1477.8C1605.2 1475.3 1603.6 1473.7 1602.0 1471.3C1600.3 1468.9 1599.2 1465.2 1597.6 1463.7C1596.0 1462.2 1594.2 1461.6 1592.2 1462.2C1590.2 1462.7 1588.2 1465.8 1585.7 1467.0C1583.1 1468.1 1579.5 1469.3 1577.0 1469.1C1574.4 1468.9 1572.4 1467.3 1570.4 1465.9C1568.4 1464.4 1567.2 1461.3 1565.0 1460.4C1562.8 1459.5 1558.7 1459.3 1557.4 1460.4C1556.1 1461.5 1557.2 1464.4 1557.4 1467.0C1557.6 1469.5 1559.2 1472.8 1558.5 1475.7C1557.8 1478.6 1555.4 1482.2 1553.0 1484.3C1550.7 1486.5 1546.7 1487.4 1544.3 1488.7C1542.0 1490.0 1539.1 1490.1 1538.9 1492.0C1538.7 1493.8 1541.3 1497.4 1543.3 1499.6C1545.3 1501.7 1548.2 1503.7 1550.9 1505.0C1553.6 1506.3 1557.0 1506.4 1559.6 1507.2C1562.1 1507.9 1566.1 1508.3 1566.1 1509.3C1566.1 1510.4 1562.5 1512.9 1559.6 1513.7C1556.7 1514.5 1552.1 1513.6 1548.7 1514.3C1545.3 1515.1 1541.4 1516.9 1538.9 1518.0C1536.4 1519.2 1533.3 1520.3 1533.5 1521.3C1533.7 1522.3 1538.2 1522.8 1540.0 1523.9C1541.8 1525.0 1542.2 1526.8 1544.3 1527.8C1546.5 1528.8 1549.4 1529.8 1553.0 1530.0C1556.7 1530.2 1561.7 1529.6 1566.1 1528.9C1570.4 1528.3 1574.4 1526.8 1579.1 1526.1C1583.8 1525.4 1589.6 1524.9 1594.3 1524.6C1599.1 1524.2 1603.8 1523.4 1607.4 1523.9C1611.0 1524.5 1613.9 1526.1 1616.1 1527.8C1618.3 1529.6 1619.5 1531.8 1620.4 1534.3C1621.3 1536.9 1620.9 1541.3 1621.5 1543.0C1622.1 1544.8 1623.6 1544.7 1624.0 1545.0 M1795.9 1135.0C1796.0 1135.1 1796.4 1134.5 1796.9 1135.6C1797.4 1136.6 1798.9 1139.1 1798.7 1141.1C1798.5 1143.2 1796.5 1146.0 1795.8 1147.8C1795.0 1149.7 1793.7 1150.7 1794.2 1152.3C1794.8 1153.8 1796.8 1155.5 1799.1 1157.2C1801.4 1158.8 1805.6 1160.5 1808.0 1162.3C1810.4 1164.1 1811.9 1165.6 1813.6 1167.8C1815.3 1170.1 1816.8 1173.5 1818.0 1175.6C1819.3 1177.8 1819.6 1179.4 1820.9 1180.7C1822.2 1182.0 1823.9 1182.3 1825.8 1183.4C1827.8 1184.5 1830.7 1185.8 1832.5 1187.4C1834.4 1189.1 1835.7 1191.1 1837.0 1193.4C1838.3 1195.7 1838.8 1199.0 1840.3 1201.2C1841.8 1203.4 1843.8 1204.9 1845.9 1206.8C1847.9 1208.7 1850.5 1211.2 1852.5 1212.8C1854.6 1214.4 1856.1 1215.4 1858.1 1216.4C1860.1 1217.3 1863.2 1217.6 1864.8 1218.6C1866.4 1219.6 1867.5 1220.6 1867.7 1222.4C1867.9 1224.1 1866.4 1227.0 1865.9 1229.0C1865.4 1231.1 1864.2 1232.6 1864.8 1234.6C1865.3 1236.6 1867.2 1239.6 1869.2 1241.3C1871.3 1243.0 1874.2 1243.9 1877.0 1244.6C1879.8 1245.4 1883.3 1245.2 1885.9 1245.7C1888.5 1246.3 1890.4 1246.5 1892.6 1248.0C1894.8 1249.4 1897.1 1252.2 1899.3 1254.6C1901.5 1257.0 1904.2 1259.6 1906.0 1262.4C1907.7 1265.2 1909.1 1267.8 1910.0 1271.3C1910.8 1274.9 1911.0 1280.0 1910.9 1283.6C1910.7 1287.1 1910.3 1290.1 1909.3 1292.5C1908.3 1294.9 1906.3 1296.4 1904.8 1298.0C1903.4 1299.7 1901.5 1300.6 1900.4 1302.5C1899.3 1304.3 1898.7 1306.9 1898.2 1309.2C1897.6 1311.4 1896.7 1313.6 1897.1 1315.8C1897.4 1318.1 1899.6 1320.5 1900.4 1322.5C1901.1 1324.6 1902.0 1327.1 1901.5 1328.1C1901.0 1329.1 1899.0 1329.5 1897.5 1328.5C1896.0 1327.6 1894.5 1324.8 1892.6 1322.5C1890.7 1320.2 1888.1 1317.0 1885.9 1314.7C1883.7 1312.5 1881.5 1310.5 1879.2 1309.2C1877.0 1307.9 1874.6 1306.9 1872.6 1306.9C1870.5 1306.9 1868.3 1307.9 1867.0 1309.2C1865.7 1310.5 1864.8 1312.5 1864.8 1314.7C1864.8 1317.0 1866.1 1319.7 1867.0 1322.5C1867.9 1325.3 1869.6 1328.3 1870.3 1331.4C1871.1 1334.6 1871.5 1338.3 1871.5 1341.4C1871.5 1344.6 1870.2 1347.4 1870.3 1350.3C1870.5 1353.3 1872.0 1356.6 1872.6 1359.2C1873.1 1361.8 1873.9 1363.3 1873.7 1365.9C1873.5 1368.5 1871.5 1371.9 1871.5 1374.8C1871.4 1377.8 1873.2 1381.1 1873.2 1383.7C1873.2 1386.3 1871.8 1388.2 1871.5 1390.4C1871.2 1392.6 1872.2 1395.4 1871.5 1397.1C1870.7 1398.8 1869.2 1399.5 1867.0 1400.4C1864.8 1401.3 1860.1 1403.0 1858.1 1402.6C1856.1 1402.3 1856.1 1398.9 1854.8 1398.2C1853.5 1397.5 1851.9 1397.6 1850.3 1398.2C1848.8 1398.8 1846.0 1400.5 1845.4 1402.0C1844.9 1403.5 1845.6 1406.0 1847.0 1407.1C1848.3 1408.2 1852.4 1407.7 1853.7 1408.7C1854.9 1409.6 1855.3 1411.5 1854.8 1412.7C1854.2 1413.8 1851.9 1414.6 1850.3 1415.3C1848.8 1416.1 1846.5 1416.0 1845.4 1417.1C1844.4 1418.2 1843.8 1420.0 1844.1 1422.0C1844.3 1424.1 1846.2 1426.6 1847.0 1429.4C1847.7 1432.1 1848.5 1435.5 1848.5 1438.3C1848.5 1441.0 1847.8 1444.0 1847.0 1446.0C1846.2 1448.1 1844.9 1449.3 1843.6 1450.5C1842.3 1451.7 1840.4 1453.4 1839.2 1453.2C1838.0 1453.0 1837.0 1451.3 1836.5 1449.4C1836.1 1447.5 1836.4 1443.8 1836.5 1441.6C1836.6 1439.4 1837.3 1437.5 1837.0 1436.0C1836.7 1434.5 1835.8 1433.4 1834.7 1432.7C1833.6 1432.0 1832.1 1431.4 1830.3 1431.6C1828.4 1431.8 1826.2 1433.3 1823.6 1433.8C1821.0 1434.3 1816.9 1433.7 1814.7 1434.5C1812.5 1435.2 1811.1 1436.3 1810.2 1438.3C1809.4 1440.2 1809.4 1443.5 1809.8 1446.0C1810.2 1448.6 1810.9 1451.8 1812.5 1453.8C1814.0 1455.9 1816.6 1457.2 1819.2 1458.3C1821.7 1459.4 1826.0 1459.6 1828.1 1460.5C1830.1 1461.4 1830.8 1462.2 1831.4 1463.9C1831.9 1465.5 1831.9 1468.7 1831.4 1470.5C1830.8 1472.4 1829.7 1474.2 1828.1 1475.0C1826.4 1475.7 1823.6 1474.9 1821.4 1475.0C1819.2 1475.1 1816.7 1474.3 1814.7 1475.4C1812.7 1476.5 1810.6 1479.9 1809.1 1481.7C1807.7 1483.4 1806.9 1484.6 1805.8 1486.1C1804.7 1487.6 1802.5 1489.1 1802.5 1490.6C1802.5 1492.0 1803.8 1494.1 1805.8 1495.0C1807.8 1495.9 1812.3 1495.6 1814.7 1496.1C1817.1 1496.7 1819.0 1497.1 1820.3 1498.4C1821.6 1499.6 1822.3 1500.8 1822.5 1503.9C1822.7 1507.1 1821.2 1513.6 1821.4 1517.3C1821.6 1521.0 1823.6 1523.2 1823.6 1526.2C1823.6 1529.1 1821.9 1532.1 1821.4 1535.1C1820.8 1538.0 1820.4 1542.3 1820.3 1544.0C1820.1 1545.6 1820.5 1544.8 1820.6 1545.0 M1655.0 1300.9C1655.1 1301.2 1655.5 1300.9 1655.6 1302.5C1655.7 1304.1 1654.6 1307.9 1655.6 1310.3C1656.5 1312.7 1659.1 1314.7 1661.1 1317.0C1663.2 1319.2 1665.6 1321.4 1667.8 1323.6C1670.0 1325.9 1672.3 1328.4 1674.5 1330.3C1676.7 1332.2 1678.6 1333.9 1681.2 1335.2C1683.8 1336.5 1688.0 1336.3 1690.1 1338.1C1692.1 1339.9 1692.8 1342.7 1693.4 1345.9C1694.0 1349.0 1695.1 1354.4 1693.4 1357.0C1691.7 1359.6 1686.2 1359.8 1683.4 1361.5C1680.6 1363.1 1678.9 1365.6 1676.7 1367.0C1674.5 1368.5 1673.0 1369.4 1670.0 1370.4C1667.1 1371.4 1661.4 1372.3 1658.9 1373.0C1656.4 1373.8 1655.7 1374.6 1655.0 1374.9 M1655.0 1341.1C1656.0 1340.9 1659.0 1339.3 1661.1 1339.7C1663.3 1340.0 1666.1 1341.6 1667.8 1343.2C1669.5 1344.8 1671.0 1347.7 1671.1 1349.2C1671.3 1350.8 1670.6 1352.2 1668.9 1352.6C1667.2 1352.9 1663.4 1351.8 1661.1 1351.5C1658.8 1351.1 1656.0 1350.8 1655.0 1350.7 M1700.7 1359.2C1701.2 1358.6 1702.3 1355.4 1703.4 1355.2C1704.5 1355.1 1707.2 1356.8 1707.4 1358.1C1707.6 1359.5 1705.5 1362.5 1704.5 1363.3C1703.6 1364.0 1702.3 1363.3 1701.6 1362.6C1701.0 1361.9 1700.9 1359.8 1700.7 1359.2 M1657.8 1431.6C1658.3 1432.9 1660.9 1437.0 1661.1 1439.4C1661.3 1441.8 1659.7 1444.0 1658.9 1446.0C1658.1 1448.1 1656.4 1449.6 1656.2 1451.6C1656.0 1453.7 1656.8 1455.9 1657.8 1458.3C1658.8 1460.7 1660.9 1463.3 1662.2 1466.1C1663.5 1468.9 1664.8 1472.0 1665.6 1475.0C1666.3 1477.9 1666.9 1481.7 1666.7 1483.9C1666.5 1486.1 1665.6 1487.0 1664.5 1488.3C1663.4 1489.6 1661.6 1491.2 1660.0 1491.7C1658.4 1492.2 1655.8 1491.5 1655.0 1491.5 M1684.5 1473.9C1685.2 1472.4 1687.3 1467.4 1688.9 1465.0C1690.6 1462.6 1692.7 1459.8 1694.5 1459.4C1696.4 1459.0 1698.0 1460.5 1700.1 1462.7C1702.1 1465.0 1704.9 1469.8 1706.8 1472.8C1708.6 1475.7 1710.8 1478.7 1711.2 1480.5C1711.6 1482.4 1710.8 1483.3 1709.0 1483.9C1707.1 1484.5 1703.2 1484.7 1700.1 1484.3C1696.9 1484.0 1692.5 1482.7 1690.1 1481.7C1687.7 1480.7 1686.5 1479.6 1685.6 1478.3C1684.7 1477.0 1684.7 1474.6 1684.5 1473.9 M2038.7 1135.0C2038.9 1135.1 2038.4 1134.7 2039.5 1135.6C2040.6 1136.4 2043.6 1137.6 2045.1 1140.0C2046.5 1142.4 2046.7 1146.1 2048.4 1150.0C2050.1 1153.9 2052.5 1159.5 2055.1 1163.4C2057.7 1167.3 2061.1 1171.2 2064.0 1173.4C2066.9 1175.6 2071.0 1176.2 2072.4 1176.7 M2070.7 1369.3C2070.1 1370.9 2067.8 1376.1 2067.3 1379.3C2066.9 1382.4 2067.1 1385.6 2068.0 1388.2C2068.8 1390.8 2071.7 1393.7 2072.4 1394.9 M2065.1 1472.8C2064.5 1471.5 2063.4 1466.8 2061.8 1465.0C2060.1 1463.1 2058.0 1461.8 2055.1 1461.6C2052.1 1461.4 2047.7 1462.6 2043.9 1463.9C2040.2 1465.2 2035.8 1467.6 2032.8 1469.4C2029.9 1471.2 2029.1 1473.8 2026.1 1474.5C2023.2 1475.3 2019.5 1473.6 2015.0 1473.9C2010.6 1474.1 2004.3 1476.1 1999.4 1476.1C1994.6 1476.1 1989.4 1473.3 1986.1 1473.9C1982.7 1474.4 1981.6 1477.2 1979.4 1479.4C1977.2 1481.7 1974.6 1485.4 1972.7 1487.2C1970.9 1489.1 1969.6 1488.1 1968.3 1490.6C1967.0 1493.0 1965.5 1498.0 1964.9 1501.7C1964.4 1505.4 1964.4 1508.0 1964.9 1512.8C1965.5 1517.6 1967.3 1525.4 1968.3 1530.6C1969.2 1535.8 1970.0 1541.6 1970.5 1544.0C1971.0 1546.4 1971.2 1544.8 1971.3 1545.0 M2069.5 1535.1L2068.3 1545.0 M1715.0 1203.0L1715.4 1204.1 M643.7 1545.0C642.6 1545.5 640.2 1547.1 637.4 1548.3C634.5 1549.4 629.8 1550.3 626.5 1552.0C623.3 1553.7 620.4 1556.8 617.8 1558.5C615.3 1560.1 614.6 1561.0 611.3 1561.7C608.0 1562.5 601.9 1562.3 598.3 1562.8C594.6 1563.4 592.3 1564.3 589.6 1565.0C586.8 1565.7 584.5 1567.2 582.0 1567.2C579.4 1567.2 577.8 1565.7 574.3 1565.0C570.9 1564.3 565.3 1563.3 561.3 1562.8C557.3 1562.4 553.7 1561.9 550.4 1562.2C547.2 1562.4 545.0 1563.2 541.7 1564.3C538.5 1565.5 534.1 1567.9 530.9 1569.3C527.6 1570.8 525.1 1572.6 522.2 1573.0C519.3 1573.5 516.0 1572.1 513.5 1572.2C510.9 1572.3 508.6 1572.4 507.0 1573.7C505.3 1575.0 504.6 1578.0 503.7 1580.2C502.8 1582.4 502.8 1584.9 501.5 1586.7C500.3 1588.6 498.1 1590.4 496.1 1591.1C494.1 1591.8 491.7 1591.3 489.6 1591.1C487.4 1590.8 484.9 1589.2 483.0 1589.6C481.2 1589.9 479.5 1591.0 478.3 1593.3C477.0 1595.5 476.4 1600.0 475.4 1603.0C474.4 1606.1 473.6 1609.2 472.2 1611.7C470.7 1614.3 468.4 1616.3 466.7 1618.3C465.1 1620.3 464.0 1622.7 462.4 1623.7C460.8 1624.7 458.9 1624.9 457.0 1624.3C455.0 1623.8 452.6 1622.4 450.4 1620.4C448.3 1618.5 445.7 1615.7 443.9 1612.8C442.1 1609.9 441.0 1606.1 439.6 1603.0C438.1 1600.0 436.7 1596.9 435.2 1594.3C433.8 1591.8 432.2 1589.8 430.9 1587.8C429.5 1585.8 427.8 1583.3 427.2 1582.4 M619.6 1860.7C619.3 1859.4 618.8 1855.4 617.8 1853.0C616.8 1850.7 615.3 1848.5 613.5 1846.5C611.7 1844.5 608.9 1842.6 607.0 1841.1C605.0 1839.6 603.3 1838.1 601.5 1837.4C599.7 1836.7 597.9 1836.3 596.1 1836.7C594.3 1837.2 592.3 1838.9 590.7 1840.0C589.0 1841.1 587.8 1843.1 586.3 1843.3C584.9 1843.4 583.4 1842.5 582.0 1841.1C580.5 1839.6 579.6 1836.4 577.6 1834.6C575.6 1832.8 572.4 1831.2 570.0 1830.2C567.6 1829.2 565.7 1828.7 563.5 1828.7C561.3 1828.7 558.8 1829.2 557.0 1830.2C555.1 1831.2 553.7 1832.6 552.6 1834.6C551.5 1836.6 550.3 1839.8 550.4 1842.2C550.6 1844.5 552.2 1846.5 553.7 1848.7C555.1 1850.9 557.9 1853.2 559.1 1855.2C560.3 1857.2 561.2 1858.5 560.9 1860.7C560.5 1862.8 558.7 1866.1 557.0 1868.3C555.2 1870.4 552.6 1872.1 550.4 1873.7C548.3 1875.3 545.9 1876.4 543.9 1878.0C541.9 1879.7 539.0 1881.7 538.5 1883.5C537.9 1885.3 538.7 1887.5 540.7 1888.9C542.6 1890.4 547.4 1890.7 550.4 1892.2C553.5 1893.6 556.2 1896.0 559.1 1897.6C562.0 1899.2 565.5 1900.3 567.8 1902.0C570.2 1903.6 571.8 1905.6 573.3 1907.4C574.7 1909.2 575.1 1910.1 576.5 1912.8C578.0 1915.5 581.6 1920.8 582.0 1923.7C582.3 1926.6 579.6 1928.0 578.7 1930.2C577.8 1932.4 577.6 1935.2 576.5 1936.7C575.4 1938.3 574.0 1938.8 572.2 1939.6C570.4 1940.3 567.3 1939.9 565.7 1941.1C564.0 1942.2 562.8 1944.5 562.4 1946.5C562.0 1948.5 563.0 1950.9 563.5 1953.0C563.9 1955.1 564.9 1958.1 565.2 1959.1 M659.1 1787.8C659.9 1787.0 661.7 1783.0 663.5 1783.0C665.3 1783.0 669.1 1786.1 670.0 1787.8C670.9 1789.5 670.0 1792.0 668.9 1793.3C667.8 1794.5 665.1 1796.3 663.5 1795.4C661.8 1794.5 659.9 1789.1 659.1 1787.8 M699.3 1866.1C699.9 1865.0 701.0 1860.4 702.6 1859.6C704.2 1858.8 707.4 1859.9 709.1 1861.3C710.9 1862.8 712.7 1865.8 713.0 1868.3C713.4 1870.7 712.7 1875.0 711.3 1875.9C709.9 1876.8 706.6 1874.6 704.8 1873.7C703.0 1872.8 701.3 1871.7 700.4 1870.4C699.5 1869.2 699.5 1866.8 699.3 1866.1 M518.9 1933.5C519.6 1933.1 521.7 1931.4 523.3 1931.3C524.8 1931.2 527.9 1932.3 528.3 1933.0C528.6 1933.8 526.7 1935.2 525.4 1935.7C524.1 1936.1 521.5 1936.0 520.4 1935.7C519.3 1935.3 519.2 1933.8 518.9 1933.5 M678.7 1920.9C679.6 1920.8 682.3 1921.1 684.1 1920.4C685.9 1919.8 687.9 1918.1 689.6 1917.2C691.3 1916.3 692.9 1915.0 694.3 1915.0C695.8 1915.0 697.7 1915.2 698.3 1917.2C698.8 1919.2 697.5 1924.6 697.8 1927.0C698.2 1929.3 698.9 1930.1 700.4 1931.3C702.0 1932.5 704.4 1933.0 707.0 1933.9C709.5 1934.8 712.8 1935.2 715.7 1936.7C718.6 1938.3 721.4 1941.3 724.3 1943.3C727.2 1945.2 729.4 1946.8 733.0 1948.3C736.7 1949.7 741.7 1951.0 746.1 1952.0C750.4 1952.9 754.8 1954.1 759.1 1954.1C763.5 1954.1 768.2 1952.9 772.2 1952.0C776.2 1951.1 779.8 1950.5 783.0 1948.7C786.3 1946.9 788.8 1943.6 791.7 1941.1C794.6 1938.6 797.2 1935.5 800.4 1933.5C803.7 1931.4 807.7 1930.5 811.3 1928.7C814.9 1926.9 818.6 1924.3 822.2 1922.6C825.8 1920.9 830.9 1919.7 833.0 1918.7C835.2 1917.7 834.7 1916.7 835.0 1916.3 M835.0 1717.8C834.9 1718.0 835.0 1717.5 834.1 1719.3C833.3 1721.2 831.1 1725.7 829.8 1729.1C828.5 1732.6 827.2 1735.3 826.5 1740.0C825.8 1744.7 825.3 1752.3 825.4 1757.4C825.6 1762.5 826.5 1767.0 827.6 1770.4C828.7 1773.9 830.7 1776.7 832.0 1778.0C833.2 1779.4 834.5 1778.3 835.0 1778.3 M835.0 1739.2C834.9 1739.3 834.5 1739.0 834.1 1740.0C833.8 1741.0 832.9 1744.5 833.0 1745.4C833.2 1746.4 834.7 1745.8 835.0 1745.8 M728.7 1850.4C729.4 1850.8 731.8 1852.5 733.0 1852.6C734.3 1852.7 735.8 1851.2 736.3 1850.9 M931.1 1611.7C932.0 1610.5 934.2 1606.5 936.5 1604.1C938.9 1601.8 942.0 1599.4 945.2 1597.6C948.5 1595.8 952.1 1594.6 956.1 1593.3C960.1 1591.9 964.8 1591.0 969.1 1589.6C973.5 1588.1 978.2 1586.0 982.2 1584.6C986.2 1583.1 990.4 1582.1 993.0 1580.9C995.7 1579.6 997.1 1578.9 997.8 1577.0C998.6 1575.0 996.7 1571.3 997.4 1569.3C998.0 1567.4 999.6 1566.6 1001.7 1565.0C1003.9 1563.4 1007.9 1561.0 1010.4 1559.6C1013.0 1558.1 1014.4 1556.7 1017.0 1556.3C1019.5 1555.9 1022.8 1556.1 1025.7 1557.0C1028.6 1557.9 1031.4 1559.9 1034.3 1561.7C1037.2 1563.6 1040.1 1566.4 1043.0 1568.3C1045.9 1570.1 1049.2 1571.0 1051.7 1572.6C1054.3 1574.2 1055.7 1576.8 1058.3 1578.0C1060.8 1579.3 1064.1 1579.9 1067.0 1580.2C1069.9 1580.6 1072.9 1580.9 1075.7 1580.2C1078.4 1579.5 1080.7 1577.5 1083.3 1575.9C1085.8 1574.2 1088.5 1572.4 1090.9 1570.4C1093.2 1568.4 1095.6 1566.4 1097.4 1563.9C1099.2 1561.4 1100.6 1558.1 1101.7 1555.2C1102.9 1552.3 1103.9 1548.2 1104.3 1546.5C1104.8 1544.8 1104.2 1545.3 1104.2 1545.0 M1160.6 1545.0C1160.4 1545.6 1160.3 1546.8 1159.3 1548.7C1158.4 1550.6 1156.6 1554.1 1155.0 1556.3C1153.4 1558.5 1151.4 1559.6 1149.6 1561.7C1147.8 1563.9 1145.4 1566.8 1144.1 1569.3C1142.9 1571.9 1141.8 1575.1 1142.0 1577.0C1142.1 1578.8 1143.2 1579.1 1145.2 1580.2C1147.2 1581.3 1151.2 1582.5 1153.9 1583.5C1156.6 1584.5 1159.0 1586.3 1161.5 1586.1C1164.1 1585.9 1166.4 1584.1 1169.1 1582.4C1171.8 1580.7 1175.7 1578.2 1177.8 1575.9C1180.0 1573.5 1180.4 1571.0 1182.2 1568.3C1184.0 1565.5 1186.5 1562.5 1188.7 1559.6C1190.9 1556.7 1193.5 1553.3 1195.2 1550.9C1196.9 1548.4 1198.2 1546.0 1198.8 1545.0 M897.4 1661.7C896.5 1663.2 893.4 1667.5 892.0 1670.4C890.5 1673.3 889.5 1675.9 888.7 1679.1C887.9 1682.4 888.0 1686.4 887.0 1690.0C885.9 1693.6 884.1 1697.6 882.2 1700.9C880.3 1704.1 877.4 1706.7 875.7 1709.6C873.9 1712.5 872.1 1715.4 871.7 1718.3C871.4 1721.2 872.3 1724.2 873.5 1727.0C874.7 1729.7 877.3 1732.0 878.9 1734.6C880.5 1737.1 882.7 1739.3 883.3 1742.2C883.8 1745.1 883.3 1748.0 882.2 1752.0C881.1 1755.9 878.6 1761.9 876.7 1766.1C874.9 1770.3 873.3 1773.7 871.3 1777.0C869.3 1780.2 865.9 1784.2 864.8 1785.7 M835.0 1717.8C835.3 1717.4 835.2 1716.3 836.5 1715.7C837.9 1715.0 840.9 1713.7 843.0 1713.9C845.2 1714.2 847.9 1715.5 849.6 1717.2C851.2 1718.8 852.6 1721.3 852.8 1723.7C853.0 1726.1 852.3 1729.3 850.7 1731.3C849.0 1733.3 845.6 1734.6 843.0 1735.7C840.5 1736.7 836.8 1737.2 835.4 1737.8C834.1 1738.4 835.1 1739.0 835.0 1739.2 M835.0 1745.8C835.6 1746.3 836.6 1748.1 838.7 1748.7C840.8 1749.2 845.8 1748.0 847.4 1749.1C849.0 1750.2 848.8 1752.8 848.5 1755.2C848.1 1757.7 846.3 1760.8 845.2 1763.9C844.1 1767.0 843.6 1771.3 842.0 1773.7C840.3 1776.1 836.6 1777.3 835.4 1778.0C834.3 1778.8 835.1 1778.3 835.0 1778.3 M870.2 1850.9C869.5 1852.3 867.0 1856.3 865.9 1859.6C864.8 1862.8 864.2 1866.8 863.7 1870.4C863.2 1874.1 863.7 1878.0 862.6 1881.3C861.5 1884.6 859.3 1887.5 857.2 1890.0C855.0 1892.5 852.1 1894.3 849.6 1896.5C847.0 1898.7 843.6 1900.5 842.0 1903.0C840.3 1905.6 840.9 1909.5 839.8 1911.7C838.6 1914.0 835.8 1915.6 835.0 1916.3 M835.0 1954.5C835.3 1954.2 835.2 1954.7 836.5 1953.0C837.9 1951.4 840.9 1947.2 843.0 1944.3C845.2 1941.4 846.8 1938.2 849.6 1935.7C852.3 1933.1 856.6 1931.3 859.3 1929.1C862.1 1927.0 863.5 1925.1 865.9 1922.6C868.2 1920.1 870.8 1917.2 873.5 1913.9C876.2 1910.7 880.4 1906.7 882.2 1903.0C884.0 1899.4 883.4 1895.4 884.3 1892.2C885.3 1888.9 885.8 1885.5 887.6 1883.5C889.4 1881.5 892.5 1880.5 895.2 1880.2C897.9 1879.9 900.3 1881.5 903.9 1881.7C907.5 1882.0 913.3 1882.0 917.0 1881.7C920.6 1881.5 923.4 1879.9 925.7 1880.2C927.9 1880.5 929.9 1881.5 930.4 1883.5C931.0 1885.5 930.4 1889.6 928.9 1892.2C927.4 1894.7 923.8 1897.1 921.3 1898.7C918.8 1900.3 915.8 1900.1 913.7 1902.0C911.6 1903.8 909.1 1907.0 908.7 1909.6C908.3 1912.1 909.8 1915.5 911.5 1917.2C913.3 1918.8 916.4 1918.8 919.1 1919.3C921.8 1919.9 924.9 1919.7 927.8 1920.4C930.7 1921.2 934.0 1922.4 936.5 1923.7C939.1 1925.0 941.1 1927.7 943.0 1928.0C945.0 1928.4 947.6 1926.2 948.5 1925.9 M940.9 1865.0C941.1 1864.1 940.9 1861.0 942.0 1859.6C943.0 1858.1 945.6 1856.3 947.4 1856.3C949.2 1856.3 951.4 1857.9 952.8 1859.6C954.3 1861.2 955.5 1865.0 956.1 1866.1 M1010.4 1660.0C1009.0 1660.3 1004.5 1660.5 1001.7 1661.7C999.0 1662.9 996.1 1664.8 994.1 1667.2C992.1 1669.5 990.0 1673.2 989.8 1675.9C989.6 1678.6 991.6 1681.1 993.0 1683.5C994.5 1685.8 997.4 1687.3 998.5 1690.0C999.6 1692.7 999.9 1696.7 999.6 1699.8C999.2 1702.9 997.3 1705.9 996.3 1708.5C995.3 1711.0 993.1 1713.4 993.5 1715.0C993.8 1716.6 997.1 1716.3 998.5 1718.3C999.9 1720.3 1000.3 1725.6 1001.7 1727.0C1003.2 1728.3 1005.5 1727.2 1007.2 1726.5C1008.8 1725.8 1010.8 1723.3 1011.5 1722.6 M1026.7 1695.4C1026.4 1696.5 1025.5 1699.6 1024.6 1702.0C1023.7 1704.3 1021.8 1708.3 1021.3 1709.6 M1008.3 1743.3C1006.8 1744.9 1002.5 1750.0 999.6 1753.0C996.7 1756.1 993.6 1758.5 990.9 1761.7C988.2 1765.0 985.1 1769.3 983.3 1772.6C981.4 1775.9 980.5 1778.4 980.0 1781.3C979.5 1784.2 980.7 1787.5 980.0 1790.0C979.3 1792.5 977.8 1795.1 975.7 1796.5C973.5 1798.0 969.5 1797.2 967.0 1798.7C964.4 1800.1 962.4 1803.0 960.4 1805.2C958.4 1807.4 957.0 1810.3 955.0 1811.7C953.0 1813.2 950.5 1813.4 948.5 1813.9C946.5 1814.5 944.2 1813.9 943.0 1815.0C941.8 1816.1 941.1 1818.4 941.3 1820.4C941.5 1822.4 942.8 1824.4 944.1 1827.0C945.5 1829.5 947.6 1832.9 949.6 1835.7C951.6 1838.4 953.9 1841.8 956.1 1843.3C958.3 1844.7 960.4 1844.9 962.6 1844.3C964.8 1843.8 967.1 1840.5 969.1 1840.0C971.1 1839.5 972.8 1840.2 974.6 1841.1C976.4 1842.0 978.4 1843.4 980.0 1845.4C981.6 1847.4 983.4 1850.3 984.3 1853.0C985.3 1855.8 985.3 1860.3 985.4 1861.7 M988.7 1861.7C989.8 1860.7 992.7 1857.4 995.2 1855.2C997.8 1853.0 1001.2 1850.5 1003.9 1848.7C1006.6 1846.9 1009.5 1846.5 1011.5 1844.3C1013.5 1842.2 1014.4 1838.6 1015.9 1835.7C1017.3 1832.8 1018.9 1829.3 1020.2 1827.0C1021.5 1824.6 1023.4 1822.8 1023.5 1821.5C1023.6 1820.3 1022.0 1818.4 1020.9 1819.3C1019.8 1820.3 1018.5 1825.0 1017.0 1827.0C1015.4 1828.9 1013.7 1830.2 1011.5 1831.3C1009.3 1832.4 1006.4 1832.6 1003.9 1833.5C1001.4 1834.4 998.5 1836.6 996.3 1836.7C994.1 1836.9 992.4 1835.8 990.9 1834.6C989.3 1833.3 987.7 1831.1 987.0 1829.1C986.2 1827.1 986.1 1824.8 986.5 1822.6C987.0 1820.4 988.3 1818.3 989.8 1816.1C991.2 1813.9 993.2 1811.3 995.2 1809.6C997.2 1807.8 999.7 1806.2 1001.7 1805.7C1003.7 1805.1 1006.1 1807.5 1007.2 1806.3C1008.3 1805.1 1008.4 1801.4 1008.3 1798.7C1008.1 1796.0 1007.4 1792.5 1006.1 1790.0C1004.8 1787.5 1002.3 1785.7 1000.7 1783.5C999.0 1781.3 996.7 1778.8 996.3 1777.0C995.9 1775.1 997.2 1773.8 998.5 1772.6C999.7 1771.4 1001.9 1770.5 1003.9 1770.0C1005.9 1769.5 1009.3 1769.5 1010.4 1769.3 M1013.7 1772.6C1014.6 1773.2 1017.1 1775.7 1019.1 1775.9C1021.1 1776.1 1024.6 1774.1 1025.7 1773.7 M1057.2 1772.6C1057.4 1773.7 1058.8 1776.6 1058.3 1779.1C1057.7 1781.7 1054.3 1785.5 1053.9 1787.8C1053.6 1790.2 1055.0 1791.8 1056.1 1793.3C1057.2 1794.7 1060.1 1794.9 1060.4 1796.5C1060.8 1798.2 1059.7 1800.9 1058.3 1803.0C1056.8 1805.2 1053.9 1807.4 1051.7 1809.6C1049.6 1811.7 1046.8 1813.6 1045.2 1816.1C1043.6 1818.6 1043.6 1822.2 1042.0 1824.8C1040.3 1827.3 1036.2 1829.7 1035.4 1831.3C1034.7 1832.9 1036.0 1834.6 1037.6 1834.6C1039.2 1834.6 1042.1 1832.6 1045.2 1831.3C1048.3 1830.0 1053.2 1828.4 1056.1 1827.0C1059.0 1825.5 1060.8 1824.2 1062.6 1822.6C1064.4 1821.0 1065.5 1819.0 1067.0 1817.2C1068.4 1815.4 1069.1 1813.2 1071.3 1811.7C1073.5 1810.3 1076.7 1809.6 1080.0 1808.5C1083.3 1807.4 1086.9 1805.9 1090.9 1805.2C1094.9 1804.5 1099.6 1804.3 1103.9 1804.1C1108.3 1803.9 1113.0 1803.8 1117.0 1804.1C1120.9 1804.5 1124.6 1805.4 1127.8 1806.3C1131.1 1807.2 1134.0 1808.7 1136.5 1809.6C1139.1 1810.5 1140.9 1811.9 1143.0 1811.7C1145.2 1811.6 1147.4 1810.5 1149.6 1808.5C1151.7 1806.5 1154.3 1802.9 1156.1 1799.8C1157.9 1796.7 1159.0 1793.8 1160.4 1790.0C1161.9 1786.2 1163.5 1780.9 1164.8 1777.0C1166.1 1773.0 1167.5 1767.9 1168.0 1766.1 M1071.3 1773.7C1071.7 1774.6 1072.0 1777.3 1073.5 1779.1C1074.9 1780.9 1077.5 1782.8 1080.0 1784.6C1082.5 1786.4 1086.3 1789.6 1088.7 1790.0C1091.1 1790.4 1092.5 1788.6 1094.1 1786.7C1095.8 1784.9 1096.5 1781.1 1098.5 1779.1C1100.5 1777.1 1103.4 1775.9 1106.1 1774.8C1108.8 1773.7 1111.9 1773.7 1114.8 1772.6C1117.7 1771.5 1120.6 1769.7 1123.5 1768.3C1126.4 1766.8 1129.6 1765.1 1132.2 1763.9C1134.7 1762.8 1136.5 1761.4 1138.7 1761.3C1140.9 1761.2 1144.1 1763.1 1145.2 1763.5 M1083.9 1774.3L1084.8 1775.2 M1112.6 1750.4C1114.1 1750.1 1118.4 1749.1 1121.3 1748.7C1124.2 1748.3 1127.1 1748.1 1130.0 1748.3C1132.9 1748.4 1136.3 1749.3 1138.7 1749.8C1141.1 1750.2 1143.2 1750.7 1144.1 1750.9 M1189.8 1763.9C1190.5 1764.6 1192.5 1767.5 1194.1 1768.3C1195.8 1769.1 1198.1 1769.4 1199.6 1768.7C1201.0 1768.0 1202.3 1764.7 1202.8 1763.9 M1176.7 1765.0C1176.0 1767.0 1173.7 1772.8 1172.4 1777.0C1171.1 1781.1 1169.7 1786.4 1169.1 1790.0C1168.6 1793.6 1169.7 1796.3 1169.1 1798.7C1168.6 1801.1 1167.1 1802.3 1165.9 1804.1C1164.6 1805.9 1162.4 1806.8 1161.5 1809.6C1160.6 1812.3 1161.3 1817.2 1160.4 1820.4C1159.5 1823.7 1157.9 1826.6 1156.1 1829.1C1154.3 1831.7 1151.7 1835.5 1149.6 1835.7C1147.4 1835.8 1145.2 1832.6 1143.0 1830.2C1140.9 1827.9 1139.1 1823.9 1136.5 1821.5C1134.0 1819.2 1131.1 1817.4 1127.8 1816.1C1124.6 1814.7 1120.6 1814.4 1117.0 1813.5C1113.3 1812.6 1109.3 1810.9 1106.1 1810.7C1102.8 1810.4 1100.1 1810.7 1097.4 1811.7C1094.7 1812.8 1092.3 1815.7 1089.8 1817.2C1087.2 1818.6 1084.0 1819.5 1082.2 1820.4C1080.4 1821.3 1078.7 1821.0 1078.9 1822.6C1079.1 1824.2 1081.3 1828.6 1083.3 1830.2C1085.3 1831.8 1087.8 1832.6 1090.9 1832.4C1093.9 1832.2 1098.1 1829.9 1101.7 1829.1C1105.4 1828.4 1109.3 1827.7 1112.6 1828.0C1115.9 1828.4 1118.9 1829.7 1121.3 1831.3C1123.7 1832.9 1125.3 1835.3 1126.7 1837.8C1128.2 1840.4 1130.2 1844.0 1130.0 1846.5C1129.8 1849.1 1127.8 1851.2 1125.7 1853.0C1123.5 1854.9 1119.5 1855.6 1117.0 1857.4C1114.4 1859.2 1112.4 1861.7 1110.4 1863.9C1108.4 1866.1 1106.4 1868.1 1105.0 1870.4C1103.6 1872.8 1103.4 1875.9 1101.7 1878.0C1100.1 1880.2 1097.4 1882.2 1095.2 1883.5C1093.0 1884.7 1091.6 1884.9 1088.7 1885.7C1085.8 1886.4 1081.1 1886.9 1077.8 1887.8C1074.6 1888.7 1070.8 1889.6 1069.1 1891.1C1067.5 1892.5 1067.3 1894.5 1068.0 1896.5C1068.8 1898.5 1071.5 1900.1 1073.5 1903.0C1075.5 1905.9 1079.1 1910.7 1080.0 1913.9C1080.9 1917.2 1078.7 1919.7 1078.9 1922.6C1079.1 1925.5 1080.9 1928.0 1081.1 1931.3C1081.3 1934.6 1079.6 1938.9 1080.0 1942.2C1080.4 1945.4 1081.8 1948.0 1083.3 1950.9C1084.7 1953.7 1087.8 1957.8 1088.7 1959.1 M1047.4 1872.6C1048.5 1871.9 1051.7 1869.3 1053.9 1868.3C1056.1 1867.2 1058.4 1867.2 1060.4 1866.1C1062.4 1865.0 1064.6 1863.4 1065.9 1861.7C1067.1 1860.1 1067.1 1856.5 1068.0 1856.3C1068.9 1856.1 1070.4 1858.3 1071.3 1860.7C1072.2 1863.0 1072.9 1867.4 1073.5 1870.4C1074.0 1873.5 1073.5 1877.0 1074.6 1879.1C1075.7 1881.3 1078.2 1883.5 1080.0 1883.5C1081.8 1883.5 1084.3 1881.7 1085.4 1879.1C1086.5 1876.6 1086.2 1871.9 1086.5 1868.3C1086.9 1864.6 1086.2 1859.9 1087.6 1857.4C1089.1 1854.9 1092.9 1854.3 1095.2 1853.0C1097.6 1851.8 1100.3 1851.2 1101.7 1849.8C1103.2 1848.3 1104.5 1845.8 1103.9 1844.3C1103.4 1842.9 1100.7 1841.1 1098.5 1841.1C1096.3 1841.1 1093.6 1843.4 1090.9 1844.3C1088.2 1845.3 1084.3 1847.1 1082.2 1846.5C1080.0 1846.0 1079.3 1842.9 1077.8 1841.1C1076.4 1839.3 1074.7 1836.6 1073.5 1835.7C1072.2 1834.7 1071.1 1834.6 1070.2 1835.7C1069.3 1836.7 1069.7 1840.7 1068.0 1842.2C1066.4 1843.6 1062.8 1843.3 1060.4 1844.3C1058.1 1845.4 1055.9 1846.9 1053.9 1848.7C1051.9 1850.5 1049.6 1853.2 1048.5 1855.2C1047.4 1857.2 1047.6 1859.7 1047.4 1860.7 M1245.0 1831.4C1243.9 1831.4 1241.9 1831.0 1238.7 1831.3C1235.5 1831.6 1230.0 1832.4 1225.7 1833.5C1221.3 1834.6 1217.0 1836.0 1212.6 1837.8C1208.3 1839.6 1203.6 1842.5 1199.6 1844.3C1195.6 1846.2 1192.3 1847.6 1188.7 1848.7C1185.1 1849.8 1180.7 1849.4 1177.8 1850.9C1174.9 1852.3 1173.5 1854.5 1171.3 1857.4C1169.1 1860.3 1167.3 1865.2 1164.8 1868.3C1162.2 1871.3 1159.3 1873.5 1156.1 1875.9C1152.8 1878.2 1148.8 1880.8 1145.2 1882.4C1141.6 1884.0 1137.6 1884.4 1134.3 1885.7C1131.1 1886.9 1128.2 1888.2 1125.7 1890.0C1123.1 1891.8 1120.9 1894.0 1119.1 1896.5C1117.3 1899.1 1115.7 1902.3 1114.8 1905.2C1113.9 1908.1 1113.3 1911.4 1113.7 1913.9C1114.1 1916.4 1114.6 1918.6 1117.0 1920.4C1119.3 1922.2 1123.1 1923.3 1127.8 1924.8C1132.5 1926.2 1139.8 1928.0 1145.2 1929.1C1150.7 1930.2 1155.0 1930.9 1160.4 1931.3C1165.9 1931.7 1172.0 1931.7 1177.8 1931.3C1183.6 1930.9 1189.4 1930.0 1195.2 1929.1C1201.0 1928.2 1207.2 1927.3 1212.6 1925.9C1218.0 1924.4 1223.5 1922.1 1227.8 1920.4C1232.2 1918.8 1235.8 1917.4 1238.7 1916.1C1241.6 1914.8 1243.9 1913.1 1245.0 1912.4 M1128.9 1907.4C1129.5 1906.3 1130.5 1902.7 1132.2 1900.9C1133.8 1899.1 1136.2 1897.8 1138.7 1896.5C1141.2 1895.3 1144.1 1893.4 1147.4 1893.3C1150.7 1893.1 1154.8 1894.5 1158.3 1895.4C1161.7 1896.3 1167.0 1897.4 1168.0 1898.7C1169.1 1900.0 1167.1 1901.6 1164.8 1903.0C1162.4 1904.5 1157.5 1905.8 1153.9 1907.4C1150.3 1909.0 1145.9 1911.4 1143.0 1912.8C1140.1 1914.2 1138.5 1915.5 1136.5 1915.7C1134.5 1915.8 1132.4 1915.3 1131.1 1913.9C1129.8 1912.5 1129.3 1908.5 1128.9 1907.4 M1186.5 1774.8C1185.8 1775.5 1183.4 1777.0 1182.2 1779.1C1180.9 1781.3 1178.7 1785.5 1178.9 1787.8C1179.1 1790.2 1182.0 1792.5 1183.3 1793.3C1184.5 1794.0 1186.2 1794.2 1186.5 1792.2C1186.9 1790.2 1185.4 1784.2 1185.4 1781.3C1185.4 1778.4 1186.3 1775.9 1186.5 1774.8 M1186.5 1793.3C1188.7 1792.9 1196.3 1792.0 1199.6 1791.1C1202.8 1790.2 1204.3 1790.0 1206.1 1787.8C1207.9 1785.7 1209.0 1780.8 1210.4 1778.0C1211.9 1775.3 1212.6 1773.0 1214.8 1771.5C1217.0 1770.1 1220.2 1769.6 1223.5 1769.3C1226.7 1769.1 1230.9 1770.3 1234.3 1770.0C1237.8 1769.7 1242.7 1767.0 1244.1 1767.8C1245.6 1768.6 1243.6 1772.5 1243.0 1774.8C1242.5 1777.0 1240.5 1779.9 1240.9 1781.3C1241.2 1782.7 1244.3 1783.0 1245.0 1783.3 M1106.1 1959.1C1105.0 1957.4 1101.6 1951.9 1099.6 1948.7C1097.6 1945.5 1095.6 1943.3 1094.1 1940.0C1092.7 1936.7 1091.2 1932.8 1090.9 1929.1C1090.5 1925.5 1091.1 1921.5 1092.0 1918.3C1092.9 1915.0 1095.9 1912.3 1096.3 1909.6C1096.7 1906.8 1093.9 1904.1 1094.1 1902.0C1094.3 1899.8 1095.4 1898.2 1097.4 1896.5C1099.4 1894.9 1104.3 1894.7 1106.1 1892.2C1107.9 1889.6 1107.2 1884.0 1108.3 1881.3C1109.3 1878.6 1110.8 1877.7 1112.6 1875.9C1114.4 1874.1 1117.3 1872.8 1119.1 1870.4C1120.9 1868.1 1121.3 1864.3 1123.5 1861.7C1125.7 1859.2 1129.3 1857.4 1132.2 1855.2C1135.1 1853.0 1138.0 1850.9 1140.9 1848.7C1143.8 1846.5 1147.0 1844.3 1149.6 1842.2C1152.1 1840.0 1153.6 1838.2 1156.1 1835.7C1158.6 1833.1 1161.9 1829.5 1164.8 1827.0C1167.7 1824.4 1169.9 1822.2 1173.5 1820.4C1177.1 1818.6 1182.2 1817.5 1186.5 1816.1C1190.9 1814.6 1195.2 1813.0 1199.6 1811.7C1203.9 1810.5 1207.9 1809.4 1212.6 1808.5C1217.3 1807.6 1222.4 1806.9 1227.8 1806.3C1233.2 1805.7 1242.1 1804.9 1245.0 1804.6 M1099.6 1709.6C1101.4 1708.7 1107.5 1704.9 1110.4 1704.1C1113.3 1703.4 1114.8 1703.9 1117.0 1705.2C1119.1 1706.5 1120.9 1709.6 1123.5 1711.7C1126.0 1713.9 1129.3 1717.7 1132.2 1718.3C1135.1 1718.8 1138.7 1716.1 1140.9 1715.0C1143.0 1713.9 1144.5 1712.3 1145.2 1711.7 M1143.0 1702.0C1143.4 1700.9 1143.4 1697.4 1145.2 1695.4C1147.0 1693.4 1151.0 1692.4 1153.9 1690.0C1156.8 1687.6 1159.7 1683.5 1162.6 1681.3C1165.5 1679.1 1169.1 1676.6 1171.3 1677.0C1173.5 1677.3 1175.3 1680.9 1175.7 1683.5C1176.0 1686.0 1173.1 1690.2 1173.5 1692.2C1173.8 1694.2 1175.7 1695.8 1177.8 1695.4C1180.0 1695.1 1182.9 1692.4 1186.5 1690.0C1190.1 1687.6 1195.6 1682.4 1199.6 1681.3C1203.6 1680.2 1207.2 1684.6 1210.4 1683.5C1213.7 1682.4 1216.2 1677.9 1219.1 1674.8C1222.0 1671.7 1224.9 1667.0 1227.8 1665.0C1230.7 1663.0 1234.0 1662.3 1236.5 1662.8C1239.1 1663.4 1241.6 1666.9 1243.0 1668.3C1244.5 1669.7 1244.7 1670.7 1245.0 1671.2 M1238.7 1702.0L1245.0 1699.5 M1027.8 1927.0C1028.7 1926.1 1031.8 1922.2 1033.3 1921.5C1034.7 1920.9 1036.7 1921.4 1036.5 1923.0C1036.3 1924.7 1033.6 1930.7 1032.2 1931.3C1030.7 1932.0 1028.6 1927.7 1027.8 1927.0 M980.0 1925.9C981.1 1927.1 984.0 1930.8 986.5 1933.5C989.1 1936.2 992.3 1939.6 995.2 1942.2C998.1 1944.7 1001.4 1946.9 1003.9 1948.7C1006.4 1950.5 1008.3 1951.3 1010.4 1953.0C1012.6 1954.8 1015.9 1958.1 1017.0 1959.1 M1003.9 1923.7L1010.4 1924.8 M1071.3 1959.1C1072.8 1958.7 1077.1 1956.3 1080.0 1956.3C1082.9 1956.3 1087.2 1958.7 1088.7 1959.1 M1080.0 1632.4C1081.8 1632.1 1087.6 1630.9 1090.9 1630.9C1094.1 1630.9 1098.1 1632.1 1099.6 1632.4 M1245.0 1831.4C1246.3 1831.8 1249.5 1832.2 1253.0 1833.5C1256.6 1834.7 1261.7 1837.6 1266.1 1838.9C1270.4 1840.2 1275.5 1840.7 1279.1 1841.1C1282.8 1841.4 1284.2 1840.5 1287.8 1841.1C1291.4 1841.6 1296.5 1842.7 1300.9 1844.3C1305.2 1846.0 1309.6 1849.4 1313.9 1850.9C1318.3 1852.3 1323.0 1852.0 1327.0 1853.0C1330.9 1854.1 1334.2 1855.2 1337.8 1857.4C1341.4 1859.6 1344.7 1863.2 1348.7 1866.1C1352.7 1869.0 1358.1 1872.2 1361.7 1874.8C1365.4 1877.3 1367.9 1879.9 1370.4 1881.3C1373.0 1882.8 1373.3 1882.9 1377.0 1883.5C1380.6 1884.0 1387.1 1885.1 1392.2 1884.6C1397.2 1884.0 1403.0 1880.0 1407.4 1880.2C1411.7 1880.4 1415.0 1883.3 1418.3 1885.7C1421.5 1888.0 1424.6 1891.1 1427.0 1894.3C1429.3 1897.6 1431.1 1902.0 1432.4 1905.2C1433.7 1908.5 1433.7 1911.0 1434.6 1913.9C1435.5 1916.8 1437.5 1919.7 1437.8 1922.6C1438.2 1925.5 1437.8 1928.4 1436.7 1931.3C1435.7 1934.2 1434.0 1938.1 1431.3 1940.0C1428.6 1941.9 1424.4 1942.4 1420.4 1942.6C1416.4 1942.8 1412.1 1941.2 1407.4 1941.1C1402.7 1941.0 1397.2 1941.6 1392.2 1942.2C1387.1 1942.8 1379.5 1944.3 1377.0 1944.8 M1245.0 1926.0C1246.0 1925.7 1247.7 1924.3 1250.9 1923.7C1254.0 1923.1 1259.6 1922.1 1263.9 1922.6C1268.3 1923.2 1272.6 1925.9 1277.0 1927.0C1281.3 1928.0 1287.8 1928.8 1290.0 1929.1 M1245.0 1958.0C1247.1 1957.5 1251.7 1956.2 1257.4 1955.2C1263.1 1954.2 1271.2 1952.1 1279.1 1952.0C1287.1 1951.8 1296.5 1952.9 1305.2 1954.1C1313.9 1955.3 1327.0 1958.3 1331.3 1959.1 M1429.1 1773.7C1429.3 1775.3 1430.4 1780.8 1430.2 1783.5C1430.0 1786.2 1429.7 1787.5 1428.0 1790.0C1426.4 1792.5 1422.4 1795.8 1420.4 1798.7C1418.4 1801.6 1417.5 1804.5 1416.1 1807.4C1414.6 1810.3 1414.3 1814.3 1411.7 1816.1C1409.2 1817.9 1404.1 1816.4 1400.9 1818.3C1397.6 1820.1 1394.0 1824.4 1392.2 1827.0C1390.4 1829.5 1389.3 1831.7 1390.0 1833.5C1390.7 1835.3 1394.0 1836.2 1396.5 1837.8C1399.1 1839.5 1402.0 1841.8 1405.2 1843.3C1408.5 1844.7 1412.8 1846.5 1416.1 1846.5C1419.3 1846.5 1422.2 1845.4 1424.8 1843.3C1427.3 1841.1 1429.5 1836.6 1431.3 1833.5C1433.1 1830.4 1433.8 1826.8 1435.7 1824.8C1437.5 1822.8 1438.9 1822.4 1442.2 1821.5C1445.4 1820.6 1450.5 1820.6 1455.2 1819.3C1459.9 1818.1 1465.4 1816.6 1470.4 1813.9C1475.5 1811.2 1480.6 1805.9 1485.7 1803.0C1490.7 1800.1 1495.8 1798.3 1500.9 1796.5C1505.9 1794.7 1511.4 1794.3 1516.1 1792.2C1520.8 1790.0 1525.1 1786.7 1529.1 1783.5C1533.1 1780.2 1536.0 1775.9 1540.0 1772.6C1544.0 1769.3 1548.7 1766.1 1553.0 1763.9C1557.4 1761.7 1561.9 1761.0 1566.1 1759.6C1570.3 1758.1 1573.7 1754.9 1578.0 1755.2C1582.4 1755.6 1586.9 1759.0 1592.2 1761.7C1597.4 1764.5 1604.5 1768.3 1609.6 1771.5C1614.6 1774.8 1618.3 1777.9 1622.6 1781.3C1627.0 1784.7 1631.7 1789.3 1635.7 1792.2C1639.6 1795.1 1643.6 1796.5 1646.5 1798.7C1649.4 1800.9 1651.6 1803.5 1653.0 1805.2C1654.5 1806.9 1654.7 1808.3 1655.0 1808.9 M1483.5 1788.9C1484.9 1787.6 1489.3 1783.5 1492.2 1781.3C1495.1 1779.1 1498.5 1776.8 1500.9 1775.9C1503.2 1775.0 1505.6 1774.8 1506.3 1775.9C1507.0 1777.0 1506.8 1780.4 1505.2 1782.4C1503.6 1784.4 1499.4 1786.2 1496.5 1787.8C1493.6 1789.5 1490.0 1792.0 1487.8 1792.2C1485.7 1792.4 1484.2 1789.5 1483.5 1788.9 M1441.1 1773.7C1442.4 1774.2 1446.0 1776.4 1448.7 1777.0C1451.4 1777.5 1454.9 1777.5 1457.4 1777.0C1459.9 1776.4 1462.8 1774.2 1463.9 1773.7 M1605.2 1740.0C1605.6 1739.1 1605.9 1735.5 1607.4 1734.6C1608.8 1733.7 1611.9 1733.8 1613.9 1734.6C1615.9 1735.3 1618.8 1737.1 1619.3 1738.9C1619.9 1740.7 1618.8 1744.2 1617.2 1745.4C1615.5 1746.7 1611.6 1747.4 1609.6 1746.5C1607.6 1745.6 1605.9 1741.1 1605.2 1740.0 M1623.7 1736.7C1625.0 1736.0 1628.2 1733.3 1631.3 1732.4C1634.4 1731.5 1639.1 1730.4 1642.2 1731.3C1645.3 1732.2 1648.3 1735.3 1649.8 1737.8C1651.2 1740.4 1651.8 1743.8 1650.9 1746.5C1650.0 1749.2 1646.5 1752.5 1644.3 1754.1C1642.2 1755.8 1640.0 1756.7 1637.8 1756.3C1635.7 1755.9 1633.1 1753.9 1631.3 1752.0C1629.5 1750.0 1628.2 1746.9 1627.0 1744.3C1625.7 1741.8 1624.2 1738.0 1623.7 1736.7 M1537.8 1732.4C1538.4 1731.8 1540.2 1728.9 1541.1 1729.1C1542.0 1729.3 1543.4 1732.2 1543.3 1733.5C1543.1 1734.7 1540.9 1736.9 1540.0 1736.7C1539.1 1736.6 1538.2 1733.1 1537.8 1732.4 M1531.3 1744.3L1531.3 1749.8 M1516.1 1720.4C1517.2 1719.7 1520.1 1717.2 1522.6 1716.1C1525.1 1715.0 1528.4 1713.9 1531.3 1713.9C1534.2 1713.9 1537.1 1715.2 1540.0 1716.1C1542.9 1717.0 1546.2 1719.7 1548.7 1719.3C1551.2 1719.0 1554.5 1716.3 1555.2 1713.9C1555.9 1711.6 1553.8 1707.4 1553.0 1705.2C1552.3 1703.0 1552.7 1701.4 1550.9 1700.9C1549.1 1700.3 1545.4 1701.2 1542.2 1702.0C1538.9 1702.7 1534.9 1704.1 1531.3 1705.2C1527.7 1706.3 1523.7 1707.8 1520.4 1708.5C1517.2 1709.2 1513.2 1709.4 1511.7 1709.6 M1507.4 1696.1C1509.2 1696.3 1514.6 1697.5 1518.3 1697.6C1521.9 1697.7 1527.3 1696.7 1529.1 1696.5 M1566.1 1695.4C1568.3 1695.6 1575.5 1696.5 1579.1 1696.5C1582.8 1696.5 1586.4 1695.6 1587.8 1695.4 M1600.9 1642.2C1602.3 1641.3 1605.9 1638.6 1609.6 1636.7C1613.2 1634.9 1618.6 1632.8 1622.6 1631.3C1626.6 1629.9 1630.9 1628.4 1633.5 1628.0C1636.0 1627.7 1638.2 1628.2 1637.8 1629.1C1637.5 1630.0 1634.2 1631.8 1631.3 1633.5C1628.4 1635.1 1624.1 1637.1 1620.4 1638.9C1616.8 1640.7 1612.5 1642.7 1609.6 1644.3C1606.7 1646.0 1604.1 1648.0 1603.0 1648.7 M1655.0 1642.9C1653.9 1643.5 1650.8 1645.2 1648.7 1646.5C1646.6 1647.9 1644.0 1650.9 1642.2 1650.9C1640.4 1650.9 1640.0 1647.1 1637.8 1646.5C1635.7 1646.0 1631.7 1646.5 1629.1 1647.6C1626.6 1648.7 1623.0 1651.2 1622.6 1653.0C1622.2 1654.9 1624.4 1657.4 1627.0 1658.5C1629.5 1659.6 1634.2 1659.6 1637.8 1659.6C1641.4 1659.6 1645.8 1658.8 1648.7 1658.5C1651.6 1658.2 1653.9 1657.9 1655.0 1657.8 M1602.0 1679.1C1602.9 1678.0 1605.0 1674.1 1607.4 1672.6C1609.7 1671.2 1614.1 1669.7 1616.1 1670.4C1618.1 1671.2 1618.3 1674.8 1619.3 1677.0C1620.4 1679.1 1620.6 1681.7 1622.6 1683.5C1624.6 1685.3 1628.0 1687.1 1631.3 1687.8C1634.6 1688.6 1638.9 1688.9 1642.2 1687.8C1645.4 1686.7 1648.7 1683.8 1650.9 1681.3C1653.0 1678.8 1654.3 1674.4 1655.0 1673.0 M1641.1 1582.4C1641.6 1582.0 1643.1 1580.3 1644.3 1580.2C1645.6 1580.1 1647.9 1580.7 1648.7 1581.7C1649.5 1582.8 1649.8 1585.7 1649.1 1586.7C1648.5 1587.8 1646.1 1588.6 1644.8 1587.8C1643.4 1587.1 1641.7 1583.3 1641.1 1582.4 M1609.6 1606.3C1610.7 1605.8 1613.4 1603.0 1616.1 1603.0C1618.8 1603.0 1625.1 1605.0 1625.9 1606.3C1626.6 1607.6 1622.6 1609.8 1620.4 1610.7C1618.3 1611.5 1614.6 1612.0 1612.8 1611.3C1611.0 1610.6 1610.1 1607.1 1609.6 1606.3 M1550.9 1605.2C1551.6 1604.5 1552.7 1601.8 1555.2 1600.9C1557.8 1600.0 1563.2 1599.4 1566.1 1599.8C1569.0 1600.1 1571.3 1601.1 1572.6 1603.0C1573.9 1605.0 1574.1 1609.0 1573.7 1611.7C1573.3 1614.5 1572.1 1618.3 1570.4 1619.3C1568.8 1620.4 1566.1 1619.2 1563.9 1618.3C1561.7 1617.4 1559.6 1616.1 1557.4 1613.9C1555.2 1611.7 1552.0 1606.7 1550.9 1605.2 M1624.0 1545.0C1624.2 1545.1 1622.5 1544.8 1624.8 1545.4C1627.1 1546.1 1633.1 1548.0 1637.8 1548.7C1642.5 1549.4 1650.2 1549.6 1653.0 1549.8C1655.9 1550.0 1654.7 1549.9 1655.0 1549.9 M1531.3 1623.7L1531.7 1627.0 M1492.2 1659.6C1491.4 1658.8 1488.7 1657.4 1487.8 1655.2C1486.9 1653.0 1487.3 1649.4 1486.7 1646.5C1486.2 1643.6 1484.4 1640.4 1484.6 1637.8C1484.7 1635.3 1485.8 1632.7 1487.8 1631.3C1489.8 1629.9 1493.3 1629.6 1496.5 1629.6C1499.8 1629.5 1505.6 1630.7 1507.4 1630.9 M1470.4 1667.2C1469.9 1666.3 1468.1 1664.1 1467.2 1661.7C1466.3 1659.4 1465.0 1656.3 1465.0 1653.0C1465.0 1649.8 1468.4 1643.6 1467.2 1642.2C1465.9 1640.7 1460.1 1642.9 1457.4 1644.3C1454.7 1645.8 1451.1 1648.2 1450.9 1650.9C1450.7 1653.6 1454.9 1657.9 1456.3 1660.7C1457.8 1663.4 1459.0 1666.1 1459.6 1667.2 M1477.0 1679.1C1477.7 1678.7 1479.7 1676.5 1481.3 1676.5C1482.9 1676.5 1485.3 1677.6 1486.7 1679.1C1488.2 1680.7 1489.1 1683.5 1490.0 1685.7C1490.9 1687.8 1491.8 1691.1 1492.2 1692.2 M1475.9 1692.2C1477.1 1692.4 1481.1 1692.4 1483.5 1693.3C1485.8 1694.2 1489.6 1696.2 1490.0 1697.6C1490.4 1699.1 1487.8 1700.9 1485.7 1702.0C1483.5 1703.0 1478.4 1703.8 1477.0 1704.1 M1424.8 1667.2C1424.8 1665.7 1425.3 1661.2 1424.8 1658.5C1424.2 1655.8 1423.3 1653.0 1421.5 1650.9C1419.7 1648.7 1416.6 1646.2 1413.9 1645.4C1411.2 1644.7 1407.4 1645.3 1405.2 1646.5C1403.0 1647.8 1402.3 1651.2 1400.9 1653.0C1399.4 1654.9 1398.3 1656.5 1396.5 1657.4C1394.7 1658.3 1391.6 1657.4 1390.0 1658.5C1388.4 1659.6 1387.5 1662.3 1386.7 1663.9C1386.0 1665.5 1385.8 1667.5 1385.7 1668.3 M1357.4 1611.7C1359.0 1611.9 1364.5 1611.6 1367.2 1612.8C1369.9 1614.1 1371.3 1617.9 1373.7 1619.3C1376.1 1620.8 1378.6 1621.3 1381.3 1621.5C1384.0 1621.7 1387.5 1619.9 1390.0 1620.4C1392.5 1621.0 1395.4 1624.1 1396.5 1624.8 M1392.2 1627.0C1391.4 1627.7 1390.0 1628.8 1387.8 1631.3C1385.7 1633.8 1382.4 1638.9 1379.1 1642.2C1375.9 1645.4 1371.7 1648.3 1368.3 1650.9C1364.8 1653.4 1360.5 1655.2 1358.5 1657.4C1356.5 1659.6 1355.2 1662.1 1356.3 1663.9C1357.4 1665.7 1363.7 1666.4 1365.0 1668.3C1366.3 1670.1 1365.2 1672.6 1363.9 1674.8C1362.6 1677.0 1360.3 1679.1 1357.4 1681.3C1354.5 1683.5 1350.1 1685.8 1346.5 1687.8C1342.9 1689.8 1338.9 1691.1 1335.7 1693.3C1332.4 1695.4 1329.5 1698.2 1327.0 1700.9C1324.4 1703.6 1322.6 1707.2 1320.4 1709.6C1318.3 1711.9 1315.7 1714.3 1313.9 1715.0C1312.1 1715.7 1310.8 1715.5 1309.6 1713.9C1308.3 1712.3 1308.1 1707.0 1306.3 1705.2C1304.5 1703.4 1300.7 1703.8 1298.7 1703.0C1296.7 1702.3 1294.3 1702.3 1294.3 1700.9C1294.3 1699.4 1296.5 1696.0 1298.7 1694.3C1300.9 1692.7 1304.7 1691.8 1307.4 1691.1C1310.1 1690.4 1313.6 1691.3 1315.0 1690.0C1316.4 1688.7 1316.6 1685.8 1316.1 1683.5C1315.5 1681.1 1313.6 1678.0 1311.7 1675.9C1309.9 1673.7 1307.8 1671.7 1305.2 1670.4C1302.7 1669.2 1298.7 1669.3 1296.5 1668.3C1294.3 1667.2 1292.5 1665.5 1292.2 1663.9C1291.8 1662.3 1292.9 1659.2 1294.3 1658.5C1295.8 1657.8 1298.0 1658.3 1300.9 1659.6C1303.8 1660.8 1308.5 1664.3 1311.7 1666.1C1315.0 1667.9 1317.9 1669.5 1320.4 1670.4C1323.0 1671.3 1325.7 1673.0 1327.0 1671.5C1328.2 1670.1 1328.8 1664.8 1328.0 1661.7C1327.3 1658.7 1325.0 1655.6 1322.6 1653.0C1320.3 1650.5 1316.4 1648.3 1313.9 1646.5C1311.4 1644.7 1308.8 1643.8 1307.4 1642.2C1305.9 1640.5 1304.5 1637.8 1305.2 1636.7C1305.9 1635.7 1308.8 1635.8 1311.7 1635.7C1314.6 1635.5 1320.8 1635.7 1322.6 1635.7 M1393.3 1605.2C1394.2 1604.7 1396.9 1602.0 1398.7 1602.0C1400.5 1602.0 1403.6 1603.6 1404.1 1605.2C1404.7 1606.8 1403.4 1610.5 1402.0 1611.7C1400.5 1613.0 1396.9 1613.9 1395.4 1612.8C1394.0 1611.7 1393.6 1606.5 1393.3 1605.2 M1394.3 1628.0C1395.4 1627.7 1398.0 1627.0 1400.9 1625.9C1403.8 1624.8 1409.6 1621.5 1411.7 1621.5C1413.9 1621.5 1414.3 1624.4 1413.9 1625.9C1413.6 1627.3 1411.7 1629.5 1409.6 1630.2C1407.4 1630.9 1403.4 1630.6 1400.9 1630.2C1398.3 1629.9 1395.4 1628.4 1394.3 1628.0 M1430.2 1616.1C1431.1 1615.4 1433.3 1612.3 1435.7 1611.7C1438.0 1611.2 1442.0 1611.6 1444.3 1612.8C1446.7 1614.1 1449.1 1617.0 1449.8 1619.3C1450.5 1621.7 1450.0 1625.0 1448.7 1627.0C1447.4 1628.9 1444.5 1630.8 1442.2 1631.3C1439.8 1631.8 1436.6 1631.5 1434.6 1630.2C1432.6 1628.9 1430.9 1626.1 1430.2 1623.7C1429.5 1621.3 1430.2 1617.4 1430.2 1616.1 M1261.7 1646.5C1262.5 1645.6 1264.3 1642.2 1266.1 1641.1C1267.9 1640.0 1271.2 1639.1 1272.6 1640.0C1274.1 1640.9 1275.0 1644.5 1274.8 1646.5C1274.6 1648.5 1273.2 1650.9 1271.5 1652.0C1269.9 1653.0 1266.6 1653.5 1265.0 1652.6C1263.4 1651.7 1262.3 1647.5 1261.7 1646.5 M1245.0 1671.2C1245.3 1671.1 1245.9 1669.5 1246.5 1670.4C1247.1 1671.4 1247.6 1677.0 1248.7 1677.0C1249.8 1677.0 1251.2 1672.2 1253.0 1670.4C1254.9 1668.6 1257.4 1666.6 1259.6 1666.1C1261.7 1665.5 1263.9 1666.1 1266.1 1667.2C1268.3 1668.3 1270.8 1670.3 1272.6 1672.6C1274.4 1675.0 1277.0 1678.8 1277.0 1681.3C1277.0 1683.8 1274.8 1686.2 1272.6 1687.8C1270.4 1689.5 1267.2 1689.8 1263.9 1691.1C1260.7 1692.4 1256.2 1694.0 1253.0 1695.4C1249.9 1696.8 1246.3 1698.8 1245.0 1699.5 M1257.4 1702.0C1258.8 1701.8 1263.6 1701.6 1266.1 1700.9C1268.6 1700.1 1270.6 1698.0 1272.6 1697.6C1274.6 1697.2 1276.8 1697.1 1278.0 1698.7C1279.3 1700.3 1280.4 1705.6 1280.2 1707.4C1280.0 1709.2 1278.2 1709.9 1277.0 1709.6C1275.7 1709.2 1274.4 1706.3 1272.6 1705.2C1270.8 1704.1 1268.6 1703.4 1266.1 1703.0C1263.6 1702.7 1258.8 1703.0 1257.4 1703.0 M1253.0 1722.6C1254.3 1723.0 1259.2 1723.0 1260.7 1724.8C1262.1 1726.6 1262.6 1731.7 1261.7 1733.5C1260.8 1735.3 1256.3 1735.3 1255.2 1735.7 M1253.0 1754.1C1254.1 1754.3 1257.8 1754.3 1259.6 1755.2C1261.4 1756.1 1262.1 1759.7 1263.9 1759.6C1265.7 1759.4 1268.3 1755.6 1270.4 1754.1C1272.6 1752.7 1275.0 1750.9 1277.0 1750.9C1278.9 1750.9 1281.3 1752.0 1282.4 1754.1C1283.5 1756.3 1282.2 1761.7 1283.5 1763.9C1284.7 1766.1 1287.1 1766.8 1290.0 1767.2C1292.9 1767.5 1297.2 1766.4 1300.9 1766.1C1304.5 1765.7 1308.1 1765.4 1311.7 1765.0C1315.4 1764.6 1319.3 1764.8 1322.6 1763.9C1325.9 1763.0 1328.0 1760.7 1331.3 1759.6C1334.6 1758.5 1338.9 1758.7 1342.2 1757.4C1345.4 1756.1 1348.7 1751.6 1350.9 1752.0C1353.0 1752.3 1354.1 1756.5 1355.2 1759.6C1356.3 1762.6 1356.8 1766.4 1357.4 1770.4C1357.9 1774.4 1358.7 1779.1 1358.5 1783.5C1358.3 1787.8 1357.2 1792.2 1356.3 1796.5C1355.4 1800.9 1353.8 1806.7 1353.0 1809.6C1352.3 1812.5 1351.2 1813.4 1352.0 1813.9C1352.7 1814.5 1355.0 1813.9 1357.4 1812.8C1359.7 1811.7 1363.6 1810.1 1366.1 1807.4C1368.6 1804.7 1370.4 1800.9 1372.6 1796.5C1374.8 1792.2 1377.0 1784.9 1379.1 1781.3C1381.3 1777.7 1383.5 1776.2 1385.7 1774.8C1387.8 1773.3 1390.4 1772.2 1392.2 1772.6C1394.0 1773.0 1395.8 1774.8 1396.5 1777.0C1397.2 1779.1 1397.2 1783.1 1396.5 1785.7C1395.8 1788.2 1392.7 1789.6 1392.2 1792.2C1391.6 1794.7 1393.1 1799.4 1393.3 1800.9 M1392.2 1731.3C1393.6 1731.3 1399.2 1730.9 1400.9 1731.3C1402.5 1731.7 1402.7 1731.7 1402.0 1733.5C1401.2 1735.3 1398.9 1739.3 1396.5 1742.2C1394.2 1745.1 1390.4 1748.3 1387.8 1750.9C1385.3 1753.4 1381.3 1755.2 1381.3 1757.4C1381.3 1759.6 1385.3 1762.5 1387.8 1763.9C1390.4 1765.4 1394.3 1764.3 1396.5 1766.1C1398.7 1767.9 1400.3 1772.2 1400.9 1774.8C1401.4 1777.3 1400.0 1780.2 1399.8 1781.3 M1413.9 1741.1C1412.8 1741.6 1409.4 1743.1 1407.4 1744.3C1405.4 1745.6 1402.3 1746.2 1402.0 1748.7C1401.6 1751.2 1404.1 1755.9 1405.2 1759.6C1406.3 1763.2 1407.8 1766.8 1408.5 1770.4C1409.2 1774.1 1409.7 1778.0 1409.6 1781.3C1409.4 1784.6 1408.8 1787.5 1407.4 1790.0C1405.9 1792.5 1402.9 1794.7 1400.9 1796.5C1398.9 1798.3 1396.7 1798.0 1395.4 1800.9C1394.2 1803.8 1393.8 1810.3 1393.3 1813.9C1392.7 1817.5 1392.4 1821.2 1392.2 1822.6 M1281.3 1738.9C1282.0 1738.4 1284.0 1735.5 1285.7 1735.7C1287.3 1735.8 1290.9 1738.6 1291.1 1740.0C1291.3 1741.4 1288.4 1744.5 1286.7 1744.3C1285.1 1744.2 1282.2 1739.8 1281.3 1738.9 M1308.5 1746.5C1309.4 1745.8 1311.9 1742.7 1313.9 1742.2C1315.9 1741.6 1319.0 1742.2 1320.4 1743.3C1321.9 1744.3 1323.0 1746.9 1322.6 1748.7C1322.2 1750.5 1320.1 1753.4 1318.3 1754.1C1316.4 1754.9 1313.4 1754.3 1311.7 1753.0C1310.1 1751.8 1309.0 1747.6 1308.5 1746.5 M1349.8 1736.7C1350.3 1736.4 1351.8 1734.4 1353.0 1734.6C1354.3 1734.7 1357.0 1736.4 1357.4 1737.8C1357.8 1739.3 1356.3 1742.5 1355.2 1743.3C1354.1 1744.0 1351.8 1743.3 1350.9 1742.2C1350.0 1741.1 1350.0 1737.6 1349.8 1736.7 M1366.1 1735.7C1366.8 1734.9 1368.3 1732.0 1370.4 1731.3C1372.6 1730.6 1377.0 1730.4 1379.1 1731.3C1381.3 1732.2 1383.3 1734.2 1383.5 1736.7C1383.7 1739.3 1382.0 1744.2 1380.2 1746.5C1378.4 1748.9 1374.8 1750.3 1372.6 1750.9C1370.4 1751.4 1368.3 1751.2 1367.2 1749.8C1366.1 1748.3 1366.3 1744.5 1366.1 1742.2C1365.9 1739.8 1366.1 1736.7 1366.1 1735.7 M1302.0 1731.3L1304.1 1730.2 M1363.9 1708.5C1363.4 1709.4 1361.0 1712.6 1360.7 1713.9C1360.3 1715.2 1361.4 1714.8 1361.7 1716.1C1362.1 1717.4 1361.7 1720.4 1362.8 1721.5C1363.9 1722.6 1367.4 1722.4 1368.3 1722.6 M1292.2 1787.8C1293.3 1787.3 1295.4 1785.4 1298.7 1784.6C1302.0 1783.8 1307.0 1783.6 1311.7 1783.0C1316.4 1782.5 1322.2 1781.8 1327.0 1781.3C1331.7 1780.8 1337.3 1779.7 1340.0 1780.2C1342.7 1780.8 1342.9 1782.6 1343.3 1784.6C1343.6 1786.6 1343.8 1790.5 1342.2 1792.2C1340.5 1793.8 1337.1 1793.8 1333.5 1794.3C1329.9 1794.9 1324.1 1794.5 1320.4 1795.4C1316.8 1796.3 1314.3 1799.4 1311.7 1799.8C1309.2 1800.1 1307.4 1798.9 1305.2 1797.6C1303.0 1796.3 1300.9 1793.8 1298.7 1792.2C1296.5 1790.5 1293.3 1788.6 1292.2 1787.8 M1284.6 1790.0L1286.7 1793.3 M1245.0 1783.3C1245.3 1783.0 1244.8 1782.0 1246.5 1781.3C1248.2 1780.6 1252.0 1780.4 1255.2 1779.1C1258.5 1777.9 1262.8 1775.5 1266.1 1773.7C1269.3 1771.9 1272.4 1768.3 1274.8 1768.3C1277.1 1768.3 1280.0 1771.9 1280.2 1773.7C1280.4 1775.5 1277.5 1777.1 1275.9 1779.1C1274.2 1781.1 1271.7 1783.1 1270.4 1785.7C1269.2 1788.2 1268.3 1791.4 1268.3 1794.3C1268.3 1797.2 1269.2 1800.5 1270.4 1803.0C1271.7 1805.6 1273.7 1807.8 1275.9 1809.6C1278.0 1811.4 1280.8 1813.4 1283.5 1813.9C1286.2 1814.5 1289.3 1812.5 1292.2 1812.8C1295.1 1813.2 1297.6 1815.4 1300.9 1816.1C1304.1 1816.8 1308.1 1817.4 1311.7 1817.2C1315.4 1817.0 1319.3 1815.9 1322.6 1815.0C1325.9 1814.1 1329.1 1811.6 1331.3 1811.7C1333.5 1811.9 1334.9 1813.9 1335.7 1816.1C1336.4 1818.3 1334.9 1822.4 1335.7 1824.8C1336.4 1827.1 1337.8 1828.9 1340.0 1830.2C1342.2 1831.5 1345.8 1832.6 1348.7 1832.4C1351.6 1832.2 1354.9 1829.9 1357.4 1829.1C1359.9 1828.4 1361.7 1827.7 1363.9 1828.0C1366.1 1828.4 1368.3 1831.5 1370.4 1831.3C1372.6 1831.1 1374.8 1828.8 1377.0 1827.0C1379.1 1825.1 1381.3 1823.0 1383.5 1820.4C1385.7 1817.9 1388.2 1814.3 1390.0 1811.7C1391.8 1809.2 1393.6 1806.3 1394.3 1805.2 M1655.0 1549.9C1656.4 1549.8 1659.7 1549.4 1663.4 1549.3C1667.0 1549.3 1671.5 1548.7 1676.7 1549.3C1681.9 1550.0 1689.3 1552.3 1694.5 1553.4C1699.7 1554.4 1703.4 1556.0 1707.9 1555.6C1712.3 1555.2 1716.8 1552.3 1721.2 1551.1C1725.7 1549.9 1730.1 1549.0 1734.6 1548.5C1739.0 1547.9 1743.8 1547.0 1747.9 1547.8C1752.0 1548.6 1755.3 1551.5 1759.1 1553.4C1762.8 1555.2 1766.1 1557.4 1770.2 1558.9C1774.3 1560.4 1780.6 1560.8 1783.5 1562.3C1786.5 1563.7 1787.4 1565.6 1788.0 1567.8C1788.5 1570.0 1786.3 1573.4 1786.9 1575.6C1787.4 1577.8 1788.9 1579.3 1791.3 1581.2C1793.7 1583.0 1799.5 1585.1 1801.3 1586.7C1803.2 1588.4 1803.6 1589.9 1802.5 1591.2C1801.3 1592.5 1797.5 1594.2 1794.7 1594.5C1791.9 1594.9 1788.0 1594.5 1785.8 1593.4C1783.5 1592.3 1782.6 1589.3 1781.3 1587.9C1780.0 1586.4 1779.8 1584.9 1778.0 1584.5C1776.1 1584.1 1773.0 1584.1 1770.2 1585.6C1767.4 1587.1 1765.0 1591.2 1761.3 1593.4C1757.6 1595.6 1751.6 1597.1 1747.9 1599.0C1744.2 1600.8 1742.4 1603.1 1739.0 1604.5C1735.7 1606.0 1730.9 1606.4 1727.9 1607.9C1724.9 1609.4 1723.1 1611.0 1721.2 1613.4C1719.4 1615.9 1719.4 1619.9 1716.8 1622.4C1714.2 1624.8 1709.4 1626.1 1705.6 1627.9C1701.9 1629.8 1699.0 1632.0 1694.5 1633.5C1690.1 1635.0 1684.1 1635.9 1678.9 1636.8C1673.7 1637.7 1667.3 1638.0 1663.4 1639.0C1659.4 1640.1 1656.4 1642.2 1655.0 1642.9 M1655.0 1657.8C1655.3 1657.8 1655.7 1657.3 1656.7 1658.0C1657.7 1658.7 1660.8 1660.1 1661.1 1662.0C1661.5 1663.8 1659.9 1667.3 1658.9 1669.1C1657.9 1670.9 1655.7 1672.3 1655.0 1673.0 M1703.4 1680.2C1702.9 1678.4 1701.6 1672.1 1700.1 1669.1C1698.6 1666.1 1696.6 1665.0 1694.5 1662.4C1692.5 1659.8 1689.1 1656.3 1687.8 1653.5C1686.5 1650.7 1686.0 1647.8 1686.7 1645.7C1687.5 1643.7 1690.1 1641.5 1692.3 1641.3C1694.5 1641.1 1697.5 1643.3 1700.1 1644.6C1702.7 1645.9 1705.1 1649.4 1707.9 1649.1C1710.6 1648.7 1713.8 1645.0 1716.8 1642.4C1719.7 1639.8 1722.7 1636.4 1725.7 1633.5C1728.6 1630.5 1732.0 1626.8 1734.6 1624.6C1737.2 1622.4 1739.8 1620.1 1741.3 1620.1C1742.7 1620.1 1743.8 1622.7 1743.5 1624.6C1743.1 1626.4 1741.1 1629.0 1739.0 1631.3C1737.0 1633.5 1733.3 1635.0 1731.2 1637.9C1729.2 1640.9 1727.5 1645.5 1726.8 1649.1C1726.0 1652.6 1727.7 1656.8 1726.8 1659.1C1725.9 1661.3 1723.4 1662.2 1721.2 1662.4C1719.0 1662.6 1715.5 1659.4 1713.4 1660.2C1711.4 1660.9 1709.9 1663.5 1709.0 1666.9C1708.1 1670.2 1708.1 1678.0 1707.9 1680.2 M1727.9 1680.2C1728.0 1678.7 1727.8 1673.4 1728.3 1671.3C1728.9 1669.3 1729.8 1668.5 1731.2 1668.0C1732.6 1667.4 1735.3 1667.0 1736.8 1668.0C1738.3 1668.9 1739.6 1671.5 1740.1 1673.5C1740.7 1675.6 1740.1 1679.1 1740.1 1680.2 M1762.4 1611.2C1763.1 1609.9 1765.4 1605.7 1766.8 1603.4C1768.3 1601.2 1769.6 1598.6 1771.3 1597.9C1773.0 1597.1 1776.3 1597.5 1776.9 1599.0C1777.4 1600.5 1775.6 1604.4 1774.6 1606.8C1773.7 1609.2 1772.8 1612.1 1771.3 1613.4C1769.8 1614.7 1767.2 1614.9 1765.7 1614.6C1764.3 1614.2 1763.0 1611.8 1762.4 1611.2 M1820.6 1545.0C1820.7 1546.0 1821.1 1548.6 1821.4 1551.1C1821.7 1553.6 1821.4 1558.2 1822.5 1560.0C1823.6 1561.9 1825.6 1561.1 1828.1 1562.3C1830.5 1563.4 1834.0 1564.9 1837.0 1566.7C1839.9 1568.6 1844.4 1571.0 1845.9 1573.4C1847.3 1575.8 1846.4 1578.6 1845.9 1581.2C1845.3 1583.8 1842.5 1586.4 1842.5 1589.0C1842.5 1591.6 1844.4 1594.3 1845.9 1596.8C1847.3 1599.2 1850.2 1601.0 1851.4 1603.4C1852.6 1605.8 1853.5 1608.6 1853.0 1611.2C1852.4 1613.8 1850.4 1617.0 1848.1 1619.0C1845.8 1621.1 1842.5 1622.7 1839.2 1623.5C1835.8 1624.2 1831.4 1622.9 1828.1 1623.5C1824.7 1624.0 1821.4 1624.8 1819.2 1626.8C1816.9 1628.8 1816.2 1632.4 1814.7 1635.7C1813.2 1639.0 1810.8 1642.8 1810.2 1646.8C1809.7 1650.9 1810.6 1656.1 1811.4 1660.2C1812.1 1664.3 1814.9 1668.5 1814.7 1671.3C1814.5 1674.1 1812.3 1675.4 1810.2 1676.9C1808.2 1678.4 1804.3 1678.5 1802.5 1680.2C1800.6 1681.9 1798.9 1684.7 1799.1 1686.9C1799.3 1689.1 1801.9 1691.3 1803.6 1693.6C1805.2 1695.8 1808.4 1697.3 1809.1 1700.2C1809.9 1703.2 1809.0 1708.4 1808.0 1711.4C1807.1 1714.3 1805.4 1716.8 1803.6 1718.1C1801.7 1719.4 1798.7 1717.7 1796.9 1719.2C1795.0 1720.7 1792.8 1724.9 1792.4 1727.0C1792.1 1729.0 1792.8 1730.7 1794.7 1731.4C1796.5 1732.2 1800.2 1732.3 1803.6 1731.4C1806.9 1730.5 1811.5 1727.1 1814.7 1725.8C1817.9 1724.5 1820.5 1722.9 1822.5 1723.6C1824.5 1724.4 1825.6 1727.7 1826.9 1730.3C1828.2 1732.9 1828.6 1736.8 1830.3 1739.2C1831.9 1741.6 1834.4 1743.7 1837.0 1744.8C1839.6 1745.9 1842.9 1746.2 1845.9 1745.9C1848.8 1745.6 1851.8 1743.6 1854.8 1743.0C1857.7 1742.4 1860.7 1741.8 1863.7 1742.1C1866.6 1742.4 1870.4 1743.6 1872.6 1744.8C1874.7 1745.9 1876.4 1747.5 1876.6 1749.2C1876.8 1750.9 1875.8 1753.1 1873.7 1754.8C1871.5 1756.4 1866.8 1758.5 1863.7 1759.2C1860.5 1760.0 1857.7 1760.0 1854.8 1759.2C1851.8 1758.5 1848.5 1755.1 1845.9 1754.8C1843.3 1754.4 1841.8 1755.7 1839.2 1757.0C1836.6 1758.3 1832.9 1761.5 1830.3 1762.6C1827.7 1763.7 1826.2 1764.1 1823.6 1763.7C1821.0 1763.3 1817.7 1761.1 1814.7 1760.3C1811.7 1759.6 1808.4 1758.9 1805.8 1759.2C1803.2 1759.6 1799.9 1760.5 1799.1 1762.6C1798.4 1764.6 1800.6 1768.5 1801.3 1771.5C1802.1 1774.4 1802.5 1778.7 1803.6 1780.4C1804.7 1782.0 1805.4 1782.4 1808.0 1781.5C1810.6 1780.6 1815.4 1776.7 1819.2 1774.8C1822.9 1773.0 1827.3 1770.9 1830.3 1770.4C1833.2 1769.8 1835.2 1770.4 1837.0 1771.5C1838.7 1772.6 1841.0 1774.4 1841.0 1777.0C1841.0 1779.6 1839.1 1784.1 1837.0 1787.1C1834.8 1790.0 1831.4 1793.0 1828.1 1794.8C1824.7 1796.7 1820.3 1798.2 1816.9 1798.2C1813.6 1798.2 1810.1 1794.5 1808.0 1794.8C1806.0 1795.2 1805.4 1798.4 1804.7 1800.4C1803.9 1802.4 1805.2 1804.9 1803.6 1807.1C1801.9 1809.3 1797.6 1811.9 1794.7 1813.8C1791.7 1815.6 1788.0 1816.0 1785.8 1818.2C1783.5 1820.4 1782.1 1824.1 1781.3 1827.1C1780.6 1830.1 1781.5 1833.2 1781.3 1836.0C1781.1 1838.8 1780.4 1842.5 1780.2 1843.8 M1828.1 1671.3C1828.6 1670.8 1829.9 1668.3 1831.4 1668.0C1832.9 1667.6 1836.0 1667.6 1837.0 1669.1C1838.0 1670.6 1838.1 1675.2 1837.4 1676.9C1836.7 1678.5 1834.0 1679.2 1832.5 1679.1C1831.0 1679.0 1829.2 1677.5 1828.5 1676.2C1827.8 1674.9 1828.1 1672.1 1828.1 1671.3 M1823.4 1718.5L1823.8 1719.2 M1801.3 1843.8C1802.5 1843.1 1805.8 1840.3 1808.0 1839.4C1810.2 1838.4 1812.3 1837.5 1814.7 1838.2C1817.1 1839.0 1821.2 1842.9 1822.5 1843.8 M1829.2 1856.0C1830.8 1855.9 1836.4 1856.0 1839.2 1854.9C1842.0 1853.8 1843.6 1851.0 1845.9 1849.4C1848.1 1847.7 1849.9 1845.3 1852.5 1844.9C1855.1 1844.5 1858.1 1845.3 1861.4 1847.1C1864.8 1849.0 1868.9 1853.3 1872.6 1856.0C1876.3 1858.8 1880.4 1861.6 1883.7 1863.8C1887.0 1866.1 1889.6 1868.5 1892.6 1869.4C1895.6 1870.3 1898.2 1869.8 1901.5 1869.4C1904.8 1869.0 1910.0 1867.0 1912.6 1867.2C1915.2 1867.4 1915.2 1868.5 1917.1 1870.5C1918.9 1872.6 1921.2 1876.6 1923.8 1879.4C1926.4 1882.2 1930.4 1884.8 1932.7 1887.2C1934.9 1889.6 1936.0 1891.7 1937.1 1893.9C1938.2 1896.1 1937.9 1898.9 1939.3 1900.6C1940.8 1902.2 1943.8 1903.2 1946.0 1903.9C1948.2 1904.6 1950.1 1903.5 1952.7 1905.0C1955.3 1906.5 1958.6 1910.9 1961.6 1912.8C1964.6 1914.7 1967.9 1914.7 1970.5 1916.1C1973.1 1917.6 1974.9 1919.7 1977.2 1921.7C1979.4 1923.7 1981.3 1926.9 1983.9 1928.4C1986.4 1929.9 1989.4 1929.9 1992.8 1930.6C1996.1 1931.3 2000.2 1931.7 2003.9 1932.8C2007.6 1933.9 2010.9 1936.0 2015.0 1937.3C2019.1 1938.6 2023.9 1939.7 2028.4 1940.6C2032.8 1941.6 2037.6 1942.7 2041.7 1942.8C2045.8 1943.0 2049.1 1942.8 2052.8 1941.7C2056.6 1940.6 2060.7 1937.5 2064.0 1936.2C2067.2 1934.9 2071.0 1934.3 2072.4 1933.9 M1943.8 1807.1C1945.3 1807.3 1949.7 1807.3 1952.7 1808.2C1955.7 1809.1 1958.8 1811.0 1961.6 1812.6C1964.4 1814.3 1968.3 1816.5 1969.4 1818.2C1970.5 1819.9 1969.9 1821.5 1968.3 1822.7C1966.6 1823.8 1961.8 1823.8 1959.4 1824.9C1957.0 1826.0 1955.1 1827.1 1953.8 1829.3C1952.5 1831.6 1952.9 1835.6 1951.6 1838.2C1950.3 1840.8 1948.4 1843.5 1946.0 1844.9C1943.6 1846.3 1939.9 1847.1 1937.1 1846.7C1934.3 1846.3 1930.8 1844.5 1929.3 1842.7C1927.8 1840.9 1927.8 1838.2 1928.2 1836.0C1928.6 1833.8 1930.3 1831.2 1931.5 1829.3C1932.8 1827.5 1935.1 1827.1 1936.0 1824.9C1936.9 1822.7 1936.6 1818.6 1937.1 1816.0C1937.7 1813.4 1938.2 1810.8 1939.3 1809.3C1940.5 1807.8 1943.0 1807.5 1943.8 1807.1 M1884.8 1812.6C1885.3 1811.9 1886.8 1808.0 1887.7 1808.2C1888.6 1808.4 1890.0 1812.4 1889.9 1813.8C1889.8 1815.1 1887.9 1816.6 1887.0 1816.4C1886.2 1816.2 1885.2 1813.3 1884.8 1812.6 M1971.3 1545.0C1971.7 1546.0 1973.2 1547.9 1973.8 1551.1C1974.4 1554.4 1974.0 1561.1 1974.9 1564.5C1975.9 1567.8 1976.8 1569.7 1979.4 1571.2C1982.0 1572.6 1987.2 1572.8 1990.5 1573.4C1993.9 1573.9 1997.3 1573.4 1999.4 1574.5C2001.6 1575.6 2003.1 1577.3 2003.4 1580.1C2003.8 1582.8 2003.1 1588.2 2001.7 1591.2C2000.2 1594.2 1996.8 1596.2 1995.0 1597.9C1993.1 1599.5 1991.3 1599.5 1990.5 1601.2C1989.7 1602.9 1990.2 1606.8 1990.1 1607.9 M2029.5 1714.7C2030.8 1716.0 2035.2 1719.0 2037.3 1722.5C2039.3 1726.0 2041.3 1731.4 2041.7 1735.9C2042.1 1740.3 2039.7 1744.8 2039.5 1749.2C2039.3 1753.7 2040.8 1758.9 2040.6 1762.6C2040.4 1766.3 2039.5 1768.9 2038.4 1771.5C2037.3 1774.1 2034.9 1774.8 2033.9 1778.1C2032.9 1781.5 2032.6 1786.7 2032.4 1791.5C2032.2 1796.3 2032.8 1802.6 2032.8 1807.1C2032.8 1811.5 2032.4 1816.4 2032.4 1818.2 M2068.3 1545.0C2068.2 1546.4 2067.9 1549.0 2067.3 1553.4C2066.8 1557.7 2066.0 1565.2 2065.1 1571.2C2064.2 1577.1 2063.0 1583.8 2061.8 1589.0C2060.5 1594.2 2059.5 1599.0 2057.3 1602.3C2055.1 1605.7 2050.9 1607.3 2048.4 1609.0C2045.9 1610.7 2042.9 1610.9 2042.2 1612.3C2041.4 1613.8 2042.9 1615.9 2043.9 1617.9C2045.0 1619.9 2047.8 1621.2 2048.4 1624.6C2049.0 1627.9 2047.3 1632.7 2047.3 1637.9C2047.3 1643.1 2047.5 1649.8 2048.4 1655.7C2049.3 1661.7 2051.6 1666.9 2052.8 1673.5C2054.1 1680.2 2055.1 1688.4 2056.2 1695.8C2057.3 1703.2 2058.7 1710.6 2059.5 1718.1C2060.4 1725.5 2061.1 1732.9 2061.3 1740.3C2061.5 1747.7 2060.9 1755.5 2060.6 1762.6C2060.3 1769.6 2059.7 1779.3 2059.5 1782.6 M1692.3 1782.6C1692.7 1780.7 1693.8 1774.6 1694.5 1771.5C1695.3 1768.3 1695.4 1764.8 1696.7 1763.7C1698.0 1762.6 1700.6 1763.5 1702.3 1764.8C1704.0 1766.1 1706.4 1768.3 1706.8 1771.5C1707.1 1774.6 1706.0 1781.5 1704.5 1783.7C1703.0 1785.9 1699.9 1785.0 1697.9 1784.8C1695.8 1784.6 1693.2 1783.0 1692.3 1782.6 M1696.7 1742.5C1697.9 1742.9 1701.2 1744.7 1703.4 1744.8C1705.6 1744.8 1709.0 1743.3 1710.1 1743.0 M1655.0 1808.9C1655.3 1809.7 1655.8 1811.5 1656.7 1813.8C1657.5 1816.1 1658.5 1820.1 1660.0 1822.7C1661.5 1825.3 1663.5 1829.0 1665.6 1829.3C1667.6 1829.7 1670.2 1825.3 1672.3 1824.9C1674.3 1824.5 1676.0 1825.3 1677.8 1827.1C1679.7 1829.0 1681.0 1832.7 1683.4 1836.0C1685.8 1839.4 1688.9 1843.8 1692.3 1847.1C1695.6 1850.5 1700.1 1853.5 1703.4 1856.0C1706.8 1858.6 1709.7 1860.5 1712.3 1862.7C1714.9 1864.9 1717.9 1868.3 1719.0 1869.4 M1657.8 1839.4C1658.3 1838.4 1659.1 1833.6 1661.1 1833.8C1663.2 1834.0 1666.9 1837.7 1670.0 1840.5C1673.2 1843.2 1677.8 1847.7 1680.0 1850.5C1682.3 1853.3 1683.2 1854.9 1683.4 1857.2C1683.6 1859.4 1682.3 1862.2 1681.2 1863.8C1680.0 1865.4 1678.7 1867.7 1676.7 1866.7C1674.7 1865.8 1671.5 1861.2 1668.9 1858.3C1666.3 1855.4 1663.0 1852.5 1661.1 1849.4C1659.3 1846.2 1658.3 1841.0 1657.8 1839.4 M1764.6 1826.0C1765.4 1825.8 1768.1 1824.3 1769.1 1824.9C1770.0 1825.4 1770.7 1828.0 1770.2 1829.3C1769.6 1830.6 1767.0 1832.3 1765.7 1832.7C1764.4 1833.0 1762.6 1832.7 1762.4 1831.6C1762.2 1830.5 1764.3 1826.9 1764.6 1826.0 M1768.0 1791.5C1768.9 1790.9 1771.1 1789.0 1773.5 1788.2C1775.9 1787.3 1781.7 1786.2 1782.4 1786.6C1783.2 1787.0 1779.8 1789.3 1778.0 1790.4C1776.1 1791.5 1773.0 1793.1 1771.3 1793.3C1769.6 1793.5 1768.5 1791.8 1768.0 1791.5 M1778.0 1954.0C1779.3 1954.5 1782.6 1956.4 1785.8 1957.3C1788.9 1958.2 1795.0 1959.2 1796.9 1959.5"/>
<rect x="444.6" y="406.0" width="101.0" height="62.7" fill="#fff"/><text x="449.1" y="447.0" font-size="45">L</text><text x="477.6" y="456.3" font-size="26.5">1019</text>
<rect x="527.2" y="397.3" width="108.5" height="62.7" fill="#fff"/><text x="531.7" y="438.3" font-size="45">H</text><text x="567.7" y="447.6" font-size="26.5">1020</text>
<rect x="453.3" y="547.9" width="101.0" height="62.7" fill="#fff"/><text x="457.8" y="588.9" font-size="45">L</text><text x="486.3" y="598.2" font-size="26.5">1020</text>
<rect x="501.1" y="526.0" width="108.5" height="62.7" fill="#fff"/><text x="505.6" y="567.0" font-size="45">H</text><text x="541.6" y="576.3" font-size="26.5">1020</text>
<rect x="1210.0" y="298.3" width="101.0" height="62.7" fill="#fff"/><text x="1214.5" y="339.3" font-size="45">L</text><text x="1243.0" y="348.6" font-size="26.5">1006</text>
<rect x="1788.9" y="458.2" width="101.0" height="62.7" fill="#fff"/><text x="1793.4" y="499.2" font-size="45">L</text><text x="1821.9" y="508.5" font-size="26.5">1001</text>
<rect x="513.1" y="728.6" width="101.0" height="62.7" fill="#fff"/><text x="517.6" y="769.6" font-size="45">L</text><text x="546.1" y="778.9" font-size="26.5">1018</text>
<rect x="462.4" y="989.9" width="108.5" height="62.7" fill="#fff"/><text x="466.9" y="1030.9" font-size="45">H</text><text x="502.9" y="1040.2" font-size="26.5">1019</text>
<rect x="715.9" y="891.0" width="108.5" height="62.7" fill="#fff"/><text x="720.4" y="932.0" font-size="45">H</text><text x="756.4" y="941.3" font-size="26.5">1020</text>
<rect x="715.9" y="963.8" width="108.5" height="62.7" fill="#fff"/><text x="720.4" y="1004.8" font-size="45">H</text><text x="756.4" y="1014.1" font-size="26.5">1020</text>
<rect x="879.0" y="1281.8" width="108.5" height="62.7" fill="#fff"/><text x="883.5" y="1322.8" font-size="45">H</text><text x="919.5" y="1332.1" font-size="26.5">1019</text>
<rect x="955.7" y="1273.3" width="108.5" height="62.7" fill="#fff"/><text x="960.2" y="1314.3" font-size="45">H</text><text x="996.2" y="1323.6" font-size="26.5">1019</text>
<rect x="1549.4" y="1384.7" width="108.5" height="62.7" fill="#fff"/><text x="1553.9" y="1425.7" font-size="45">H</text><text x="1589.9" y="1435.0" font-size="26.5">1016</text>
<rect x="1716.6" y="1183.6" width="108.5" height="62.7" fill="#fff"/><text x="1721.1" y="1224.6" font-size="45">H</text><text x="1757.1" y="1233.9" font-size="26.5">1014</text>
<rect x="1965.8" y="1308.2" width="108.5" height="62.7" fill="#fff"/><text x="1970.3" y="1349.2" font-size="45">H</text><text x="2006.3" y="1358.5" font-size="26.5">1012</text>
<rect x="2012.6" y="1475.2" width="101.0" height="62.7" fill="#fff"/><text x="2017.1" y="1516.2" font-size="45">L</text><text x="2045.6" y="1525.5" font-size="26.5">1011</text>
<rect x="578.3" y="1861.6" width="101.0" height="62.7" fill="#fff"/><text x="582.8" y="1902.6" font-size="45">L</text><text x="611.3" y="1911.9" font-size="26.5">1015</text>
<rect x="703.3" y="1789.2" width="108.5" height="62.7" fill="#fff"/><text x="707.8" y="1830.2" font-size="45">H</text><text x="743.8" y="1839.5" font-size="26.5">1017</text>
<rect x="822.9" y="1599.0" width="108.5" height="62.7" fill="#fff"/><text x="827.4" y="1640.0" font-size="45">H</text><text x="863.4" y="1649.3" font-size="26.5">1018</text>
<rect x="1012.9" y="1633.8" width="108.5" height="62.7" fill="#fff"/><text x="1017.4" y="1674.8" font-size="45">H</text><text x="1053.4" y="1684.1" font-size="26.5">1016</text>
<rect x="1011.6" y="1711.0" width="101.0" height="62.7" fill="#fff"/><text x="1016.1" y="1752.0" font-size="45">L</text><text x="1044.6" y="1761.3" font-size="26.5">1013</text>
<rect x="1145.5" y="1702.3" width="108.5" height="62.7" fill="#fff"/><text x="1150.0" y="1743.3" font-size="45">H</text><text x="1186.0" y="1752.6" font-size="26.5">1019</text>
<rect x="947.0" y="1861.6" width="101.0" height="62.7" fill="#fff"/><text x="951.5" y="1902.6" font-size="45">L</text><text x="980.0" y="1911.9" font-size="26.5">1013</text>
<rect x="789.4" y="1789.2" width="108.5" height="62.7" fill="#fff"/><text x="793.9" y="1830.2" font-size="45">H</text><text x="829.9" y="1839.5" font-size="26.5">1018</text>
<rect x="1256.3" y="1574.0" width="101.0" height="62.7" fill="#fff"/><text x="1260.8" y="1615.0" font-size="45">L</text><text x="1289.3" y="1624.3" font-size="26.5">1014</text>
<rect x="1415.0" y="1711.0" width="101.0" height="62.7" fill="#fff"/><text x="1419.5" y="1752.0" font-size="45">L</text><text x="1448.0" y="1761.3" font-size="26.5">1010</text>
<rect x="1368.5" y="1666.4" width="108.5" height="62.7" fill="#fff"/><text x="1373.0" y="1707.4" font-size="45">H</text><text x="1409.0" y="1716.7" font-size="26.5">1018</text>
<rect x="1492.9" y="1632.7" width="108.5" height="62.7" fill="#fff"/><text x="1497.4" y="1673.7" font-size="45">H</text><text x="1533.4" y="1683.0" font-size="26.5">1017</text>
<rect x="1290.7" y="1883.3" width="101.0" height="62.7" fill="#fff"/><text x="1295.2" y="1924.3" font-size="45">L</text><text x="1323.7" y="1933.6" font-size="26.5">1009</text>
<rect x="1660.3" y="1681.5" width="101.0" height="62.7" fill="#fff"/><text x="1664.8" y="1722.5" font-size="45">L</text><text x="1693.3" y="1731.8" font-size="26.5">1012</text>
<rect x="1702.5" y="1890.7" width="101.0" height="62.7" fill="#fff"/><text x="1707.0" y="1931.7" font-size="45">L</text><text x="1735.5" y="1941.0" font-size="26.5">1010</text>
<rect x="1721.0" y="1844.0" width="108.5" height="62.7" fill="#fff"/><text x="1725.5" y="1885.0" font-size="45">H</text><text x="1761.5" y="1894.3" font-size="26.5">1014</text>
<rect x="2033.7" y="1783.9" width="101.0" height="62.7" fill="#fff"/><text x="2038.2" y="1824.9" font-size="45">L</text><text x="2066.7" y="1834.2" font-size="26.5">1011</text>
<g transform="translate(952.2 991.0) rotate(-76.3)"><rect x="-53.0" y="-22" width="106.1" height="44" fill="#fff"/><text x="0" y="16" font-size="45" text-anchor="middle">1018</text></g>
<g transform="translate(1510.9 759.8) rotate(37.7)"><rect x="-53.0" y="-22" width="106.1" height="44" fill="#fff"/><text x="0" y="16" font-size="45" text-anchor="middle">1010</text></g>
<g transform="translate(2000.7 1071.9) rotate(82.3)"><rect x="-53.0" y="-22" width="106.1" height="44" fill="#fff"/><text x="0" y="16" font-size="45" text-anchor="middle">1010</text></g>
<g transform="translate(841.0 1425.2) rotate(-13.7)"><rect x="-53.0" y="-22" width="106.1" height="44" fill="#fff"/><text x="0" y="16" font-size="45" text-anchor="middle">1018</text></g>
<g transform="translate(2002.4 1665.0) rotate(70.4)"><rect x="-53.0" y="-22" width="106.1" height="44" fill="#fff"/><text x="0" y="16" font-size="45" text-anchor="middle">1010</text></g>
<path class="cs" d="M427.2 324.1L436.3 325.7L445.0 320.9L450.4 320.2L452.6 323.5L454.8 319.8L460.2 319.3L461.3 315.4L475.4 315.4L483.0 322.0L489.6 326.3L501.5 323.5L509.1 327.4L516.7 328.5L523.3 332.2L533.0 332.8L537.4 330.7L543.9 334.3L549.3 331.7L557.0 332.8L562.4 338.3L566.1 345.9L565.7 353.5L566.7 362.2L561.3 368.7L555.9 374.1L549.3 379.6L545.0 387.2L540.7 393.7L541.7 400.2L538.5 405.7L530.9 414.3L528.0 418.7L527.6 426.3L522.2 433.9L514.6 440.4L507.0 445.9L503.7 454.6L496.1 462.2L487.4 466.5L483.0 472.0L477.6 472.0L463.5 469.8L452.6 475.7L446.1 478.5L440.7 476.3 M446.1 478.5L459.1 475.2L478.7 473.0L477.0 482.8L470.4 482.8L477.0 483.9L478.7 487.2L485.2 490.9L490.0 495.9L483.0 499.1L470.0 503.5L464.6 499.6L458.0 502.4L449.3 507.8L446.1 514.3L437.4 514.8L427.2 517.6 M427.2 518.7L433.0 521.3L443.9 522.0L449.3 527.4L461.3 526.7L466.7 520.2L477.6 519.1L483.0 524.1L487.4 528.5L499.3 539.3L511.3 541.5L513.5 549.1L518.9 562.2L526.5 575.2L532.0 574.8L530.9 581.7L539.1 588.3L540.7 599.1L540.0 608.9L537.4 611.1L539.1 620.9L537.4 629.6L540.0 638.3L536.3 639.3L540.7 642.6L540.0 651.3L545.0 660.0L541.7 659.6L547.2 665.4L545.4 677.4L548.3 690.4L554.8 699.1L553.0 704.6L555.9 707.8L550.0 711.1L557.0 709.6L567.8 714.3L580.9 719.8L585.2 724.1L585.6 725.0 M427.2 643.7L433.0 643.0L428.7 647.0L433.5 648.0L427.2 649.1 M489.1 506.1L490.2 507.4 M1086.5 314.8L1094.1 319.8L1103.9 324.1L1110.4 328.5L1112.6 319.8L1114.8 328.5L1131.1 319.8L1117.0 328.5L1109.3 333.9L1105.0 340.4L1110.4 347.0L1119.1 347.4L1118.0 341.5L1125.7 344.8L1122.4 333.9L1130.0 340.4L1134.3 342.6L1132.2 349.1L1136.5 356.7L1143.0 350.2L1151.7 351.3L1160.4 355.7L1167.0 360.0L1173.5 354.6L1182.2 350.2L1190.9 347.0L1197.4 342.6L1201.7 337.2L1199.6 330.7L1203.9 337.2L1212.6 331.7L1221.3 332.8L1227.8 325.2L1234.3 319.8L1240.9 315.4 M1119.1 336.1L1123.5 342.6L1128.9 339.3L1133.3 345.9L1138.7 353.5L1145.2 349.1L1153.9 353.5L1162.6 357.8L1169.1 358.9L1177.8 352.4L1186.5 349.1L1194.1 344.8L1199.6 340.4L1207.2 335.0L1217.0 333.9L1224.6 328.5L1231.1 323.0 M1245.0 464.5L1240.9 465.9L1232.2 463.9L1228.9 468.7L1219.1 483.9L1211.5 499.1L1207.2 512.2L1202.8 523.0L1200.7 533.9L1199.6 553.5L1199.1 570.9L1197.4 592.6L1199.6 607.8L1202.2 623.0L1199.6 631.7L1194.1 651.3L1199.6 655.7L1208.3 660.0L1212.6 668.7L1221.3 666.5L1227.8 664.3L1232.2 670.9L1234.3 679.6L1233.3 692.6L1234.3 707.8L1233.3 718.7L1232.7 725.0 M1207.2 512.2L1212.6 505.7L1217.0 516.5L1223.5 522.0L1227.8 518.7L1226.7 512.2L1224.6 505.7L1230.0 499.1L1236.5 490.4L1245.0 489.3 M1212.6 527.4L1219.1 524.1L1227.8 527.4L1232.2 520.9L1236.5 525.2L1240.9 533.9L1239.8 541.5L1234.3 542.6L1231.1 536.1L1233.3 529.6 M1209.3 522.0L1211.5 531.7L1213.7 527.4 M1245.0 489.3L1238.7 494.8L1234.3 503.5L1236.5 510.0L1232.2 514.3L1236.5 518.7L1244.1 514.3L1245.0 513.4 M1201.7 548.0L1208.3 549.1L1206.1 555.7L1212.6 562.2L1209.3 565.4L1202.8 561.1L1201.7 548.0 M1202.2 580.7L1206.1 577.4L1209.3 580.7L1205.7 584.3L1202.2 580.7 M1199.6 591.5L1202.8 587.2L1210.4 592.6L1217.0 611.1L1209.3 616.5L1202.8 619.8L1199.6 607.8 M1203.9 612.2L1207.2 616.5 M1206.1 648.0L1209.3 647.0L1211.5 649.1L1209.3 653.5L1212.6 660.0L1208.3 657.8L1206.1 648.0 M1213.7 663.3L1219.1 666.5L1221.3 677.4L1218.0 675.2L1213.7 663.3 M1223.5 685.0L1228.9 682.8L1226.7 687.2L1223.5 685.0 M1221.3 695.9L1226.7 693.7L1225.7 703.5L1224.6 712.2L1220.2 707.8L1221.3 695.9 M1211.5 720.9L1218.0 712.2L1212.6 723.0L1210.7 725.0 M1400.9 316.5L1411.7 323.0L1413.9 333.9L1410.7 342.6L1418.3 349.1L1420.4 360.0L1424.8 370.9L1429.1 375.2L1431.3 383.9L1427.0 388.3L1433.5 392.6L1435.7 401.3L1442.2 407.8L1448.7 418.7L1448.7 427.4L1455.2 436.1L1459.6 440.4L1463.9 451.3L1468.3 462.2L1474.8 473.0L1479.1 483.9L1487.8 490.4L1494.3 499.1L1500.9 510.0L1505.2 518.7L1511.7 517.6L1518.3 527.4L1519.3 538.3L1511.7 540.4L1503.0 539.3L1498.7 545.9L1500.9 551.3L1507.4 554.6L1512.8 563.3L1510.7 569.8L1503.0 568.7L1496.5 564.3L1487.8 560.0L1494.3 570.9L1500.9 583.9L1507.4 597.0L1516.1 610.0L1522.6 618.7L1524.8 627.4L1531.3 631.7L1529.1 640.4L1520.4 647.0L1524.8 662.2L1518.3 668.7L1516.1 670.9L1529.1 670.9L1544.3 673.0L1553.0 673.0L1566.1 666.5L1579.1 662.2L1587.8 660.0L1598.7 664.3L1609.6 665.4L1613.9 657.8L1619.3 651.3L1618.3 642.6L1609.6 631.7L1607.4 618.7L1608.5 607.8L1613.9 599.1L1622.6 588.3L1631.3 583.9L1640.0 579.6L1637.8 570.9L1646.5 568.7L1655.0 568.4 M1444.3 314.8L1440.0 323.0L1444.3 331.7L1440.0 342.6L1442.2 353.5L1435.7 364.3L1440.0 375.2L1435.7 383.9L1444.3 381.7L1440.0 392.6L1448.7 394.8L1444.3 403.5L1448.7 412.2L1453.0 423.0L1457.4 431.7L1461.7 440.4 M1405.2 315.4L1416.1 319.8L1420.4 329.6L1427.0 325.2L1431.3 318.7L1437.8 316.5L1433.5 329.6L1424.8 336.1L1420.4 342.6L1427.0 347.0L1435.7 344.8L1431.3 355.7L1424.8 360.0L1431.3 366.5L1435.7 373.0L1429.1 379.6L1427.0 386.1L1435.7 388.3L1442.2 397.0L1435.7 405.7L1444.3 410.0L1450.9 423.0L1457.4 427.4L1459.6 436.1 M1411.7 338.3L1420.4 340.4L1429.1 333.9L1435.7 338.3L1427.0 351.3L1431.3 360.0L1437.8 353.5L1433.5 368.7L1440.0 381.7L1431.3 397.0L1442.2 403.5 M1245.0 464.5L1253.0 460.0L1268.3 462.2L1283.5 460.0L1292.2 451.3L1300.9 438.3L1309.6 423.0L1320.4 408.9L1337.8 405.7L1348.7 399.1L1359.6 390.4L1367.2 390.9L1358.5 397.0L1353.0 407.8L1355.2 416.5L1359.6 425.2L1358.5 440.4L1359.6 451.3L1353.0 462.2L1347.6 470.9L1344.3 481.7L1338.9 481.7L1344.3 481.7L1342.2 494.8L1344.3 507.8L1345.4 514.3L1333.5 514.3L1337.8 517.6L1346.5 518.7L1346.5 525.2L1353.0 533.9L1359.6 538.3L1374.8 535.0L1381.3 537.2L1387.8 545.9L1385.7 553.5L1384.6 562.2L1379.1 570.9L1373.7 575.2L1371.5 582.8L1367.2 579.6L1368.3 573.0L1361.7 576.3L1358.5 569.8L1353.0 564.3L1348.7 566.5L1342.2 577.4L1338.9 583.9L1341.1 594.8L1342.2 605.7L1340.0 612.2L1333.5 613.3L1327.0 614.3L1315.0 617.6L1324.8 619.8L1329.1 623.0L1327.0 631.7L1323.7 636.1L1311.7 637.2L1303.0 633.9L1294.3 635.0L1305.2 640.4L1311.7 649.1L1309.6 655.7L1300.9 657.8L1292.2 660.0L1298.7 666.5L1305.2 666.5L1311.7 662.2L1315.0 655.7L1327.0 652.4L1335.7 649.1L1344.3 645.9L1353.0 653.5L1358.5 656.7L1357.4 664.3L1353.0 666.5L1361.7 668.7L1368.3 662.2L1370.4 649.1L1366.1 644.8L1372.6 655.7L1379.1 668.7L1382.4 683.9L1379.1 699.1L1374.8 707.8L1368.3 712.2L1361.7 714.3L1353.0 716.5L1342.2 712.2L1333.5 701.3L1327.0 703.5L1318.3 692.6L1311.7 679.6L1305.2 675.2L1298.7 683.9L1300.9 692.6L1296.5 699.1L1287.8 703.5L1292.2 712.2L1285.7 716.5L1296.5 716.5L1309.6 720.9L1310.6 725.0 M1245.0 478.9L1248.7 478.5L1253.0 486.1L1246.5 494.8L1245.0 495.8 M1259.6 466.5L1268.3 476.3L1279.1 479.6L1294.3 473.0L1309.6 470.9L1319.3 474.1L1309.6 477.4L1303.0 479.6L1296.5 488.3L1293.3 483.9L1283.5 477.4L1272.6 483.9L1270.4 494.8L1272.6 505.7L1268.3 516.5L1262.8 527.4L1268.3 529.6L1272.6 518.7L1279.1 527.4L1283.5 535.0L1277.0 536.1L1274.8 527.4 M1245.0 513.4L1248.7 510.0L1253.0 499.1L1261.7 501.3L1257.4 492.6 M1348.7 566.5L1355.2 563.3L1358.5 569.8L1350.9 574.1L1359.6 577.4L1361.7 586.1L1357.4 588.3L1355.2 580.7 M1379.1 448.0L1387.8 441.5L1402.0 439.3L1402.0 443.7L1394.3 451.3L1390.0 455.7L1385.7 449.1L1379.1 448.0 M1423.7 512.2L1434.6 508.9L1427.0 516.5L1423.7 512.2 M1361.7 419.8L1364.3 420.9 M1435.7 574.1L1438.9 575.7 M1492.2 542.6L1495.4 545.9L1493.3 543.7 M1375.9 581.7L1379.1 584.3 M1409.6 598.0L1416.1 602.4L1424.8 604.6L1427.0 612.2L1420.4 616.5L1413.9 618.7L1411.7 625.2L1405.2 629.6L1392.2 630.7L1383.5 629.6L1392.2 633.9L1396.5 640.4L1390.0 638.3 M1448.7 601.3L1457.4 594.8L1466.1 588.3L1474.8 582.8L1485.7 585.0L1494.3 586.1L1499.8 592.6L1496.5 601.3L1494.3 610.0L1498.7 620.9L1500.9 629.6L1505.2 636.1L1511.7 640.4L1509.6 633.9L1506.3 644.8L1498.7 649.1L1494.3 642.6L1492.2 647.0L1485.7 644.8L1479.1 651.3L1474.8 655.7L1473.7 662.2L1479.1 668.7L1487.8 670.9L1492.2 677.4L1490.0 686.1L1479.1 690.4L1470.4 695.9L1463.9 699.1L1467.2 705.7L1472.6 701.3L1473.7 710.0L1479.1 716.5L1487.8 717.6L1498.7 716.5L1499.8 723.0L1495.4 725.0 M1448.7 601.3L1457.4 603.5L1463.9 597.0L1469.3 601.3L1463.9 605.7L1459.6 603.5L1455.2 610.0L1457.4 616.5L1461.7 614.3L1461.7 623.0L1466.1 633.9L1462.8 638.3L1457.4 633.9L1455.2 640.4L1459.6 629.6L1453.0 620.9L1448.7 623.0L1444.3 631.7L1436.7 629.6L1444.3 627.4L1440.0 623.0L1433.5 624.1L1436.7 618.7L1444.3 616.5L1442.2 610.0L1436.7 605.7L1444.3 601.3 M1396.5 608.9L1405.2 616.5 M1374.8 604.6L1378.0 606.7 M1340.0 628.5L1345.4 625.2L1346.5 630.7L1340.0 628.5 M1359.6 599.1L1365.0 605.7L1370.4 612.2L1366.1 618.7L1361.7 612.2L1360.7 623.0L1365.0 627.4 M1392.2 638.3L1400.9 651.3L1405.2 660.0L1398.7 657.8L1407.4 668.7L1400.9 679.6L1411.7 690.4L1407.4 699.1L1400.9 697.0L1411.7 701.3L1422.6 701.3L1435.7 699.1L1444.3 697.0L1448.7 707.8L1457.4 716.5L1466.1 720.9L1477.0 718.7 M1365.0 644.8L1374.8 666.5L1380.2 683.9 M1283.5 716.5L1296.5 723.0L1311.7 716.5L1322.6 723.0L1335.7 718.7L1348.8 725.0 M1348.8 725.0L1361.7 720.9L1375.0 725.0 M1387.8 701.3L1381.3 716.5L1375.0 725.0 M1413.9 723.0L1424.8 718.7L1435.7 723.0L1446.5 716.5L1457.4 723.0L1468.3 716.5L1479.1 723.0 M1294.3 657.8L1303.0 662.2L1309.6 670.9L1316.1 679.6L1313.9 688.3 M1596.5 314.8L1592.2 327.4L1587.8 347.0L1585.7 360.0L1592.2 377.4L1598.7 373.0L1605.2 360.0L1611.7 342.6L1616.1 327.4L1618.3 316.5 M1596.5 351.3L1603.0 340.4L1598.7 352.4L1596.5 351.3 M1472.6 345.9L1474.8 338.3L1477.0 339.3L1473.7 347.0L1472.6 345.9 M1480.2 357.8L1482.4 349.1L1486.7 349.1L1481.3 357.8 M1471.5 376.3L1478.0 363.3L1482.4 364.3L1475.9 374.1L1471.5 376.3 M1533.5 400.2L1541.1 379.6L1540.0 392.6L1536.7 400.2L1533.5 400.2 M1466.1 424.1L1479.1 413.3L1481.3 414.8L1468.3 425.7L1466.1 424.1 M1559.6 479.6L1566.1 466.5L1572.6 464.3L1573.7 473.0L1570.4 488.3L1566.1 497.0L1561.7 494.8L1563.9 481.7L1559.6 479.6 M1583.5 470.9L1587.8 453.5L1590.0 466.5L1596.5 462.2L1592.2 477.4L1585.7 473.0L1583.5 470.9 M1553.0 481.7L1557.4 494.8 M1596.5 522.0L1598.7 507.8L1604.1 507.4L1600.9 520.9L1596.5 522.0 M1612.8 527.4L1616.1 520.9L1619.3 520.4L1617.2 527.4L1612.8 527.4 M1643.3 541.5L1644.3 536.1L1649.8 538.3L1643.3 541.5 M1607.4 564.3L1615.0 553.5L1613.9 562.2L1607.4 564.3 M1570.4 576.3L1573.7 574.1L1576.5 578.5L1572.6 580.0L1570.4 576.3 M1602.0 590.4L1605.2 589.3L1608.5 593.7L1605.2 596.5L1602.0 590.4 M1555.2 605.7L1561.7 606.7L1566.1 611.1L1561.7 613.3L1559.6 608.9L1555.2 605.7 M1610.7 575.2L1618.3 573.0L1624.8 574.1L1622.6 581.7L1616.1 582.8L1610.7 575.2 M1631.3 466.5L1637.8 468.7L1642.2 477.4L1637.8 475.2L1634.6 479.6L1631.3 466.5 M1634.6 505.7L1640.0 514.3L1644.3 518.7L1637.8 519.8L1633.5 516.5L1634.6 505.7 M1621.5 486.1L1624.8 497.0 M1625.9 500.2L1631.3 514.3 M1605.2 436.1L1609.6 449.1L1606.3 449.1L1603.0 438.3L1605.2 436.1 M1634.6 403.5L1638.9 401.3L1640.0 410.0L1636.7 410.0L1634.6 403.5 M1650.9 399.1L1655.0 401.1 M1646.5 444.8L1650.9 460.0 M1644.3 331.7L1648.7 349.1L1655.0 352.7 M1655.0 677.8L1649.8 674.1L1646.5 683.9L1647.6 694.8L1644.8 699.1L1653.0 703.5L1655.0 704.4 M1637.8 577.4L1644.3 583.9L1648.7 579.6L1653.0 586.1 M1781.3 414.6L1785.8 416.8L1788.0 421.3L1783.5 425.7L1781.3 434.6L1776.9 452.4L1773.5 465.8L1771.3 479.2L1768.0 494.7L1763.5 521.4L1759.1 543.7L1754.6 554.8L1751.3 558.2L1749.0 543.7L1747.9 530.3L1745.7 519.2L1750.2 499.2L1756.8 483.6L1765.7 461.3L1772.4 443.5L1775.8 425.7L1781.3 414.6 M1756.8 314.9L1754.6 327.8L1759.1 338.9L1754.6 354.5L1759.1 367.9L1754.6 383.4L1759.1 399.0L1754.6 414.6L1750.2 428.0L1745.7 439.1L1752.4 448.0L1747.9 459.1L1747.9 474.7L1745.7 488.1L1742.4 499.2L1739.0 510.3L1735.7 521.4L1732.4 534.8L1727.9 548.1L1726.8 554.8L1721.2 566.0L1716.8 574.9L1713.4 582.6 M1761.3 316.7L1747.9 330.0L1756.8 343.4L1743.5 354.5L1756.8 363.4L1747.9 374.5L1759.1 383.4L1745.7 392.4L1756.8 403.5L1745.7 416.8L1754.6 430.2L1745.7 443.5L1753.5 454.7L1745.7 465.8L1749.0 479.2L1743.5 492.5 M1757.9 323.4L1750.2 336.7L1757.9 350.1L1747.9 361.2L1757.9 374.5L1750.2 385.7L1756.8 394.6L1750.2 407.9L1752.4 421.3L1747.9 434.6L1750.2 452.4 M1655.0 568.4L1663.4 568.2L1678.9 569.3L1690.1 566.0L1697.9 561.5L1705.6 566.0L1712.3 570.4L1714.5 577.1L1703.4 574.9L1690.1 572.6L1683.4 568.2L1694.5 563.7L1705.6 570.4L1710.1 579.3 M1683.4 571.5L1694.5 568.2L1701.2 572.6L1707.9 566.0L1713.4 574.9 M1655.0 341.7L1656.7 338.9L1663.4 350.1L1665.6 361.2L1658.9 354.5L1655.0 352.7 M1691.2 344.5L1697.9 343.4L1704.5 345.6L1697.9 353.4L1691.2 344.5 M1713.4 376.8L1717.9 382.3L1715.7 384.6L1713.4 376.8 M1655.0 399.5L1658.9 400.1L1660.0 404.6L1655.0 401.1 M1734.6 354.5L1745.7 350.1L1741.3 361.2L1734.6 354.5 M1673.4 497.0L1677.8 493.6L1678.9 497.0L1673.4 497.0 M1656.7 497.0L1663.4 501.4L1661.1 503.6L1656.7 497.0 M1857.0 461.3L1863.7 459.1L1872.6 449.1L1867.0 445.8L1869.2 440.2L1864.8 438.0L1861.4 441.3L1857.0 430.2L1852.5 414.6L1849.2 399.0L1847.0 385.7L1850.3 376.8L1857.0 367.9L1863.7 352.3L1872.6 347.8L1877.0 338.9L1883.7 334.5L1890.4 338.9L1894.8 343.4L1901.5 336.7L1908.2 327.8L1914.9 323.4L1920.4 325.6L1914.9 331.1L1909.3 332.3L1907.1 341.2L1901.5 352.3L1894.8 359.0L1890.4 370.1L1889.3 381.2L1892.6 390.1L1901.5 392.4L1897.1 399.0L1892.6 410.2L1889.3 419.1L1881.5 425.7L1872.6 432.4L1867.0 438.0 M2072.4 365.6L2066.2 374.5L2062.9 387.9L2066.2 407.9L2064.0 421.3L2057.3 434.6L2048.4 445.8L2050.6 465.8L2048.4 483.6L2052.8 505.9L2057.3 523.7L2064.0 541.5L2068.4 561.5L2071.8 583.8L2072.4 599.3 M2057.3 519.2L2060.6 527.0L2058.4 523.7 M2072.4 619.4L2068.4 632.7L2061.8 650.5L2052.8 666.1L2043.9 675.0 M2072.4 626.0L2066.2 643.9L2057.3 659.4L2048.4 672.8 M2043.9 675.0L2028.4 675.0L2017.2 678.4L2007.2 679.5L2005.0 688.4L2008.3 699.5L2010.6 710.6L2006.1 721.8L2004.8 725.0 M2043.9 675.0L2057.3 675.0L2064.0 672.8L2072.4 677.2 M2010.6 710.6L2017.2 706.2L2028.4 708.4L2041.7 706.2L2037.3 710.6L2028.4 712.8L2019.5 717.3L2017.4 725.0 M1829.3 725.0L1837.0 721.8L1861.4 712.8L1883.7 708.4L1897.1 706.6L1908.2 710.6L1923.8 721.8L1928.4 725.0 M1922.5 725.0L1917.1 721.8L1906.0 715.1L1903.7 719.5L1907.6 725.0 M1878.1 714.0L1881.5 720.6L1879.7 717.3 M1655.0 677.8L1661.1 683.9L1676.7 690.6L1677.8 697.3L1672.3 708.4L1658.9 706.2L1655.0 704.4 M585.6 725.0L585.2 725.4L592.8 729.8L595.0 736.3L599.3 742.8L601.5 752.6L603.7 760.2L609.1 763.5L608.0 768.9L613.5 773.3L620.4 777.0L612.4 779.1L609.1 787.4L611.3 802.6L617.8 817.8L624.3 828.7L628.3 836.3L628.3 841.7L624.3 843.9L626.5 839.6L620.0 833.5L612.4 834.1L607.0 826.5L600.9 819.6L582.0 820.7L575.4 817.8L570.0 820.0L563.5 820.0 M570.0 822.2L567.8 827.6 M582.0 822.2L598.3 823.3L603.7 832.0L610.2 839.6L616.7 846.1L623.3 852.6L626.5 854.8L629.8 865.7L633.0 876.5L635.7 887.4L635.2 893.9L632.6 901.5L626.5 904.8L620.0 909.1L613.5 915.7L610.2 920.0L604.8 923.3L611.3 923.3L617.8 926.5L620.0 934.1L627.6 935.7L630.4 939.6L632.0 935.7L637.0 933.0L639.6 926.5L642.8 920.0L646.1 917.8L655.9 918.9L667.8 921.7L676.5 923.3L687.4 926.1L699.3 930.4L709.1 939.6L717.8 950.4L724.3 958.0L727.0 970.0L726.5 985.2L722.2 998.3L714.6 1009.1L712.4 1022.2L708.0 1033.0L699.3 1036.3L691.7 1043.9L686.3 1048.7L684.1 1041.7L677.6 1036.3L682.0 1045.0L667.8 1044.3L684.1 1046.1L683.0 1053.7L676.5 1054.8L684.1 1056.5L680.9 1061.3L670.0 1066.1L664.6 1065.2L660.2 1057.0L654.8 1063.5L650.4 1065.7L638.5 1067.8L643.9 1071.1L655.2 1067.8L655.9 1076.5L653.7 1082.0L648.3 1083.0L655.2 1083.5L650.4 1087.4L641.7 1092.8L626.5 1089.1L616.7 1092.2L614.6 1097.2L607.0 1097.2L601.5 1093.9L608.0 1098.3L615.7 1095.0L628.7 1096.1L641.7 1101.5L649.3 1107.0L651.5 1112.4L645.0 1113.0L637.4 1111.3L635.2 1104.8L628.7 1102.6L620.0 1105.9L628.7 1109.1L637.4 1107.0L647.2 1114.6L659.1 1113.0L672.2 1112.4L687.4 1113.5L688.5 1118.9L682.0 1121.1L683.0 1133.0L683.2 1135.0 M427.2 741.7L434.1 734.1L430.9 740.7L432.0 747.2L428.7 750.4 M814.5 1135.0L817.8 1134.1L835.0 1128.9 M835.0 1132.0L840.9 1130.9 M945.2 946.1L940.9 959.1L936.5 976.5L932.2 996.1L927.8 1011.3L921.3 1024.3L912.6 1037.4L901.7 1050.4L892.0 1061.3L884.3 1067.8L885.4 1076.5L888.7 1083.0L895.2 1088.5L903.9 1093.9L914.8 1099.3L923.5 1100.4L932.2 1098.3L938.7 1093.9L940.9 1099.3L932.2 1097.2L939.8 1089.6L925.7 1099.3 M885.4 1067.8L888.7 1063.5L892.0 1065.7 M871.3 1083.0L882.2 1080.9L890.9 1087.4L901.7 1093.9L910.4 1099.3L903.9 1103.7L895.2 1102.6L886.5 1097.2L877.8 1092.8L871.3 1083.0 M858.3 1093.9L867.0 1089.6L877.8 1093.9L888.7 1100.4L897.4 1104.8L890.9 1107.0L880.0 1104.8L869.1 1099.3L860.4 1099.3L858.3 1093.9 M837.6 1112.4L847.4 1105.9L862.6 1107.0L871.3 1113.5L867.0 1117.8L876.7 1122.2L886.5 1120.0L880.0 1111.3L884.3 1107.0L893.0 1113.5L896.3 1122.2L899.6 1126.5L897.4 1133.0L888.7 1132.0L875.7 1128.7L867.0 1126.5L860.4 1130.9L851.7 1128.7L845.2 1122.2L837.6 1112.4 M835.0 1128.9L843.0 1126.5L853.9 1133.0L857.0 1135.0 M872.3 1135.0L877.8 1133.0L883.0 1135.0 M945.2 946.1L944.1 938.5L949.6 930.9L957.2 924.3L960.4 930.9L956.1 937.4L948.5 945.0L945.2 946.1 M956.1 920.0L965.9 913.5L973.5 910.9L969.1 915.7L960.4 921.1L956.1 920.0 M978.9 901.5L982.2 898.7L995.2 896.1L1010.4 893.9L1003.9 897.2L990.9 900.4L981.1 905.9L978.9 901.5 M1011.5 893.9L1014.8 892.8L1025.7 895.0L1037.6 895.7L1025.7 898.3L1015.9 898.7L1011.5 893.9 M1047.4 895.0L1056.1 892.2L1064.8 891.7L1056.1 895.0L1048.5 897.8L1047.4 895.0 M1069.1 887.4L1075.7 889.1 M1080.0 888.5L1084.3 887.4 M1086.5 882.0L1094.1 879.8L1097.4 881.3L1090.9 886.3L1086.5 882.0 M1101.7 875.4L1107.2 874.8L1106.1 877.6L1101.7 875.4 M1121.3 870.0L1134.3 868.3L1143.0 867.8L1134.3 870.4L1122.4 872.2L1121.3 870.0 M1145.2 866.1L1156.1 864.6L1147.4 867.8L1145.2 866.1 M1160.4 863.5L1169.1 862.4L1162.6 865.2L1160.4 863.5 M1173.5 861.3L1181.1 863.5 M1190.9 870.0L1197.4 868.9L1193.0 872.2L1190.9 870.0 M948.5 945.0L953.9 952.6L958.3 959.1L969.1 961.3L972.4 965.7L971.3 973.3L977.8 976.5L984.3 978.7L984.8 984.1L980.0 986.3L975.7 990.7L969.1 991.7L963.7 989.6L964.8 998.3L968.0 1007.0L971.3 1012.4L964.8 1013.5L960.4 1020.0L955.0 1021.1L962.6 1024.3L969.1 1026.5L978.9 1028.7L971.3 1029.8L969.1 1021.1L977.8 1015.7L990.9 1008.0L995.2 1001.5L1001.7 997.2L1007.2 995.7L1003.9 989.6L1005.0 978.7L1010.4 970.0L1014.8 967.8L1013.7 962.4L1008.3 965.7L1001.7 967.8L995.2 965.7L990.9 961.3L995.2 957.0L994.1 943.9L989.8 939.6L993.0 935.2L997.4 923.3L1003.9 915.7L1011.5 911.3L1021.3 908.0L1031.1 904.3L1032.2 905.9L1049.6 902.6L1052.8 911.3L1057.2 909.1L1060.4 911.3L1056.1 903.7L1060.4 904.3L1075.7 900.9L1090.9 897.8L1099.6 899.3L1102.2 904.8L1103.9 912.4L1108.3 915.7L1114.8 917.8L1117.0 923.3L1124.6 926.5L1127.4 916.7L1134.3 917.8L1138.7 924.3L1139.8 929.8 M1111.5 913.5L1112.6 900.4L1113.7 893.9L1119.1 892.8L1120.2 887.4L1118.0 884.1L1122.4 879.8L1130.0 874.3L1138.7 873.3L1149.6 875.4L1160.4 872.2L1173.5 870.4L1183.3 871.1L1186.5 879.8L1189.8 880.9L1193.0 889.6L1194.8 896.1L1190.9 896.5L1186.5 897.2L1186.5 901.5L1192.0 902.6L1195.2 908.0L1199.6 909.1L1202.8 904.8L1199.6 893.9L1199.6 887.4L1202.8 884.1L1207.2 883.0L1212.6 887.4L1219.1 891.7L1223.0 895.0L1218.0 900.4L1218.0 913.5 M1218.0 891.7L1217.0 878.7L1221.3 865.7L1225.7 854.8L1230.0 850.4L1238.7 857.0L1245.0 857.2 M1210.7 725.0L1208.3 728.7L1206.1 739.6L1205.0 748.3L1208.3 733.0L1212.6 736.3L1221.3 733.0L1232.2 732.0 M1208.3 755.9L1214.8 749.3L1223.5 747.2L1227.8 752.6L1223.5 757.0L1214.8 755.9L1210.4 763.5L1206.1 759.1L1208.3 755.9 M1217.0 770.0L1219.1 780.9 M1221.3 768.9L1227.8 771.1 M1227.8 774.3L1232.2 771.1L1234.8 778.7L1230.0 779.8L1227.8 774.3 M1215.9 784.1L1219.1 783.0L1218.0 787.4L1215.9 784.1 M1236.5 761.3L1243.0 759.1 M1240.9 772.2L1245.0 769.5 M1245.0 787.7L1238.7 789.6L1230.0 793.9L1225.7 800.4L1232.2 802.6L1236.5 805.9L1245.0 804.1 M1245.0 809.3L1243.0 809.1L1242.0 815.7L1244.1 822.2L1245.0 822.4 M1243.0 835.2L1245.0 839.1 M1232.2 728.7L1236.5 741.7L1240.9 754.8L1245.0 763.0 M1174.6 813.9L1178.9 815.7 M1232.2 817.8L1234.3 820.0 M1230.0 830.9L1233.3 833.0 M1212.6 842.8L1219.1 848.3 M1180.0 934.1L1184.3 932.0 M1086.5 938.5L1088.7 936.3 M1095.2 921.1L1099.6 920.0 M1201.7 1012.4L1203.9 1017.8L1206.1 1014.6L1201.7 1012.4 M1031.1 934.1L1034.3 937.4 M1039.8 926.5L1043.0 932.0 M1001.7 949.3L1006.1 952.6 M1019.1 946.1L1023.5 947.2 M996.3 961.3L1003.9 955.9L1017.0 953.7 M1018.0 961.3L1025.7 960.2L1024.6 964.6L1018.7 965.2L1018.0 961.3 M1032.2 985.2L1044.1 983.0L1042.0 990.7L1034.3 987.4L1032.2 985.2 M1026.7 995.0L1035.4 991.7L1034.3 995.0L1027.8 997.2L1026.7 995.0 M1007.2 995.7L1014.8 999.3L1023.5 1000.0L1022.4 996.1L1010.4 995.0 M923.5 1038.5L928.9 1037.4 M935.4 1034.1L942.0 1033.0 M932.2 1040.7L936.5 1039.6 M955.0 1036.3L958.3 1037.4 M962.6 1033.0L967.0 1035.2 M960.4 1046.1L965.9 1041.7L966.5 1045.0L960.4 1046.1 M942.0 1048.3L945.2 1045.0 M945.2 1000.4L951.7 1003.7 M1283.5 741.7L1294.3 733.0L1299.8 726.5L1305.2 733.0L1313.9 738.5L1320.4 743.9L1323.7 750.4L1328.0 758.0L1327.0 770.0L1323.7 776.5L1313.9 783.0L1318.3 785.2L1327.0 782.0L1335.7 784.1L1337.8 791.7L1346.5 786.3L1357.4 790.7L1366.1 796.1L1370.4 799.3L1374.8 802.2L1381.3 799.3L1390.0 792.8L1398.7 792.8L1400.9 802.6L1402.0 813.5L1392.2 820.0L1385.7 826.5L1379.1 828.7L1378.0 834.1L1381.3 839.6L1385.7 846.1L1390.0 840.7L1398.7 837.4L1408.5 836.3L1412.8 843.9L1420.4 843.9L1427.0 850.4L1429.1 841.7L1431.3 835.2L1436.7 824.3L1440.0 818.9 M1283.5 741.7L1286.7 736.3L1297.6 729.8L1299.7 725.0 M1310.6 725.0L1311.7 728.7L1322.6 735.2L1329.1 734.1L1327.7 725.0 M1293.3 778.7L1303.0 776.5L1299.8 780.9L1293.3 778.7 M1305.2 773.3L1319.3 762.4L1309.6 771.1L1305.2 773.3 M1245.0 769.5L1248.7 770.0L1255.2 778.7L1248.7 785.2L1245.0 787.7 M1245.0 804.1L1250.9 801.5L1246.5 807.0L1245.0 809.3 M1245.0 822.4L1253.0 824.3L1255.2 830.9L1249.8 835.2L1245.0 837.1 M1245.0 839.1L1248.7 848.3L1257.4 850.4L1267.2 848.3L1263.9 852.6L1272.6 854.8L1279.1 859.1L1283.5 870.0L1292.2 880.9L1300.9 889.6L1311.7 893.9L1303.0 890.7L1294.3 885.2L1286.7 872.2L1280.2 863.5L1275.9 857.0L1263.9 854.8L1253.0 854.8L1245.0 857.2 M1347.6 725.0L1344.3 728.7L1353.0 737.4L1361.7 733.0L1370.4 741.7L1372.6 750.4L1379.1 741.7L1383.5 726.5L1384.0 725.0 M1347.6 725.0L1357.4 730.9L1368.3 726.5L1370.4 735.2 M1394.3 748.3L1393.3 739.6L1398.7 737.4L1396.5 728.7L1403.9 725.0 M1421.7 725.0L1429.1 728.7L1435.7 737.4L1444.3 733.0L1448.7 741.7L1455.2 750.4L1450.9 754.8L1448.7 761.3L1440.0 758.0L1434.6 760.2L1424.8 757.0L1411.7 752.6L1394.3 748.3 M1444.7 725.0L1448.7 733.0L1453.0 741.7L1457.4 752.6L1455.2 761.3L1461.7 771.1L1463.9 752.6L1470.4 741.7L1477.0 730.9L1480.3 725.0 M1480.3 725.0L1470.4 728.7L1461.7 726.5L1458.7 725.0 M1395.4 777.6L1398.7 774.3L1408.5 776.1L1412.8 779.8L1416.1 789.6L1407.4 790.7L1399.8 786.3L1395.4 783.0L1395.4 777.6 M1440.0 820.0L1453.0 818.9L1466.1 815.7L1473.7 813.5L1470.4 821.1L1472.6 825.4L1475.9 825.4 M1473.7 813.5L1479.1 807.0L1487.8 800.4L1493.3 791.7L1496.5 783.0L1499.8 778.7L1507.4 783.0L1518.3 783.0L1524.8 785.2L1527.0 778.7L1537.8 774.3 M1490.0 802.6L1494.3 807.0L1492.2 798.3L1500.9 791.7L1509.6 787.4L1520.4 789.6L1529.1 787.4 M1537.8 774.3L1540.0 763.5L1546.5 761.3L1548.7 754.8L1561.7 752.2L1559.6 761.3L1566.1 765.7L1574.8 762.4L1579.1 765.7L1578.0 776.5L1572.6 783.0L1579.1 789.6L1585.7 790.7L1582.4 796.1L1574.8 793.9L1566.1 795.0L1561.7 802.6L1555.2 800.4L1548.7 802.6L1543.3 798.3L1540.0 791.7L1541.1 785.2L1537.8 774.3 M1544.3 770.0L1553.0 759.1L1557.4 770.0L1563.9 774.3L1568.3 783.0L1563.9 789.6L1553.0 791.7L1546.5 785.2L1544.3 770.0 M1561.7 802.6L1559.6 811.3L1568.3 822.2L1574.8 817.8L1581.3 815.7L1587.8 822.2L1592.2 828.7L1598.7 833.0L1609.6 837.4L1622.6 841.7L1633.5 839.6L1642.2 833.0L1650.9 828.7L1655.0 827.5 M1553.0 804.8L1561.7 813.5L1566.1 809.1L1572.6 815.7L1579.1 811.3L1585.7 817.8 M1587.8 822.2L1596.5 837.4L1600.9 841.7L1593.3 846.1L1594.3 851.5L1605.2 847.2L1618.3 845.0L1629.1 850.4L1637.8 845.0L1648.7 846.1L1649.8 852.6L1646.5 861.3L1648.7 870.0L1650.9 876.5L1642.2 871.1L1631.3 863.5L1622.6 859.1L1613.9 862.4L1600.9 854.8L1594.3 851.5 M1592.2 830.9L1600.9 828.7L1605.2 837.4L1613.9 833.0L1618.3 841.7 M1596.5 841.7L1609.6 839.6L1622.6 846.1L1631.3 843.9 M1622.6 863.5L1627.0 861.3L1629.1 865.7L1622.6 863.5 M1655.0 833.3L1653.0 835.2L1652.0 846.1L1655.0 847.7 M1653.0 893.9L1655.0 885.7 M1655.0 898.8L1653.0 893.9 M1420.4 840.7L1429.1 830.9L1435.7 824.3L1437.8 828.7L1431.3 837.4L1427.0 843.9L1420.4 840.7 M1423.7 839.6L1434.6 827.6 M1305.2 792.8L1310.7 790.7 M1318.3 804.8L1323.7 802.6 M1340.0 811.3L1346.5 814.6 M1346.5 796.1L1347.6 801.5 M1350.9 800.4L1359.6 801.5L1358.5 804.8L1352.0 803.7L1350.9 800.4 M1348.7 822.2L1357.4 818.9L1368.3 817.8L1370.4 822.2 M1353.0 822.2L1354.1 828.7 M1349.8 839.6L1357.4 845.0 M1372.6 852.6L1373.7 855.9 M1375.9 865.7L1379.1 864.6L1380.2 874.3L1377.0 876.5L1375.9 865.7 M1385.7 882.0L1392.2 879.8L1391.1 891.7L1388.9 892.8L1385.7 882.0 M1424.8 865.7L1432.4 863.9L1429.1 870.0L1430.2 878.7L1433.5 886.3L1424.8 883.0L1427.0 874.3L1424.8 865.7 M1437.8 872.2L1440.0 873.3 M1442.2 886.3L1446.5 883.0 M1453.0 870.0L1457.4 872.2 M1460.7 878.7L1462.8 882.0 M1467.2 883.0L1475.9 882.0L1474.8 887.4 M1474.8 865.7L1481.3 862.4 M1484.6 876.5L1491.1 876.5L1487.8 880.9L1486.7 886.3 M1506.3 860.2L1510.7 861.3 M1506.3 876.5L1513.9 867.8L1509.6 875.4L1506.3 876.5 M1521.5 862.4L1527.0 852.6L1530.9 854.8L1524.8 863.5L1521.5 862.4 M1485.7 893.9L1491.1 896.1L1490.0 902.6L1487.8 909.1L1485.7 900.4L1485.7 893.9 M1497.6 896.1L1504.1 892.8L1513.9 893.9L1520.4 900.4L1523.7 907.0L1519.3 913.5L1515.0 909.1L1510.7 904.8L1508.5 898.3L1498.7 898.3 M1509.6 896.1L1511.7 904.8L1516.1 907.0 M1520.4 886.3L1523.7 889.6 M1524.8 909.1L1527.0 912.4 M1534.6 911.3L1535.7 920.0L1541.1 916.7 M1523.7 927.6L1528.0 930.4L1533.5 929.8 M1536.7 924.3L1539.6 927.6 M1538.9 935.2L1543.3 933.0L1541.1 937.4L1538.9 935.2 M1497.6 916.7L1499.8 918.3 M1504.1 921.1L1507.0 922.2 M1553.0 932.0L1556.3 933.0L1560.7 929.1 M1546.5 900.4L1553.0 888.5L1556.3 889.6L1549.8 901.5L1546.5 900.4 M1568.3 911.3L1572.6 909.1L1571.5 917.8L1568.3 911.3 M1575.9 905.9L1582.4 903.7 M1586.7 875.4L1590.0 878.7 M1633.5 880.9L1635.7 883.5 M1598.7 914.6L1602.0 920.0L1599.8 934.1L1598.7 928.7 M1650.9 917.8L1652.0 922.2 M1586.7 963.5L1594.3 953.7L1598.3 953.7L1592.2 962.4L1586.7 963.5 M1608.5 955.9L1611.7 954.3L1614.3 960.2L1610.7 961.7L1608.5 955.9 M1640.0 965.7L1643.3 964.6 M1485.7 986.3L1491.1 987.0L1487.8 989.1L1485.7 986.3 M1558.5 1005.9L1562.8 1001.5 M1549.8 1022.2L1556.3 1012.4L1558.5 1013.5L1554.1 1023.3L1549.8 1022.2 M1527.0 1016.7L1530.2 1019.6 M1533.5 1023.3L1538.9 1021.1L1541.1 1028.7L1545.4 1028.7L1538.9 1036.3L1535.7 1030.9L1533.5 1023.3 M1497.6 1027.6L1506.3 1025.4L1506.3 1030.9L1502.0 1032.0L1497.6 1027.6 M1516.1 1032.0L1518.3 1028.7 M1586.7 1017.8L1593.3 1017.4L1592.2 1020.4L1587.4 1020.4L1586.7 1017.8 M1602.0 1040.7L1605.2 1038.5 M1606.3 1042.8L1610.7 1041.7L1610.7 1048.3L1606.3 1042.8 M1617.2 1046.1L1621.5 1035.2L1619.3 1046.1L1617.2 1046.1 M1586.7 1057.0L1592.2 1052.2 M1609.6 1059.1L1613.9 1054.8 M1630.2 1057.0L1636.7 1059.1L1633.0 1067.8L1630.2 1057.0 M1647.6 1122.2L1652.0 1109.1L1649.8 1120.0L1647.6 1122.2 M1271.5 1021.1L1280.2 1017.4L1279.1 1023.3L1273.7 1024.3L1271.5 1021.1 M1655.0 827.8L1672.3 817.9L1694.5 807.9L1712.3 802.4L1734.6 793.4L1750.2 789.0L1759.1 780.1L1765.7 769.0L1774.6 755.6L1785.8 751.2L1801.3 745.6L1810.2 736.7L1819.2 730.0L1828.1 725.6L1829.3 725.0 M1745.7 789.0L1752.4 792.3L1757.9 786.8L1752.4 785.7 M1759.1 779.0L1765.7 776.8 M1828.1 726.7L1834.7 733.4L1841.4 726.7L1842.2 725.0 M1812.5 735.6L1819.2 734.5L1820.3 738.9L1814.7 740.0L1812.5 735.6 M1655.0 827.5L1658.9 826.8L1656.7 835.7L1655.0 834.1 M1655.0 827.8L1657.8 831.3L1655.0 833.3 M1907.6 725.0L1909.3 728.9L1913.7 733.4L1918.2 740.0L1919.3 748.9L1926.0 754.5L1934.9 757.8L1948.2 760.1L1961.6 757.8L1974.9 753.4L1986.1 746.7L1995.0 737.8L2001.7 728.9L2003.6 725.0 M1934.9 761.2L1950.5 760.1L1966.0 756.7L1981.6 750.0L1992.8 741.1L2000.5 731.1L2004.8 725.0 M1966.0 758.9L1969.4 765.6L1977.2 765.6L1979.4 761.2L1988.3 753.4L1997.2 746.7L2003.9 741.1L2015.0 731.1L2017.4 725.0 M1977.2 765.6L1977.2 771.2 M1928.4 725.0L1934.9 731.1L1931.5 726.7 M1800.2 783.4L1801.8 786.8 M1801.3 813.5L1803.6 816.8L1802.5 820.2 M1790.2 834.6L1796.9 832.4L1795.8 835.7L1790.2 834.6 M1798.0 844.6L1803.6 846.9L1798.0 851.3L1798.0 844.6 M1830.3 839.1L1833.6 844.6L1832.5 850.2 M1851.4 830.2L1854.8 835.7L1852.5 843.5L1855.9 840.2 M1858.1 807.9L1860.3 811.3L1857.0 813.5 M1877.0 807.9L1883.7 806.8L1879.2 816.8L1878.1 811.3 M1880.4 782.3L1890.4 767.9L1885.9 772.3L1879.2 783.4 M1861.4 789.0L1865.9 784.5 M1865.9 772.3L1869.2 781.2 M1853.7 774.5L1855.9 779.0 M1920.4 839.1L1924.9 840.2 M1981.6 782.3L1988.3 784.5L1987.2 789.0 M2025.0 796.8L2028.4 804.6L2026.1 800.1 M2008.3 806.8L2015.0 813.5 M2030.6 807.9L2040.6 817.9 M1996.1 814.6L2001.7 816.8 M1996.1 821.3L2001.7 819.0L2006.1 829.1L2001.7 835.7L1999.4 842.4 M1997.2 822.4L2003.9 831.3 M2026.1 820.2L2035.0 826.8 M2015.0 830.2L2023.9 827.9L2025.0 824.6 M2008.3 829.1L2012.8 824.6 M1971.6 829.1L1976.1 820.2L1973.8 825.7L1971.6 829.1 M2051.7 823.5L2059.5 821.9L2057.3 824.6L2051.7 823.5 M2065.1 805.7L2070.7 804.6 M2058.4 834.6L2066.2 830.2L2067.3 840.2L2061.8 835.7 M1993.9 849.1L1997.2 848.0L1996.1 851.3L1993.9 849.1 M2036.2 854.7L2040.6 860.2L2038.4 859.1 M1950.5 888.0L1952.7 891.8 M1750.2 864.7L1752.4 870.2 M1754.6 874.7L1761.3 864.7L1763.5 873.6L1756.8 869.1L1765.7 868.0 M1768.0 865.8L1776.9 865.1 M1781.3 865.8L1789.1 866.9 M1737.9 884.7L1749.0 890.3L1747.9 886.9L1740.1 883.6L1737.9 884.7 M1703.4 875.8L1710.1 882.5 M1714.5 891.4L1720.1 890.3 M1770.2 901.4L1774.6 908.1L1770.2 909.2L1770.2 901.4 M1655.0 885.7L1657.8 884.7L1658.9 895.8L1655.0 898.8 M1671.1 915.9L1675.6 905.8L1675.6 921.4L1672.3 921.4L1671.1 915.9 M1685.6 927.0L1692.3 930.3 M1657.8 939.2L1658.9 943.7 M1670.0 942.6L1678.9 948.1L1673.4 955.9L1675.6 944.8 M1697.9 949.2L1700.7 947.0 M1729.0 949.2L1735.7 945.9L1732.4 953.7L1729.0 949.2 M1879.2 944.8L1882.6 947.0L1880.4 950.4 M1894.8 964.8L1900.4 966.6 M1927.1 967.1L1931.5 971.5L1930.9 979.3L1927.8 974.8L1927.1 967.1 M1895.9 992.6L1899.3 998.2L1901.5 1003.8L1904.8 996.0L1900.4 994.9 M1960.5 1000.0L1962.7 997.1 M1734.6 1000.0L1739.0 998.2 M1793.6 996.0L1798.0 997.1L1796.9 999.3L1793.6 996.0 M1715.7 1033.8L1720.1 1038.3L1717.9 1036.0 M1753.5 1031.6L1756.8 1030.5L1755.1 1037.2L1753.5 1031.6 M1770.2 1050.5L1773.5 1042.7 M1762.4 1069.9L1771.3 1075.7L1765.7 1073.9L1762.4 1069.9 M427.2 1159.3L435.2 1160.4L439.6 1159.3L443.9 1161.5L449.3 1159.3L455.9 1164.8L452.6 1169.1L460.2 1169.1L471.1 1183.3L479.8 1182.2L484.1 1175.7L490.0 1173.5L487.4 1168.0L480.9 1164.8L474.3 1160.4L465.7 1162.6L458.0 1163.7L455.9 1160.4L463.5 1159.3L472.2 1158.3L476.5 1147.4L464.6 1140.9L473.3 1152.8L477.6 1159.3L485.2 1161.5L489.6 1158.3L485.2 1152.8L493.9 1156.1L498.3 1153.9L507.0 1158.3L511.3 1160.4L502.6 1162.6L511.3 1171.3L515.7 1167.0L530.9 1163.7L543.9 1165.9L552.6 1164.3L570.0 1171.3L589.6 1181.1L600.4 1172.4L611.3 1170.9L624.3 1168.7L632.0 1162.6L639.6 1164.8L647.2 1166.5L648.3 1156.1L653.7 1151.7L665.7 1149.6L672.2 1146.3L679.8 1144.1L683.0 1138.7L683.2 1135.0 M487.4 1156.1L498.3 1157.2L504.8 1161.5L509.1 1157.2L491.7 1153.9 M814.5 1135.0L807.0 1137.6L789.6 1147.4L776.5 1153.9L763.5 1159.3L746.1 1162.6L724.3 1165.9L707.0 1169.1L698.3 1174.6L691.7 1176.7L691.7 1186.5L689.6 1195.2L687.8 1206.1L689.1 1215.9L685.2 1225.7L685.2 1236.5L682.0 1245.2L684.1 1250.7L689.6 1258.3L683.0 1255.0L678.7 1253.9L672.2 1267.0L659.1 1274.6L648.3 1281.1L639.6 1285.4L630.9 1284.3L615.7 1287.6L600.4 1288.7L589.6 1293.0L578.7 1297.8L567.8 1301.7L562.4 1311.5L557.4 1322.4L559.1 1327.8L564.6 1330.0L572.2 1334.3L580.9 1333.3L589.6 1331.1 M572.2 1334.3L563.5 1335.4L557.0 1339.8L550.4 1344.1L541.7 1347.0L529.8 1347.4L517.8 1339.8L504.8 1336.5L491.7 1333.9L483.0 1331.1L477.6 1326.7L470.0 1325.2L464.6 1326.7L462.4 1332.2L460.2 1322.4L455.9 1312.6L452.6 1303.9L455.9 1299.6L459.1 1297.4L458.0 1286.5L441.7 1283.9L439.6 1287.6L430.9 1288.7L427.2 1287.0 M427.2 1406.1L432.0 1411.5 M857.0 1135.0L858.3 1136.5L869.1 1138.7L876.3 1135.0 M883.0 1135.0L888.7 1138.7L896.3 1138.7L895.8 1135.0 M872.3 1135.0L873.5 1135.4L876.3 1135.0 M1178.9 1137.6L1188.7 1138.7L1180.0 1139.8L1178.9 1137.6 M1076.7 1466.5L1082.2 1465.9L1081.7 1468.7L1077.4 1469.1L1076.7 1466.5 M872.4 1509.3L874.6 1502.2L879.6 1504.3L872.4 1509.3 M1452.6 1252.8L1455.7 1253.5L1454.1 1255.7L1452.6 1252.8 M1507.8 1309.3L1515.0 1303.9L1513.9 1305.7L1508.5 1310.0 M1644.8 1358.7L1647.0 1356.1L1648.7 1369.1 M1636.7 1460.0L1642.2 1463.7L1646.5 1461.5L1645.4 1469.1L1650.9 1468.0L1655.0 1475.3 M1655.0 1475.3L1652.0 1471.3L1644.3 1473.5L1642.2 1467.0L1638.9 1462.6 M1933.8 1196.8L1937.1 1195.0L1942.0 1196.3L1940.5 1199.0L1934.9 1199.4L1933.8 1196.8 M1859.2 1235.7L1864.8 1232.8L1868.1 1235.7L1864.1 1238.6L1859.2 1235.7 M1998.3 1286.9L2002.8 1283.1L2010.1 1283.1L2005.0 1288.0L1998.3 1286.9 M2031.7 1295.8L2032.8 1301.4 M2031.0 1308.1L2033.3 1304.7L2035.0 1307.6L2032.4 1310.7L2031.0 1308.1 M2061.8 1342.6L2068.4 1335.9L2065.8 1342.6L2061.8 1342.6 M1778.6 1342.6L1780.9 1341.0 M1830.9 1384.2L1831.4 1387.7 M1687.8 1406.0L1691.2 1405.5L1688.9 1412.7L1694.5 1417.1L1700.7 1419.3L1695.6 1420.5L1690.1 1417.1 M1655.0 1470.3L1657.8 1469.4 M1864.5 1545.0L1864.8 1539.5L1871.5 1536.9L1872.1 1544.0L1871.5 1545.0 M653.7 1778.0L655.9 1773.7L656.5 1777.0L653.7 1778.0 M427.2 1842.2L433.0 1846.5L437.0 1850.4L430.9 1848.7L427.2 1849.8 M826.5 1634.6L829.8 1638.9 M1003.9 1761.7L1010.4 1746.5L1019.1 1735.7L1027.8 1731.3L1038.7 1725.9L1049.6 1728.0L1060.4 1732.4L1070.2 1736.7L1072.4 1740.0L1065.9 1741.1L1056.1 1738.9L1045.2 1738.3L1035.4 1738.3L1030.0 1741.1L1023.5 1745.4L1017.0 1748.7L1011.5 1755.2L1006.1 1761.7L1003.9 1761.7 M1049.6 1693.3L1058.3 1685.7L1069.1 1677.0L1080.0 1668.3L1089.8 1665.0L1082.2 1674.8L1071.3 1684.6L1060.4 1692.2L1050.7 1694.8L1049.6 1693.3 M1086.5 1663.9L1093.0 1659.1L1100.7 1654.8L1098.5 1658.5L1094.1 1663.9L1086.5 1663.9 M1083.3 1679.1L1088.7 1675.9 M1021.3 1690.0L1025.2 1688.3 M1015.9 1713.9L1023.5 1706.3L1021.3 1709.6 M1002.8 1797.6L1005.0 1796.5L1006.5 1804.1L1010.0 1809.6L1008.3 1804.1 M976.1 1807.8L980.0 1817.2L978.9 1824.8L976.7 1813.9L976.1 1807.8 M969.1 1837.8L973.5 1835.2 M947.4 1848.7L951.7 1846.1 M1205.0 1630.2L1209.3 1638.9L1214.8 1644.3L1223.5 1648.7L1232.2 1649.8L1237.6 1647.6L1227.8 1645.4L1219.1 1642.2L1212.6 1636.7L1205.0 1630.2 M1177.8 1634.6L1180.4 1642.2 M1182.2 1646.5L1183.3 1650.9 M1171.3 1652.0L1175.7 1658.5 M1199.6 1653.0L1202.8 1652.0L1201.7 1661.7L1199.6 1658.5 M1214.8 1629.1L1218.0 1633.5 M1224.6 1630.2L1226.7 1633.0 M1223.5 1655.2L1226.7 1663.9 M1186.5 1670.4L1195.2 1663.9L1190.9 1672.6L1199.6 1674.8L1210.4 1672.6L1211.5 1683.5L1208.3 1679.1L1199.6 1678.0L1188.7 1675.9 M1175.7 1690.0L1182.2 1683.5 M1131.1 1702.0L1136.5 1709.6L1143.0 1711.7L1138.7 1712.8L1133.3 1708.5L1131.1 1702.0 M1151.7 1708.5L1162.6 1701.3L1164.8 1702.6L1153.9 1709.6L1151.7 1708.5 M1234.3 1596.1L1243.0 1592.2L1245.0 1593.5 M1238.7 1585.7L1245.0 1587.3 M1197.4 1799.8L1203.9 1795.4L1212.6 1790.0L1217.0 1778.0L1227.8 1773.7L1219.1 1779.1L1215.9 1792.2L1208.3 1799.8L1206.1 1808.5L1210.4 1817.2L1208.3 1824.8L1205.0 1819.3L1202.8 1810.7L1199.6 1804.1L1197.4 1799.8 M1230.0 1795.4L1236.5 1799.8L1243.0 1793.3L1245.0 1792.9 M1234.3 1796.5L1238.7 1804.1 M1190.9 1809.6L1193.0 1820.4 M1212.6 1815.0L1214.8 1819.3 M1219.1 1813.9L1222.4 1817.2 M1212.6 1821.5L1219.1 1822.6 M1158.3 1861.3L1161.5 1859.6L1162.6 1863.9L1158.3 1861.3 M1580.2 1827.0L1582.4 1820.4L1592.2 1817.2L1598.7 1818.3L1607.4 1822.6L1613.9 1819.3L1619.3 1812.8L1624.8 1815.0L1631.3 1821.5L1637.8 1829.1L1636.7 1833.5L1629.1 1837.8L1622.6 1844.3L1618.3 1848.7L1620.4 1857.4L1624.8 1870.4L1629.1 1883.5L1631.3 1896.5L1634.6 1909.6L1637.8 1920.4L1644.3 1931.3L1648.7 1942.2L1653.0 1948.7L1655.0 1949.6 M1580.2 1827.0L1577.0 1831.3L1566.1 1833.5L1561.7 1840.0L1553.0 1844.3L1544.3 1846.5L1537.8 1842.2L1531.3 1846.5L1522.6 1853.0L1513.9 1857.4L1511.7 1866.1L1506.3 1868.3L1505.2 1879.1L1509.6 1883.5L1513.9 1879.1L1518.3 1887.8L1519.3 1900.9L1520.4 1909.6L1522.6 1918.3L1529.1 1927.0L1531.3 1935.7L1527.0 1942.2L1520.4 1948.7L1516.1 1953.0L1512.8 1959.1 M1513.9 1859.6L1520.4 1855.2L1529.1 1848.7L1535.7 1844.3 M1506.3 1870.4L1511.7 1874.8L1518.3 1870.4L1520.4 1881.3 M1522.6 1920.4L1533.5 1929.1L1537.8 1937.8L1531.3 1944.3L1524.8 1948.7 M1509.6 1953.0L1515.0 1959.1 M1585.7 1822.6L1594.3 1820.4L1600.9 1824.8L1609.6 1820.4 M1637.8 1920.4L1641.1 1929.1L1646.5 1937.8 M1368.3 1848.7L1379.1 1840.0L1385.7 1827.0L1392.2 1811.7L1395.4 1807.4L1397.0 1810.7L1392.2 1824.8L1387.8 1837.8L1384.6 1848.7L1383.5 1859.6L1378.0 1857.4L1375.9 1853.0L1371.5 1857.4L1368.3 1848.7 M1246.5 1813.9L1250.9 1800.9L1259.6 1792.2L1263.9 1779.1L1270.4 1772.6L1275.9 1769.3L1268.3 1777.0L1267.2 1787.8L1263.9 1796.5L1268.3 1805.2L1273.7 1811.7L1275.9 1818.3L1270.4 1811.7L1263.9 1800.9L1258.5 1798.7L1253.0 1807.4L1248.7 1813.9 M1245.0 1792.9L1248.7 1790.0L1253.0 1792.2 M1257.4 1820.4L1266.1 1818.3L1274.8 1816.1 M1321.5 1834.6L1329.1 1831.3L1332.4 1820.4L1333.5 1827.0L1327.0 1835.7L1321.5 1834.6 M1361.7 1824.8L1368.3 1817.2 M1246.5 1577.0L1257.4 1585.7L1261.7 1596.5L1272.6 1603.0L1285.7 1597.6L1296.5 1605.2L1292.2 1609.6L1283.5 1603.0L1272.6 1607.4L1263.9 1603.0L1257.4 1594.3L1250.9 1583.5L1246.5 1577.0 M1245.0 1587.3L1248.7 1588.9L1253.0 1593.3L1245.0 1593.5 M1411.7 1548.7L1416.1 1545.4L1420.4 1546.5L1417.2 1560.7L1413.9 1557.4L1411.7 1548.7 M1427.0 1568.3L1432.4 1556.3L1432.4 1574.8L1428.0 1574.8L1427.0 1568.3 M1381.3 1605.2L1383.5 1597.6L1385.7 1598.7L1382.4 1605.2 M1415.0 1591.1L1419.3 1588.9 M1429.1 1596.1L1433.5 1594.8 M1461.7 1586.7L1466.1 1582.4L1465.0 1588.9 M1461.7 1613.9L1463.9 1622.6 M1500.9 1569.3L1505.2 1565.0 M1512.8 1567.2L1520.4 1560.7L1527.0 1561.7L1524.8 1567.2L1518.3 1571.5L1512.8 1567.2 M1543.3 1553.0L1547.6 1559.6 M1570.4 1555.2L1574.8 1550.9L1571.5 1553.0 M1575.9 1561.7L1581.3 1559.6 M1592.2 1567.2L1600.9 1572.6 M1595.4 1577.0L1603.0 1582.4 M1607.4 1572.6L1609.6 1557.4L1612.8 1555.2L1610.7 1568.3L1607.4 1572.6 M1627.0 1568.3L1629.1 1557.4L1628.0 1563.9 M1617.2 1594.3L1620.4 1600.9 M1563.9 1607.4L1566.1 1600.9 M1552.0 1629.1L1552.6 1633.5 M1611.7 1690.0L1622.6 1694.3 M1646.5 1707.4L1653.0 1703.0 M1366.1 1695.4L1368.3 1700.9L1367.2 1705.2 M1252.0 1658.5L1268.3 1660.7 M1299.8 1745.4L1307.4 1740.0 M1403.0 1777.0L1404.1 1779.1 M1518.3 1777.0L1520.4 1780.2 M1511.7 1772.6L1515.0 1774.8 M1427.0 1787.8L1429.1 1792.2 M1674.5 1867.2L1685.6 1861.6L1696.7 1863.8L1710.1 1867.2L1705.6 1871.6L1710.1 1878.3L1716.8 1883.9L1725.7 1887.2L1734.6 1891.7L1739.0 1900.6L1741.3 1913.9L1739.0 1927.3L1743.5 1940.6L1747.9 1951.8L1750.2 1959.5 M1685.6 1861.6L1683.4 1873.9L1678.9 1887.2L1674.5 1896.1L1676.7 1905.0L1670.0 1907.2L1667.8 1918.4L1662.2 1925.0L1658.9 1931.7L1655.0 1929.8 M1655.0 1905.0L1658.9 1905.0L1670.0 1902.8 M1685.6 1889.4L1690.1 1882.8L1696.7 1887.2L1701.2 1896.1L1705.6 1905.0L1703.4 1918.4L1707.9 1931.7L1703.4 1938.4L1697.9 1927.3L1694.5 1913.9L1690.1 1905.0L1685.6 1889.4 M1710.1 1871.6L1716.8 1876.1L1721.2 1882.8L1730.1 1889.4L1727.9 1896.1L1719.0 1893.9L1710.1 1891.7L1701.2 1893.9L1705.6 1887.2L1707.9 1878.3 M1716.8 1900.6L1725.7 1907.2L1732.4 1905.0L1730.1 1916.1L1734.6 1927.3L1739.0 1936.2L1732.4 1931.7L1725.7 1922.8L1721.2 1913.9L1716.8 1900.6 M1723.4 1936.2L1732.4 1945.1L1743.5 1954.0L1754.6 1959.5 M1725.7 1929.5L1736.8 1940.6L1747.9 1949.5L1761.3 1958.4 M1685.6 1947.3L1694.5 1940.6L1703.4 1947.3L1710.1 1951.8L1701.2 1954.0L1690.1 1956.2L1685.6 1947.3 M1690.1 1931.7L1696.7 1938.4 M1694.5 1959.5L1703.4 1954.0L1714.5 1956.2 M1917.1 1680.2L1917.1 1674.7L1928.2 1671.3L1937.1 1668.0L1948.2 1661.3L1959.4 1655.7L1966.0 1649.1L1977.2 1640.2L1976.1 1633.5L1983.9 1634.6L1989.4 1637.9L1981.6 1644.6L1970.5 1651.3L1961.6 1660.2L1950.5 1665.8L1941.6 1672.4L1932.7 1678.0L1923.8 1679.1L1917.1 1680.2 M1864.5 1545.0L1863.7 1548.9L1861.4 1562.3L1867.0 1567.8L1871.5 1568.9L1867.0 1562.3L1869.2 1551.1L1871.5 1545.0 M2017.2 1611.2L2025.0 1605.7 M1656.7 1712.5L1665.6 1709.2L1672.3 1711.4 M1695.6 1708.0L1705.6 1704.7 M2049.5 1937.3L2052.8 1940.6"/>
<path class="gr" d="M688.5 314L464.5 1959M1641.5 314L1752.2 1959M427 1850.4L478.7 1857.4L559 1867.8L637.4 1877L724.3 1887.8L830 1895.4L917 1900.4L1004 1906.3L1090.9 1910.7L1177.8 1913.5L1250 1915L1348.7 1915L1457.4 1910.6L1566 1907.4L1660 1905L1748 1900.1L1850.3 1890.5L1961.6 1879.4L2072.4 1869.4"/>

</svg>
<rect x="427.5" y="315" width="1645" height="1644.3" fill="none" stroke="#000" stroke-width="1.4"/>
<!-- INFO BOX -->
<rect x="1186.5" y="2109.5" width="886" height="65" fill="#fff" stroke="#808080" stroke-width="1"/>
<text x="1194" y="2152" font-size="45.2">pressure (hPa) from 1002 to 1020 by 2 hPa</text>
<!-- COLORBAR -->
<text x="1250" y="2259.5" font-size="57" text-anchor="middle">3h rainsum in (mm)</text>
<g stroke="#000" stroke-opacity="0.5" stroke-width="0.9">
<rect x="370.00" y="2295" width="135.38" height="65.2" fill="#fff"/>
<rect x="505.38" y="2295" width="135.38" height="65.2" fill="#fff"/>
<rect x="640.77" y="2295" width="135.38" height="65.2" fill="#98fb98"/>
<rect x="776.15" y="2295" width="135.38" height="65.2" fill="#7fff00"/>
<rect x="911.54" y="2295" width="135.38" height="65.2" fill="#32cd32"/>
<rect x="1046.92" y="2295" width="135.38" height="65.2" fill="#00ff00"/>
<rect x="1182.31" y="2295" width="135.38" height="65.2" fill="#008000"/>
<rect x="1317.69" y="2295" width="135.38" height="65.2" fill="#006400"/>
<rect x="1453.08" y="2295" width="135.38" height="65.2" fill="#ffff00"/>
<rect x="1588.46" y="2295" width="135.38" height="65.2" fill="#ffa500"/>
<rect x="1723.85" y="2295" width="135.38" height="65.2" fill="#ff4500"/>
<rect x="1859.23" y="2295" width="135.38" height="65.2" fill="#8b008b"/>
<rect x="1994.62" y="2295" width="135.38" height="65.2" fill="#0000ff"/>
</g>
<g class="ax" font-size="54" text-anchor="middle" style="font-size:59px">
<text x="505" y="2421">.1</text><text x="776" y="2421">.4</text><text x="1047" y="2421">1.6</text><text x="1318" y="2421">6.4</text><text x="1588" y="2421">25.6</text><text x="1859" y="2421">102.4</text>
</g>
</svg>
</body></html>
